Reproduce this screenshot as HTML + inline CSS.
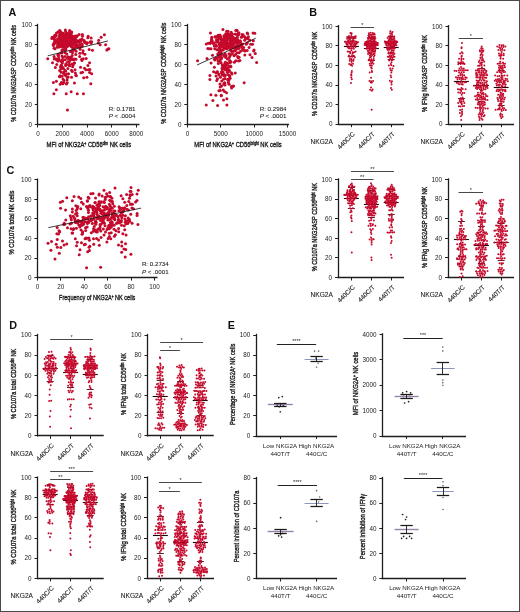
<!DOCTYPE html>
<html><head><meta charset="utf-8"><style>
html,body{margin:0;padding:0;background:#fff;}
svg{display:block;will-change:transform;font-family:"Liberation Sans", sans-serif;}
</style></head><body>
<svg width="520" height="612" viewBox="0 0 520 612">
<rect x="0.5" y="0.5" width="519" height="611" fill="#fff" stroke="#4a4a4a" stroke-width="1"/>
<text x="8.6" y="15.8" font-size="10.8" fill="#111" text-anchor="start" font-weight="bold">A</text>
<text x="309.2" y="15.9" font-size="10.8" fill="#111" text-anchor="start" font-weight="bold">B</text>
<text x="6.4" y="174.2" font-size="10.8" fill="#111" text-anchor="start" font-weight="bold">C</text>
<text x="9.3" y="329.1" font-size="10.8" fill="#111" text-anchor="start" font-weight="bold">D</text>
<text x="227.7" y="328.8" font-size="10.8" fill="#111" text-anchor="start" font-weight="bold">E</text>
<line x1="37.5" y1="23.8" x2="37.5" y2="125.1" stroke="#1e1e1e" stroke-width="1.3"/>
<line x1="34.8" y1="124.5" x2="37.8" y2="124.5" stroke="#1e1e1e" stroke-width="1.0"/>
<text x="31.9" y="126.75" font-size="6.3" fill="#1c1c1c" text-anchor="end">0</text>
<line x1="34.8" y1="104.5" x2="37.8" y2="104.5" stroke="#1e1e1e" stroke-width="1.0"/>
<text x="31.9" y="106.85" font-size="6.3" fill="#1c1c1c" text-anchor="end">20</text>
<line x1="34.8" y1="84.5" x2="37.8" y2="84.5" stroke="#1e1e1e" stroke-width="1.0"/>
<text x="31.9" y="86.95" font-size="6.3" fill="#1c1c1c" text-anchor="end">40</text>
<line x1="34.8" y1="64.5" x2="37.8" y2="64.5" stroke="#1e1e1e" stroke-width="1.0"/>
<text x="31.9" y="67.05" font-size="6.3" fill="#1c1c1c" text-anchor="end">60</text>
<line x1="34.8" y1="44.5" x2="37.8" y2="44.5" stroke="#1e1e1e" stroke-width="1.0"/>
<text x="31.9" y="47.15" font-size="6.3" fill="#1c1c1c" text-anchor="end">80</text>
<line x1="34.8" y1="25.5" x2="37.8" y2="25.5" stroke="#1e1e1e" stroke-width="1.0"/>
<text x="31.9" y="27.25" font-size="6.3" fill="#1c1c1c" text-anchor="end">100</text>
<line x1="37.2" y1="124.5" x2="139.5" y2="124.5" stroke="#1e1e1e" stroke-width="1.3"/>
<line x1="37.5" y1="124.5" x2="37.5" y2="127.5" stroke="#1e1e1e" stroke-width="1.0"/>
<text x="37.9" y="135.85" font-size="6.3" fill="#1c1c1c" text-anchor="middle">0</text>
<line x1="62.5" y1="124.5" x2="62.5" y2="127.5" stroke="#1e1e1e" stroke-width="1.0"/>
<text x="62.5" y="135.85" font-size="6.3" fill="#1c1c1c" text-anchor="middle">2000</text>
<line x1="87.5" y1="124.5" x2="87.5" y2="127.5" stroke="#1e1e1e" stroke-width="1.0"/>
<text x="87.1" y="135.85" font-size="6.3" fill="#1c1c1c" text-anchor="middle">4000</text>
<line x1="111.5" y1="124.5" x2="111.5" y2="127.5" stroke="#1e1e1e" stroke-width="1.0"/>
<text x="111.7" y="135.85" font-size="6.3" fill="#1c1c1c" text-anchor="middle">6000</text>
<line x1="136.5" y1="124.5" x2="136.5" y2="127.5" stroke="#1e1e1e" stroke-width="1.0"/>
<text x="136.3" y="135.85" font-size="6.3" fill="#1c1c1c" text-anchor="middle">8000</text>
<circle cx="57.46" cy="39.04" r="1.5" fill="#c40a2c"/>
<circle cx="73.29" cy="43.47" r="1.5" fill="#c40a2c"/>
<circle cx="56.71" cy="41.25" r="1.5" fill="#c40a2c"/>
<circle cx="69.6" cy="35.46" r="1.5" fill="#c40a2c"/>
<circle cx="57.52" cy="47.35" r="1.5" fill="#c40a2c"/>
<circle cx="71.23" cy="38.56" r="1.5" fill="#c40a2c"/>
<circle cx="77.13" cy="36.03" r="1.5" fill="#c40a2c"/>
<circle cx="65.46" cy="42.28" r="1.5" fill="#c40a2c"/>
<circle cx="84.53" cy="42.36" r="1.5" fill="#c40a2c"/>
<circle cx="60.59" cy="46.58" r="1.5" fill="#c40a2c"/>
<circle cx="66.87" cy="40.2" r="1.5" fill="#c40a2c"/>
<circle cx="63.73" cy="41.23" r="1.5" fill="#c40a2c"/>
<circle cx="68.14" cy="37.48" r="1.5" fill="#c40a2c"/>
<circle cx="74.01" cy="39.88" r="1.5" fill="#c40a2c"/>
<circle cx="53.42" cy="37.43" r="1.5" fill="#c40a2c"/>
<circle cx="56.06" cy="41.77" r="1.5" fill="#c40a2c"/>
<circle cx="55.68" cy="40.91" r="1.5" fill="#c40a2c"/>
<circle cx="60.64" cy="39.86" r="1.5" fill="#c40a2c"/>
<circle cx="65.84" cy="36.73" r="1.5" fill="#c40a2c"/>
<circle cx="56.75" cy="42.35" r="1.5" fill="#c40a2c"/>
<circle cx="70.92" cy="41.38" r="1.5" fill="#c40a2c"/>
<circle cx="68.83" cy="40.41" r="1.5" fill="#c40a2c"/>
<circle cx="59.01" cy="38.12" r="1.5" fill="#c40a2c"/>
<circle cx="60.4" cy="31.61" r="1.5" fill="#c40a2c"/>
<circle cx="62.59" cy="37.51" r="1.5" fill="#c40a2c"/>
<circle cx="66.21" cy="36.18" r="1.5" fill="#c40a2c"/>
<circle cx="61.89" cy="35.95" r="1.5" fill="#c40a2c"/>
<circle cx="65.31" cy="34.64" r="1.5" fill="#c40a2c"/>
<circle cx="70.64" cy="40.22" r="1.5" fill="#c40a2c"/>
<circle cx="60.62" cy="37.1" r="1.5" fill="#c40a2c"/>
<circle cx="69.53" cy="32.75" r="1.5" fill="#c40a2c"/>
<circle cx="63.5" cy="38.16" r="1.5" fill="#c40a2c"/>
<circle cx="69.81" cy="39.51" r="1.5" fill="#c40a2c"/>
<circle cx="67.68" cy="40.01" r="1.5" fill="#c40a2c"/>
<circle cx="61.92" cy="45.97" r="1.5" fill="#c40a2c"/>
<circle cx="63.36" cy="37.98" r="1.5" fill="#c40a2c"/>
<circle cx="76.97" cy="36.06" r="1.5" fill="#c40a2c"/>
<circle cx="73.7" cy="37.05" r="1.5" fill="#c40a2c"/>
<circle cx="71.17" cy="40.01" r="1.5" fill="#c40a2c"/>
<circle cx="71.69" cy="32.1" r="1.5" fill="#c40a2c"/>
<circle cx="63.85" cy="44.37" r="1.5" fill="#c40a2c"/>
<circle cx="80.17" cy="39.7" r="1.5" fill="#c40a2c"/>
<circle cx="73.12" cy="36.57" r="1.5" fill="#c40a2c"/>
<circle cx="58.09" cy="32.09" r="1.5" fill="#c40a2c"/>
<circle cx="67.45" cy="37.18" r="1.5" fill="#c40a2c"/>
<circle cx="67.1" cy="45.32" r="1.5" fill="#c40a2c"/>
<circle cx="65.39" cy="39.06" r="1.5" fill="#c40a2c"/>
<circle cx="74.15" cy="37.39" r="1.5" fill="#c40a2c"/>
<circle cx="66.61" cy="34.18" r="1.5" fill="#c40a2c"/>
<circle cx="60.76" cy="36.98" r="1.5" fill="#c40a2c"/>
<circle cx="74.12" cy="42.37" r="1.5" fill="#c40a2c"/>
<circle cx="53.42" cy="45.43" r="1.5" fill="#c40a2c"/>
<circle cx="67.88" cy="38.29" r="1.5" fill="#c40a2c"/>
<circle cx="77.23" cy="45.92" r="1.5" fill="#c40a2c"/>
<circle cx="66.2" cy="37.69" r="1.5" fill="#c40a2c"/>
<circle cx="65.07" cy="52.71" r="1.5" fill="#c40a2c"/>
<circle cx="71.94" cy="35.92" r="1.5" fill="#c40a2c"/>
<circle cx="59.65" cy="42.97" r="1.5" fill="#c40a2c"/>
<circle cx="67.77" cy="37.85" r="1.5" fill="#c40a2c"/>
<circle cx="67" cy="33.17" r="1.5" fill="#c40a2c"/>
<circle cx="65.61" cy="31.66" r="1.5" fill="#c40a2c"/>
<circle cx="61.3" cy="43.28" r="1.5" fill="#c40a2c"/>
<circle cx="71.33" cy="33.83" r="1.5" fill="#c40a2c"/>
<circle cx="70.86" cy="39.42" r="1.5" fill="#c40a2c"/>
<circle cx="53.19" cy="44.47" r="1.5" fill="#c40a2c"/>
<circle cx="61.83" cy="43.57" r="1.5" fill="#c40a2c"/>
<circle cx="70.37" cy="42.59" r="1.5" fill="#c40a2c"/>
<circle cx="71.81" cy="40.51" r="1.5" fill="#c40a2c"/>
<circle cx="63.82" cy="40.33" r="1.5" fill="#c40a2c"/>
<circle cx="69.25" cy="36.65" r="1.5" fill="#c40a2c"/>
<circle cx="62.78" cy="42.08" r="1.5" fill="#c40a2c"/>
<circle cx="56.46" cy="32.94" r="1.5" fill="#c40a2c"/>
<circle cx="76.55" cy="41.81" r="1.5" fill="#c40a2c"/>
<circle cx="62.78" cy="47.07" r="1.5" fill="#c40a2c"/>
<circle cx="67.4" cy="39.89" r="1.5" fill="#c40a2c"/>
<circle cx="81.75" cy="39.69" r="1.5" fill="#c40a2c"/>
<circle cx="60.64" cy="53.08" r="1.5" fill="#c40a2c"/>
<circle cx="76.24" cy="39.98" r="1.5" fill="#c40a2c"/>
<circle cx="54.71" cy="40.02" r="1.5" fill="#c40a2c"/>
<circle cx="54.71" cy="35.35" r="1.5" fill="#c40a2c"/>
<circle cx="70.27" cy="41.79" r="1.5" fill="#c40a2c"/>
<circle cx="65.29" cy="48.65" r="1.5" fill="#c40a2c"/>
<circle cx="70.44" cy="51.56" r="1.5" fill="#c40a2c"/>
<circle cx="59.71" cy="34.85" r="1.5" fill="#c40a2c"/>
<circle cx="77.92" cy="46.8" r="1.5" fill="#c40a2c"/>
<circle cx="55.25" cy="36.55" r="1.5" fill="#c40a2c"/>
<circle cx="72.28" cy="45.83" r="1.5" fill="#c40a2c"/>
<circle cx="61.24" cy="44.37" r="1.5" fill="#c40a2c"/>
<circle cx="57.7" cy="44.3" r="1.5" fill="#c40a2c"/>
<circle cx="75.11" cy="37.49" r="1.5" fill="#c40a2c"/>
<circle cx="80.86" cy="41.35" r="1.5" fill="#c40a2c"/>
<circle cx="65.22" cy="45.81" r="1.5" fill="#c40a2c"/>
<circle cx="65.31" cy="47.45" r="1.5" fill="#c40a2c"/>
<circle cx="53.51" cy="37.45" r="1.5" fill="#c40a2c"/>
<circle cx="76.46" cy="36.76" r="1.5" fill="#c40a2c"/>
<circle cx="75.7" cy="39.66" r="1.5" fill="#c40a2c"/>
<circle cx="61.07" cy="40.49" r="1.5" fill="#c40a2c"/>
<circle cx="63.52" cy="46.45" r="1.5" fill="#c40a2c"/>
<circle cx="54.12" cy="48.3" r="1.5" fill="#c40a2c"/>
<circle cx="66.15" cy="40.17" r="1.5" fill="#c40a2c"/>
<circle cx="62.8" cy="33.81" r="1.5" fill="#c40a2c"/>
<circle cx="67.47" cy="38.02" r="1.5" fill="#c40a2c"/>
<circle cx="74.88" cy="45" r="1.5" fill="#c40a2c"/>
<circle cx="52.14" cy="37.18" r="1.5" fill="#c40a2c"/>
<circle cx="61.28" cy="34.4" r="1.5" fill="#c40a2c"/>
<circle cx="68.6" cy="35.91" r="1.5" fill="#c40a2c"/>
<circle cx="71.64" cy="51.27" r="1.5" fill="#c40a2c"/>
<circle cx="71.32" cy="44.27" r="1.5" fill="#c40a2c"/>
<circle cx="60.8" cy="43.08" r="1.5" fill="#c40a2c"/>
<circle cx="71.67" cy="36.52" r="1.5" fill="#c40a2c"/>
<circle cx="73.4" cy="49.18" r="1.5" fill="#c40a2c"/>
<circle cx="61.98" cy="52.74" r="1.5" fill="#c40a2c"/>
<circle cx="65.46" cy="37.93" r="1.5" fill="#c40a2c"/>
<circle cx="60.74" cy="39.7" r="1.5" fill="#c40a2c"/>
<circle cx="67.84" cy="35.91" r="1.5" fill="#c40a2c"/>
<circle cx="60.33" cy="45.04" r="1.5" fill="#c40a2c"/>
<circle cx="60.74" cy="32.2" r="1.5" fill="#c40a2c"/>
<circle cx="73.97" cy="41.54" r="1.5" fill="#c40a2c"/>
<circle cx="67.8" cy="40.35" r="1.5" fill="#c40a2c"/>
<circle cx="67.64" cy="41.96" r="1.5" fill="#c40a2c"/>
<circle cx="63.81" cy="47.17" r="1.5" fill="#c40a2c"/>
<circle cx="61.61" cy="32.71" r="1.5" fill="#c40a2c"/>
<circle cx="70.02" cy="40.6" r="1.5" fill="#c40a2c"/>
<circle cx="64.66" cy="40.61" r="1.5" fill="#c40a2c"/>
<circle cx="68.71" cy="44.13" r="1.5" fill="#c40a2c"/>
<circle cx="67.59" cy="39.73" r="1.5" fill="#c40a2c"/>
<circle cx="60.85" cy="44.85" r="1.5" fill="#c40a2c"/>
<circle cx="59.06" cy="46.21" r="1.5" fill="#c40a2c"/>
<circle cx="72.54" cy="52.66" r="1.5" fill="#c40a2c"/>
<circle cx="64.29" cy="43.96" r="1.5" fill="#c40a2c"/>
<circle cx="61.77" cy="40.43" r="1.5" fill="#c40a2c"/>
<circle cx="74.24" cy="40.54" r="1.5" fill="#c40a2c"/>
<circle cx="65.19" cy="43.97" r="1.5" fill="#c40a2c"/>
<circle cx="65.27" cy="36.38" r="1.5" fill="#c40a2c"/>
<circle cx="63.38" cy="46.62" r="1.5" fill="#c40a2c"/>
<circle cx="57.17" cy="46.43" r="1.5" fill="#c40a2c"/>
<circle cx="56.27" cy="35.45" r="1.5" fill="#c40a2c"/>
<circle cx="68.72" cy="42.1" r="1.5" fill="#c40a2c"/>
<circle cx="76.6" cy="44.19" r="1.5" fill="#c40a2c"/>
<circle cx="71.56" cy="36.94" r="1.5" fill="#c40a2c"/>
<circle cx="55.16" cy="48.67" r="1.5" fill="#c40a2c"/>
<circle cx="59.57" cy="36.41" r="1.5" fill="#c40a2c"/>
<circle cx="75.44" cy="47.03" r="1.5" fill="#c40a2c"/>
<circle cx="73.67" cy="42.83" r="1.5" fill="#c40a2c"/>
<circle cx="63.38" cy="43.66" r="1.5" fill="#c40a2c"/>
<circle cx="63.88" cy="49.97" r="1.5" fill="#c40a2c"/>
<circle cx="59.05" cy="47.07" r="1.5" fill="#c40a2c"/>
<circle cx="69.69" cy="30.53" r="1.5" fill="#c40a2c"/>
<circle cx="85.68" cy="42.59" r="1.5" fill="#c40a2c"/>
<circle cx="53.91" cy="42.95" r="1.5" fill="#c40a2c"/>
<circle cx="59.49" cy="31.05" r="1.5" fill="#c40a2c"/>
<circle cx="70.26" cy="44.55" r="1.5" fill="#c40a2c"/>
<circle cx="72.87" cy="38.25" r="1.5" fill="#c40a2c"/>
<circle cx="54.6" cy="43.56" r="1.5" fill="#c40a2c"/>
<circle cx="64.48" cy="40.83" r="1.5" fill="#c40a2c"/>
<circle cx="67.13" cy="42.61" r="1.5" fill="#c40a2c"/>
<circle cx="67.54" cy="43.84" r="1.5" fill="#c40a2c"/>
<circle cx="59.79" cy="33.38" r="1.5" fill="#c40a2c"/>
<circle cx="68.76" cy="38.74" r="1.5" fill="#c40a2c"/>
<circle cx="54.81" cy="41.75" r="1.5" fill="#c40a2c"/>
<circle cx="72.03" cy="47.34" r="1.5" fill="#c40a2c"/>
<circle cx="74.02" cy="42.86" r="1.5" fill="#c40a2c"/>
<circle cx="69.06" cy="41.58" r="1.5" fill="#c40a2c"/>
<circle cx="67.75" cy="34.93" r="1.5" fill="#c40a2c"/>
<circle cx="63.31" cy="33.14" r="1.5" fill="#c40a2c"/>
<circle cx="60.61" cy="45.56" r="1.5" fill="#c40a2c"/>
<circle cx="71.26" cy="46.22" r="1.5" fill="#c40a2c"/>
<circle cx="63.55" cy="36.41" r="1.5" fill="#c40a2c"/>
<circle cx="74.83" cy="49.75" r="1.5" fill="#c40a2c"/>
<circle cx="69.8" cy="31.55" r="1.5" fill="#c40a2c"/>
<circle cx="74.71" cy="42.11" r="1.5" fill="#c40a2c"/>
<circle cx="61.91" cy="42.4" r="1.5" fill="#c40a2c"/>
<circle cx="57.97" cy="42.24" r="1.5" fill="#c40a2c"/>
<circle cx="64.85" cy="41.64" r="1.5" fill="#c40a2c"/>
<circle cx="74.63" cy="42.07" r="1.5" fill="#c40a2c"/>
<circle cx="55.79" cy="35.69" r="1.5" fill="#c40a2c"/>
<circle cx="58.54" cy="43.15" r="1.5" fill="#c40a2c"/>
<circle cx="65.24" cy="42.63" r="1.5" fill="#c40a2c"/>
<circle cx="59.03" cy="42.16" r="1.5" fill="#c40a2c"/>
<circle cx="81.77" cy="43.94" r="1.5" fill="#c40a2c"/>
<circle cx="65.22" cy="35.33" r="1.5" fill="#c40a2c"/>
<circle cx="71.5" cy="37.12" r="1.5" fill="#c40a2c"/>
<circle cx="72.34" cy="50.71" r="1.5" fill="#c40a2c"/>
<circle cx="60.03" cy="40.28" r="1.5" fill="#c40a2c"/>
<circle cx="69.75" cy="34.48" r="1.5" fill="#c40a2c"/>
<circle cx="69.54" cy="42.11" r="1.5" fill="#c40a2c"/>
<circle cx="66.47" cy="41.97" r="1.5" fill="#c40a2c"/>
<circle cx="67.95" cy="37.57" r="1.5" fill="#c40a2c"/>
<circle cx="63.77" cy="44.97" r="1.5" fill="#c40a2c"/>
<circle cx="60.09" cy="35.46" r="1.5" fill="#c40a2c"/>
<circle cx="75.33" cy="35.98" r="1.5" fill="#c40a2c"/>
<circle cx="72.3" cy="36.77" r="1.5" fill="#c40a2c"/>
<circle cx="66.17" cy="37.62" r="1.5" fill="#c40a2c"/>
<circle cx="58.68" cy="41.93" r="1.5" fill="#c40a2c"/>
<circle cx="60.96" cy="37.3" r="1.5" fill="#c40a2c"/>
<circle cx="62.05" cy="41.46" r="1.5" fill="#c40a2c"/>
<circle cx="69.05" cy="34.18" r="1.5" fill="#c40a2c"/>
<circle cx="60.54" cy="45.59" r="1.5" fill="#c40a2c"/>
<circle cx="72.02" cy="46.42" r="1.5" fill="#c40a2c"/>
<circle cx="69.42" cy="43.76" r="1.5" fill="#c40a2c"/>
<circle cx="65.44" cy="49.98" r="1.5" fill="#c40a2c"/>
<circle cx="71.28" cy="43.41" r="1.5" fill="#c40a2c"/>
<circle cx="59.78" cy="30.59" r="1.5" fill="#c40a2c"/>
<circle cx="71.27" cy="38.89" r="1.5" fill="#c40a2c"/>
<circle cx="63.71" cy="40.38" r="1.5" fill="#c40a2c"/>
<circle cx="77.65" cy="41.05" r="1.5" fill="#c40a2c"/>
<circle cx="69.41" cy="38.35" r="1.5" fill="#c40a2c"/>
<circle cx="59.7" cy="40.28" r="1.5" fill="#c40a2c"/>
<circle cx="62.6" cy="47.12" r="1.5" fill="#c40a2c"/>
<circle cx="72.41" cy="37.61" r="1.5" fill="#c40a2c"/>
<circle cx="66.72" cy="45.43" r="1.5" fill="#c40a2c"/>
<circle cx="51.88" cy="38.5" r="1.5" fill="#c40a2c"/>
<circle cx="65.49" cy="49.3" r="1.5" fill="#c40a2c"/>
<circle cx="65.76" cy="48.49" r="1.5" fill="#c40a2c"/>
<circle cx="66" cy="40.21" r="1.5" fill="#c40a2c"/>
<circle cx="68.72" cy="39.84" r="1.5" fill="#c40a2c"/>
<circle cx="67.41" cy="46.59" r="1.5" fill="#c40a2c"/>
<circle cx="63.45" cy="43.46" r="1.5" fill="#c40a2c"/>
<circle cx="64.51" cy="39.58" r="1.5" fill="#c40a2c"/>
<circle cx="70.61" cy="32.79" r="1.5" fill="#c40a2c"/>
<circle cx="69.05" cy="41.91" r="1.5" fill="#c40a2c"/>
<circle cx="82.43" cy="36.28" r="1.5" fill="#c40a2c"/>
<circle cx="54.4" cy="38.92" r="1.5" fill="#c40a2c"/>
<circle cx="62.48" cy="35.98" r="1.5" fill="#c40a2c"/>
<circle cx="58.66" cy="41.43" r="1.5" fill="#c40a2c"/>
<circle cx="65.25" cy="41.4" r="1.5" fill="#c40a2c"/>
<circle cx="62.02" cy="50.06" r="1.5" fill="#c40a2c"/>
<circle cx="69.47" cy="35.95" r="1.5" fill="#c40a2c"/>
<circle cx="65.7" cy="45.98" r="1.5" fill="#c40a2c"/>
<circle cx="67.64" cy="38.11" r="1.5" fill="#c40a2c"/>
<circle cx="64.94" cy="40.99" r="1.5" fill="#c40a2c"/>
<circle cx="76.24" cy="46.49" r="1.5" fill="#c40a2c"/>
<circle cx="62.21" cy="50.4" r="1.5" fill="#c40a2c"/>
<circle cx="61.2" cy="44.6" r="1.5" fill="#c40a2c"/>
<circle cx="59.34" cy="44.37" r="1.5" fill="#c40a2c"/>
<circle cx="79.01" cy="41.9" r="1.5" fill="#c40a2c"/>
<circle cx="65.37" cy="29.98" r="1.5" fill="#c40a2c"/>
<circle cx="65.76" cy="49.55" r="1.5" fill="#c40a2c"/>
<circle cx="69.07" cy="45.58" r="1.5" fill="#c40a2c"/>
<circle cx="77.88" cy="47.12" r="1.5" fill="#c40a2c"/>
<circle cx="90.26" cy="41.81" r="1.5" fill="#c40a2c"/>
<circle cx="82.76" cy="53.01" r="1.5" fill="#c40a2c"/>
<circle cx="91.15" cy="37.98" r="1.5" fill="#c40a2c"/>
<circle cx="84.2" cy="40.57" r="1.5" fill="#c40a2c"/>
<circle cx="73.73" cy="48.16" r="1.5" fill="#c40a2c"/>
<circle cx="88.18" cy="36.2" r="1.5" fill="#c40a2c"/>
<circle cx="79.14" cy="34.6" r="1.5" fill="#c40a2c"/>
<circle cx="81.29" cy="45.92" r="1.5" fill="#c40a2c"/>
<circle cx="89.2" cy="49.59" r="1.5" fill="#c40a2c"/>
<circle cx="82.4" cy="46.03" r="1.5" fill="#c40a2c"/>
<circle cx="108.87" cy="48.72" r="1.5" fill="#c40a2c"/>
<circle cx="92.47" cy="50.14" r="1.5" fill="#c40a2c"/>
<circle cx="104.39" cy="34.74" r="1.5" fill="#c40a2c"/>
<circle cx="91.68" cy="41.73" r="1.5" fill="#c40a2c"/>
<circle cx="79.62" cy="44.48" r="1.5" fill="#c40a2c"/>
<circle cx="78.43" cy="41.8" r="1.5" fill="#c40a2c"/>
<circle cx="82.1" cy="39.21" r="1.5" fill="#c40a2c"/>
<circle cx="98.69" cy="40.28" r="1.5" fill="#c40a2c"/>
<circle cx="86.2" cy="58.49" r="1.5" fill="#c40a2c"/>
<circle cx="86.66" cy="43.68" r="1.5" fill="#c40a2c"/>
<circle cx="106.84" cy="49.94" r="1.5" fill="#c40a2c"/>
<circle cx="76.06" cy="51.2" r="1.5" fill="#c40a2c"/>
<circle cx="87.45" cy="42.8" r="1.5" fill="#c40a2c"/>
<circle cx="100.16" cy="44.72" r="1.5" fill="#c40a2c"/>
<circle cx="77.75" cy="46.49" r="1.5" fill="#c40a2c"/>
<circle cx="84.84" cy="42.27" r="1.5" fill="#c40a2c"/>
<circle cx="87.82" cy="37.73" r="1.5" fill="#c40a2c"/>
<circle cx="83.09" cy="50.85" r="1.5" fill="#c40a2c"/>
<circle cx="81.88" cy="44.26" r="1.5" fill="#c40a2c"/>
<circle cx="80.21" cy="47.21" r="1.5" fill="#c40a2c"/>
<circle cx="80.16" cy="49.25" r="1.5" fill="#c40a2c"/>
<circle cx="90.95" cy="43.2" r="1.5" fill="#c40a2c"/>
<circle cx="79.39" cy="41.95" r="1.5" fill="#c40a2c"/>
<circle cx="75.13" cy="37.37" r="1.5" fill="#c40a2c"/>
<circle cx="82.41" cy="34.58" r="1.5" fill="#c40a2c"/>
<circle cx="98.24" cy="42.93" r="1.5" fill="#c40a2c"/>
<circle cx="105.6" cy="44.83" r="1.5" fill="#c40a2c"/>
<circle cx="101.14" cy="37.13" r="1.5" fill="#c40a2c"/>
<circle cx="83.29" cy="58.81" r="1.5" fill="#c40a2c"/>
<circle cx="79.37" cy="40.66" r="1.5" fill="#c40a2c"/>
<circle cx="62.59" cy="60.71" r="1.5" fill="#c40a2c"/>
<circle cx="68.74" cy="58.63" r="1.5" fill="#c40a2c"/>
<circle cx="62.25" cy="63.04" r="1.5" fill="#c40a2c"/>
<circle cx="62.9" cy="67.49" r="1.5" fill="#c40a2c"/>
<circle cx="65.61" cy="65.49" r="1.5" fill="#c40a2c"/>
<circle cx="67.12" cy="79.99" r="1.5" fill="#c40a2c"/>
<circle cx="55.38" cy="67.5" r="1.5" fill="#c40a2c"/>
<circle cx="68.55" cy="73.81" r="1.5" fill="#c40a2c"/>
<circle cx="58.71" cy="59.47" r="1.5" fill="#c40a2c"/>
<circle cx="61.41" cy="65.42" r="1.5" fill="#c40a2c"/>
<circle cx="81.97" cy="60.45" r="1.5" fill="#c40a2c"/>
<circle cx="64.71" cy="74.73" r="1.5" fill="#c40a2c"/>
<circle cx="75.94" cy="59.33" r="1.5" fill="#c40a2c"/>
<circle cx="74.51" cy="63.02" r="1.5" fill="#c40a2c"/>
<circle cx="61.49" cy="61.58" r="1.5" fill="#c40a2c"/>
<circle cx="69.2" cy="64.53" r="1.5" fill="#c40a2c"/>
<circle cx="56.78" cy="60.02" r="1.5" fill="#c40a2c"/>
<circle cx="59.65" cy="76.77" r="1.5" fill="#c40a2c"/>
<circle cx="65.09" cy="56.56" r="1.5" fill="#c40a2c"/>
<circle cx="66.38" cy="84.1" r="1.5" fill="#c40a2c"/>
<circle cx="63.61" cy="73.48" r="1.5" fill="#c40a2c"/>
<circle cx="56.38" cy="81.25" r="1.5" fill="#c40a2c"/>
<circle cx="69.32" cy="65.13" r="1.5" fill="#c40a2c"/>
<circle cx="67.59" cy="61.79" r="1.5" fill="#c40a2c"/>
<circle cx="66.25" cy="64.9" r="1.5" fill="#c40a2c"/>
<circle cx="60.44" cy="66.85" r="1.5" fill="#c40a2c"/>
<circle cx="60.08" cy="75.87" r="1.5" fill="#c40a2c"/>
<circle cx="58.64" cy="58.17" r="1.5" fill="#c40a2c"/>
<circle cx="74.43" cy="83.09" r="1.5" fill="#c40a2c"/>
<circle cx="74.11" cy="63.05" r="1.5" fill="#c40a2c"/>
<circle cx="73.53" cy="59.68" r="1.5" fill="#c40a2c"/>
<circle cx="66.62" cy="73.97" r="1.5" fill="#c40a2c"/>
<circle cx="72.01" cy="58.78" r="1.5" fill="#c40a2c"/>
<circle cx="58.14" cy="54.19" r="1.5" fill="#c40a2c"/>
<circle cx="72.32" cy="71.55" r="1.5" fill="#c40a2c"/>
<circle cx="54.08" cy="56.45" r="1.5" fill="#c40a2c"/>
<circle cx="61.53" cy="68.31" r="1.5" fill="#c40a2c"/>
<circle cx="62.84" cy="57.4" r="1.5" fill="#c40a2c"/>
<circle cx="67.24" cy="82.8" r="1.5" fill="#c40a2c"/>
<circle cx="72.66" cy="66.67" r="1.5" fill="#c40a2c"/>
<circle cx="69.38" cy="61.57" r="1.5" fill="#c40a2c"/>
<circle cx="61.36" cy="82.97" r="1.5" fill="#c40a2c"/>
<circle cx="76.31" cy="75.76" r="1.5" fill="#c40a2c"/>
<circle cx="63.47" cy="72.29" r="1.5" fill="#c40a2c"/>
<circle cx="62.54" cy="60.66" r="1.5" fill="#c40a2c"/>
<circle cx="63.02" cy="79" r="1.5" fill="#c40a2c"/>
<circle cx="59.69" cy="70.47" r="1.5" fill="#c40a2c"/>
<circle cx="63.97" cy="80.38" r="1.5" fill="#c40a2c"/>
<circle cx="58.45" cy="61.02" r="1.5" fill="#c40a2c"/>
<circle cx="58.46" cy="55.98" r="1.5" fill="#c40a2c"/>
<circle cx="71.29" cy="58.93" r="1.5" fill="#c40a2c"/>
<circle cx="61.13" cy="72.26" r="1.5" fill="#c40a2c"/>
<circle cx="62.09" cy="56.12" r="1.5" fill="#c40a2c"/>
<circle cx="71.3" cy="57" r="1.5" fill="#c40a2c"/>
<circle cx="65.03" cy="70.22" r="1.5" fill="#c40a2c"/>
<circle cx="71.49" cy="70.3" r="1.5" fill="#c40a2c"/>
<circle cx="59.55" cy="76.54" r="1.5" fill="#c40a2c"/>
<circle cx="69.12" cy="64.56" r="1.5" fill="#c40a2c"/>
<circle cx="67.46" cy="58.21" r="1.5" fill="#c40a2c"/>
<circle cx="56.74" cy="64.58" r="1.5" fill="#c40a2c"/>
<circle cx="70.13" cy="57.28" r="1.5" fill="#c40a2c"/>
<circle cx="75.36" cy="73.1" r="1.5" fill="#c40a2c"/>
<circle cx="73.17" cy="65.07" r="1.5" fill="#c40a2c"/>
<circle cx="66.11" cy="64.46" r="1.5" fill="#c40a2c"/>
<circle cx="74.74" cy="58.9" r="1.5" fill="#c40a2c"/>
<circle cx="62.87" cy="83.85" r="1.5" fill="#c40a2c"/>
<circle cx="53.35" cy="82.42" r="1.5" fill="#c40a2c"/>
<circle cx="61.44" cy="82.58" r="1.5" fill="#c40a2c"/>
<circle cx="63.76" cy="82.38" r="1.5" fill="#c40a2c"/>
<circle cx="62.41" cy="60.19" r="1.5" fill="#c40a2c"/>
<circle cx="62.09" cy="62.43" r="1.5" fill="#c40a2c"/>
<circle cx="65.1" cy="59.75" r="1.5" fill="#c40a2c"/>
<circle cx="69.82" cy="65.67" r="1.5" fill="#c40a2c"/>
<circle cx="65.6" cy="71.13" r="1.5" fill="#c40a2c"/>
<circle cx="58.09" cy="55.13" r="1.5" fill="#c40a2c"/>
<circle cx="61.19" cy="65.25" r="1.5" fill="#c40a2c"/>
<circle cx="57.86" cy="60.75" r="1.5" fill="#c40a2c"/>
<circle cx="60.98" cy="68.82" r="1.5" fill="#c40a2c"/>
<circle cx="69.67" cy="57.85" r="1.5" fill="#c40a2c"/>
<circle cx="55.9" cy="58.86" r="1.5" fill="#c40a2c"/>
<circle cx="72.21" cy="55.48" r="1.5" fill="#c40a2c"/>
<circle cx="52.48" cy="62.65" r="1.5" fill="#c40a2c"/>
<circle cx="54.24" cy="58.94" r="1.5" fill="#c40a2c"/>
<circle cx="63.34" cy="68.49" r="1.5" fill="#c40a2c"/>
<circle cx="61.56" cy="60.29" r="1.5" fill="#c40a2c"/>
<circle cx="66.82" cy="54.07" r="1.5" fill="#c40a2c"/>
<circle cx="62" cy="76.14" r="1.5" fill="#c40a2c"/>
<circle cx="67.9" cy="68.39" r="1.5" fill="#c40a2c"/>
<circle cx="60.2" cy="84.23" r="1.5" fill="#c40a2c"/>
<circle cx="82.55" cy="72.13" r="1.5" fill="#c40a2c"/>
<circle cx="72.43" cy="59.52" r="1.5" fill="#c40a2c"/>
<circle cx="71.53" cy="77.24" r="1.5" fill="#c40a2c"/>
<circle cx="72.01" cy="64.04" r="1.5" fill="#c40a2c"/>
<circle cx="67.87" cy="56.7" r="1.5" fill="#c40a2c"/>
<circle cx="68.18" cy="77.01" r="1.5" fill="#c40a2c"/>
<circle cx="65.71" cy="75.59" r="1.5" fill="#c40a2c"/>
<circle cx="65.96" cy="63.77" r="1.5" fill="#c40a2c"/>
<circle cx="75.86" cy="75.31" r="1.5" fill="#c40a2c"/>
<circle cx="67.18" cy="77.56" r="1.5" fill="#c40a2c"/>
<circle cx="70.1" cy="59.93" r="1.5" fill="#c40a2c"/>
<circle cx="80.55" cy="67.24" r="1.5" fill="#c40a2c"/>
<circle cx="89.88" cy="69.43" r="1.5" fill="#c40a2c"/>
<circle cx="79.61" cy="56.44" r="1.5" fill="#c40a2c"/>
<circle cx="91.67" cy="73.81" r="1.5" fill="#c40a2c"/>
<circle cx="84.9" cy="54.23" r="1.5" fill="#c40a2c"/>
<circle cx="83.7" cy="77.66" r="1.5" fill="#c40a2c"/>
<circle cx="75.72" cy="54.53" r="1.5" fill="#c40a2c"/>
<circle cx="89.59" cy="72.44" r="1.5" fill="#c40a2c"/>
<circle cx="84.53" cy="68.28" r="1.5" fill="#c40a2c"/>
<circle cx="79.87" cy="53.17" r="1.5" fill="#c40a2c"/>
<circle cx="86.93" cy="77.13" r="1.5" fill="#c40a2c"/>
<circle cx="75" cy="69.65" r="1.5" fill="#c40a2c"/>
<circle cx="81.66" cy="59.33" r="1.5" fill="#c40a2c"/>
<circle cx="87.96" cy="65.4" r="1.5" fill="#c40a2c"/>
<circle cx="67.42" cy="110.07" r="1.5" fill="#c40a2c"/>
<circle cx="47.74" cy="58.83" r="1.5" fill="#c40a2c"/>
<circle cx="108.01" cy="48.88" r="1.5" fill="#c40a2c"/>
<circle cx="90.79" cy="83.7" r="1.5" fill="#c40a2c"/>
<circle cx="83.41" cy="93.66" r="1.5" fill="#c40a2c"/>
<circle cx="77.26" cy="93.66" r="1.5" fill="#c40a2c"/>
<circle cx="85.87" cy="69.78" r="1.5" fill="#c40a2c"/>
<circle cx="88.33" cy="69.78" r="1.5" fill="#c40a2c"/>
<circle cx="80.95" cy="72.76" r="1.5" fill="#c40a2c"/>
<circle cx="89.56" cy="62.81" r="1.5" fill="#c40a2c"/>
<circle cx="53.89" cy="93.66" r="1.5" fill="#c40a2c"/>
<circle cx="56.35" cy="89.67" r="1.5" fill="#c40a2c"/>
<circle cx="71.11" cy="91.66" r="1.5" fill="#c40a2c"/>
<circle cx="66.19" cy="93.66" r="1.5" fill="#c40a2c"/>
<line x1="47.74" y1="55.84" x2="108.01" y2="40.92" stroke="#1a1a1a" stroke-width="0.85"/>
<text x="108.7" y="110.7" font-size="6.2" fill="#1c1c1c" text-anchor="start" stroke="#1c1c1c" stroke-width="0.08">R: 0.1781</text>
<text x="108.7" y="118.3" font-size="6.2" fill="#1c1c1c" text-anchor="start" stroke="#1c1c1c" stroke-width="0.08"><tspan font-style="italic">P</tspan> &lt; .0004</text>
<text x="15.92" y="73.3" font-size="8.1" fill="#1c1c1c" text-anchor="middle" stroke="#1c1c1c" stroke-width="0.38" textLength="96.8" lengthAdjust="spacingAndGlyphs" transform="rotate(-90 15.92 73.3)">% CD107a NKG2ASP CD56<tspan baseline-shift="super" font-size="4.6">dim</tspan> NK cells</text>
<text x="88.8" y="146.82" font-size="8.1" fill="#1c1c1c" text-anchor="middle" stroke="#1c1c1c" stroke-width="0.38" textLength="84.5" lengthAdjust="spacingAndGlyphs">MFI of NKG2A<tspan baseline-shift="super" font-size="4.6">+</tspan> CD56<tspan baseline-shift="super" font-size="4.6">dim</tspan> NK cells</text>
<line x1="187.5" y1="23.8" x2="187.5" y2="125.1" stroke="#1e1e1e" stroke-width="1.3"/>
<line x1="184.3" y1="124.5" x2="187.3" y2="124.5" stroke="#1e1e1e" stroke-width="1.0"/>
<text x="181.4" y="126.75" font-size="6.3" fill="#1c1c1c" text-anchor="end">0</text>
<line x1="184.3" y1="104.5" x2="187.3" y2="104.5" stroke="#1e1e1e" stroke-width="1.0"/>
<text x="181.4" y="106.85" font-size="6.3" fill="#1c1c1c" text-anchor="end">20</text>
<line x1="184.3" y1="84.5" x2="187.3" y2="84.5" stroke="#1e1e1e" stroke-width="1.0"/>
<text x="181.4" y="86.95" font-size="6.3" fill="#1c1c1c" text-anchor="end">40</text>
<line x1="184.3" y1="64.5" x2="187.3" y2="64.5" stroke="#1e1e1e" stroke-width="1.0"/>
<text x="181.4" y="67.05" font-size="6.3" fill="#1c1c1c" text-anchor="end">60</text>
<line x1="184.3" y1="44.5" x2="187.3" y2="44.5" stroke="#1e1e1e" stroke-width="1.0"/>
<text x="181.4" y="47.15" font-size="6.3" fill="#1c1c1c" text-anchor="end">80</text>
<line x1="184.3" y1="25.5" x2="187.3" y2="25.5" stroke="#1e1e1e" stroke-width="1.0"/>
<text x="181.4" y="27.25" font-size="6.3" fill="#1c1c1c" text-anchor="end">100</text>
<line x1="186.7" y1="124.5" x2="289" y2="124.5" stroke="#1e1e1e" stroke-width="1.3"/>
<line x1="187.5" y1="124.5" x2="187.5" y2="127.5" stroke="#1e1e1e" stroke-width="1.0"/>
<text x="187.6" y="135.85" font-size="6.3" fill="#1c1c1c" text-anchor="middle">0</text>
<line x1="220.5" y1="124.5" x2="220.5" y2="127.5" stroke="#1e1e1e" stroke-width="1.0"/>
<text x="220.87" y="135.85" font-size="6.3" fill="#1c1c1c" text-anchor="middle">5000</text>
<line x1="254.5" y1="124.5" x2="254.5" y2="127.5" stroke="#1e1e1e" stroke-width="1.0"/>
<text x="254.14" y="135.85" font-size="6.3" fill="#1c1c1c" text-anchor="middle">10000</text>
<line x1="287.5" y1="124.5" x2="287.5" y2="127.5" stroke="#1e1e1e" stroke-width="1.0"/>
<text x="287.41" y="135.85" font-size="6.3" fill="#1c1c1c" text-anchor="middle">15000</text>
<circle cx="231.5" cy="39.75" r="1.5" fill="#c40a2c"/>
<circle cx="224.7" cy="38.4" r="1.5" fill="#c40a2c"/>
<circle cx="236.65" cy="48.62" r="1.5" fill="#c40a2c"/>
<circle cx="206.97" cy="58.38" r="1.5" fill="#c40a2c"/>
<circle cx="226.87" cy="34.95" r="1.5" fill="#c40a2c"/>
<circle cx="238.53" cy="33.91" r="1.5" fill="#c40a2c"/>
<circle cx="247.33" cy="42.81" r="1.5" fill="#c40a2c"/>
<circle cx="239.08" cy="52.8" r="1.5" fill="#c40a2c"/>
<circle cx="235.3" cy="40.37" r="1.5" fill="#c40a2c"/>
<circle cx="227.22" cy="45.77" r="1.5" fill="#c40a2c"/>
<circle cx="216.68" cy="42" r="1.5" fill="#c40a2c"/>
<circle cx="241.37" cy="45.28" r="1.5" fill="#c40a2c"/>
<circle cx="233.67" cy="47.21" r="1.5" fill="#c40a2c"/>
<circle cx="230.81" cy="49.42" r="1.5" fill="#c40a2c"/>
<circle cx="232.09" cy="44.32" r="1.5" fill="#c40a2c"/>
<circle cx="231.44" cy="46.83" r="1.5" fill="#c40a2c"/>
<circle cx="216.06" cy="45.04" r="1.5" fill="#c40a2c"/>
<circle cx="238.88" cy="32.7" r="1.5" fill="#c40a2c"/>
<circle cx="224.84" cy="37.74" r="1.5" fill="#c40a2c"/>
<circle cx="236.01" cy="40.37" r="1.5" fill="#c40a2c"/>
<circle cx="212.19" cy="40.81" r="1.5" fill="#c40a2c"/>
<circle cx="218.19" cy="35.3" r="1.5" fill="#c40a2c"/>
<circle cx="236.32" cy="38.92" r="1.5" fill="#c40a2c"/>
<circle cx="234.6" cy="38.38" r="1.5" fill="#c40a2c"/>
<circle cx="215.01" cy="36.64" r="1.5" fill="#c40a2c"/>
<circle cx="228.97" cy="44.09" r="1.5" fill="#c40a2c"/>
<circle cx="220.83" cy="49.5" r="1.5" fill="#c40a2c"/>
<circle cx="223.71" cy="41.59" r="1.5" fill="#c40a2c"/>
<circle cx="230.34" cy="47.1" r="1.5" fill="#c40a2c"/>
<circle cx="221.82" cy="46.48" r="1.5" fill="#c40a2c"/>
<circle cx="219.05" cy="37.25" r="1.5" fill="#c40a2c"/>
<circle cx="225.4" cy="37.31" r="1.5" fill="#c40a2c"/>
<circle cx="216.28" cy="36.9" r="1.5" fill="#c40a2c"/>
<circle cx="227.91" cy="38.59" r="1.5" fill="#c40a2c"/>
<circle cx="227.12" cy="48.65" r="1.5" fill="#c40a2c"/>
<circle cx="240.67" cy="45.73" r="1.5" fill="#c40a2c"/>
<circle cx="226.67" cy="48.64" r="1.5" fill="#c40a2c"/>
<circle cx="230.3" cy="45.43" r="1.5" fill="#c40a2c"/>
<circle cx="231.1" cy="40.68" r="1.5" fill="#c40a2c"/>
<circle cx="221.08" cy="52.03" r="1.5" fill="#c40a2c"/>
<circle cx="232.65" cy="36.98" r="1.5" fill="#c40a2c"/>
<circle cx="235.37" cy="50.32" r="1.5" fill="#c40a2c"/>
<circle cx="234.43" cy="40.42" r="1.5" fill="#c40a2c"/>
<circle cx="231.12" cy="40.13" r="1.5" fill="#c40a2c"/>
<circle cx="224.85" cy="41.52" r="1.5" fill="#c40a2c"/>
<circle cx="237.75" cy="46.18" r="1.5" fill="#c40a2c"/>
<circle cx="213.34" cy="43.59" r="1.5" fill="#c40a2c"/>
<circle cx="230.21" cy="54.84" r="1.5" fill="#c40a2c"/>
<circle cx="221.21" cy="39.1" r="1.5" fill="#c40a2c"/>
<circle cx="226.64" cy="42.31" r="1.5" fill="#c40a2c"/>
<circle cx="215.2" cy="37.05" r="1.5" fill="#c40a2c"/>
<circle cx="246.28" cy="44.2" r="1.5" fill="#c40a2c"/>
<circle cx="220.64" cy="50.4" r="1.5" fill="#c40a2c"/>
<circle cx="237.37" cy="42.24" r="1.5" fill="#c40a2c"/>
<circle cx="220" cy="35.06" r="1.5" fill="#c40a2c"/>
<circle cx="236.08" cy="39.01" r="1.5" fill="#c40a2c"/>
<circle cx="210.04" cy="43.58" r="1.5" fill="#c40a2c"/>
<circle cx="234.64" cy="50.83" r="1.5" fill="#c40a2c"/>
<circle cx="237.77" cy="33.66" r="1.5" fill="#c40a2c"/>
<circle cx="238.85" cy="47.58" r="1.5" fill="#c40a2c"/>
<circle cx="220.89" cy="36.82" r="1.5" fill="#c40a2c"/>
<circle cx="238.44" cy="34.96" r="1.5" fill="#c40a2c"/>
<circle cx="240.57" cy="43.56" r="1.5" fill="#c40a2c"/>
<circle cx="223.96" cy="54.91" r="1.5" fill="#c40a2c"/>
<circle cx="236.28" cy="45.91" r="1.5" fill="#c40a2c"/>
<circle cx="223.28" cy="38.71" r="1.5" fill="#c40a2c"/>
<circle cx="232.05" cy="51.77" r="1.5" fill="#c40a2c"/>
<circle cx="220.82" cy="50.01" r="1.5" fill="#c40a2c"/>
<circle cx="249.04" cy="47.55" r="1.5" fill="#c40a2c"/>
<circle cx="237" cy="30.51" r="1.5" fill="#c40a2c"/>
<circle cx="247.73" cy="33.69" r="1.5" fill="#c40a2c"/>
<circle cx="245" cy="50.9" r="1.5" fill="#c40a2c"/>
<circle cx="224.62" cy="47.62" r="1.5" fill="#c40a2c"/>
<circle cx="225.2" cy="53.77" r="1.5" fill="#c40a2c"/>
<circle cx="233.95" cy="50.91" r="1.5" fill="#c40a2c"/>
<circle cx="242" cy="34.5" r="1.5" fill="#c40a2c"/>
<circle cx="222.91" cy="29.52" r="1.5" fill="#c40a2c"/>
<circle cx="228.96" cy="34.48" r="1.5" fill="#c40a2c"/>
<circle cx="231.4" cy="46.53" r="1.5" fill="#c40a2c"/>
<circle cx="224.27" cy="43.67" r="1.5" fill="#c40a2c"/>
<circle cx="234.56" cy="42.1" r="1.5" fill="#c40a2c"/>
<circle cx="252.53" cy="44.16" r="1.5" fill="#c40a2c"/>
<circle cx="223.37" cy="47.56" r="1.5" fill="#c40a2c"/>
<circle cx="220.18" cy="52.22" r="1.5" fill="#c40a2c"/>
<circle cx="218.03" cy="37.05" r="1.5" fill="#c40a2c"/>
<circle cx="228.81" cy="44.02" r="1.5" fill="#c40a2c"/>
<circle cx="231.8" cy="36.01" r="1.5" fill="#c40a2c"/>
<circle cx="234.54" cy="37.91" r="1.5" fill="#c40a2c"/>
<circle cx="222.42" cy="44.6" r="1.5" fill="#c40a2c"/>
<circle cx="220.18" cy="43.54" r="1.5" fill="#c40a2c"/>
<circle cx="219.76" cy="45.32" r="1.5" fill="#c40a2c"/>
<circle cx="226.39" cy="44.31" r="1.5" fill="#c40a2c"/>
<circle cx="225.44" cy="46.09" r="1.5" fill="#c40a2c"/>
<circle cx="241.7" cy="45.12" r="1.5" fill="#c40a2c"/>
<circle cx="217.76" cy="41.66" r="1.5" fill="#c40a2c"/>
<circle cx="216.95" cy="49.85" r="1.5" fill="#c40a2c"/>
<circle cx="229.06" cy="53.69" r="1.5" fill="#c40a2c"/>
<circle cx="231.16" cy="36.22" r="1.5" fill="#c40a2c"/>
<circle cx="210.96" cy="48.71" r="1.5" fill="#c40a2c"/>
<circle cx="234.14" cy="55.76" r="1.5" fill="#c40a2c"/>
<circle cx="219.17" cy="50.7" r="1.5" fill="#c40a2c"/>
<circle cx="226.15" cy="55.67" r="1.5" fill="#c40a2c"/>
<circle cx="237.42" cy="43.84" r="1.5" fill="#c40a2c"/>
<circle cx="231.31" cy="45.03" r="1.5" fill="#c40a2c"/>
<circle cx="206.31" cy="43.89" r="1.5" fill="#c40a2c"/>
<circle cx="214.36" cy="42.84" r="1.5" fill="#c40a2c"/>
<circle cx="219.4" cy="44.96" r="1.5" fill="#c40a2c"/>
<circle cx="226.02" cy="37.92" r="1.5" fill="#c40a2c"/>
<circle cx="236.1" cy="49.41" r="1.5" fill="#c40a2c"/>
<circle cx="228.02" cy="33.47" r="1.5" fill="#c40a2c"/>
<circle cx="233.29" cy="47.63" r="1.5" fill="#c40a2c"/>
<circle cx="226.94" cy="45.16" r="1.5" fill="#c40a2c"/>
<circle cx="237.9" cy="42.69" r="1.5" fill="#c40a2c"/>
<circle cx="232.06" cy="51.82" r="1.5" fill="#c40a2c"/>
<circle cx="217.73" cy="54.11" r="1.5" fill="#c40a2c"/>
<circle cx="211.76" cy="37.36" r="1.5" fill="#c40a2c"/>
<circle cx="231.2" cy="32.36" r="1.5" fill="#c40a2c"/>
<circle cx="207.83" cy="48.61" r="1.5" fill="#c40a2c"/>
<circle cx="243.08" cy="36.25" r="1.5" fill="#c40a2c"/>
<circle cx="237.32" cy="37.27" r="1.5" fill="#c40a2c"/>
<circle cx="228.52" cy="42.98" r="1.5" fill="#c40a2c"/>
<circle cx="228.52" cy="37.46" r="1.5" fill="#c40a2c"/>
<circle cx="226.51" cy="40.84" r="1.5" fill="#c40a2c"/>
<circle cx="243.18" cy="50.19" r="1.5" fill="#c40a2c"/>
<circle cx="220.45" cy="39.26" r="1.5" fill="#c40a2c"/>
<circle cx="225.47" cy="43.92" r="1.5" fill="#c40a2c"/>
<circle cx="249.83" cy="40.22" r="1.5" fill="#c40a2c"/>
<circle cx="223.88" cy="35.81" r="1.5" fill="#c40a2c"/>
<circle cx="254.15" cy="50.09" r="1.5" fill="#c40a2c"/>
<circle cx="221.28" cy="42.16" r="1.5" fill="#c40a2c"/>
<circle cx="221.63" cy="39.51" r="1.5" fill="#c40a2c"/>
<circle cx="224.08" cy="39.74" r="1.5" fill="#c40a2c"/>
<circle cx="219.98" cy="46.82" r="1.5" fill="#c40a2c"/>
<circle cx="229.28" cy="57.46" r="1.5" fill="#c40a2c"/>
<circle cx="232.52" cy="34.17" r="1.5" fill="#c40a2c"/>
<circle cx="235.82" cy="30.48" r="1.5" fill="#c40a2c"/>
<circle cx="232.84" cy="41.96" r="1.5" fill="#c40a2c"/>
<circle cx="226.83" cy="48.45" r="1.5" fill="#c40a2c"/>
<circle cx="245.05" cy="50.56" r="1.5" fill="#c40a2c"/>
<circle cx="226.92" cy="46.3" r="1.5" fill="#c40a2c"/>
<circle cx="220.09" cy="57.28" r="1.5" fill="#c40a2c"/>
<circle cx="224.25" cy="42.02" r="1.5" fill="#c40a2c"/>
<circle cx="229.67" cy="37.45" r="1.5" fill="#c40a2c"/>
<circle cx="226.52" cy="47.06" r="1.5" fill="#c40a2c"/>
<circle cx="231.36" cy="38.61" r="1.5" fill="#c40a2c"/>
<circle cx="218.87" cy="52.74" r="1.5" fill="#c40a2c"/>
<circle cx="217.62" cy="36.07" r="1.5" fill="#c40a2c"/>
<circle cx="238.49" cy="48.64" r="1.5" fill="#c40a2c"/>
<circle cx="229.34" cy="37.48" r="1.5" fill="#c40a2c"/>
<circle cx="241.89" cy="47.17" r="1.5" fill="#c40a2c"/>
<circle cx="225.72" cy="33.8" r="1.5" fill="#c40a2c"/>
<circle cx="253.05" cy="33.02" r="1.5" fill="#c40a2c"/>
<circle cx="216.42" cy="40.01" r="1.5" fill="#c40a2c"/>
<circle cx="225.11" cy="43.29" r="1.5" fill="#c40a2c"/>
<circle cx="221.35" cy="46.01" r="1.5" fill="#c40a2c"/>
<circle cx="228.08" cy="31.25" r="1.5" fill="#c40a2c"/>
<circle cx="235.4" cy="40.15" r="1.5" fill="#c40a2c"/>
<circle cx="228.47" cy="47.77" r="1.5" fill="#c40a2c"/>
<circle cx="225.83" cy="34.89" r="1.5" fill="#c40a2c"/>
<circle cx="236.75" cy="30.21" r="1.5" fill="#c40a2c"/>
<circle cx="230.88" cy="43.04" r="1.5" fill="#c40a2c"/>
<circle cx="211.5" cy="40.34" r="1.5" fill="#c40a2c"/>
<circle cx="210.41" cy="33.05" r="1.5" fill="#c40a2c"/>
<circle cx="221.69" cy="42.91" r="1.5" fill="#c40a2c"/>
<circle cx="214.26" cy="46.12" r="1.5" fill="#c40a2c"/>
<circle cx="218.58" cy="35.59" r="1.5" fill="#c40a2c"/>
<circle cx="230.75" cy="50.54" r="1.5" fill="#c40a2c"/>
<circle cx="208.27" cy="43.35" r="1.5" fill="#c40a2c"/>
<circle cx="223.17" cy="50.09" r="1.5" fill="#c40a2c"/>
<circle cx="234.27" cy="44.11" r="1.5" fill="#c40a2c"/>
<circle cx="229.34" cy="46.73" r="1.5" fill="#c40a2c"/>
<circle cx="222.31" cy="45.89" r="1.5" fill="#c40a2c"/>
<circle cx="211.66" cy="38.84" r="1.5" fill="#c40a2c"/>
<circle cx="232.35" cy="54.06" r="1.5" fill="#c40a2c"/>
<circle cx="229.24" cy="35.44" r="1.5" fill="#c40a2c"/>
<circle cx="230.63" cy="34.53" r="1.5" fill="#c40a2c"/>
<circle cx="225.42" cy="42.9" r="1.5" fill="#c40a2c"/>
<circle cx="214.79" cy="48.76" r="1.5" fill="#c40a2c"/>
<circle cx="209.39" cy="48.7" r="1.5" fill="#c40a2c"/>
<circle cx="230.71" cy="39.55" r="1.5" fill="#c40a2c"/>
<circle cx="240.19" cy="42.07" r="1.5" fill="#c40a2c"/>
<circle cx="217.98" cy="40.12" r="1.5" fill="#c40a2c"/>
<circle cx="226.69" cy="31.37" r="1.5" fill="#c40a2c"/>
<circle cx="248.39" cy="36.7" r="1.5" fill="#c40a2c"/>
<circle cx="216.47" cy="46.31" r="1.5" fill="#c40a2c"/>
<circle cx="230.15" cy="47.52" r="1.5" fill="#c40a2c"/>
<circle cx="233.59" cy="38.47" r="1.5" fill="#c40a2c"/>
<circle cx="236.83" cy="41.43" r="1.5" fill="#c40a2c"/>
<circle cx="219.07" cy="48.36" r="1.5" fill="#c40a2c"/>
<circle cx="226.92" cy="34.33" r="1.5" fill="#c40a2c"/>
<circle cx="244.43" cy="36.58" r="1.5" fill="#c40a2c"/>
<circle cx="231.93" cy="38.54" r="1.5" fill="#c40a2c"/>
<circle cx="236.67" cy="34.55" r="1.5" fill="#c40a2c"/>
<circle cx="237.02" cy="52.84" r="1.5" fill="#c40a2c"/>
<circle cx="238.02" cy="40.42" r="1.5" fill="#c40a2c"/>
<circle cx="223.45" cy="39.51" r="1.5" fill="#c40a2c"/>
<circle cx="231.16" cy="43.26" r="1.5" fill="#c40a2c"/>
<circle cx="210.77" cy="42.19" r="1.5" fill="#c40a2c"/>
<circle cx="233.93" cy="43.22" r="1.5" fill="#c40a2c"/>
<circle cx="211.81" cy="39.95" r="1.5" fill="#c40a2c"/>
<circle cx="235.61" cy="41.74" r="1.5" fill="#c40a2c"/>
<circle cx="232.58" cy="45.19" r="1.5" fill="#c40a2c"/>
<circle cx="221.4" cy="39.52" r="1.5" fill="#c40a2c"/>
<circle cx="224.53" cy="41.73" r="1.5" fill="#c40a2c"/>
<circle cx="235.53" cy="42.03" r="1.5" fill="#c40a2c"/>
<circle cx="211.46" cy="42.29" r="1.5" fill="#c40a2c"/>
<circle cx="236.01" cy="47.47" r="1.5" fill="#c40a2c"/>
<circle cx="225.73" cy="57.49" r="1.5" fill="#c40a2c"/>
<circle cx="233.92" cy="46.76" r="1.5" fill="#c40a2c"/>
<circle cx="235.24" cy="34.09" r="1.5" fill="#c40a2c"/>
<circle cx="226.52" cy="36.54" r="1.5" fill="#c40a2c"/>
<circle cx="230.77" cy="44.23" r="1.5" fill="#c40a2c"/>
<circle cx="225.29" cy="48.42" r="1.5" fill="#c40a2c"/>
<circle cx="241.43" cy="37.22" r="1.5" fill="#c40a2c"/>
<circle cx="217.82" cy="37.46" r="1.5" fill="#c40a2c"/>
<circle cx="220.66" cy="52.64" r="1.5" fill="#c40a2c"/>
<circle cx="240.56" cy="51.19" r="1.5" fill="#c40a2c"/>
<circle cx="240.41" cy="41.62" r="1.5" fill="#c40a2c"/>
<circle cx="237.49" cy="39.6" r="1.5" fill="#c40a2c"/>
<circle cx="240.1" cy="40.66" r="1.5" fill="#c40a2c"/>
<circle cx="234.15" cy="41.3" r="1.5" fill="#c40a2c"/>
<circle cx="239.48" cy="45.44" r="1.5" fill="#c40a2c"/>
<circle cx="238.67" cy="33.17" r="1.5" fill="#c40a2c"/>
<circle cx="227.54" cy="40.06" r="1.5" fill="#c40a2c"/>
<circle cx="222.89" cy="44.77" r="1.5" fill="#c40a2c"/>
<circle cx="230.88" cy="45.12" r="1.5" fill="#c40a2c"/>
<circle cx="219.05" cy="43.1" r="1.5" fill="#c40a2c"/>
<circle cx="230.16" cy="40.82" r="1.5" fill="#c40a2c"/>
<circle cx="235.51" cy="54.38" r="1.5" fill="#c40a2c"/>
<circle cx="242.76" cy="44.02" r="1.5" fill="#c40a2c"/>
<circle cx="218.65" cy="73.94" r="1.5" fill="#c40a2c"/>
<circle cx="231.99" cy="73.99" r="1.5" fill="#c40a2c"/>
<circle cx="235.73" cy="60.85" r="1.5" fill="#c40a2c"/>
<circle cx="221.24" cy="95.79" r="1.5" fill="#c40a2c"/>
<circle cx="209.94" cy="75.53" r="1.5" fill="#c40a2c"/>
<circle cx="221.56" cy="57.79" r="1.5" fill="#c40a2c"/>
<circle cx="225.28" cy="75.4" r="1.5" fill="#c40a2c"/>
<circle cx="224.52" cy="91.43" r="1.5" fill="#c40a2c"/>
<circle cx="215.95" cy="72.66" r="1.5" fill="#c40a2c"/>
<circle cx="223.67" cy="84.08" r="1.5" fill="#c40a2c"/>
<circle cx="225.35" cy="65.79" r="1.5" fill="#c40a2c"/>
<circle cx="228.89" cy="71.54" r="1.5" fill="#c40a2c"/>
<circle cx="224.62" cy="67.41" r="1.5" fill="#c40a2c"/>
<circle cx="230.03" cy="78.26" r="1.5" fill="#c40a2c"/>
<circle cx="231" cy="61.97" r="1.5" fill="#c40a2c"/>
<circle cx="221.74" cy="81.01" r="1.5" fill="#c40a2c"/>
<circle cx="220.45" cy="77.34" r="1.5" fill="#c40a2c"/>
<circle cx="222.04" cy="72.94" r="1.5" fill="#c40a2c"/>
<circle cx="217.26" cy="58.2" r="1.5" fill="#c40a2c"/>
<circle cx="224.32" cy="74.58" r="1.5" fill="#c40a2c"/>
<circle cx="228.73" cy="80.45" r="1.5" fill="#c40a2c"/>
<circle cx="224.89" cy="64.72" r="1.5" fill="#c40a2c"/>
<circle cx="223.89" cy="66.71" r="1.5" fill="#c40a2c"/>
<circle cx="229.75" cy="76.56" r="1.5" fill="#c40a2c"/>
<circle cx="216.74" cy="80.42" r="1.5" fill="#c40a2c"/>
<circle cx="211.09" cy="62.99" r="1.5" fill="#c40a2c"/>
<circle cx="215.65" cy="58.14" r="1.5" fill="#c40a2c"/>
<circle cx="209.89" cy="79.5" r="1.5" fill="#c40a2c"/>
<circle cx="221.69" cy="71.4" r="1.5" fill="#c40a2c"/>
<circle cx="221.5" cy="72.72" r="1.5" fill="#c40a2c"/>
<circle cx="229.31" cy="75.27" r="1.5" fill="#c40a2c"/>
<circle cx="225.82" cy="68.97" r="1.5" fill="#c40a2c"/>
<circle cx="222.84" cy="72.34" r="1.5" fill="#c40a2c"/>
<circle cx="227.18" cy="69.71" r="1.5" fill="#c40a2c"/>
<circle cx="228.2" cy="79.24" r="1.5" fill="#c40a2c"/>
<circle cx="231.63" cy="88.05" r="1.5" fill="#c40a2c"/>
<circle cx="219.92" cy="84.08" r="1.5" fill="#c40a2c"/>
<circle cx="229.08" cy="66.19" r="1.5" fill="#c40a2c"/>
<circle cx="221.12" cy="62.68" r="1.5" fill="#c40a2c"/>
<circle cx="215.88" cy="95.37" r="1.5" fill="#c40a2c"/>
<circle cx="218.86" cy="90.64" r="1.5" fill="#c40a2c"/>
<circle cx="227.33" cy="72.27" r="1.5" fill="#c40a2c"/>
<circle cx="230.5" cy="66.08" r="1.5" fill="#c40a2c"/>
<circle cx="226.02" cy="69.93" r="1.5" fill="#c40a2c"/>
<circle cx="221.32" cy="95.29" r="1.5" fill="#c40a2c"/>
<circle cx="227.83" cy="74.5" r="1.5" fill="#c40a2c"/>
<circle cx="229.88" cy="78.19" r="1.5" fill="#c40a2c"/>
<circle cx="218.4" cy="63.61" r="1.5" fill="#c40a2c"/>
<circle cx="226.32" cy="65.18" r="1.5" fill="#c40a2c"/>
<circle cx="230.08" cy="55.86" r="1.5" fill="#c40a2c"/>
<circle cx="218.15" cy="56.24" r="1.5" fill="#c40a2c"/>
<circle cx="229.83" cy="60.7" r="1.5" fill="#c40a2c"/>
<circle cx="217.4" cy="72.02" r="1.5" fill="#c40a2c"/>
<circle cx="217.22" cy="71.85" r="1.5" fill="#c40a2c"/>
<circle cx="221.58" cy="57.85" r="1.5" fill="#c40a2c"/>
<circle cx="235.26" cy="73.12" r="1.5" fill="#c40a2c"/>
<circle cx="225.02" cy="85.02" r="1.5" fill="#c40a2c"/>
<circle cx="222.58" cy="68.63" r="1.5" fill="#c40a2c"/>
<circle cx="221.38" cy="55" r="1.5" fill="#c40a2c"/>
<circle cx="229.11" cy="84.14" r="1.5" fill="#c40a2c"/>
<circle cx="225.14" cy="63.26" r="1.5" fill="#c40a2c"/>
<circle cx="227.79" cy="79.5" r="1.5" fill="#c40a2c"/>
<circle cx="231.45" cy="72.66" r="1.5" fill="#c40a2c"/>
<circle cx="223.58" cy="79.27" r="1.5" fill="#c40a2c"/>
<circle cx="214.38" cy="67.28" r="1.5" fill="#c40a2c"/>
<circle cx="223.9" cy="64.9" r="1.5" fill="#c40a2c"/>
<circle cx="212.47" cy="55.34" r="1.5" fill="#c40a2c"/>
<circle cx="219.09" cy="75.05" r="1.5" fill="#c40a2c"/>
<circle cx="216.01" cy="75.9" r="1.5" fill="#c40a2c"/>
<circle cx="234.36" cy="62.23" r="1.5" fill="#c40a2c"/>
<circle cx="220.29" cy="55.53" r="1.5" fill="#c40a2c"/>
<circle cx="214.46" cy="59.28" r="1.5" fill="#c40a2c"/>
<circle cx="228.28" cy="69.18" r="1.5" fill="#c40a2c"/>
<circle cx="230.96" cy="66.78" r="1.5" fill="#c40a2c"/>
<circle cx="219.99" cy="61.31" r="1.5" fill="#c40a2c"/>
<circle cx="227.32" cy="67.74" r="1.5" fill="#c40a2c"/>
<circle cx="223.92" cy="75.41" r="1.5" fill="#c40a2c"/>
<circle cx="228.3" cy="82.49" r="1.5" fill="#c40a2c"/>
<circle cx="220.26" cy="90.61" r="1.5" fill="#c40a2c"/>
<circle cx="223.25" cy="90.1" r="1.5" fill="#c40a2c"/>
<circle cx="231.44" cy="86.59" r="1.5" fill="#c40a2c"/>
<circle cx="229.45" cy="70.54" r="1.5" fill="#c40a2c"/>
<circle cx="224.53" cy="83.37" r="1.5" fill="#c40a2c"/>
<circle cx="216.36" cy="58.2" r="1.5" fill="#c40a2c"/>
<circle cx="224.96" cy="78.57" r="1.5" fill="#c40a2c"/>
<circle cx="222" cy="68.62" r="1.5" fill="#c40a2c"/>
<circle cx="225.35" cy="62.23" r="1.5" fill="#c40a2c"/>
<circle cx="217.49" cy="78.66" r="1.5" fill="#c40a2c"/>
<circle cx="222.33" cy="75.04" r="1.5" fill="#c40a2c"/>
<circle cx="218.04" cy="61.03" r="1.5" fill="#c40a2c"/>
<circle cx="230.06" cy="66.66" r="1.5" fill="#c40a2c"/>
<circle cx="213.62" cy="71.66" r="1.5" fill="#c40a2c"/>
<circle cx="221.17" cy="59.11" r="1.5" fill="#c40a2c"/>
<circle cx="215.02" cy="59.9" r="1.5" fill="#c40a2c"/>
<circle cx="227.87" cy="63.57" r="1.5" fill="#c40a2c"/>
<circle cx="227.89" cy="79.67" r="1.5" fill="#c40a2c"/>
<circle cx="223.95" cy="66.1" r="1.5" fill="#c40a2c"/>
<circle cx="224.49" cy="56.28" r="1.5" fill="#c40a2c"/>
<circle cx="226.86" cy="63.04" r="1.5" fill="#c40a2c"/>
<circle cx="222.91" cy="71.71" r="1.5" fill="#c40a2c"/>
<circle cx="219.22" cy="56.49" r="1.5" fill="#c40a2c"/>
<circle cx="218.86" cy="54.35" r="1.5" fill="#c40a2c"/>
<circle cx="233.06" cy="86.19" r="1.5" fill="#c40a2c"/>
<circle cx="226.54" cy="92.78" r="1.5" fill="#c40a2c"/>
<circle cx="221.23" cy="53.98" r="1.5" fill="#c40a2c"/>
<circle cx="233.52" cy="86.07" r="1.5" fill="#c40a2c"/>
<circle cx="222.83" cy="67.46" r="1.5" fill="#c40a2c"/>
<circle cx="224.82" cy="69.44" r="1.5" fill="#c40a2c"/>
<circle cx="219.73" cy="59.92" r="1.5" fill="#c40a2c"/>
<circle cx="227.41" cy="58.91" r="1.5" fill="#c40a2c"/>
<circle cx="222.21" cy="65.1" r="1.5" fill="#c40a2c"/>
<circle cx="229.69" cy="60.86" r="1.5" fill="#c40a2c"/>
<circle cx="229.77" cy="62.86" r="1.5" fill="#c40a2c"/>
<circle cx="222.78" cy="67.35" r="1.5" fill="#c40a2c"/>
<circle cx="224.64" cy="82.64" r="1.5" fill="#c40a2c"/>
<circle cx="220.14" cy="86.99" r="1.5" fill="#c40a2c"/>
<circle cx="227.93" cy="69.27" r="1.5" fill="#c40a2c"/>
<circle cx="221.58" cy="86.05" r="1.5" fill="#c40a2c"/>
<circle cx="222.98" cy="66.71" r="1.5" fill="#c40a2c"/>
<circle cx="224.65" cy="84.52" r="1.5" fill="#c40a2c"/>
<circle cx="249.99" cy="54.63" r="1.5" fill="#c40a2c"/>
<circle cx="242.05" cy="48.42" r="1.5" fill="#c40a2c"/>
<circle cx="244.81" cy="55.06" r="1.5" fill="#c40a2c"/>
<circle cx="238.53" cy="60.89" r="1.5" fill="#c40a2c"/>
<circle cx="255.32" cy="53.58" r="1.5" fill="#c40a2c"/>
<circle cx="239.07" cy="57.36" r="1.5" fill="#c40a2c"/>
<circle cx="247.16" cy="33.04" r="1.5" fill="#c40a2c"/>
<circle cx="241.54" cy="36.92" r="1.5" fill="#c40a2c"/>
<circle cx="247.17" cy="50.43" r="1.5" fill="#c40a2c"/>
<circle cx="253.61" cy="50.99" r="1.5" fill="#c40a2c"/>
<circle cx="238.66" cy="46.38" r="1.5" fill="#c40a2c"/>
<circle cx="250.62" cy="44.21" r="1.5" fill="#c40a2c"/>
<circle cx="243.04" cy="34.78" r="1.5" fill="#c40a2c"/>
<circle cx="254.76" cy="33.13" r="1.5" fill="#c40a2c"/>
<circle cx="246.35" cy="37.92" r="1.5" fill="#c40a2c"/>
<circle cx="251.98" cy="57.56" r="1.5" fill="#c40a2c"/>
<circle cx="238.04" cy="57.77" r="1.5" fill="#c40a2c"/>
<circle cx="239.88" cy="60.58" r="1.5" fill="#c40a2c"/>
<circle cx="244.67" cy="40.32" r="1.5" fill="#c40a2c"/>
<circle cx="243.69" cy="47.46" r="1.5" fill="#c40a2c"/>
<circle cx="237.71" cy="56.54" r="1.5" fill="#c40a2c"/>
<circle cx="256.65" cy="62.48" r="1.5" fill="#c40a2c"/>
<circle cx="248.03" cy="38.63" r="1.5" fill="#c40a2c"/>
<circle cx="253.32" cy="40.86" r="1.5" fill="#c40a2c"/>
<circle cx="245.48" cy="38.84" r="1.5" fill="#c40a2c"/>
<circle cx="206.23" cy="105.1" r="1.5" fill="#c40a2c"/>
<circle cx="212.89" cy="100.62" r="1.5" fill="#c40a2c"/>
<circle cx="217.54" cy="105.59" r="1.5" fill="#c40a2c"/>
<circle cx="223.53" cy="100.12" r="1.5" fill="#c40a2c"/>
<circle cx="226.86" cy="98.63" r="1.5" fill="#c40a2c"/>
<circle cx="226.86" cy="105.1" r="1.5" fill="#c40a2c"/>
<circle cx="197.58" cy="60.82" r="1.5" fill="#c40a2c"/>
<circle cx="210.89" cy="94.65" r="1.5" fill="#c40a2c"/>
<circle cx="244.16" cy="82.71" r="1.5" fill="#c40a2c"/>
<line x1="197" y1="65" x2="255.8" y2="38.23" stroke="#1a1a1a" stroke-width="0.85"/>
<text x="259.7" y="110.6" font-size="6.2" fill="#1c1c1c" text-anchor="start" stroke="#1c1c1c" stroke-width="0.08">R: 0.2984</text>
<text x="259.7" y="118.2" font-size="6.2" fill="#1c1c1c" text-anchor="start" stroke="#1c1c1c" stroke-width="0.08"><tspan font-style="italic">P</tspan> &lt; .0001</text>
<text x="165.92" y="73.2" font-size="8.1" fill="#1c1c1c" text-anchor="middle" stroke="#1c1c1c" stroke-width="0.38" textLength="101" lengthAdjust="spacingAndGlyphs" transform="rotate(-90 165.92 73.2)">% CD107a NKG2ASP CD56<tspan baseline-shift="super" font-size="4.6">bright</tspan> NK cells</text>
<text x="238" y="146.62" font-size="8.1" fill="#1c1c1c" text-anchor="middle" stroke="#1c1c1c" stroke-width="0.38" textLength="87.3" lengthAdjust="spacingAndGlyphs">MFI of NKG2A<tspan baseline-shift="super" font-size="4.6">+</tspan> CD56<tspan baseline-shift="super" font-size="4.6">bright</tspan> NK cells</text>
<line x1="37.5" y1="178.5" x2="37.5" y2="278.2" stroke="#1e1e1e" stroke-width="1.3"/>
<line x1="34.4" y1="277.5" x2="37.4" y2="277.5" stroke="#1e1e1e" stroke-width="1.0"/>
<text x="31.5" y="279.85" font-size="6.3" fill="#1c1c1c" text-anchor="end">0</text>
<line x1="34.4" y1="258.5" x2="37.4" y2="258.5" stroke="#1e1e1e" stroke-width="1.0"/>
<text x="31.5" y="260.27" font-size="6.3" fill="#1c1c1c" text-anchor="end">20</text>
<line x1="34.4" y1="238.5" x2="37.4" y2="238.5" stroke="#1e1e1e" stroke-width="1.0"/>
<text x="31.5" y="240.69" font-size="6.3" fill="#1c1c1c" text-anchor="end">40</text>
<line x1="34.4" y1="218.5" x2="37.4" y2="218.5" stroke="#1e1e1e" stroke-width="1.0"/>
<text x="31.5" y="221.11" font-size="6.3" fill="#1c1c1c" text-anchor="end">60</text>
<line x1="34.4" y1="199.5" x2="37.4" y2="199.5" stroke="#1e1e1e" stroke-width="1.0"/>
<text x="31.5" y="201.53" font-size="6.3" fill="#1c1c1c" text-anchor="end">80</text>
<line x1="34.4" y1="179.5" x2="37.4" y2="179.5" stroke="#1e1e1e" stroke-width="1.0"/>
<text x="31.5" y="181.95" font-size="6.3" fill="#1c1c1c" text-anchor="end">100</text>
<line x1="36.8" y1="277.5" x2="157.5" y2="277.5" stroke="#1e1e1e" stroke-width="1.3"/>
<line x1="37.5" y1="277.6" x2="37.5" y2="280.6" stroke="#1e1e1e" stroke-width="1.0"/>
<text x="37.5" y="288.95" font-size="6.3" fill="#1c1c1c" text-anchor="middle">0</text>
<line x1="60.5" y1="277.6" x2="60.5" y2="280.6" stroke="#1e1e1e" stroke-width="1.0"/>
<text x="60.88" y="288.95" font-size="6.3" fill="#1c1c1c" text-anchor="middle">20</text>
<line x1="84.5" y1="277.6" x2="84.5" y2="280.6" stroke="#1e1e1e" stroke-width="1.0"/>
<text x="84.26" y="288.95" font-size="6.3" fill="#1c1c1c" text-anchor="middle">40</text>
<line x1="107.5" y1="277.6" x2="107.5" y2="280.6" stroke="#1e1e1e" stroke-width="1.0"/>
<text x="107.64" y="288.95" font-size="6.3" fill="#1c1c1c" text-anchor="middle">60</text>
<line x1="131.5" y1="277.6" x2="131.5" y2="280.6" stroke="#1e1e1e" stroke-width="1.0"/>
<text x="131.02" y="288.95" font-size="6.3" fill="#1c1c1c" text-anchor="middle">80</text>
<line x1="154.5" y1="277.6" x2="154.5" y2="280.6" stroke="#1e1e1e" stroke-width="1.0"/>
<text x="154.4" y="288.95" font-size="6.3" fill="#1c1c1c" text-anchor="middle">100</text>
<circle cx="119.54" cy="207.87" r="1.5" fill="#c40a2c"/>
<circle cx="75.81" cy="205.67" r="1.5" fill="#c40a2c"/>
<circle cx="112.41" cy="215.12" r="1.5" fill="#c40a2c"/>
<circle cx="88.46" cy="212.44" r="1.5" fill="#c40a2c"/>
<circle cx="106.36" cy="213.73" r="1.5" fill="#c40a2c"/>
<circle cx="86.81" cy="222.03" r="1.5" fill="#c40a2c"/>
<circle cx="110.02" cy="205.79" r="1.5" fill="#c40a2c"/>
<circle cx="118.43" cy="220.98" r="1.5" fill="#c40a2c"/>
<circle cx="94.99" cy="202.66" r="1.5" fill="#c40a2c"/>
<circle cx="90.39" cy="206.64" r="1.5" fill="#c40a2c"/>
<circle cx="75.07" cy="220.75" r="1.5" fill="#c40a2c"/>
<circle cx="93.86" cy="214.16" r="1.5" fill="#c40a2c"/>
<circle cx="114.42" cy="218.79" r="1.5" fill="#c40a2c"/>
<circle cx="104.95" cy="215.4" r="1.5" fill="#c40a2c"/>
<circle cx="76.35" cy="221.36" r="1.5" fill="#c40a2c"/>
<circle cx="80" cy="221.61" r="1.5" fill="#c40a2c"/>
<circle cx="60.58" cy="208.31" r="1.5" fill="#c40a2c"/>
<circle cx="102.87" cy="220.31" r="1.5" fill="#c40a2c"/>
<circle cx="104.52" cy="207.55" r="1.5" fill="#c40a2c"/>
<circle cx="130.52" cy="204.15" r="1.5" fill="#c40a2c"/>
<circle cx="93.02" cy="193.53" r="1.5" fill="#c40a2c"/>
<circle cx="115.03" cy="188.01" r="1.5" fill="#c40a2c"/>
<circle cx="99.2" cy="194.09" r="1.5" fill="#c40a2c"/>
<circle cx="131.92" cy="207.96" r="1.5" fill="#c40a2c"/>
<circle cx="112.45" cy="201.58" r="1.5" fill="#c40a2c"/>
<circle cx="83.01" cy="217.14" r="1.5" fill="#c40a2c"/>
<circle cx="129.94" cy="194.86" r="1.5" fill="#c40a2c"/>
<circle cx="93.1" cy="209.94" r="1.5" fill="#c40a2c"/>
<circle cx="136.98" cy="200.62" r="1.5" fill="#c40a2c"/>
<circle cx="80.47" cy="221.77" r="1.5" fill="#c40a2c"/>
<circle cx="109.4" cy="219.73" r="1.5" fill="#c40a2c"/>
<circle cx="85.71" cy="230.61" r="1.5" fill="#c40a2c"/>
<circle cx="121.55" cy="225.34" r="1.5" fill="#c40a2c"/>
<circle cx="108.69" cy="225.6" r="1.5" fill="#c40a2c"/>
<circle cx="77.22" cy="215.86" r="1.5" fill="#c40a2c"/>
<circle cx="120.21" cy="215.3" r="1.5" fill="#c40a2c"/>
<circle cx="110.42" cy="222.62" r="1.5" fill="#c40a2c"/>
<circle cx="98.63" cy="218.87" r="1.5" fill="#c40a2c"/>
<circle cx="107.44" cy="207.49" r="1.5" fill="#c40a2c"/>
<circle cx="106.18" cy="215.16" r="1.5" fill="#c40a2c"/>
<circle cx="108.63" cy="212.55" r="1.5" fill="#c40a2c"/>
<circle cx="100.07" cy="224.66" r="1.5" fill="#c40a2c"/>
<circle cx="128.11" cy="217.99" r="1.5" fill="#c40a2c"/>
<circle cx="80.81" cy="208.78" r="1.5" fill="#c40a2c"/>
<circle cx="114.14" cy="218.22" r="1.5" fill="#c40a2c"/>
<circle cx="136.97" cy="193.95" r="1.5" fill="#c40a2c"/>
<circle cx="97.7" cy="209.8" r="1.5" fill="#c40a2c"/>
<circle cx="137.15" cy="213.39" r="1.5" fill="#c40a2c"/>
<circle cx="102.3" cy="210.97" r="1.5" fill="#c40a2c"/>
<circle cx="109.65" cy="192.61" r="1.5" fill="#c40a2c"/>
<circle cx="128.78" cy="201.49" r="1.5" fill="#c40a2c"/>
<circle cx="103.3" cy="228.98" r="1.5" fill="#c40a2c"/>
<circle cx="138.27" cy="190.25" r="1.5" fill="#c40a2c"/>
<circle cx="112.74" cy="203.66" r="1.5" fill="#c40a2c"/>
<circle cx="88.47" cy="210.35" r="1.5" fill="#c40a2c"/>
<circle cx="104.48" cy="223.3" r="1.5" fill="#c40a2c"/>
<circle cx="122.24" cy="208.16" r="1.5" fill="#c40a2c"/>
<circle cx="109.39" cy="204.37" r="1.5" fill="#c40a2c"/>
<circle cx="72.61" cy="232.93" r="1.5" fill="#c40a2c"/>
<circle cx="102.29" cy="219.06" r="1.5" fill="#c40a2c"/>
<circle cx="87.85" cy="208.15" r="1.5" fill="#c40a2c"/>
<circle cx="115.99" cy="230.78" r="1.5" fill="#c40a2c"/>
<circle cx="105.09" cy="197.43" r="1.5" fill="#c40a2c"/>
<circle cx="80.79" cy="225.35" r="1.5" fill="#c40a2c"/>
<circle cx="95.67" cy="211.33" r="1.5" fill="#c40a2c"/>
<circle cx="94.51" cy="212.06" r="1.5" fill="#c40a2c"/>
<circle cx="122.19" cy="208.35" r="1.5" fill="#c40a2c"/>
<circle cx="83.33" cy="219.28" r="1.5" fill="#c40a2c"/>
<circle cx="96.96" cy="205.16" r="1.5" fill="#c40a2c"/>
<circle cx="125.22" cy="222.2" r="1.5" fill="#c40a2c"/>
<circle cx="72.4" cy="208.96" r="1.5" fill="#c40a2c"/>
<circle cx="108.72" cy="212.82" r="1.5" fill="#c40a2c"/>
<circle cx="123.1" cy="211.8" r="1.5" fill="#c40a2c"/>
<circle cx="110.57" cy="218.85" r="1.5" fill="#c40a2c"/>
<circle cx="99.23" cy="203.92" r="1.5" fill="#c40a2c"/>
<circle cx="92.68" cy="213" r="1.5" fill="#c40a2c"/>
<circle cx="108.74" cy="214.78" r="1.5" fill="#c40a2c"/>
<circle cx="111.88" cy="198.22" r="1.5" fill="#c40a2c"/>
<circle cx="83.25" cy="203.88" r="1.5" fill="#c40a2c"/>
<circle cx="101.07" cy="201.67" r="1.5" fill="#c40a2c"/>
<circle cx="78.7" cy="197.06" r="1.5" fill="#c40a2c"/>
<circle cx="107.85" cy="196.08" r="1.5" fill="#c40a2c"/>
<circle cx="95.2" cy="202.58" r="1.5" fill="#c40a2c"/>
<circle cx="111.71" cy="212.83" r="1.5" fill="#c40a2c"/>
<circle cx="92.37" cy="223.61" r="1.5" fill="#c40a2c"/>
<circle cx="98.03" cy="204.56" r="1.5" fill="#c40a2c"/>
<circle cx="98.91" cy="201.73" r="1.5" fill="#c40a2c"/>
<circle cx="119.04" cy="220.8" r="1.5" fill="#c40a2c"/>
<circle cx="103.06" cy="206.71" r="1.5" fill="#c40a2c"/>
<circle cx="129.23" cy="219.35" r="1.5" fill="#c40a2c"/>
<circle cx="87.38" cy="201.25" r="1.5" fill="#c40a2c"/>
<circle cx="106.47" cy="217.05" r="1.5" fill="#c40a2c"/>
<circle cx="90.86" cy="193.71" r="1.5" fill="#c40a2c"/>
<circle cx="121.42" cy="216.05" r="1.5" fill="#c40a2c"/>
<circle cx="128.34" cy="220.46" r="1.5" fill="#c40a2c"/>
<circle cx="96.9" cy="214.07" r="1.5" fill="#c40a2c"/>
<circle cx="100.15" cy="227.08" r="1.5" fill="#c40a2c"/>
<circle cx="71.38" cy="223.34" r="1.5" fill="#c40a2c"/>
<circle cx="99.76" cy="209.12" r="1.5" fill="#c40a2c"/>
<circle cx="130.8" cy="214.29" r="1.5" fill="#c40a2c"/>
<circle cx="110.74" cy="196.82" r="1.5" fill="#c40a2c"/>
<circle cx="88.06" cy="219.02" r="1.5" fill="#c40a2c"/>
<circle cx="124.65" cy="207.8" r="1.5" fill="#c40a2c"/>
<circle cx="88.54" cy="222.57" r="1.5" fill="#c40a2c"/>
<circle cx="119.06" cy="206.76" r="1.5" fill="#c40a2c"/>
<circle cx="121.11" cy="221.92" r="1.5" fill="#c40a2c"/>
<circle cx="75.66" cy="222.58" r="1.5" fill="#c40a2c"/>
<circle cx="124.75" cy="202.37" r="1.5" fill="#c40a2c"/>
<circle cx="96.16" cy="208.4" r="1.5" fill="#c40a2c"/>
<circle cx="113.34" cy="216.41" r="1.5" fill="#c40a2c"/>
<circle cx="124.88" cy="218.91" r="1.5" fill="#c40a2c"/>
<circle cx="130.19" cy="195.73" r="1.5" fill="#c40a2c"/>
<circle cx="101.21" cy="210.93" r="1.5" fill="#c40a2c"/>
<circle cx="95.44" cy="222.37" r="1.5" fill="#c40a2c"/>
<circle cx="110.69" cy="210.13" r="1.5" fill="#c40a2c"/>
<circle cx="107.65" cy="217.6" r="1.5" fill="#c40a2c"/>
<circle cx="137.91" cy="224.62" r="1.5" fill="#c40a2c"/>
<circle cx="109.69" cy="200.37" r="1.5" fill="#c40a2c"/>
<circle cx="112.19" cy="208.13" r="1.5" fill="#c40a2c"/>
<circle cx="100.86" cy="213.14" r="1.5" fill="#c40a2c"/>
<circle cx="97.65" cy="217.42" r="1.5" fill="#c40a2c"/>
<circle cx="137.06" cy="215.43" r="1.5" fill="#c40a2c"/>
<circle cx="85.5" cy="218.53" r="1.5" fill="#c40a2c"/>
<circle cx="97.29" cy="209.27" r="1.5" fill="#c40a2c"/>
<circle cx="114.35" cy="206.35" r="1.5" fill="#c40a2c"/>
<circle cx="109.64" cy="209.09" r="1.5" fill="#c40a2c"/>
<circle cx="108.44" cy="212.71" r="1.5" fill="#c40a2c"/>
<circle cx="118.46" cy="219.16" r="1.5" fill="#c40a2c"/>
<circle cx="113.75" cy="210.94" r="1.5" fill="#c40a2c"/>
<circle cx="101.18" cy="218.17" r="1.5" fill="#c40a2c"/>
<circle cx="62.55" cy="201.21" r="1.5" fill="#c40a2c"/>
<circle cx="124.69" cy="229.76" r="1.5" fill="#c40a2c"/>
<circle cx="64.61" cy="224.28" r="1.5" fill="#c40a2c"/>
<circle cx="104.36" cy="202.48" r="1.5" fill="#c40a2c"/>
<circle cx="76.92" cy="213.36" r="1.5" fill="#c40a2c"/>
<circle cx="103.1" cy="221.3" r="1.5" fill="#c40a2c"/>
<circle cx="78.26" cy="220.28" r="1.5" fill="#c40a2c"/>
<circle cx="74.41" cy="217.98" r="1.5" fill="#c40a2c"/>
<circle cx="103.33" cy="217.69" r="1.5" fill="#c40a2c"/>
<circle cx="88.2" cy="197.21" r="1.5" fill="#c40a2c"/>
<circle cx="98.34" cy="206.55" r="1.5" fill="#c40a2c"/>
<circle cx="100.32" cy="210.72" r="1.5" fill="#c40a2c"/>
<circle cx="105.5" cy="232.01" r="1.5" fill="#c40a2c"/>
<circle cx="76.19" cy="210.5" r="1.5" fill="#c40a2c"/>
<circle cx="121.1" cy="195.7" r="1.5" fill="#c40a2c"/>
<circle cx="103.95" cy="190.24" r="1.5" fill="#c40a2c"/>
<circle cx="97.93" cy="229.01" r="1.5" fill="#c40a2c"/>
<circle cx="132.09" cy="223.24" r="1.5" fill="#c40a2c"/>
<circle cx="98.31" cy="207.41" r="1.5" fill="#c40a2c"/>
<circle cx="118.93" cy="210.87" r="1.5" fill="#c40a2c"/>
<circle cx="113.94" cy="213.16" r="1.5" fill="#c40a2c"/>
<circle cx="104.24" cy="218.57" r="1.5" fill="#c40a2c"/>
<circle cx="65.54" cy="209.94" r="1.5" fill="#c40a2c"/>
<circle cx="132.45" cy="204.35" r="1.5" fill="#c40a2c"/>
<circle cx="109.36" cy="210.41" r="1.5" fill="#c40a2c"/>
<circle cx="98.45" cy="215.9" r="1.5" fill="#c40a2c"/>
<circle cx="73.21" cy="216.2" r="1.5" fill="#c40a2c"/>
<circle cx="126.81" cy="205.48" r="1.5" fill="#c40a2c"/>
<circle cx="93.5" cy="228.76" r="1.5" fill="#c40a2c"/>
<circle cx="123.92" cy="209.73" r="1.5" fill="#c40a2c"/>
<circle cx="129.79" cy="221.21" r="1.5" fill="#c40a2c"/>
<circle cx="125.4" cy="215.63" r="1.5" fill="#c40a2c"/>
<circle cx="97.28" cy="218.58" r="1.5" fill="#c40a2c"/>
<circle cx="88.99" cy="198.22" r="1.5" fill="#c40a2c"/>
<circle cx="95.79" cy="224.15" r="1.5" fill="#c40a2c"/>
<circle cx="95.25" cy="208.61" r="1.5" fill="#c40a2c"/>
<circle cx="99.22" cy="216.37" r="1.5" fill="#c40a2c"/>
<circle cx="120.08" cy="210.15" r="1.5" fill="#c40a2c"/>
<circle cx="71.04" cy="228.82" r="1.5" fill="#c40a2c"/>
<circle cx="97.57" cy="215.67" r="1.5" fill="#c40a2c"/>
<circle cx="86.48" cy="206.47" r="1.5" fill="#c40a2c"/>
<circle cx="92.62" cy="208.12" r="1.5" fill="#c40a2c"/>
<circle cx="101.95" cy="210.86" r="1.5" fill="#c40a2c"/>
<circle cx="102.12" cy="195.98" r="1.5" fill="#c40a2c"/>
<circle cx="60.41" cy="202.32" r="1.5" fill="#c40a2c"/>
<circle cx="59.68" cy="231.7" r="1.5" fill="#c40a2c"/>
<circle cx="95.66" cy="221.65" r="1.5" fill="#c40a2c"/>
<circle cx="91.8" cy="219.69" r="1.5" fill="#c40a2c"/>
<circle cx="107.82" cy="219.95" r="1.5" fill="#c40a2c"/>
<circle cx="102.62" cy="217.67" r="1.5" fill="#c40a2c"/>
<circle cx="103.53" cy="212.73" r="1.5" fill="#c40a2c"/>
<circle cx="74.93" cy="219.08" r="1.5" fill="#c40a2c"/>
<circle cx="88.56" cy="216.63" r="1.5" fill="#c40a2c"/>
<circle cx="98.95" cy="195.1" r="1.5" fill="#c40a2c"/>
<circle cx="121.83" cy="217.87" r="1.5" fill="#c40a2c"/>
<circle cx="111.13" cy="207.19" r="1.5" fill="#c40a2c"/>
<circle cx="74.07" cy="196.47" r="1.5" fill="#c40a2c"/>
<circle cx="93.46" cy="215.76" r="1.5" fill="#c40a2c"/>
<circle cx="92.8" cy="206.24" r="1.5" fill="#c40a2c"/>
<circle cx="109.32" cy="228.65" r="1.5" fill="#c40a2c"/>
<circle cx="70.33" cy="215.87" r="1.5" fill="#c40a2c"/>
<circle cx="108.51" cy="215.52" r="1.5" fill="#c40a2c"/>
<circle cx="105.22" cy="199.48" r="1.5" fill="#c40a2c"/>
<circle cx="64.2" cy="223.23" r="1.5" fill="#c40a2c"/>
<circle cx="128.41" cy="210.08" r="1.5" fill="#c40a2c"/>
<circle cx="59.03" cy="230.82" r="1.5" fill="#c40a2c"/>
<circle cx="114.08" cy="225.26" r="1.5" fill="#c40a2c"/>
<circle cx="135.58" cy="201.98" r="1.5" fill="#c40a2c"/>
<circle cx="126.6" cy="194.52" r="1.5" fill="#c40a2c"/>
<circle cx="99.74" cy="205.06" r="1.5" fill="#c40a2c"/>
<circle cx="114.89" cy="219.73" r="1.5" fill="#c40a2c"/>
<circle cx="99.55" cy="205.43" r="1.5" fill="#c40a2c"/>
<circle cx="77.61" cy="222.54" r="1.5" fill="#c40a2c"/>
<circle cx="72.34" cy="200.79" r="1.5" fill="#c40a2c"/>
<circle cx="77.39" cy="207.77" r="1.5" fill="#c40a2c"/>
<circle cx="105.04" cy="225.82" r="1.5" fill="#c40a2c"/>
<circle cx="77.13" cy="208.95" r="1.5" fill="#c40a2c"/>
<circle cx="130.72" cy="204.08" r="1.5" fill="#c40a2c"/>
<circle cx="105.6" cy="206.35" r="1.5" fill="#c40a2c"/>
<circle cx="98.38" cy="216.65" r="1.5" fill="#c40a2c"/>
<circle cx="104.49" cy="209.91" r="1.5" fill="#c40a2c"/>
<circle cx="122.87" cy="215.33" r="1.5" fill="#c40a2c"/>
<circle cx="101.37" cy="202.31" r="1.5" fill="#c40a2c"/>
<circle cx="96.34" cy="211.39" r="1.5" fill="#c40a2c"/>
<circle cx="110.86" cy="201.28" r="1.5" fill="#c40a2c"/>
<circle cx="111.61" cy="217.23" r="1.5" fill="#c40a2c"/>
<circle cx="96.92" cy="212.61" r="1.5" fill="#c40a2c"/>
<circle cx="114.38" cy="216.49" r="1.5" fill="#c40a2c"/>
<circle cx="82.07" cy="220.9" r="1.5" fill="#c40a2c"/>
<circle cx="94.54" cy="217.26" r="1.5" fill="#c40a2c"/>
<circle cx="81.84" cy="223.06" r="1.5" fill="#c40a2c"/>
<circle cx="103.71" cy="201.65" r="1.5" fill="#c40a2c"/>
<circle cx="96.95" cy="231.12" r="1.5" fill="#c40a2c"/>
<circle cx="95.24" cy="222.53" r="1.5" fill="#c40a2c"/>
<circle cx="106.68" cy="208.96" r="1.5" fill="#c40a2c"/>
<circle cx="93.45" cy="216.26" r="1.5" fill="#c40a2c"/>
<circle cx="89.2" cy="221.34" r="1.5" fill="#c40a2c"/>
<circle cx="113.73" cy="218.85" r="1.5" fill="#c40a2c"/>
<circle cx="71.38" cy="219.64" r="1.5" fill="#c40a2c"/>
<circle cx="119.35" cy="222.95" r="1.5" fill="#c40a2c"/>
<circle cx="99.33" cy="201.88" r="1.5" fill="#c40a2c"/>
<circle cx="108.19" cy="238.44" r="1.5" fill="#c40a2c"/>
<circle cx="125.93" cy="220.8" r="1.5" fill="#c40a2c"/>
<circle cx="100.53" cy="220.54" r="1.5" fill="#c40a2c"/>
<circle cx="114.98" cy="211.04" r="1.5" fill="#c40a2c"/>
<circle cx="75.97" cy="222.52" r="1.5" fill="#c40a2c"/>
<circle cx="66.81" cy="197.81" r="1.5" fill="#c40a2c"/>
<circle cx="112.06" cy="223.8" r="1.5" fill="#c40a2c"/>
<circle cx="93.75" cy="219.19" r="1.5" fill="#c40a2c"/>
<circle cx="80.77" cy="198.44" r="1.5" fill="#c40a2c"/>
<circle cx="118.11" cy="216.66" r="1.5" fill="#c40a2c"/>
<circle cx="75.47" cy="214.1" r="1.5" fill="#c40a2c"/>
<circle cx="84.72" cy="221.76" r="1.5" fill="#c40a2c"/>
<circle cx="104.42" cy="216.74" r="1.5" fill="#c40a2c"/>
<circle cx="115.64" cy="214.91" r="1.5" fill="#c40a2c"/>
<circle cx="106.62" cy="193.68" r="1.5" fill="#c40a2c"/>
<circle cx="111.6" cy="225.79" r="1.5" fill="#c40a2c"/>
<circle cx="95.57" cy="198.01" r="1.5" fill="#c40a2c"/>
<circle cx="91.14" cy="219.01" r="1.5" fill="#c40a2c"/>
<circle cx="121.65" cy="212.16" r="1.5" fill="#c40a2c"/>
<circle cx="88.37" cy="222.31" r="1.5" fill="#c40a2c"/>
<circle cx="63.72" cy="224.46" r="1.5" fill="#c40a2c"/>
<circle cx="91.28" cy="215.86" r="1.5" fill="#c40a2c"/>
<circle cx="88.62" cy="206.29" r="1.5" fill="#c40a2c"/>
<circle cx="89.96" cy="205.47" r="1.5" fill="#c40a2c"/>
<circle cx="90.77" cy="216.21" r="1.5" fill="#c40a2c"/>
<circle cx="122.88" cy="198.79" r="1.5" fill="#c40a2c"/>
<circle cx="81.52" cy="202.19" r="1.5" fill="#c40a2c"/>
<circle cx="107.82" cy="227.97" r="1.5" fill="#c40a2c"/>
<circle cx="104.84" cy="213.96" r="1.5" fill="#c40a2c"/>
<circle cx="110.16" cy="224.79" r="1.5" fill="#c40a2c"/>
<circle cx="126.85" cy="209.21" r="1.5" fill="#c40a2c"/>
<circle cx="69.98" cy="224.06" r="1.5" fill="#c40a2c"/>
<circle cx="128.66" cy="222.05" r="1.5" fill="#c40a2c"/>
<circle cx="87.26" cy="200.71" r="1.5" fill="#c40a2c"/>
<circle cx="100.38" cy="224.54" r="1.5" fill="#c40a2c"/>
<circle cx="129.46" cy="198.13" r="1.5" fill="#c40a2c"/>
<circle cx="103.02" cy="221.58" r="1.5" fill="#c40a2c"/>
<circle cx="87.17" cy="218.29" r="1.5" fill="#c40a2c"/>
<circle cx="130.21" cy="191.34" r="1.5" fill="#c40a2c"/>
<circle cx="110.03" cy="196.56" r="1.5" fill="#c40a2c"/>
<circle cx="72.39" cy="212.05" r="1.5" fill="#c40a2c"/>
<circle cx="105.84" cy="215.34" r="1.5" fill="#c40a2c"/>
<circle cx="77.78" cy="206.58" r="1.5" fill="#c40a2c"/>
<circle cx="122.75" cy="211.5" r="1.5" fill="#c40a2c"/>
<circle cx="71" cy="218.01" r="1.5" fill="#c40a2c"/>
<circle cx="65.77" cy="219.94" r="1.5" fill="#c40a2c"/>
<circle cx="106.09" cy="197.02" r="1.5" fill="#c40a2c"/>
<circle cx="121.48" cy="212.69" r="1.5" fill="#c40a2c"/>
<circle cx="116.82" cy="215.56" r="1.5" fill="#c40a2c"/>
<circle cx="104.04" cy="213.31" r="1.5" fill="#c40a2c"/>
<circle cx="83.56" cy="224.3" r="1.5" fill="#c40a2c"/>
<circle cx="102.69" cy="214.5" r="1.5" fill="#c40a2c"/>
<circle cx="84.58" cy="217.69" r="1.5" fill="#c40a2c"/>
<circle cx="102.05" cy="223.22" r="1.5" fill="#c40a2c"/>
<circle cx="73.26" cy="228.94" r="1.5" fill="#c40a2c"/>
<circle cx="133.46" cy="208.73" r="1.5" fill="#c40a2c"/>
<circle cx="105.66" cy="206.85" r="1.5" fill="#c40a2c"/>
<circle cx="93.91" cy="207.27" r="1.5" fill="#c40a2c"/>
<circle cx="112.24" cy="222.45" r="1.5" fill="#c40a2c"/>
<circle cx="126.13" cy="223.76" r="1.5" fill="#c40a2c"/>
<circle cx="116.44" cy="223.44" r="1.5" fill="#c40a2c"/>
<circle cx="58.47" cy="234.09" r="1.5" fill="#c40a2c"/>
<circle cx="99.65" cy="229.34" r="1.5" fill="#c40a2c"/>
<circle cx="100.77" cy="231.01" r="1.5" fill="#c40a2c"/>
<circle cx="123.93" cy="249.1" r="1.5" fill="#c40a2c"/>
<circle cx="96.24" cy="222.47" r="1.5" fill="#c40a2c"/>
<circle cx="60.84" cy="247.61" r="1.5" fill="#c40a2c"/>
<circle cx="117.34" cy="222.57" r="1.5" fill="#c40a2c"/>
<circle cx="59.32" cy="253.36" r="1.5" fill="#c40a2c"/>
<circle cx="114.11" cy="229.28" r="1.5" fill="#c40a2c"/>
<circle cx="96.27" cy="231.8" r="1.5" fill="#c40a2c"/>
<circle cx="109.02" cy="226.73" r="1.5" fill="#c40a2c"/>
<circle cx="50.89" cy="250.34" r="1.5" fill="#c40a2c"/>
<circle cx="111.5" cy="221.67" r="1.5" fill="#c40a2c"/>
<circle cx="114.39" cy="236.36" r="1.5" fill="#c40a2c"/>
<circle cx="87.01" cy="238.19" r="1.5" fill="#c40a2c"/>
<circle cx="57.17" cy="227.51" r="1.5" fill="#c40a2c"/>
<circle cx="82.63" cy="231.67" r="1.5" fill="#c40a2c"/>
<circle cx="96.56" cy="238.55" r="1.5" fill="#c40a2c"/>
<circle cx="104.08" cy="235.03" r="1.5" fill="#c40a2c"/>
<circle cx="80.8" cy="225.03" r="1.5" fill="#c40a2c"/>
<circle cx="76.56" cy="245.65" r="1.5" fill="#c40a2c"/>
<circle cx="82.06" cy="234.37" r="1.5" fill="#c40a2c"/>
<circle cx="110.77" cy="238.63" r="1.5" fill="#c40a2c"/>
<circle cx="81.06" cy="230.05" r="1.5" fill="#c40a2c"/>
<circle cx="82.5" cy="233.23" r="1.5" fill="#c40a2c"/>
<circle cx="82.16" cy="225.15" r="1.5" fill="#c40a2c"/>
<circle cx="77.24" cy="242.15" r="1.5" fill="#c40a2c"/>
<circle cx="85.04" cy="238.74" r="1.5" fill="#c40a2c"/>
<circle cx="107.08" cy="229.6" r="1.5" fill="#c40a2c"/>
<circle cx="111.23" cy="232.79" r="1.5" fill="#c40a2c"/>
<circle cx="67.49" cy="227.65" r="1.5" fill="#c40a2c"/>
<circle cx="81.47" cy="242.71" r="1.5" fill="#c40a2c"/>
<circle cx="91.22" cy="220.67" r="1.5" fill="#c40a2c"/>
<circle cx="88.95" cy="237.89" r="1.5" fill="#c40a2c"/>
<circle cx="121.39" cy="220.61" r="1.5" fill="#c40a2c"/>
<circle cx="89.82" cy="246.36" r="1.5" fill="#c40a2c"/>
<circle cx="111.18" cy="227.26" r="1.5" fill="#c40a2c"/>
<circle cx="87.16" cy="227.09" r="1.5" fill="#c40a2c"/>
<circle cx="89.41" cy="240.16" r="1.5" fill="#c40a2c"/>
<circle cx="99.78" cy="228.12" r="1.5" fill="#c40a2c"/>
<circle cx="94.23" cy="226.51" r="1.5" fill="#c40a2c"/>
<circle cx="56.87" cy="233.85" r="1.5" fill="#c40a2c"/>
<circle cx="89.46" cy="250.54" r="1.5" fill="#c40a2c"/>
<circle cx="121.77" cy="245.97" r="1.5" fill="#c40a2c"/>
<circle cx="78.8" cy="225.12" r="1.5" fill="#c40a2c"/>
<circle cx="127.72" cy="223.56" r="1.5" fill="#c40a2c"/>
<circle cx="87.37" cy="223.58" r="1.5" fill="#c40a2c"/>
<circle cx="73.77" cy="228.71" r="1.5" fill="#c40a2c"/>
<circle cx="125.53" cy="243.74" r="1.5" fill="#c40a2c"/>
<circle cx="73.24" cy="229.51" r="1.5" fill="#c40a2c"/>
<circle cx="118.56" cy="228.45" r="1.5" fill="#c40a2c"/>
<circle cx="126.04" cy="235.06" r="1.5" fill="#c40a2c"/>
<circle cx="89.03" cy="247.15" r="1.5" fill="#c40a2c"/>
<circle cx="83.31" cy="223.3" r="1.5" fill="#c40a2c"/>
<circle cx="66.67" cy="244.07" r="1.5" fill="#c40a2c"/>
<circle cx="87.68" cy="251.77" r="1.5" fill="#c40a2c"/>
<circle cx="85.37" cy="244.16" r="1.5" fill="#c40a2c"/>
<circle cx="72.07" cy="233.12" r="1.5" fill="#c40a2c"/>
<circle cx="97.22" cy="232.1" r="1.5" fill="#c40a2c"/>
<circle cx="109.34" cy="233.13" r="1.5" fill="#c40a2c"/>
<circle cx="125.74" cy="249.42" r="1.5" fill="#c40a2c"/>
<circle cx="80.02" cy="249.73" r="1.5" fill="#c40a2c"/>
<circle cx="85.51" cy="227.71" r="1.5" fill="#c40a2c"/>
<circle cx="122.85" cy="233.72" r="1.5" fill="#c40a2c"/>
<circle cx="75.34" cy="238.71" r="1.5" fill="#c40a2c"/>
<circle cx="98.56" cy="239.9" r="1.5" fill="#c40a2c"/>
<circle cx="111.4" cy="221.83" r="1.5" fill="#c40a2c"/>
<circle cx="93.46" cy="231.25" r="1.5" fill="#c40a2c"/>
<circle cx="115.4" cy="234.75" r="1.5" fill="#c40a2c"/>
<circle cx="77.71" cy="223.1" r="1.5" fill="#c40a2c"/>
<circle cx="130.91" cy="254.2" r="1.5" fill="#c40a2c"/>
<circle cx="109.37" cy="236.56" r="1.5" fill="#c40a2c"/>
<circle cx="64.06" cy="245.05" r="1.5" fill="#c40a2c"/>
<circle cx="76.35" cy="228.23" r="1.5" fill="#c40a2c"/>
<circle cx="79.23" cy="254.8" r="1.5" fill="#c40a2c"/>
<circle cx="79.8" cy="226.91" r="1.5" fill="#c40a2c"/>
<circle cx="95.32" cy="230.09" r="1.5" fill="#c40a2c"/>
<circle cx="93.72" cy="244.17" r="1.5" fill="#c40a2c"/>
<circle cx="57.24" cy="239.57" r="1.5" fill="#c40a2c"/>
<circle cx="62.5" cy="241.09" r="1.5" fill="#c40a2c"/>
<circle cx="101.08" cy="237.49" r="1.5" fill="#c40a2c"/>
<circle cx="94.09" cy="230.76" r="1.5" fill="#c40a2c"/>
<circle cx="85.96" cy="237.89" r="1.5" fill="#c40a2c"/>
<circle cx="118.69" cy="231.78" r="1.5" fill="#c40a2c"/>
<circle cx="91.35" cy="232.79" r="1.5" fill="#c40a2c"/>
<circle cx="93.49" cy="238.65" r="1.5" fill="#c40a2c"/>
<circle cx="121.68" cy="242.11" r="1.5" fill="#c40a2c"/>
<circle cx="124.25" cy="225.74" r="1.5" fill="#c40a2c"/>
<circle cx="118.51" cy="245.06" r="1.5" fill="#c40a2c"/>
<circle cx="95.77" cy="221.09" r="1.5" fill="#c40a2c"/>
<circle cx="84.27" cy="244.68" r="1.5" fill="#c40a2c"/>
<circle cx="106.9" cy="242.04" r="1.5" fill="#c40a2c"/>
<circle cx="99.3" cy="245.29" r="1.5" fill="#c40a2c"/>
<circle cx="86.6" cy="267.81" r="1.5" fill="#c40a2c"/>
<circle cx="100.63" cy="267.32" r="1.5" fill="#c40a2c"/>
<circle cx="55.03" cy="259" r="1.5" fill="#c40a2c"/>
<circle cx="48.02" cy="243.34" r="1.5" fill="#c40a2c"/>
<circle cx="51.53" cy="241.38" r="1.5" fill="#c40a2c"/>
<circle cx="56.2" cy="244.31" r="1.5" fill="#c40a2c"/>
<circle cx="57.37" cy="247.25" r="1.5" fill="#c40a2c"/>
<circle cx="125.17" cy="257.04" r="1.5" fill="#c40a2c"/>
<circle cx="121.67" cy="252.15" r="1.5" fill="#c40a2c"/>
<circle cx="131.02" cy="187.53" r="1.5" fill="#c40a2c"/>
<circle cx="131.02" cy="191.45" r="1.5" fill="#c40a2c"/>
<circle cx="132.19" cy="194.38" r="1.5" fill="#c40a2c"/>
<line x1="48.37" y1="227.67" x2="141.19" y2="208.09" stroke="#1a1a1a" stroke-width="0.85"/>
<text x="141.9" y="266.3" font-size="6.2" fill="#1c1c1c" text-anchor="start" stroke="#1c1c1c" stroke-width="0.08">R: 0.2734</text>
<text x="141.9" y="273.9" font-size="6.2" fill="#1c1c1c" text-anchor="start" stroke="#1c1c1c" stroke-width="0.08"><tspan font-style="italic">P</tspan> &lt; .0001</text>
<text x="14.12" y="222.5" font-size="8.1" fill="#1c1c1c" text-anchor="middle" stroke="#1c1c1c" stroke-width="0.38" textLength="64" lengthAdjust="spacingAndGlyphs" transform="rotate(-90 14.12 222.5)">% CD107a total NK cells</text>
<text x="97.2" y="299.72" font-size="8.1" fill="#1c1c1c" text-anchor="middle" stroke="#1c1c1c" stroke-width="0.38" textLength="76.4" lengthAdjust="spacingAndGlyphs">Frequency of NKG2A<tspan baseline-shift="super" font-size="4.6">+</tspan> NK cells</text>
<line x1="338.5" y1="25.05" x2="338.5" y2="124.8" stroke="#1e1e1e" stroke-width="1.3"/>
<line x1="335.5" y1="124.5" x2="338.5" y2="124.5" stroke="#1e1e1e" stroke-width="1.0"/>
<text x="332.6" y="126.45" font-size="6.3" fill="#1c1c1c" text-anchor="end">0</text>
<line x1="335.5" y1="104.5" x2="338.5" y2="104.5" stroke="#1e1e1e" stroke-width="1.0"/>
<text x="332.6" y="106.86" font-size="6.3" fill="#1c1c1c" text-anchor="end">20</text>
<line x1="335.5" y1="85.5" x2="338.5" y2="85.5" stroke="#1e1e1e" stroke-width="1.0"/>
<text x="332.6" y="87.27" font-size="6.3" fill="#1c1c1c" text-anchor="end">40</text>
<line x1="335.5" y1="65.5" x2="338.5" y2="65.5" stroke="#1e1e1e" stroke-width="1.0"/>
<text x="332.6" y="67.68" font-size="6.3" fill="#1c1c1c" text-anchor="end">60</text>
<line x1="335.5" y1="45.5" x2="338.5" y2="45.5" stroke="#1e1e1e" stroke-width="1.0"/>
<text x="332.6" y="48.09" font-size="6.3" fill="#1c1c1c" text-anchor="end">80</text>
<line x1="335.5" y1="26.5" x2="338.5" y2="26.5" stroke="#1e1e1e" stroke-width="1.0"/>
<text x="332.6" y="28.5" font-size="6.3" fill="#1c1c1c" text-anchor="end">100</text>
<line x1="337.9" y1="124.5" x2="404" y2="124.5" stroke="#1e1e1e" stroke-width="1.3"/>
<line x1="351.5" y1="124.2" x2="351.5" y2="127.2" stroke="#1e1e1e" stroke-width="1.0"/>
<line x1="371.5" y1="124.2" x2="371.5" y2="127.2" stroke="#1e1e1e" stroke-width="1.0"/>
<line x1="391.5" y1="124.2" x2="391.5" y2="127.2" stroke="#1e1e1e" stroke-width="1.0"/>
<text x="355.4" y="134.4" font-size="6.4" fill="#1c1c1c" text-anchor="end" stroke="#1c1c1c" stroke-width="0.12" transform="rotate(-45 355.4 134.4)">440C/C</text>
<text x="375.4" y="134.4" font-size="6.4" fill="#1c1c1c" text-anchor="end" stroke="#1c1c1c" stroke-width="0.12" transform="rotate(-45 375.4 134.4)">440C/T</text>
<text x="395.2" y="134.4" font-size="6.4" fill="#1c1c1c" text-anchor="end" stroke="#1c1c1c" stroke-width="0.12" transform="rotate(-45 395.2 134.4)">440T/T</text>
<text x="310.5" y="144" font-size="6.6" fill="#1c1c1c" text-anchor="start" stroke="#1c1c1c" stroke-width="0.1">NKG2A</text>
<text x="316.92" y="73.8" font-size="8.1" fill="#1c1c1c" text-anchor="middle" stroke="#1c1c1c" stroke-width="0.38" textLength="84.2" lengthAdjust="spacingAndGlyphs" transform="rotate(-90 316.92 73.8)">% CD107a NKG2ASP CD56<tspan baseline-shift="super" font-size="4.6">dim</tspan> NK</text>
<line x1="343.9" y1="46.5" x2="358.9" y2="46.5" stroke="#1a080c" stroke-width="1.1"/>
<line x1="347.9" y1="37.5" x2="354.9" y2="37.5" stroke="#4a0814" stroke-width="0.9"/>
<line x1="347.9" y1="56.5" x2="354.9" y2="56.5" stroke="#4a0814" stroke-width="0.9"/>
<circle cx="347.65" cy="46.97" r="1.0" fill="#c40a2c"/>
<circle cx="349.48" cy="46.89" r="1.0" fill="#c40a2c"/>
<circle cx="351.18" cy="46.74" r="1.0" fill="#c40a2c"/>
<circle cx="353.14" cy="47.03" r="1.0" fill="#c40a2c"/>
<circle cx="355.42" cy="46.89" r="1.0" fill="#c40a2c"/>
<circle cx="346.27" cy="43.11" r="1.0" fill="#c40a2c"/>
<circle cx="347.52" cy="43.56" r="1.0" fill="#c40a2c"/>
<circle cx="349.33" cy="43.02" r="1.0" fill="#c40a2c"/>
<circle cx="350.47" cy="43.54" r="1.0" fill="#c40a2c"/>
<circle cx="351.61" cy="43.23" r="1.0" fill="#c40a2c"/>
<circle cx="352.43" cy="43.25" r="1.0" fill="#c40a2c"/>
<circle cx="354.49" cy="43.31" r="1.0" fill="#c40a2c"/>
<circle cx="355.43" cy="43.51" r="1.0" fill="#c40a2c"/>
<circle cx="356.68" cy="43.7" r="1.0" fill="#c40a2c"/>
<circle cx="347.64" cy="51.52" r="1.0" fill="#c40a2c"/>
<circle cx="349.03" cy="51.76" r="1.0" fill="#c40a2c"/>
<circle cx="350.27" cy="52.03" r="1.0" fill="#c40a2c"/>
<circle cx="352.81" cy="52.17" r="1.0" fill="#c40a2c"/>
<circle cx="354.25" cy="52.2" r="1.0" fill="#c40a2c"/>
<circle cx="355.63" cy="51.51" r="1.0" fill="#c40a2c"/>
<circle cx="346.6" cy="44.78" r="1.0" fill="#c40a2c"/>
<circle cx="347.91" cy="45.08" r="1.0" fill="#c40a2c"/>
<circle cx="350.31" cy="44.85" r="1.0" fill="#c40a2c"/>
<circle cx="351.27" cy="45.07" r="1.0" fill="#c40a2c"/>
<circle cx="353.13" cy="44.91" r="1.0" fill="#c40a2c"/>
<circle cx="354.66" cy="45.08" r="1.0" fill="#c40a2c"/>
<circle cx="355.54" cy="44.97" r="1.0" fill="#c40a2c"/>
<circle cx="348.66" cy="56.61" r="1.0" fill="#c40a2c"/>
<circle cx="350.08" cy="56.8" r="1.0" fill="#c40a2c"/>
<circle cx="352.2" cy="56.85" r="1.0" fill="#c40a2c"/>
<circle cx="354.85" cy="57.25" r="1.0" fill="#c40a2c"/>
<circle cx="345" cy="41.75" r="1.0" fill="#c40a2c"/>
<circle cx="345.57" cy="41.64" r="1.0" fill="#c40a2c"/>
<circle cx="347.44" cy="41.6" r="1.0" fill="#c40a2c"/>
<circle cx="347.71" cy="41.47" r="1.0" fill="#c40a2c"/>
<circle cx="348.87" cy="42.07" r="1.0" fill="#c40a2c"/>
<circle cx="350.09" cy="41.79" r="1.0" fill="#c40a2c"/>
<circle cx="351" cy="41.31" r="1.0" fill="#c40a2c"/>
<circle cx="352.05" cy="41.34" r="1.0" fill="#c40a2c"/>
<circle cx="352.79" cy="41.52" r="1.0" fill="#c40a2c"/>
<circle cx="353.46" cy="41.93" r="1.0" fill="#c40a2c"/>
<circle cx="355.2" cy="41.58" r="1.0" fill="#c40a2c"/>
<circle cx="356.36" cy="41.86" r="1.0" fill="#c40a2c"/>
<circle cx="356.7" cy="41.88" r="1.0" fill="#c40a2c"/>
<circle cx="358.01" cy="42.18" r="1.0" fill="#c40a2c"/>
<circle cx="348.61" cy="40.37" r="1.0" fill="#c40a2c"/>
<circle cx="350.1" cy="39.71" r="1.0" fill="#c40a2c"/>
<circle cx="352.74" cy="40.28" r="1.0" fill="#c40a2c"/>
<circle cx="353.74" cy="40.39" r="1.0" fill="#c40a2c"/>
<circle cx="350.39" cy="33.03" r="1.0" fill="#c40a2c"/>
<circle cx="351.65" cy="33.26" r="1.0" fill="#c40a2c"/>
<circle cx="347.19" cy="37.07" r="1.0" fill="#c40a2c"/>
<circle cx="348.82" cy="36.33" r="1.0" fill="#c40a2c"/>
<circle cx="349.57" cy="36.47" r="1.0" fill="#c40a2c"/>
<circle cx="351.64" cy="36.8" r="1.0" fill="#c40a2c"/>
<circle cx="353.33" cy="36.9" r="1.0" fill="#c40a2c"/>
<circle cx="354.33" cy="36.82" r="1.0" fill="#c40a2c"/>
<circle cx="355.77" cy="36.37" r="1.0" fill="#c40a2c"/>
<circle cx="350.65" cy="65.11" r="1.0" fill="#c40a2c"/>
<circle cx="352.09" cy="65.8" r="1.0" fill="#c40a2c"/>
<circle cx="347.1" cy="38.66" r="1.0" fill="#c40a2c"/>
<circle cx="349" cy="38.49" r="1.0" fill="#c40a2c"/>
<circle cx="349.85" cy="38.41" r="1.0" fill="#c40a2c"/>
<circle cx="351.79" cy="37.98" r="1.0" fill="#c40a2c"/>
<circle cx="353.09" cy="38.65" r="1.0" fill="#c40a2c"/>
<circle cx="354.19" cy="38.16" r="1.0" fill="#c40a2c"/>
<circle cx="355.5" cy="38.01" r="1.0" fill="#c40a2c"/>
<circle cx="349.95" cy="59" r="1.0" fill="#c40a2c"/>
<circle cx="351.24" cy="58.99" r="1.0" fill="#c40a2c"/>
<circle cx="353.56" cy="59.16" r="1.0" fill="#c40a2c"/>
<circle cx="349.73" cy="60.84" r="1.0" fill="#c40a2c"/>
<circle cx="351.81" cy="60.41" r="1.0" fill="#c40a2c"/>
<circle cx="353.4" cy="60.81" r="1.0" fill="#c40a2c"/>
<circle cx="348.95" cy="55.48" r="1.0" fill="#c40a2c"/>
<circle cx="351.98" cy="55.26" r="1.0" fill="#c40a2c"/>
<circle cx="353.73" cy="55.74" r="1.0" fill="#c40a2c"/>
<circle cx="350.92" cy="82.98" r="1.0" fill="#c40a2c"/>
<circle cx="351.64" cy="72.64" r="1.0" fill="#c40a2c"/>
<circle cx="348.52" cy="48.37" r="1.0" fill="#c40a2c"/>
<circle cx="350.01" cy="48.58" r="1.0" fill="#c40a2c"/>
<circle cx="351.87" cy="48.49" r="1.0" fill="#c40a2c"/>
<circle cx="353.85" cy="48.68" r="1.0" fill="#c40a2c"/>
<circle cx="349.2" cy="64.04" r="1.0" fill="#c40a2c"/>
<circle cx="351.11" cy="64.29" r="1.0" fill="#c40a2c"/>
<circle cx="353.07" cy="63.77" r="1.0" fill="#c40a2c"/>
<circle cx="351.12" cy="74.4" r="1.0" fill="#c40a2c"/>
<circle cx="351.82" cy="79.18" r="1.0" fill="#c40a2c"/>
<circle cx="350.24" cy="53.3" r="1.0" fill="#c40a2c"/>
<circle cx="352.67" cy="53.54" r="1.0" fill="#c40a2c"/>
<circle cx="351.59" cy="61.98" r="1.0" fill="#c40a2c"/>
<circle cx="351.4" cy="35.03" r="1.0" fill="#c40a2c"/>
<circle cx="351.27" cy="77.45" r="1.0" fill="#c40a2c"/>
<circle cx="351.36" cy="50.22" r="1.0" fill="#c40a2c"/>
<circle cx="351.44" cy="75.49" r="1.0" fill="#c40a2c"/>
<circle cx="351.87" cy="70.9" r="1.0" fill="#c40a2c"/>
<line x1="363.9" y1="48.5" x2="378.9" y2="48.5" stroke="#1a080c" stroke-width="1.1"/>
<line x1="367.9" y1="37.5" x2="374.9" y2="37.5" stroke="#4a0814" stroke-width="0.9"/>
<line x1="367.9" y1="60.5" x2="374.9" y2="60.5" stroke="#4a0814" stroke-width="0.9"/>
<circle cx="364.62" cy="45.11" r="1.0" fill="#c40a2c"/>
<circle cx="366.14" cy="44.82" r="1.0" fill="#c40a2c"/>
<circle cx="365.85" cy="45.1" r="1.0" fill="#c40a2c"/>
<circle cx="366.49" cy="45.45" r="1.0" fill="#c40a2c"/>
<circle cx="367.55" cy="44.92" r="1.0" fill="#c40a2c"/>
<circle cx="367.62" cy="45.22" r="1.0" fill="#c40a2c"/>
<circle cx="368.6" cy="44.95" r="1.0" fill="#c40a2c"/>
<circle cx="368.87" cy="45.49" r="1.0" fill="#c40a2c"/>
<circle cx="368.98" cy="45.45" r="1.0" fill="#c40a2c"/>
<circle cx="370.41" cy="45.15" r="1.0" fill="#c40a2c"/>
<circle cx="370.75" cy="45.27" r="1.0" fill="#c40a2c"/>
<circle cx="370.97" cy="45.44" r="1.0" fill="#c40a2c"/>
<circle cx="372.25" cy="45.06" r="1.0" fill="#c40a2c"/>
<circle cx="371.79" cy="44.97" r="1.0" fill="#c40a2c"/>
<circle cx="372.9" cy="45.05" r="1.0" fill="#c40a2c"/>
<circle cx="373.66" cy="45.05" r="1.0" fill="#c40a2c"/>
<circle cx="374.34" cy="44.73" r="1.0" fill="#c40a2c"/>
<circle cx="374.33" cy="45.02" r="1.0" fill="#c40a2c"/>
<circle cx="374.85" cy="45.23" r="1.0" fill="#c40a2c"/>
<circle cx="375.39" cy="45.02" r="1.0" fill="#c40a2c"/>
<circle cx="375.92" cy="45.28" r="1.0" fill="#c40a2c"/>
<circle cx="377.07" cy="44.88" r="1.0" fill="#c40a2c"/>
<circle cx="377.42" cy="44.84" r="1.0" fill="#c40a2c"/>
<circle cx="377.62" cy="45.02" r="1.0" fill="#c40a2c"/>
<circle cx="366.96" cy="47.02" r="1.0" fill="#c40a2c"/>
<circle cx="367.61" cy="46.58" r="1.0" fill="#c40a2c"/>
<circle cx="369.42" cy="47.03" r="1.0" fill="#c40a2c"/>
<circle cx="369.6" cy="47.19" r="1.0" fill="#c40a2c"/>
<circle cx="370.14" cy="46.73" r="1.0" fill="#c40a2c"/>
<circle cx="371.87" cy="47.22" r="1.0" fill="#c40a2c"/>
<circle cx="371.93" cy="46.62" r="1.0" fill="#c40a2c"/>
<circle cx="372.73" cy="46.51" r="1.0" fill="#c40a2c"/>
<circle cx="373.71" cy="46.87" r="1.0" fill="#c40a2c"/>
<circle cx="374.35" cy="47.04" r="1.0" fill="#c40a2c"/>
<circle cx="375.45" cy="47.05" r="1.0" fill="#c40a2c"/>
<circle cx="368.1" cy="39.93" r="1.0" fill="#c40a2c"/>
<circle cx="370.21" cy="40.21" r="1.0" fill="#c40a2c"/>
<circle cx="370.67" cy="40.39" r="1.0" fill="#c40a2c"/>
<circle cx="371.72" cy="39.79" r="1.0" fill="#c40a2c"/>
<circle cx="373.53" cy="40.49" r="1.0" fill="#c40a2c"/>
<circle cx="374.54" cy="39.96" r="1.0" fill="#c40a2c"/>
<circle cx="369.71" cy="72.42" r="1.0" fill="#c40a2c"/>
<circle cx="371.99" cy="71.92" r="1.0" fill="#c40a2c"/>
<circle cx="370.82" cy="61.82" r="1.0" fill="#c40a2c"/>
<circle cx="372.3" cy="62.49" r="1.0" fill="#c40a2c"/>
<circle cx="368.25" cy="51.9" r="1.0" fill="#c40a2c"/>
<circle cx="369.45" cy="52.32" r="1.0" fill="#c40a2c"/>
<circle cx="371.01" cy="52.26" r="1.0" fill="#c40a2c"/>
<circle cx="372.89" cy="51.88" r="1.0" fill="#c40a2c"/>
<circle cx="373.96" cy="51.54" r="1.0" fill="#c40a2c"/>
<circle cx="374.98" cy="51.82" r="1.0" fill="#c40a2c"/>
<circle cx="370.76" cy="82.4" r="1.0" fill="#c40a2c"/>
<circle cx="371.91" cy="82.52" r="1.0" fill="#c40a2c"/>
<circle cx="364.8" cy="43.44" r="1.0" fill="#c40a2c"/>
<circle cx="365.7" cy="43.28" r="1.0" fill="#c40a2c"/>
<circle cx="366.07" cy="43.19" r="1.0" fill="#c40a2c"/>
<circle cx="366.92" cy="43.82" r="1.0" fill="#c40a2c"/>
<circle cx="366.64" cy="43.86" r="1.0" fill="#c40a2c"/>
<circle cx="367.2" cy="43.04" r="1.0" fill="#c40a2c"/>
<circle cx="367.92" cy="43.5" r="1.0" fill="#c40a2c"/>
<circle cx="368.65" cy="43.39" r="1.0" fill="#c40a2c"/>
<circle cx="368.97" cy="43.2" r="1.0" fill="#c40a2c"/>
<circle cx="369.57" cy="43.14" r="1.0" fill="#c40a2c"/>
<circle cx="370.68" cy="43.9" r="1.0" fill="#c40a2c"/>
<circle cx="370.92" cy="43.82" r="1.0" fill="#c40a2c"/>
<circle cx="371.86" cy="43.84" r="1.0" fill="#c40a2c"/>
<circle cx="371.66" cy="43.21" r="1.0" fill="#c40a2c"/>
<circle cx="372.59" cy="43.3" r="1.0" fill="#c40a2c"/>
<circle cx="372.92" cy="43.43" r="1.0" fill="#c40a2c"/>
<circle cx="373.21" cy="43.48" r="1.0" fill="#c40a2c"/>
<circle cx="373.82" cy="43.29" r="1.0" fill="#c40a2c"/>
<circle cx="374.18" cy="43.78" r="1.0" fill="#c40a2c"/>
<circle cx="374.83" cy="43.42" r="1.0" fill="#c40a2c"/>
<circle cx="375.83" cy="43.9" r="1.0" fill="#c40a2c"/>
<circle cx="376.86" cy="43.15" r="1.0" fill="#c40a2c"/>
<circle cx="376.67" cy="43.76" r="1.0" fill="#c40a2c"/>
<circle cx="377.75" cy="43.02" r="1.0" fill="#c40a2c"/>
<circle cx="377.51" cy="43.22" r="1.0" fill="#c40a2c"/>
<circle cx="369.87" cy="55.61" r="1.0" fill="#c40a2c"/>
<circle cx="370.47" cy="55.65" r="1.0" fill="#c40a2c"/>
<circle cx="372.19" cy="54.99" r="1.0" fill="#c40a2c"/>
<circle cx="374.58" cy="55.37" r="1.0" fill="#c40a2c"/>
<circle cx="366.42" cy="48.68" r="1.0" fill="#c40a2c"/>
<circle cx="367.31" cy="48.42" r="1.0" fill="#c40a2c"/>
<circle cx="368.64" cy="48.3" r="1.0" fill="#c40a2c"/>
<circle cx="369.06" cy="48.59" r="1.0" fill="#c40a2c"/>
<circle cx="369.85" cy="48.67" r="1.0" fill="#c40a2c"/>
<circle cx="370.59" cy="48.38" r="1.0" fill="#c40a2c"/>
<circle cx="371.65" cy="48.71" r="1.0" fill="#c40a2c"/>
<circle cx="372.24" cy="48.87" r="1.0" fill="#c40a2c"/>
<circle cx="372.37" cy="48.65" r="1.0" fill="#c40a2c"/>
<circle cx="373.5" cy="48.97" r="1.0" fill="#c40a2c"/>
<circle cx="373.92" cy="48.62" r="1.0" fill="#c40a2c"/>
<circle cx="375.71" cy="48.25" r="1.0" fill="#c40a2c"/>
<circle cx="375.37" cy="48.71" r="1.0" fill="#c40a2c"/>
<circle cx="368.08" cy="53.98" r="1.0" fill="#c40a2c"/>
<circle cx="369.6" cy="53.34" r="1.0" fill="#c40a2c"/>
<circle cx="370.53" cy="53.94" r="1.0" fill="#c40a2c"/>
<circle cx="371.39" cy="54.09" r="1.0" fill="#c40a2c"/>
<circle cx="373.37" cy="53.89" r="1.0" fill="#c40a2c"/>
<circle cx="374.5" cy="53.39" r="1.0" fill="#c40a2c"/>
<circle cx="365.52" cy="41.92" r="1.0" fill="#c40a2c"/>
<circle cx="366.9" cy="41.54" r="1.0" fill="#c40a2c"/>
<circle cx="367.02" cy="41.79" r="1.0" fill="#c40a2c"/>
<circle cx="367.76" cy="41.78" r="1.0" fill="#c40a2c"/>
<circle cx="368.96" cy="41.96" r="1.0" fill="#c40a2c"/>
<circle cx="369.66" cy="41.37" r="1.0" fill="#c40a2c"/>
<circle cx="370.09" cy="41.34" r="1.0" fill="#c40a2c"/>
<circle cx="371.17" cy="42.05" r="1.0" fill="#c40a2c"/>
<circle cx="371.91" cy="42.02" r="1.0" fill="#c40a2c"/>
<circle cx="372.37" cy="42.09" r="1.0" fill="#c40a2c"/>
<circle cx="372.44" cy="41.8" r="1.0" fill="#c40a2c"/>
<circle cx="373.76" cy="41.59" r="1.0" fill="#c40a2c"/>
<circle cx="373.68" cy="41.39" r="1.0" fill="#c40a2c"/>
<circle cx="375.15" cy="41.74" r="1.0" fill="#c40a2c"/>
<circle cx="374.85" cy="41.94" r="1.0" fill="#c40a2c"/>
<circle cx="375.82" cy="41.82" r="1.0" fill="#c40a2c"/>
<circle cx="368.99" cy="36.36" r="1.0" fill="#c40a2c"/>
<circle cx="369.55" cy="36.88" r="1.0" fill="#c40a2c"/>
<circle cx="371.53" cy="36.79" r="1.0" fill="#c40a2c"/>
<circle cx="372.11" cy="37.04" r="1.0" fill="#c40a2c"/>
<circle cx="373.08" cy="36.73" r="1.0" fill="#c40a2c"/>
<circle cx="374.86" cy="36.74" r="1.0" fill="#c40a2c"/>
<circle cx="370.26" cy="89.78" r="1.0" fill="#c40a2c"/>
<circle cx="372.62" cy="89.5" r="1.0" fill="#c40a2c"/>
<circle cx="369.49" cy="80.96" r="1.0" fill="#c40a2c"/>
<circle cx="371.12" cy="81.25" r="1.0" fill="#c40a2c"/>
<circle cx="373.06" cy="81.03" r="1.0" fill="#c40a2c"/>
<circle cx="369.04" cy="59.17" r="1.0" fill="#c40a2c"/>
<circle cx="371.38" cy="59.18" r="1.0" fill="#c40a2c"/>
<circle cx="373.75" cy="58.88" r="1.0" fill="#c40a2c"/>
<circle cx="368.41" cy="35.38" r="1.0" fill="#c40a2c"/>
<circle cx="369.09" cy="34.69" r="1.0" fill="#c40a2c"/>
<circle cx="370.82" cy="34.96" r="1.0" fill="#c40a2c"/>
<circle cx="371.75" cy="34.72" r="1.0" fill="#c40a2c"/>
<circle cx="373.13" cy="34.69" r="1.0" fill="#c40a2c"/>
<circle cx="374.71" cy="34.6" r="1.0" fill="#c40a2c"/>
<circle cx="369.77" cy="63.69" r="1.0" fill="#c40a2c"/>
<circle cx="371.35" cy="63.82" r="1.0" fill="#c40a2c"/>
<circle cx="373.39" cy="63.83" r="1.0" fill="#c40a2c"/>
<circle cx="368.08" cy="38.03" r="1.0" fill="#c40a2c"/>
<circle cx="368.08" cy="38.12" r="1.0" fill="#c40a2c"/>
<circle cx="369.69" cy="38.26" r="1.0" fill="#c40a2c"/>
<circle cx="370.96" cy="38.76" r="1.0" fill="#c40a2c"/>
<circle cx="371.37" cy="38.46" r="1.0" fill="#c40a2c"/>
<circle cx="372.86" cy="38.65" r="1.0" fill="#c40a2c"/>
<circle cx="373.33" cy="38.67" r="1.0" fill="#c40a2c"/>
<circle cx="374.48" cy="38.36" r="1.0" fill="#c40a2c"/>
<circle cx="375.39" cy="38.52" r="1.0" fill="#c40a2c"/>
<circle cx="369.96" cy="57.49" r="1.0" fill="#c40a2c"/>
<circle cx="371.07" cy="56.84" r="1.0" fill="#c40a2c"/>
<circle cx="373.75" cy="56.8" r="1.0" fill="#c40a2c"/>
<circle cx="367.9" cy="50.63" r="1.0" fill="#c40a2c"/>
<circle cx="369.5" cy="50.04" r="1.0" fill="#c40a2c"/>
<circle cx="369.8" cy="49.86" r="1.0" fill="#c40a2c"/>
<circle cx="371.43" cy="50.67" r="1.0" fill="#c40a2c"/>
<circle cx="372.45" cy="50.4" r="1.0" fill="#c40a2c"/>
<circle cx="373.08" cy="49.9" r="1.0" fill="#c40a2c"/>
<circle cx="375.15" cy="50.59" r="1.0" fill="#c40a2c"/>
<circle cx="370.12" cy="65.39" r="1.0" fill="#c40a2c"/>
<circle cx="371.83" cy="65.7" r="1.0" fill="#c40a2c"/>
<circle cx="368.91" cy="33.31" r="1.0" fill="#c40a2c"/>
<circle cx="370.63" cy="32.85" r="1.0" fill="#c40a2c"/>
<circle cx="372.62" cy="32.88" r="1.0" fill="#c40a2c"/>
<circle cx="374.08" cy="33.49" r="1.0" fill="#c40a2c"/>
<circle cx="368.72" cy="60.32" r="1.0" fill="#c40a2c"/>
<circle cx="370.48" cy="60.59" r="1.0" fill="#c40a2c"/>
<circle cx="372.53" cy="60.62" r="1.0" fill="#c40a2c"/>
<circle cx="372.94" cy="60.82" r="1.0" fill="#c40a2c"/>
<circle cx="371.05" cy="87.44" r="1.0" fill="#c40a2c"/>
<circle cx="371.81" cy="71.06" r="1.0" fill="#c40a2c"/>
<circle cx="371.08" cy="77.68" r="1.0" fill="#c40a2c"/>
<circle cx="371.74" cy="68.59" r="1.0" fill="#c40a2c"/>
<circle cx="371.12" cy="67.61" r="1.0" fill="#c40a2c"/>
<circle cx="371.96" cy="90.63" r="1.0" fill="#c40a2c"/>
<circle cx="371.66" cy="109.77" r="1.0" fill="#c40a2c"/>
<line x1="383.7" y1="47.5" x2="398.7" y2="47.5" stroke="#1a080c" stroke-width="1.1"/>
<line x1="387.7" y1="36.5" x2="394.7" y2="36.5" stroke="#4a0814" stroke-width="0.9"/>
<line x1="387.7" y1="59.5" x2="394.7" y2="59.5" stroke="#4a0814" stroke-width="0.9"/>
<circle cx="388.86" cy="65.47" r="1.0" fill="#c40a2c"/>
<circle cx="391.37" cy="65.28" r="1.0" fill="#c40a2c"/>
<circle cx="393.49" cy="65.88" r="1.0" fill="#c40a2c"/>
<circle cx="387.5" cy="47.17" r="1.0" fill="#c40a2c"/>
<circle cx="388.88" cy="47.27" r="1.0" fill="#c40a2c"/>
<circle cx="390.49" cy="46.69" r="1.0" fill="#c40a2c"/>
<circle cx="391.57" cy="46.86" r="1.0" fill="#c40a2c"/>
<circle cx="392.85" cy="46.55" r="1.0" fill="#c40a2c"/>
<circle cx="393.9" cy="46.57" r="1.0" fill="#c40a2c"/>
<circle cx="394.32" cy="46.99" r="1.0" fill="#c40a2c"/>
<circle cx="390.12" cy="58.77" r="1.0" fill="#c40a2c"/>
<circle cx="392.29" cy="58.94" r="1.0" fill="#c40a2c"/>
<circle cx="387.65" cy="38.02" r="1.0" fill="#c40a2c"/>
<circle cx="389.45" cy="38.12" r="1.0" fill="#c40a2c"/>
<circle cx="390.5" cy="37.97" r="1.0" fill="#c40a2c"/>
<circle cx="390.93" cy="38.24" r="1.0" fill="#c40a2c"/>
<circle cx="391.83" cy="38.19" r="1.0" fill="#c40a2c"/>
<circle cx="394.05" cy="38.34" r="1.0" fill="#c40a2c"/>
<circle cx="394.24" cy="38.29" r="1.0" fill="#c40a2c"/>
<circle cx="385.65" cy="43.83" r="1.0" fill="#c40a2c"/>
<circle cx="386.38" cy="43.16" r="1.0" fill="#c40a2c"/>
<circle cx="387.54" cy="43.13" r="1.0" fill="#c40a2c"/>
<circle cx="387.98" cy="43.5" r="1.0" fill="#c40a2c"/>
<circle cx="388.28" cy="43.19" r="1.0" fill="#c40a2c"/>
<circle cx="389.68" cy="43.53" r="1.0" fill="#c40a2c"/>
<circle cx="389.95" cy="43.49" r="1.0" fill="#c40a2c"/>
<circle cx="390.63" cy="43.79" r="1.0" fill="#c40a2c"/>
<circle cx="391.43" cy="43.52" r="1.0" fill="#c40a2c"/>
<circle cx="392.28" cy="43.16" r="1.0" fill="#c40a2c"/>
<circle cx="393.63" cy="43.12" r="1.0" fill="#c40a2c"/>
<circle cx="394.34" cy="43.76" r="1.0" fill="#c40a2c"/>
<circle cx="394.79" cy="43.14" r="1.0" fill="#c40a2c"/>
<circle cx="395.94" cy="43.32" r="1.0" fill="#c40a2c"/>
<circle cx="386.49" cy="45.56" r="1.0" fill="#c40a2c"/>
<circle cx="386.78" cy="45.21" r="1.0" fill="#c40a2c"/>
<circle cx="388.37" cy="44.75" r="1.0" fill="#c40a2c"/>
<circle cx="388.88" cy="45.37" r="1.0" fill="#c40a2c"/>
<circle cx="389.03" cy="45.1" r="1.0" fill="#c40a2c"/>
<circle cx="390.28" cy="44.76" r="1.0" fill="#c40a2c"/>
<circle cx="390.85" cy="45.42" r="1.0" fill="#c40a2c"/>
<circle cx="391.43" cy="45.57" r="1.0" fill="#c40a2c"/>
<circle cx="393.19" cy="44.82" r="1.0" fill="#c40a2c"/>
<circle cx="393.22" cy="45.59" r="1.0" fill="#c40a2c"/>
<circle cx="394.54" cy="45.38" r="1.0" fill="#c40a2c"/>
<circle cx="395.39" cy="44.78" r="1.0" fill="#c40a2c"/>
<circle cx="396.36" cy="45.35" r="1.0" fill="#c40a2c"/>
<circle cx="391.33" cy="72.54" r="1.0" fill="#c40a2c"/>
<circle cx="390.22" cy="68.62" r="1.0" fill="#c40a2c"/>
<circle cx="392.62" cy="68.6" r="1.0" fill="#c40a2c"/>
<circle cx="385.09" cy="41.68" r="1.0" fill="#c40a2c"/>
<circle cx="384.87" cy="41.62" r="1.0" fill="#c40a2c"/>
<circle cx="385.56" cy="42.1" r="1.0" fill="#c40a2c"/>
<circle cx="385.85" cy="41.65" r="1.0" fill="#c40a2c"/>
<circle cx="386.71" cy="42.11" r="1.0" fill="#c40a2c"/>
<circle cx="387.97" cy="42.07" r="1.0" fill="#c40a2c"/>
<circle cx="388.57" cy="41.95" r="1.0" fill="#c40a2c"/>
<circle cx="388.72" cy="41.36" r="1.0" fill="#c40a2c"/>
<circle cx="389.89" cy="41.45" r="1.0" fill="#c40a2c"/>
<circle cx="390.69" cy="41.66" r="1.0" fill="#c40a2c"/>
<circle cx="391.26" cy="41.64" r="1.0" fill="#c40a2c"/>
<circle cx="391.45" cy="41.91" r="1.0" fill="#c40a2c"/>
<circle cx="391.83" cy="41.69" r="1.0" fill="#c40a2c"/>
<circle cx="392.29" cy="41.62" r="1.0" fill="#c40a2c"/>
<circle cx="393.65" cy="41.55" r="1.0" fill="#c40a2c"/>
<circle cx="393.5" cy="42.18" r="1.0" fill="#c40a2c"/>
<circle cx="394.29" cy="41.81" r="1.0" fill="#c40a2c"/>
<circle cx="395.49" cy="41.71" r="1.0" fill="#c40a2c"/>
<circle cx="395.71" cy="41.65" r="1.0" fill="#c40a2c"/>
<circle cx="396.37" cy="41.59" r="1.0" fill="#c40a2c"/>
<circle cx="397" cy="41.7" r="1.0" fill="#c40a2c"/>
<circle cx="397.23" cy="42.09" r="1.0" fill="#c40a2c"/>
<circle cx="390.65" cy="70.25" r="1.0" fill="#c40a2c"/>
<circle cx="391.84" cy="70.58" r="1.0" fill="#c40a2c"/>
<circle cx="388.62" cy="52.24" r="1.0" fill="#c40a2c"/>
<circle cx="390.72" cy="52.32" r="1.0" fill="#c40a2c"/>
<circle cx="391.74" cy="52.15" r="1.0" fill="#c40a2c"/>
<circle cx="393.41" cy="52.23" r="1.0" fill="#c40a2c"/>
<circle cx="387.08" cy="48.85" r="1.0" fill="#c40a2c"/>
<circle cx="388.29" cy="48.46" r="1.0" fill="#c40a2c"/>
<circle cx="389.33" cy="48.57" r="1.0" fill="#c40a2c"/>
<circle cx="390.38" cy="48.73" r="1.0" fill="#c40a2c"/>
<circle cx="391.27" cy="48.38" r="1.0" fill="#c40a2c"/>
<circle cx="392.04" cy="48.34" r="1.0" fill="#c40a2c"/>
<circle cx="393.54" cy="48.12" r="1.0" fill="#c40a2c"/>
<circle cx="394.65" cy="48.51" r="1.0" fill="#c40a2c"/>
<circle cx="391.52" cy="62.34" r="1.0" fill="#c40a2c"/>
<circle cx="389.15" cy="60.51" r="1.0" fill="#c40a2c"/>
<circle cx="391.48" cy="60.25" r="1.0" fill="#c40a2c"/>
<circle cx="392.72" cy="60.04" r="1.0" fill="#c40a2c"/>
<circle cx="389.13" cy="36.2" r="1.0" fill="#c40a2c"/>
<circle cx="390.98" cy="36.75" r="1.0" fill="#c40a2c"/>
<circle cx="392.03" cy="37.08" r="1.0" fill="#c40a2c"/>
<circle cx="394.34" cy="36.45" r="1.0" fill="#c40a2c"/>
<circle cx="387.88" cy="56.8" r="1.0" fill="#c40a2c"/>
<circle cx="388.82" cy="56.83" r="1.0" fill="#c40a2c"/>
<circle cx="390.17" cy="56.93" r="1.0" fill="#c40a2c"/>
<circle cx="391.26" cy="56.9" r="1.0" fill="#c40a2c"/>
<circle cx="392.43" cy="57.42" r="1.0" fill="#c40a2c"/>
<circle cx="393.72" cy="56.87" r="1.0" fill="#c40a2c"/>
<circle cx="394.58" cy="56.63" r="1.0" fill="#c40a2c"/>
<circle cx="389.83" cy="80.84" r="1.0" fill="#c40a2c"/>
<circle cx="391.96" cy="81.15" r="1.0" fill="#c40a2c"/>
<circle cx="389.77" cy="55.64" r="1.0" fill="#c40a2c"/>
<circle cx="391.45" cy="55.65" r="1.0" fill="#c40a2c"/>
<circle cx="393.12" cy="54.9" r="1.0" fill="#c40a2c"/>
<circle cx="387.83" cy="49.93" r="1.0" fill="#c40a2c"/>
<circle cx="389.17" cy="49.82" r="1.0" fill="#c40a2c"/>
<circle cx="391.69" cy="50.3" r="1.0" fill="#c40a2c"/>
<circle cx="392.8" cy="50.29" r="1.0" fill="#c40a2c"/>
<circle cx="393.67" cy="50.38" r="1.0" fill="#c40a2c"/>
<circle cx="390.63" cy="35.3" r="1.0" fill="#c40a2c"/>
<circle cx="392.14" cy="34.98" r="1.0" fill="#c40a2c"/>
<circle cx="388.42" cy="53.56" r="1.0" fill="#c40a2c"/>
<circle cx="389.13" cy="53.24" r="1.0" fill="#c40a2c"/>
<circle cx="390.74" cy="53.86" r="1.0" fill="#c40a2c"/>
<circle cx="391.95" cy="53.32" r="1.0" fill="#c40a2c"/>
<circle cx="392.62" cy="53.52" r="1.0" fill="#c40a2c"/>
<circle cx="394.42" cy="53.84" r="1.0" fill="#c40a2c"/>
<circle cx="390.79" cy="64.09" r="1.0" fill="#c40a2c"/>
<circle cx="390.09" cy="33.16" r="1.0" fill="#c40a2c"/>
<circle cx="391.81" cy="33.14" r="1.0" fill="#c40a2c"/>
<circle cx="391.17" cy="77.18" r="1.0" fill="#c40a2c"/>
<circle cx="391.57" cy="84.49" r="1.0" fill="#c40a2c"/>
<circle cx="388.55" cy="40.2" r="1.0" fill="#c40a2c"/>
<circle cx="389.47" cy="39.86" r="1.0" fill="#c40a2c"/>
<circle cx="390.96" cy="39.88" r="1.0" fill="#c40a2c"/>
<circle cx="392.02" cy="39.73" r="1.0" fill="#c40a2c"/>
<circle cx="393.3" cy="39.72" r="1.0" fill="#c40a2c"/>
<circle cx="394.78" cy="40.14" r="1.0" fill="#c40a2c"/>
<circle cx="391.29" cy="82.53" r="1.0" fill="#c40a2c"/>
<circle cx="390.37" cy="31.15" r="1.0" fill="#c40a2c"/>
<circle cx="392.49" cy="31.92" r="1.0" fill="#c40a2c"/>
<circle cx="391.79" cy="89.79" r="1.0" fill="#c40a2c"/>
<circle cx="390.66" cy="75.46" r="1.0" fill="#c40a2c"/>
<circle cx="390.93" cy="88.07" r="1.0" fill="#c40a2c"/>
<line x1="350.6" y1="27.5" x2="374" y2="27.5" stroke="#333" stroke-width="0.9"/>
<text x="362.3" y="26.85" font-size="5.5" fill="#1c1c1c" text-anchor="middle">*</text>
<line x1="448.5" y1="25.05" x2="448.5" y2="124.8" stroke="#1e1e1e" stroke-width="1.3"/>
<line x1="445.5" y1="124.5" x2="448.5" y2="124.5" stroke="#1e1e1e" stroke-width="1.0"/>
<text x="442.6" y="126.45" font-size="6.3" fill="#1c1c1c" text-anchor="end">0</text>
<line x1="445.5" y1="104.5" x2="448.5" y2="104.5" stroke="#1e1e1e" stroke-width="1.0"/>
<text x="442.6" y="106.86" font-size="6.3" fill="#1c1c1c" text-anchor="end">20</text>
<line x1="445.5" y1="85.5" x2="448.5" y2="85.5" stroke="#1e1e1e" stroke-width="1.0"/>
<text x="442.6" y="87.27" font-size="6.3" fill="#1c1c1c" text-anchor="end">40</text>
<line x1="445.5" y1="65.5" x2="448.5" y2="65.5" stroke="#1e1e1e" stroke-width="1.0"/>
<text x="442.6" y="67.68" font-size="6.3" fill="#1c1c1c" text-anchor="end">60</text>
<line x1="445.5" y1="45.5" x2="448.5" y2="45.5" stroke="#1e1e1e" stroke-width="1.0"/>
<text x="442.6" y="48.09" font-size="6.3" fill="#1c1c1c" text-anchor="end">80</text>
<line x1="445.5" y1="26.5" x2="448.5" y2="26.5" stroke="#1e1e1e" stroke-width="1.0"/>
<text x="442.6" y="28.5" font-size="6.3" fill="#1c1c1c" text-anchor="end">100</text>
<line x1="447.9" y1="124.5" x2="514" y2="124.5" stroke="#1e1e1e" stroke-width="1.3"/>
<line x1="461.5" y1="124.2" x2="461.5" y2="127.2" stroke="#1e1e1e" stroke-width="1.0"/>
<line x1="481.5" y1="124.2" x2="481.5" y2="127.2" stroke="#1e1e1e" stroke-width="1.0"/>
<line x1="501.5" y1="124.2" x2="501.5" y2="127.2" stroke="#1e1e1e" stroke-width="1.0"/>
<text x="465.4" y="134.4" font-size="6.4" fill="#1c1c1c" text-anchor="end" stroke="#1c1c1c" stroke-width="0.12" transform="rotate(-45 465.4 134.4)">440C/C</text>
<text x="485.4" y="134.4" font-size="6.4" fill="#1c1c1c" text-anchor="end" stroke="#1c1c1c" stroke-width="0.12" transform="rotate(-45 485.4 134.4)">440C/T</text>
<text x="505.2" y="134.4" font-size="6.4" fill="#1c1c1c" text-anchor="end" stroke="#1c1c1c" stroke-width="0.12" transform="rotate(-45 505.2 134.4)">440T/T</text>
<text x="420.5" y="144" font-size="6.6" fill="#1c1c1c" text-anchor="start" stroke="#1c1c1c" stroke-width="0.1">NKG2A</text>
<text x="426.72" y="73.5" font-size="8.1" fill="#1c1c1c" text-anchor="middle" stroke="#1c1c1c" stroke-width="0.38" textLength="77" lengthAdjust="spacingAndGlyphs" transform="rotate(-90 426.72 73.5)">% IFNg NKG2ASP CD56<tspan baseline-shift="super" font-size="4.6">dim</tspan> NK</text>
<line x1="453.9" y1="81.5" x2="468.9" y2="81.5" stroke="#1a080c" stroke-width="1.1"/>
<line x1="457.9" y1="63.5" x2="464.9" y2="63.5" stroke="#4a0814" stroke-width="0.9"/>
<line x1="457.9" y1="98.5" x2="464.9" y2="98.5" stroke="#4a0814" stroke-width="0.9"/>
<circle cx="456.64" cy="82.87" r="1.0" fill="#c40a2c"/>
<circle cx="458.05" cy="82.95" r="1.0" fill="#c40a2c"/>
<circle cx="460.34" cy="82.47" r="1.0" fill="#c40a2c"/>
<circle cx="462.39" cy="82.62" r="1.0" fill="#c40a2c"/>
<circle cx="464.56" cy="82.35" r="1.0" fill="#c40a2c"/>
<circle cx="466.02" cy="82.21" r="1.0" fill="#c40a2c"/>
<circle cx="459.12" cy="72.54" r="1.0" fill="#c40a2c"/>
<circle cx="461.46" cy="72.26" r="1.0" fill="#c40a2c"/>
<circle cx="463.85" cy="72.19" r="1.0" fill="#c40a2c"/>
<circle cx="460.86" cy="116.15" r="1.0" fill="#c40a2c"/>
<circle cx="457.56" cy="79.41" r="1.0" fill="#c40a2c"/>
<circle cx="459.81" cy="79.03" r="1.0" fill="#c40a2c"/>
<circle cx="461.83" cy="79.1" r="1.0" fill="#c40a2c"/>
<circle cx="463.01" cy="79.18" r="1.0" fill="#c40a2c"/>
<circle cx="465.16" cy="79.28" r="1.0" fill="#c40a2c"/>
<circle cx="454.56" cy="70.87" r="1.0" fill="#c40a2c"/>
<circle cx="456.38" cy="71.08" r="1.0" fill="#c40a2c"/>
<circle cx="458.73" cy="70.44" r="1.0" fill="#c40a2c"/>
<circle cx="460.44" cy="70.29" r="1.0" fill="#c40a2c"/>
<circle cx="462.54" cy="70.51" r="1.0" fill="#c40a2c"/>
<circle cx="464.01" cy="70.29" r="1.0" fill="#c40a2c"/>
<circle cx="465.94" cy="70.34" r="1.0" fill="#c40a2c"/>
<circle cx="467.67" cy="70.24" r="1.0" fill="#c40a2c"/>
<circle cx="458.35" cy="92.54" r="1.0" fill="#c40a2c"/>
<circle cx="460.22" cy="92.85" r="1.0" fill="#c40a2c"/>
<circle cx="462.39" cy="92.9" r="1.0" fill="#c40a2c"/>
<circle cx="464.27" cy="93.06" r="1.0" fill="#c40a2c"/>
<circle cx="459.86" cy="112.88" r="1.0" fill="#c40a2c"/>
<circle cx="462.07" cy="112.96" r="1.0" fill="#c40a2c"/>
<circle cx="459.41" cy="68.52" r="1.0" fill="#c40a2c"/>
<circle cx="461.86" cy="68.77" r="1.0" fill="#c40a2c"/>
<circle cx="463.71" cy="68.58" r="1.0" fill="#c40a2c"/>
<circle cx="458.88" cy="106.27" r="1.0" fill="#c40a2c"/>
<circle cx="460.36" cy="106.47" r="1.0" fill="#c40a2c"/>
<circle cx="462.57" cy="106.24" r="1.0" fill="#c40a2c"/>
<circle cx="464.09" cy="106.12" r="1.0" fill="#c40a2c"/>
<circle cx="458.99" cy="58.82" r="1.0" fill="#c40a2c"/>
<circle cx="461.38" cy="58.44" r="1.0" fill="#c40a2c"/>
<circle cx="463.46" cy="59.07" r="1.0" fill="#c40a2c"/>
<circle cx="458.4" cy="75.64" r="1.0" fill="#c40a2c"/>
<circle cx="460.51" cy="75.34" r="1.0" fill="#c40a2c"/>
<circle cx="462.46" cy="75.96" r="1.0" fill="#c40a2c"/>
<circle cx="464.19" cy="75.34" r="1.0" fill="#c40a2c"/>
<circle cx="458.09" cy="102.92" r="1.0" fill="#c40a2c"/>
<circle cx="460.5" cy="102.55" r="1.0" fill="#c40a2c"/>
<circle cx="461.69" cy="103.1" r="1.0" fill="#c40a2c"/>
<circle cx="464.37" cy="102.95" r="1.0" fill="#c40a2c"/>
<circle cx="455.93" cy="77.29" r="1.0" fill="#c40a2c"/>
<circle cx="457.11" cy="77.85" r="1.0" fill="#c40a2c"/>
<circle cx="459.11" cy="77.63" r="1.0" fill="#c40a2c"/>
<circle cx="461.02" cy="77.64" r="1.0" fill="#c40a2c"/>
<circle cx="462.84" cy="77.88" r="1.0" fill="#c40a2c"/>
<circle cx="465.23" cy="77.22" r="1.0" fill="#c40a2c"/>
<circle cx="466.69" cy="77.82" r="1.0" fill="#c40a2c"/>
<circle cx="458.27" cy="64.17" r="1.0" fill="#c40a2c"/>
<circle cx="460.67" cy="64.03" r="1.0" fill="#c40a2c"/>
<circle cx="462.92" cy="63.84" r="1.0" fill="#c40a2c"/>
<circle cx="464.51" cy="63.96" r="1.0" fill="#c40a2c"/>
<circle cx="458.46" cy="62.25" r="1.0" fill="#c40a2c"/>
<circle cx="460.37" cy="62.5" r="1.0" fill="#c40a2c"/>
<circle cx="461.8" cy="62.11" r="1.0" fill="#c40a2c"/>
<circle cx="463.36" cy="62.53" r="1.0" fill="#c40a2c"/>
<circle cx="461.92" cy="43.06" r="1.0" fill="#c40a2c"/>
<circle cx="462" cy="114.81" r="1.0" fill="#c40a2c"/>
<circle cx="459.78" cy="101.16" r="1.0" fill="#c40a2c"/>
<circle cx="461.37" cy="101.55" r="1.0" fill="#c40a2c"/>
<circle cx="463.47" cy="101.3" r="1.0" fill="#c40a2c"/>
<circle cx="460.08" cy="109.94" r="1.0" fill="#c40a2c"/>
<circle cx="462.06" cy="109.51" r="1.0" fill="#c40a2c"/>
<circle cx="461.37" cy="81.04" r="1.0" fill="#c40a2c"/>
<circle cx="457.94" cy="89.33" r="1.0" fill="#c40a2c"/>
<circle cx="459.25" cy="89.45" r="1.0" fill="#c40a2c"/>
<circle cx="460.8" cy="89.75" r="1.0" fill="#c40a2c"/>
<circle cx="462.74" cy="88.93" r="1.0" fill="#c40a2c"/>
<circle cx="465.65" cy="89.31" r="1.0" fill="#c40a2c"/>
<circle cx="461.93" cy="111.41" r="1.0" fill="#c40a2c"/>
<circle cx="459.72" cy="99.91" r="1.0" fill="#c40a2c"/>
<circle cx="461.32" cy="99.45" r="1.0" fill="#c40a2c"/>
<circle cx="463.19" cy="99.41" r="1.0" fill="#c40a2c"/>
<circle cx="461.21" cy="90.91" r="1.0" fill="#c40a2c"/>
<circle cx="459.15" cy="84.26" r="1.0" fill="#c40a2c"/>
<circle cx="461.31" cy="84.23" r="1.0" fill="#c40a2c"/>
<circle cx="462.77" cy="84.48" r="1.0" fill="#c40a2c"/>
<circle cx="461.66" cy="94.75" r="1.0" fill="#c40a2c"/>
<circle cx="461.37" cy="60" r="1.0" fill="#c40a2c"/>
<circle cx="461.53" cy="48.34" r="1.0" fill="#c40a2c"/>
<circle cx="461.72" cy="104.23" r="1.0" fill="#c40a2c"/>
<circle cx="461.27" cy="120.04" r="1.0" fill="#c40a2c"/>
<circle cx="461.71" cy="55.78" r="1.0" fill="#c40a2c"/>
<circle cx="460.14" cy="53.6" r="1.0" fill="#c40a2c"/>
<circle cx="462.6" cy="53.32" r="1.0" fill="#c40a2c"/>
<circle cx="460.69" cy="98.23" r="1.0" fill="#c40a2c"/>
<circle cx="462.55" cy="97.46" r="1.0" fill="#c40a2c"/>
<circle cx="460.55" cy="74.04" r="1.0" fill="#c40a2c"/>
<circle cx="462.36" cy="74.34" r="1.0" fill="#c40a2c"/>
<circle cx="461.04" cy="66.98" r="1.0" fill="#c40a2c"/>
<circle cx="461.42" cy="88.07" r="1.0" fill="#c40a2c"/>
<circle cx="461.54" cy="56.75" r="1.0" fill="#c40a2c"/>
<circle cx="461.58" cy="47.14" r="1.0" fill="#c40a2c"/>
<circle cx="461.94" cy="52.24" r="1.0" fill="#c40a2c"/>
<line x1="473.9" y1="85.5" x2="488.9" y2="85.5" stroke="#1a080c" stroke-width="1.1"/>
<line x1="477.9" y1="68.5" x2="484.9" y2="68.5" stroke="#4a0814" stroke-width="0.9"/>
<line x1="477.9" y1="101.5" x2="484.9" y2="101.5" stroke="#4a0814" stroke-width="0.9"/>
<circle cx="473.96" cy="85.82" r="1.0" fill="#c40a2c"/>
<circle cx="476.45" cy="86.27" r="1.0" fill="#c40a2c"/>
<circle cx="476.98" cy="85.99" r="1.0" fill="#c40a2c"/>
<circle cx="479.14" cy="85.89" r="1.0" fill="#c40a2c"/>
<circle cx="480.43" cy="86.35" r="1.0" fill="#c40a2c"/>
<circle cx="481.32" cy="85.87" r="1.0" fill="#c40a2c"/>
<circle cx="483.4" cy="86.32" r="1.0" fill="#c40a2c"/>
<circle cx="484.08" cy="86.12" r="1.0" fill="#c40a2c"/>
<circle cx="485.91" cy="86.1" r="1.0" fill="#c40a2c"/>
<circle cx="487.07" cy="86.33" r="1.0" fill="#c40a2c"/>
<circle cx="481.14" cy="101.13" r="1.0" fill="#c40a2c"/>
<circle cx="483" cy="101.59" r="1.0" fill="#c40a2c"/>
<circle cx="475.6" cy="107.74" r="1.0" fill="#c40a2c"/>
<circle cx="477.53" cy="107.95" r="1.0" fill="#c40a2c"/>
<circle cx="479.55" cy="107.64" r="1.0" fill="#c40a2c"/>
<circle cx="480.26" cy="108.11" r="1.0" fill="#c40a2c"/>
<circle cx="481.84" cy="108" r="1.0" fill="#c40a2c"/>
<circle cx="483.65" cy="107.87" r="1.0" fill="#c40a2c"/>
<circle cx="485.45" cy="108.49" r="1.0" fill="#c40a2c"/>
<circle cx="487.73" cy="108.39" r="1.0" fill="#c40a2c"/>
<circle cx="476.44" cy="72.75" r="1.0" fill="#c40a2c"/>
<circle cx="478.65" cy="72.16" r="1.0" fill="#c40a2c"/>
<circle cx="479.76" cy="72.24" r="1.0" fill="#c40a2c"/>
<circle cx="481.67" cy="72.32" r="1.0" fill="#c40a2c"/>
<circle cx="483.53" cy="72.55" r="1.0" fill="#c40a2c"/>
<circle cx="485.86" cy="72.31" r="1.0" fill="#c40a2c"/>
<circle cx="477.78" cy="104.27" r="1.0" fill="#c40a2c"/>
<circle cx="479.3" cy="104.78" r="1.0" fill="#c40a2c"/>
<circle cx="481.05" cy="104.44" r="1.0" fill="#c40a2c"/>
<circle cx="483.14" cy="104.91" r="1.0" fill="#c40a2c"/>
<circle cx="484.83" cy="104.72" r="1.0" fill="#c40a2c"/>
<circle cx="479.9" cy="50.31" r="1.0" fill="#c40a2c"/>
<circle cx="481.78" cy="50.28" r="1.0" fill="#c40a2c"/>
<circle cx="483.4" cy="50.47" r="1.0" fill="#c40a2c"/>
<circle cx="475.83" cy="88.02" r="1.0" fill="#c40a2c"/>
<circle cx="477.15" cy="87.87" r="1.0" fill="#c40a2c"/>
<circle cx="478.59" cy="87.8" r="1.0" fill="#c40a2c"/>
<circle cx="480.13" cy="87.58" r="1.0" fill="#c40a2c"/>
<circle cx="481.58" cy="87.89" r="1.0" fill="#c40a2c"/>
<circle cx="483.49" cy="87.94" r="1.0" fill="#c40a2c"/>
<circle cx="485.82" cy="87.48" r="1.0" fill="#c40a2c"/>
<circle cx="487.52" cy="87.98" r="1.0" fill="#c40a2c"/>
<circle cx="478.01" cy="92.74" r="1.0" fill="#c40a2c"/>
<circle cx="480.54" cy="92.45" r="1.0" fill="#c40a2c"/>
<circle cx="482.47" cy="93.18" r="1.0" fill="#c40a2c"/>
<circle cx="483.37" cy="92.9" r="1.0" fill="#c40a2c"/>
<circle cx="474.99" cy="96.28" r="1.0" fill="#c40a2c"/>
<circle cx="476.78" cy="95.81" r="1.0" fill="#c40a2c"/>
<circle cx="478.52" cy="96.31" r="1.0" fill="#c40a2c"/>
<circle cx="480.12" cy="95.84" r="1.0" fill="#c40a2c"/>
<circle cx="481.69" cy="96.2" r="1.0" fill="#c40a2c"/>
<circle cx="483.46" cy="96.38" r="1.0" fill="#c40a2c"/>
<circle cx="486.03" cy="95.96" r="1.0" fill="#c40a2c"/>
<circle cx="487.36" cy="96.28" r="1.0" fill="#c40a2c"/>
<circle cx="476.63" cy="80.43" r="1.0" fill="#c40a2c"/>
<circle cx="478" cy="81.1" r="1.0" fill="#c40a2c"/>
<circle cx="479.08" cy="80.81" r="1.0" fill="#c40a2c"/>
<circle cx="481.38" cy="80.52" r="1.0" fill="#c40a2c"/>
<circle cx="483.78" cy="80.56" r="1.0" fill="#c40a2c"/>
<circle cx="484.65" cy="80.41" r="1.0" fill="#c40a2c"/>
<circle cx="486.88" cy="81.27" r="1.0" fill="#c40a2c"/>
<circle cx="477.25" cy="88.94" r="1.0" fill="#c40a2c"/>
<circle cx="479.85" cy="89.13" r="1.0" fill="#c40a2c"/>
<circle cx="481.59" cy="89.78" r="1.0" fill="#c40a2c"/>
<circle cx="483.82" cy="89.53" r="1.0" fill="#c40a2c"/>
<circle cx="485.53" cy="89.31" r="1.0" fill="#c40a2c"/>
<circle cx="479.49" cy="60.43" r="1.0" fill="#c40a2c"/>
<circle cx="481.9" cy="60.15" r="1.0" fill="#c40a2c"/>
<circle cx="483.17" cy="60.13" r="1.0" fill="#c40a2c"/>
<circle cx="478.04" cy="65.71" r="1.0" fill="#c40a2c"/>
<circle cx="479.58" cy="65.64" r="1.0" fill="#c40a2c"/>
<circle cx="481.43" cy="65.13" r="1.0" fill="#c40a2c"/>
<circle cx="484.31" cy="65.57" r="1.0" fill="#c40a2c"/>
<circle cx="479.73" cy="118" r="1.0" fill="#c40a2c"/>
<circle cx="481.66" cy="118.61" r="1.0" fill="#c40a2c"/>
<circle cx="480.47" cy="57.39" r="1.0" fill="#c40a2c"/>
<circle cx="482.13" cy="57" r="1.0" fill="#c40a2c"/>
<circle cx="478.68" cy="114.41" r="1.0" fill="#c40a2c"/>
<circle cx="480.4" cy="114.62" r="1.0" fill="#c40a2c"/>
<circle cx="482.09" cy="114.48" r="1.0" fill="#c40a2c"/>
<circle cx="484.55" cy="115.14" r="1.0" fill="#c40a2c"/>
<circle cx="476.44" cy="75.41" r="1.0" fill="#c40a2c"/>
<circle cx="477.39" cy="75.41" r="1.0" fill="#c40a2c"/>
<circle cx="480.17" cy="75.88" r="1.0" fill="#c40a2c"/>
<circle cx="481.75" cy="75.55" r="1.0" fill="#c40a2c"/>
<circle cx="483.26" cy="75.85" r="1.0" fill="#c40a2c"/>
<circle cx="484.74" cy="75.47" r="1.0" fill="#c40a2c"/>
<circle cx="487.08" cy="75.35" r="1.0" fill="#c40a2c"/>
<circle cx="480.1" cy="63.66" r="1.0" fill="#c40a2c"/>
<circle cx="481.58" cy="64.28" r="1.0" fill="#c40a2c"/>
<circle cx="481.18" cy="48.36" r="1.0" fill="#c40a2c"/>
<circle cx="482.54" cy="48.61" r="1.0" fill="#c40a2c"/>
<circle cx="480.27" cy="109.55" r="1.0" fill="#c40a2c"/>
<circle cx="482.91" cy="109.78" r="1.0" fill="#c40a2c"/>
<circle cx="475.81" cy="99.43" r="1.0" fill="#c40a2c"/>
<circle cx="477.26" cy="99.83" r="1.0" fill="#c40a2c"/>
<circle cx="478.22" cy="99.74" r="1.0" fill="#c40a2c"/>
<circle cx="479.86" cy="99.32" r="1.0" fill="#c40a2c"/>
<circle cx="481.99" cy="99.18" r="1.0" fill="#c40a2c"/>
<circle cx="483.36" cy="99.12" r="1.0" fill="#c40a2c"/>
<circle cx="484.75" cy="99.34" r="1.0" fill="#c40a2c"/>
<circle cx="485.51" cy="99.63" r="1.0" fill="#c40a2c"/>
<circle cx="487.52" cy="99.91" r="1.0" fill="#c40a2c"/>
<circle cx="476.9" cy="84.48" r="1.0" fill="#c40a2c"/>
<circle cx="478.45" cy="84.22" r="1.0" fill="#c40a2c"/>
<circle cx="480.66" cy="83.85" r="1.0" fill="#c40a2c"/>
<circle cx="482.91" cy="84.31" r="1.0" fill="#c40a2c"/>
<circle cx="484.24" cy="84.66" r="1.0" fill="#c40a2c"/>
<circle cx="486.78" cy="84.15" r="1.0" fill="#c40a2c"/>
<circle cx="481.39" cy="53.64" r="1.0" fill="#c40a2c"/>
<circle cx="477.05" cy="82.95" r="1.0" fill="#c40a2c"/>
<circle cx="478.14" cy="82.29" r="1.0" fill="#c40a2c"/>
<circle cx="480.14" cy="82.7" r="1.0" fill="#c40a2c"/>
<circle cx="482.18" cy="82.73" r="1.0" fill="#c40a2c"/>
<circle cx="484.47" cy="82.91" r="1.0" fill="#c40a2c"/>
<circle cx="486.13" cy="82.36" r="1.0" fill="#c40a2c"/>
<circle cx="475.87" cy="70.44" r="1.0" fill="#c40a2c"/>
<circle cx="477.66" cy="70.54" r="1.0" fill="#c40a2c"/>
<circle cx="479.14" cy="70.81" r="1.0" fill="#c40a2c"/>
<circle cx="481.47" cy="70.55" r="1.0" fill="#c40a2c"/>
<circle cx="483.14" cy="71.07" r="1.0" fill="#c40a2c"/>
<circle cx="485.01" cy="70.32" r="1.0" fill="#c40a2c"/>
<circle cx="486.47" cy="70.91" r="1.0" fill="#c40a2c"/>
<circle cx="477.75" cy="94.69" r="1.0" fill="#c40a2c"/>
<circle cx="479.02" cy="94.83" r="1.0" fill="#c40a2c"/>
<circle cx="481.55" cy="94.11" r="1.0" fill="#c40a2c"/>
<circle cx="483.63" cy="94.37" r="1.0" fill="#c40a2c"/>
<circle cx="485.65" cy="94.14" r="1.0" fill="#c40a2c"/>
<circle cx="477.32" cy="97.96" r="1.0" fill="#c40a2c"/>
<circle cx="480.07" cy="97.45" r="1.0" fill="#c40a2c"/>
<circle cx="481.57" cy="97.73" r="1.0" fill="#c40a2c"/>
<circle cx="483.11" cy="98.22" r="1.0" fill="#c40a2c"/>
<circle cx="485" cy="98.09" r="1.0" fill="#c40a2c"/>
<circle cx="478.87" cy="62.03" r="1.0" fill="#c40a2c"/>
<circle cx="481.08" cy="62.6" r="1.0" fill="#c40a2c"/>
<circle cx="482.13" cy="62.51" r="1.0" fill="#c40a2c"/>
<circle cx="484.23" cy="61.78" r="1.0" fill="#c40a2c"/>
<circle cx="476.02" cy="73.78" r="1.0" fill="#c40a2c"/>
<circle cx="477.46" cy="74.18" r="1.0" fill="#c40a2c"/>
<circle cx="479.98" cy="74.24" r="1.0" fill="#c40a2c"/>
<circle cx="481.68" cy="73.96" r="1.0" fill="#c40a2c"/>
<circle cx="483.37" cy="74.47" r="1.0" fill="#c40a2c"/>
<circle cx="484.79" cy="73.61" r="1.0" fill="#c40a2c"/>
<circle cx="486.59" cy="74.25" r="1.0" fill="#c40a2c"/>
<circle cx="478.2" cy="102.87" r="1.0" fill="#c40a2c"/>
<circle cx="479.74" cy="102.96" r="1.0" fill="#c40a2c"/>
<circle cx="481.55" cy="103.05" r="1.0" fill="#c40a2c"/>
<circle cx="483.03" cy="103.14" r="1.0" fill="#c40a2c"/>
<circle cx="484.87" cy="102.78" r="1.0" fill="#c40a2c"/>
<circle cx="479.58" cy="119.94" r="1.0" fill="#c40a2c"/>
<circle cx="482.53" cy="119.7" r="1.0" fill="#c40a2c"/>
<circle cx="476.26" cy="77.23" r="1.0" fill="#c40a2c"/>
<circle cx="477.49" cy="77.44" r="1.0" fill="#c40a2c"/>
<circle cx="479.04" cy="77.43" r="1.0" fill="#c40a2c"/>
<circle cx="480.84" cy="77.8" r="1.0" fill="#c40a2c"/>
<circle cx="482.73" cy="77.59" r="1.0" fill="#c40a2c"/>
<circle cx="484.93" cy="77.7" r="1.0" fill="#c40a2c"/>
<circle cx="486.24" cy="77.79" r="1.0" fill="#c40a2c"/>
<circle cx="480.04" cy="51.51" r="1.0" fill="#c40a2c"/>
<circle cx="481.9" cy="52.28" r="1.0" fill="#c40a2c"/>
<circle cx="482.94" cy="51.61" r="1.0" fill="#c40a2c"/>
<circle cx="478.92" cy="116.87" r="1.0" fill="#c40a2c"/>
<circle cx="481.58" cy="116.13" r="1.0" fill="#c40a2c"/>
<circle cx="483.81" cy="116.24" r="1.0" fill="#c40a2c"/>
<circle cx="480.55" cy="54.96" r="1.0" fill="#c40a2c"/>
<circle cx="482.65" cy="54.93" r="1.0" fill="#c40a2c"/>
<circle cx="479.81" cy="112.89" r="1.0" fill="#c40a2c"/>
<circle cx="481.64" cy="113.22" r="1.0" fill="#c40a2c"/>
<circle cx="483.39" cy="112.76" r="1.0" fill="#c40a2c"/>
<circle cx="479.95" cy="79.2" r="1.0" fill="#c40a2c"/>
<circle cx="482.87" cy="78.96" r="1.0" fill="#c40a2c"/>
<circle cx="480.95" cy="90.82" r="1.0" fill="#c40a2c"/>
<circle cx="482" cy="90.87" r="1.0" fill="#c40a2c"/>
<circle cx="480.23" cy="111.06" r="1.0" fill="#c40a2c"/>
<circle cx="482.64" cy="111.14" r="1.0" fill="#c40a2c"/>
<circle cx="477.85" cy="69.13" r="1.0" fill="#c40a2c"/>
<circle cx="479.62" cy="68.81" r="1.0" fill="#c40a2c"/>
<circle cx="482.22" cy="68.82" r="1.0" fill="#c40a2c"/>
<circle cx="484.25" cy="69.3" r="1.0" fill="#c40a2c"/>
<circle cx="480.12" cy="106.09" r="1.0" fill="#c40a2c"/>
<circle cx="482.42" cy="105.91" r="1.0" fill="#c40a2c"/>
<circle cx="481.85" cy="67.22" r="1.0" fill="#c40a2c"/>
<circle cx="481.69" cy="46.56" r="1.0" fill="#c40a2c"/>
<circle cx="480.69" cy="58.43" r="1.0" fill="#c40a2c"/>
<circle cx="482.77" cy="59.06" r="1.0" fill="#c40a2c"/>
<line x1="493.7" y1="87.5" x2="508.7" y2="87.5" stroke="#1a080c" stroke-width="1.1"/>
<line x1="497.7" y1="70.5" x2="504.7" y2="70.5" stroke="#4a0814" stroke-width="0.9"/>
<line x1="497.7" y1="105.5" x2="504.7" y2="105.5" stroke="#4a0814" stroke-width="0.9"/>
<circle cx="499.16" cy="65.79" r="1.0" fill="#c40a2c"/>
<circle cx="500.93" cy="65.97" r="1.0" fill="#c40a2c"/>
<circle cx="502.49" cy="65.73" r="1.0" fill="#c40a2c"/>
<circle cx="504.4" cy="65.66" r="1.0" fill="#c40a2c"/>
<circle cx="497.46" cy="97.91" r="1.0" fill="#c40a2c"/>
<circle cx="499.61" cy="97.71" r="1.0" fill="#c40a2c"/>
<circle cx="500.93" cy="98.12" r="1.0" fill="#c40a2c"/>
<circle cx="502.79" cy="98.01" r="1.0" fill="#c40a2c"/>
<circle cx="504.91" cy="97.85" r="1.0" fill="#c40a2c"/>
<circle cx="499.19" cy="55.56" r="1.0" fill="#c40a2c"/>
<circle cx="500.27" cy="55.33" r="1.0" fill="#c40a2c"/>
<circle cx="501.82" cy="55.23" r="1.0" fill="#c40a2c"/>
<circle cx="503.76" cy="55.27" r="1.0" fill="#c40a2c"/>
<circle cx="496.4" cy="83.81" r="1.0" fill="#c40a2c"/>
<circle cx="498.21" cy="84.68" r="1.0" fill="#c40a2c"/>
<circle cx="499.87" cy="84.48" r="1.0" fill="#c40a2c"/>
<circle cx="502.52" cy="84.03" r="1.0" fill="#c40a2c"/>
<circle cx="503.96" cy="83.91" r="1.0" fill="#c40a2c"/>
<circle cx="505.63" cy="84.49" r="1.0" fill="#c40a2c"/>
<circle cx="494.79" cy="80.82" r="1.0" fill="#c40a2c"/>
<circle cx="496.67" cy="81.02" r="1.0" fill="#c40a2c"/>
<circle cx="498.43" cy="80.73" r="1.0" fill="#c40a2c"/>
<circle cx="499.8" cy="80.78" r="1.0" fill="#c40a2c"/>
<circle cx="500.85" cy="80.79" r="1.0" fill="#c40a2c"/>
<circle cx="503.36" cy="81.29" r="1.0" fill="#c40a2c"/>
<circle cx="504.25" cy="81.02" r="1.0" fill="#c40a2c"/>
<circle cx="505.78" cy="80.61" r="1.0" fill="#c40a2c"/>
<circle cx="507.88" cy="81.18" r="1.0" fill="#c40a2c"/>
<circle cx="499.01" cy="108.44" r="1.0" fill="#c40a2c"/>
<circle cx="499.88" cy="107.96" r="1.0" fill="#c40a2c"/>
<circle cx="502.81" cy="108" r="1.0" fill="#c40a2c"/>
<circle cx="504.26" cy="108.13" r="1.0" fill="#c40a2c"/>
<circle cx="497.48" cy="82.18" r="1.0" fill="#c40a2c"/>
<circle cx="499.42" cy="82.33" r="1.0" fill="#c40a2c"/>
<circle cx="501.16" cy="82.2" r="1.0" fill="#c40a2c"/>
<circle cx="503.42" cy="82.54" r="1.0" fill="#c40a2c"/>
<circle cx="504.76" cy="82.73" r="1.0" fill="#c40a2c"/>
<circle cx="499" cy="67.64" r="1.0" fill="#c40a2c"/>
<circle cx="500.75" cy="67.32" r="1.0" fill="#c40a2c"/>
<circle cx="502.75" cy="67.44" r="1.0" fill="#c40a2c"/>
<circle cx="505.01" cy="67.27" r="1.0" fill="#c40a2c"/>
<circle cx="498.39" cy="49.9" r="1.0" fill="#c40a2c"/>
<circle cx="500.63" cy="50.21" r="1.0" fill="#c40a2c"/>
<circle cx="502.4" cy="49.85" r="1.0" fill="#c40a2c"/>
<circle cx="504.45" cy="50.22" r="1.0" fill="#c40a2c"/>
<circle cx="497.24" cy="89.39" r="1.0" fill="#c40a2c"/>
<circle cx="499.02" cy="89.4" r="1.0" fill="#c40a2c"/>
<circle cx="500.92" cy="89.73" r="1.0" fill="#c40a2c"/>
<circle cx="502.94" cy="89.78" r="1.0" fill="#c40a2c"/>
<circle cx="505.2" cy="89.71" r="1.0" fill="#c40a2c"/>
<circle cx="501.69" cy="52.11" r="1.0" fill="#c40a2c"/>
<circle cx="498.18" cy="94.64" r="1.0" fill="#c40a2c"/>
<circle cx="500.29" cy="94.63" r="1.0" fill="#c40a2c"/>
<circle cx="502.43" cy="94.86" r="1.0" fill="#c40a2c"/>
<circle cx="503.29" cy="94.11" r="1.0" fill="#c40a2c"/>
<circle cx="500.15" cy="114.72" r="1.0" fill="#c40a2c"/>
<circle cx="502.17" cy="114.84" r="1.0" fill="#c40a2c"/>
<circle cx="497.13" cy="72.31" r="1.0" fill="#c40a2c"/>
<circle cx="499.48" cy="72.04" r="1.0" fill="#c40a2c"/>
<circle cx="500.91" cy="72.29" r="1.0" fill="#c40a2c"/>
<circle cx="503.18" cy="72.01" r="1.0" fill="#c40a2c"/>
<circle cx="504.98" cy="72.02" r="1.0" fill="#c40a2c"/>
<circle cx="500.56" cy="58.83" r="1.0" fill="#c40a2c"/>
<circle cx="503.14" cy="58.68" r="1.0" fill="#c40a2c"/>
<circle cx="501.24" cy="118" r="1.0" fill="#c40a2c"/>
<circle cx="496.58" cy="90.91" r="1.0" fill="#c40a2c"/>
<circle cx="498.17" cy="91.16" r="1.0" fill="#c40a2c"/>
<circle cx="499.76" cy="90.85" r="1.0" fill="#c40a2c"/>
<circle cx="502.64" cy="90.84" r="1.0" fill="#c40a2c"/>
<circle cx="504.72" cy="90.82" r="1.0" fill="#c40a2c"/>
<circle cx="505.58" cy="91.21" r="1.0" fill="#c40a2c"/>
<circle cx="500.2" cy="61.81" r="1.0" fill="#c40a2c"/>
<circle cx="502.93" cy="62.47" r="1.0" fill="#c40a2c"/>
<circle cx="495.19" cy="75.54" r="1.0" fill="#c40a2c"/>
<circle cx="497.61" cy="76.17" r="1.0" fill="#c40a2c"/>
<circle cx="499.35" cy="76.03" r="1.0" fill="#c40a2c"/>
<circle cx="501.63" cy="75.72" r="1.0" fill="#c40a2c"/>
<circle cx="502.5" cy="75.84" r="1.0" fill="#c40a2c"/>
<circle cx="504.39" cy="75.38" r="1.0" fill="#c40a2c"/>
<circle cx="507.33" cy="75.55" r="1.0" fill="#c40a2c"/>
<circle cx="496.8" cy="85.56" r="1.0" fill="#c40a2c"/>
<circle cx="499.02" cy="85.81" r="1.0" fill="#c40a2c"/>
<circle cx="501.52" cy="85.9" r="1.0" fill="#c40a2c"/>
<circle cx="502.64" cy="86.18" r="1.0" fill="#c40a2c"/>
<circle cx="505.28" cy="86.29" r="1.0" fill="#c40a2c"/>
<circle cx="497.25" cy="46.46" r="1.0" fill="#c40a2c"/>
<circle cx="499.19" cy="47.16" r="1.0" fill="#c40a2c"/>
<circle cx="501.38" cy="46.99" r="1.0" fill="#c40a2c"/>
<circle cx="503.45" cy="46.97" r="1.0" fill="#c40a2c"/>
<circle cx="505.39" cy="46.56" r="1.0" fill="#c40a2c"/>
<circle cx="498.91" cy="53.61" r="1.0" fill="#c40a2c"/>
<circle cx="501.13" cy="53.99" r="1.0" fill="#c40a2c"/>
<circle cx="503.6" cy="53.79" r="1.0" fill="#c40a2c"/>
<circle cx="497.93" cy="99.14" r="1.0" fill="#c40a2c"/>
<circle cx="500.94" cy="99.38" r="1.0" fill="#c40a2c"/>
<circle cx="501.82" cy="99.4" r="1.0" fill="#c40a2c"/>
<circle cx="504.12" cy="99.57" r="1.0" fill="#c40a2c"/>
<circle cx="499.55" cy="106.04" r="1.0" fill="#c40a2c"/>
<circle cx="501.99" cy="106.13" r="1.0" fill="#c40a2c"/>
<circle cx="501.49" cy="87.74" r="1.0" fill="#c40a2c"/>
<circle cx="498.16" cy="101.11" r="1.0" fill="#c40a2c"/>
<circle cx="500.22" cy="100.99" r="1.0" fill="#c40a2c"/>
<circle cx="501.95" cy="101.36" r="1.0" fill="#c40a2c"/>
<circle cx="503.6" cy="101.66" r="1.0" fill="#c40a2c"/>
<circle cx="495.58" cy="109.82" r="1.0" fill="#c40a2c"/>
<circle cx="497.92" cy="109.41" r="1.0" fill="#c40a2c"/>
<circle cx="499.42" cy="109.31" r="1.0" fill="#c40a2c"/>
<circle cx="501.38" cy="109.45" r="1.0" fill="#c40a2c"/>
<circle cx="503.59" cy="109.98" r="1.0" fill="#c40a2c"/>
<circle cx="505.8" cy="109.88" r="1.0" fill="#c40a2c"/>
<circle cx="500.62" cy="113.48" r="1.0" fill="#c40a2c"/>
<circle cx="499.51" cy="44.95" r="1.0" fill="#c40a2c"/>
<circle cx="501.79" cy="45.37" r="1.0" fill="#c40a2c"/>
<circle cx="503.42" cy="45.29" r="1.0" fill="#c40a2c"/>
<circle cx="499.32" cy="69.15" r="1.0" fill="#c40a2c"/>
<circle cx="501.09" cy="68.58" r="1.0" fill="#c40a2c"/>
<circle cx="502.8" cy="69.02" r="1.0" fill="#c40a2c"/>
<circle cx="500.6" cy="116.27" r="1.0" fill="#c40a2c"/>
<circle cx="502.6" cy="116.69" r="1.0" fill="#c40a2c"/>
<circle cx="497.66" cy="63.71" r="1.0" fill="#c40a2c"/>
<circle cx="499.16" cy="63.4" r="1.0" fill="#c40a2c"/>
<circle cx="500.71" cy="63.54" r="1.0" fill="#c40a2c"/>
<circle cx="503.37" cy="63.66" r="1.0" fill="#c40a2c"/>
<circle cx="504.97" cy="63.63" r="1.0" fill="#c40a2c"/>
<circle cx="500.65" cy="56.9" r="1.0" fill="#c40a2c"/>
<circle cx="499.74" cy="96.23" r="1.0" fill="#c40a2c"/>
<circle cx="501.49" cy="95.97" r="1.0" fill="#c40a2c"/>
<circle cx="503.1" cy="95.91" r="1.0" fill="#c40a2c"/>
<circle cx="499.28" cy="70.99" r="1.0" fill="#c40a2c"/>
<circle cx="501.23" cy="70.42" r="1.0" fill="#c40a2c"/>
<circle cx="502.7" cy="70.68" r="1.0" fill="#c40a2c"/>
<circle cx="495.94" cy="79.59" r="1.0" fill="#c40a2c"/>
<circle cx="497.86" cy="79.28" r="1.0" fill="#c40a2c"/>
<circle cx="499.15" cy="78.97" r="1.0" fill="#c40a2c"/>
<circle cx="501.29" cy="79.34" r="1.0" fill="#c40a2c"/>
<circle cx="502.67" cy="79.22" r="1.0" fill="#c40a2c"/>
<circle cx="505.44" cy="78.7" r="1.0" fill="#c40a2c"/>
<circle cx="507.12" cy="78.97" r="1.0" fill="#c40a2c"/>
<circle cx="501.42" cy="73.68" r="1.0" fill="#c40a2c"/>
<circle cx="499.48" cy="104.34" r="1.0" fill="#c40a2c"/>
<circle cx="501.23" cy="104.63" r="1.0" fill="#c40a2c"/>
<circle cx="500.65" cy="92.64" r="1.0" fill="#c40a2c"/>
<circle cx="501.72" cy="93.14" r="1.0" fill="#c40a2c"/>
<circle cx="500.28" cy="48.58" r="1.0" fill="#c40a2c"/>
<circle cx="502.22" cy="48.94" r="1.0" fill="#c40a2c"/>
<circle cx="500.51" cy="103.14" r="1.0" fill="#c40a2c"/>
<circle cx="501.64" cy="103.24" r="1.0" fill="#c40a2c"/>
<circle cx="501.13" cy="77.54" r="1.0" fill="#c40a2c"/>
<circle cx="502.38" cy="77.57" r="1.0" fill="#c40a2c"/>
<circle cx="501.66" cy="111.08" r="1.0" fill="#c40a2c"/>
<line x1="458.75" y1="38.5" x2="483" y2="38.5" stroke="#333" stroke-width="0.9"/>
<text x="470.88" y="37.7" font-size="5.5" fill="#1c1c1c" text-anchor="middle">*</text>
<line x1="338.5" y1="178.3" x2="338.5" y2="278.1" stroke="#1e1e1e" stroke-width="1.3"/>
<line x1="335" y1="277.5" x2="338" y2="277.5" stroke="#1e1e1e" stroke-width="1.0"/>
<text x="332.1" y="279.75" font-size="6.3" fill="#1c1c1c" text-anchor="end">0</text>
<line x1="335" y1="257.5" x2="338" y2="257.5" stroke="#1e1e1e" stroke-width="1.0"/>
<text x="332.1" y="260.15" font-size="6.3" fill="#1c1c1c" text-anchor="end">20</text>
<line x1="335" y1="238.5" x2="338" y2="238.5" stroke="#1e1e1e" stroke-width="1.0"/>
<text x="332.1" y="240.55" font-size="6.3" fill="#1c1c1c" text-anchor="end">40</text>
<line x1="335" y1="218.5" x2="338" y2="218.5" stroke="#1e1e1e" stroke-width="1.0"/>
<text x="332.1" y="220.95" font-size="6.3" fill="#1c1c1c" text-anchor="end">60</text>
<line x1="335" y1="199.5" x2="338" y2="199.5" stroke="#1e1e1e" stroke-width="1.0"/>
<text x="332.1" y="201.35" font-size="6.3" fill="#1c1c1c" text-anchor="end">80</text>
<line x1="335" y1="179.5" x2="338" y2="179.5" stroke="#1e1e1e" stroke-width="1.0"/>
<text x="332.1" y="181.75" font-size="6.3" fill="#1c1c1c" text-anchor="end">100</text>
<line x1="337.4" y1="277.5" x2="404" y2="277.5" stroke="#1e1e1e" stroke-width="1.3"/>
<line x1="351.5" y1="277.5" x2="351.5" y2="280.5" stroke="#1e1e1e" stroke-width="1.0"/>
<line x1="371.5" y1="277.5" x2="371.5" y2="280.5" stroke="#1e1e1e" stroke-width="1.0"/>
<line x1="391.5" y1="277.5" x2="391.5" y2="280.5" stroke="#1e1e1e" stroke-width="1.0"/>
<text x="355.4" y="287.7" font-size="6.4" fill="#1c1c1c" text-anchor="end" stroke="#1c1c1c" stroke-width="0.12" transform="rotate(-45 355.4 287.7)">440C/C</text>
<text x="375.4" y="287.7" font-size="6.4" fill="#1c1c1c" text-anchor="end" stroke="#1c1c1c" stroke-width="0.12" transform="rotate(-45 375.4 287.7)">440C/T</text>
<text x="395.2" y="287.7" font-size="6.4" fill="#1c1c1c" text-anchor="end" stroke="#1c1c1c" stroke-width="0.12" transform="rotate(-45 395.2 287.7)">440T/T</text>
<text x="310.5" y="297.3" font-size="6.6" fill="#1c1c1c" text-anchor="start" stroke="#1c1c1c" stroke-width="0.1">NKG2A</text>
<text x="316.92" y="227.2" font-size="8.1" fill="#1c1c1c" text-anchor="middle" stroke="#1c1c1c" stroke-width="0.38" textLength="88.3" lengthAdjust="spacingAndGlyphs" transform="rotate(-90 316.92 227.2)">% CD107a NKG2ASP CD56<tspan baseline-shift="super" font-size="4.6">bright</tspan> NK</text>
<line x1="343.9" y1="198.5" x2="358.9" y2="198.5" stroke="#1a080c" stroke-width="1.1"/>
<line x1="347.9" y1="187.5" x2="354.9" y2="187.5" stroke="#4a0814" stroke-width="0.9"/>
<line x1="347.9" y1="208.5" x2="354.9" y2="208.5" stroke="#4a0814" stroke-width="0.9"/>
<circle cx="351.8" cy="221" r="1.0" fill="#c40a2c"/>
<circle cx="346.75" cy="193.28" r="1.0" fill="#c40a2c"/>
<circle cx="347.28" cy="192.91" r="1.0" fill="#c40a2c"/>
<circle cx="348.65" cy="193.68" r="1.0" fill="#c40a2c"/>
<circle cx="349.83" cy="193.77" r="1.0" fill="#c40a2c"/>
<circle cx="350.68" cy="193.05" r="1.0" fill="#c40a2c"/>
<circle cx="351.57" cy="193.78" r="1.0" fill="#c40a2c"/>
<circle cx="351.81" cy="193.05" r="1.0" fill="#c40a2c"/>
<circle cx="353.69" cy="193.56" r="1.0" fill="#c40a2c"/>
<circle cx="354.72" cy="193.07" r="1.0" fill="#c40a2c"/>
<circle cx="354.67" cy="193" r="1.0" fill="#c40a2c"/>
<circle cx="355.5" cy="193.51" r="1.0" fill="#c40a2c"/>
<circle cx="344.26" cy="195.05" r="1.0" fill="#c40a2c"/>
<circle cx="344.75" cy="194.63" r="1.0" fill="#c40a2c"/>
<circle cx="345.63" cy="194.89" r="1.0" fill="#c40a2c"/>
<circle cx="346.48" cy="194.67" r="1.0" fill="#c40a2c"/>
<circle cx="347.42" cy="195.05" r="1.0" fill="#c40a2c"/>
<circle cx="348.34" cy="194.99" r="1.0" fill="#c40a2c"/>
<circle cx="348.66" cy="195.34" r="1.0" fill="#c40a2c"/>
<circle cx="349.76" cy="194.93" r="1.0" fill="#c40a2c"/>
<circle cx="350.04" cy="194.61" r="1.0" fill="#c40a2c"/>
<circle cx="350.72" cy="194.83" r="1.0" fill="#c40a2c"/>
<circle cx="351.05" cy="195.18" r="1.0" fill="#c40a2c"/>
<circle cx="352.29" cy="195.27" r="1.0" fill="#c40a2c"/>
<circle cx="353.42" cy="194.61" r="1.0" fill="#c40a2c"/>
<circle cx="353.68" cy="194.85" r="1.0" fill="#c40a2c"/>
<circle cx="353.91" cy="194.81" r="1.0" fill="#c40a2c"/>
<circle cx="355.3" cy="195.09" r="1.0" fill="#c40a2c"/>
<circle cx="355.63" cy="194.91" r="1.0" fill="#c40a2c"/>
<circle cx="355.94" cy="195.46" r="1.0" fill="#c40a2c"/>
<circle cx="356.54" cy="195.03" r="1.0" fill="#c40a2c"/>
<circle cx="357.77" cy="194.73" r="1.0" fill="#c40a2c"/>
<circle cx="346.84" cy="198.52" r="1.0" fill="#c40a2c"/>
<circle cx="347.96" cy="198.67" r="1.0" fill="#c40a2c"/>
<circle cx="349.47" cy="198.28" r="1.0" fill="#c40a2c"/>
<circle cx="350.13" cy="198.74" r="1.0" fill="#c40a2c"/>
<circle cx="351.69" cy="198.43" r="1.0" fill="#c40a2c"/>
<circle cx="352.46" cy="198.31" r="1.0" fill="#c40a2c"/>
<circle cx="354.05" cy="198.03" r="1.0" fill="#c40a2c"/>
<circle cx="355.64" cy="198.34" r="1.0" fill="#c40a2c"/>
<circle cx="347.87" cy="200.13" r="1.0" fill="#c40a2c"/>
<circle cx="349.61" cy="200.35" r="1.0" fill="#c40a2c"/>
<circle cx="350.89" cy="199.98" r="1.0" fill="#c40a2c"/>
<circle cx="353.1" cy="200.35" r="1.0" fill="#c40a2c"/>
<circle cx="354.11" cy="199.71" r="1.0" fill="#c40a2c"/>
<circle cx="351.46" cy="232.27" r="1.0" fill="#c40a2c"/>
<circle cx="350.73" cy="184.65" r="1.0" fill="#c40a2c"/>
<circle cx="352.11" cy="185.2" r="1.0" fill="#c40a2c"/>
<circle cx="347.41" cy="190.21" r="1.0" fill="#c40a2c"/>
<circle cx="349.66" cy="190.3" r="1.0" fill="#c40a2c"/>
<circle cx="350.31" cy="190.09" r="1.0" fill="#c40a2c"/>
<circle cx="352.57" cy="190.25" r="1.0" fill="#c40a2c"/>
<circle cx="353.25" cy="189.92" r="1.0" fill="#c40a2c"/>
<circle cx="354.14" cy="189.89" r="1.0" fill="#c40a2c"/>
<circle cx="347.4" cy="191.81" r="1.0" fill="#c40a2c"/>
<circle cx="349.56" cy="191.71" r="1.0" fill="#c40a2c"/>
<circle cx="350.06" cy="191.8" r="1.0" fill="#c40a2c"/>
<circle cx="351.4" cy="191.95" r="1.0" fill="#c40a2c"/>
<circle cx="352.76" cy="191.48" r="1.0" fill="#c40a2c"/>
<circle cx="354.15" cy="191.89" r="1.0" fill="#c40a2c"/>
<circle cx="350.33" cy="212.23" r="1.0" fill="#c40a2c"/>
<circle cx="351.61" cy="211.74" r="1.0" fill="#c40a2c"/>
<circle cx="348.93" cy="186.5" r="1.0" fill="#c40a2c"/>
<circle cx="349.37" cy="186.25" r="1.0" fill="#c40a2c"/>
<circle cx="351.72" cy="186.98" r="1.0" fill="#c40a2c"/>
<circle cx="352.66" cy="186.25" r="1.0" fill="#c40a2c"/>
<circle cx="354.4" cy="186.84" r="1.0" fill="#c40a2c"/>
<circle cx="347.61" cy="197.04" r="1.0" fill="#c40a2c"/>
<circle cx="349.31" cy="196.31" r="1.0" fill="#c40a2c"/>
<circle cx="350.45" cy="197.18" r="1.0" fill="#c40a2c"/>
<circle cx="350.75" cy="197.01" r="1.0" fill="#c40a2c"/>
<circle cx="352.64" cy="196.34" r="1.0" fill="#c40a2c"/>
<circle cx="353.11" cy="196.6" r="1.0" fill="#c40a2c"/>
<circle cx="354.9" cy="197.17" r="1.0" fill="#c40a2c"/>
<circle cx="356.3" cy="196.92" r="1.0" fill="#c40a2c"/>
<circle cx="349.35" cy="201.59" r="1.0" fill="#c40a2c"/>
<circle cx="351.45" cy="201.74" r="1.0" fill="#c40a2c"/>
<circle cx="352.77" cy="201.74" r="1.0" fill="#c40a2c"/>
<circle cx="348.09" cy="203.3" r="1.0" fill="#c40a2c"/>
<circle cx="349.22" cy="203.42" r="1.0" fill="#c40a2c"/>
<circle cx="350.95" cy="203.25" r="1.0" fill="#c40a2c"/>
<circle cx="351.98" cy="203.68" r="1.0" fill="#c40a2c"/>
<circle cx="352.48" cy="203.1" r="1.0" fill="#c40a2c"/>
<circle cx="353.88" cy="203.96" r="1.0" fill="#c40a2c"/>
<circle cx="351.51" cy="218.41" r="1.0" fill="#c40a2c"/>
<circle cx="350.05" cy="205.68" r="1.0" fill="#c40a2c"/>
<circle cx="351.89" cy="205.37" r="1.0" fill="#c40a2c"/>
<circle cx="350.02" cy="208.31" r="1.0" fill="#c40a2c"/>
<circle cx="352.8" cy="208.22" r="1.0" fill="#c40a2c"/>
<circle cx="351.04" cy="210.17" r="1.0" fill="#c40a2c"/>
<circle cx="351" cy="217.18" r="1.0" fill="#c40a2c"/>
<circle cx="351.4" cy="215.62" r="1.0" fill="#c40a2c"/>
<circle cx="351.74" cy="183.4" r="1.0" fill="#c40a2c"/>
<circle cx="351.07" cy="188.13" r="1.0" fill="#c40a2c"/>
<circle cx="352.14" cy="188.59" r="1.0" fill="#c40a2c"/>
<circle cx="351.77" cy="252.44" r="1.0" fill="#c40a2c"/>
<line x1="363.9" y1="204.5" x2="378.9" y2="204.5" stroke="#1a080c" stroke-width="1.1"/>
<line x1="367.9" y1="190.5" x2="374.9" y2="190.5" stroke="#4a0814" stroke-width="0.9"/>
<line x1="367.9" y1="217.5" x2="374.9" y2="217.5" stroke="#4a0814" stroke-width="0.9"/>
<circle cx="366.4" cy="200.33" r="1.0" fill="#c40a2c"/>
<circle cx="367.8" cy="200.24" r="1.0" fill="#c40a2c"/>
<circle cx="368.02" cy="199.8" r="1.0" fill="#c40a2c"/>
<circle cx="369.36" cy="200.44" r="1.0" fill="#c40a2c"/>
<circle cx="370.85" cy="200.48" r="1.0" fill="#c40a2c"/>
<circle cx="371.78" cy="200.2" r="1.0" fill="#c40a2c"/>
<circle cx="372.25" cy="199.74" r="1.0" fill="#c40a2c"/>
<circle cx="373.98" cy="200.55" r="1.0" fill="#c40a2c"/>
<circle cx="375.27" cy="200.02" r="1.0" fill="#c40a2c"/>
<circle cx="376.22" cy="199.91" r="1.0" fill="#c40a2c"/>
<circle cx="369.1" cy="220.72" r="1.0" fill="#c40a2c"/>
<circle cx="371.01" cy="220.27" r="1.0" fill="#c40a2c"/>
<circle cx="373.84" cy="220.48" r="1.0" fill="#c40a2c"/>
<circle cx="365.64" cy="198.43" r="1.0" fill="#c40a2c"/>
<circle cx="365.76" cy="198.65" r="1.0" fill="#c40a2c"/>
<circle cx="367.18" cy="198.79" r="1.0" fill="#c40a2c"/>
<circle cx="366.99" cy="198.13" r="1.0" fill="#c40a2c"/>
<circle cx="367.56" cy="198.72" r="1.0" fill="#c40a2c"/>
<circle cx="368.92" cy="198.69" r="1.0" fill="#c40a2c"/>
<circle cx="369.52" cy="198.88" r="1.0" fill="#c40a2c"/>
<circle cx="370.62" cy="198.83" r="1.0" fill="#c40a2c"/>
<circle cx="370.93" cy="198.81" r="1.0" fill="#c40a2c"/>
<circle cx="372.18" cy="198.7" r="1.0" fill="#c40a2c"/>
<circle cx="372.78" cy="198.87" r="1.0" fill="#c40a2c"/>
<circle cx="373.56" cy="198.59" r="1.0" fill="#c40a2c"/>
<circle cx="374.73" cy="198.73" r="1.0" fill="#c40a2c"/>
<circle cx="374.76" cy="198.12" r="1.0" fill="#c40a2c"/>
<circle cx="375.25" cy="198.46" r="1.0" fill="#c40a2c"/>
<circle cx="376.52" cy="198.64" r="1.0" fill="#c40a2c"/>
<circle cx="376.9" cy="198.45" r="1.0" fill="#c40a2c"/>
<circle cx="377.5" cy="198.89" r="1.0" fill="#c40a2c"/>
<circle cx="369.24" cy="186.66" r="1.0" fill="#c40a2c"/>
<circle cx="371.11" cy="186.36" r="1.0" fill="#c40a2c"/>
<circle cx="373.2" cy="186.45" r="1.0" fill="#c40a2c"/>
<circle cx="368.19" cy="191.26" r="1.0" fill="#c40a2c"/>
<circle cx="369.43" cy="191.48" r="1.0" fill="#c40a2c"/>
<circle cx="370.85" cy="192.03" r="1.0" fill="#c40a2c"/>
<circle cx="372.6" cy="191.62" r="1.0" fill="#c40a2c"/>
<circle cx="373.07" cy="191.43" r="1.0" fill="#c40a2c"/>
<circle cx="375.04" cy="191.25" r="1.0" fill="#c40a2c"/>
<circle cx="366.34" cy="201.88" r="1.0" fill="#c40a2c"/>
<circle cx="367.91" cy="201.46" r="1.0" fill="#c40a2c"/>
<circle cx="368.75" cy="201.9" r="1.0" fill="#c40a2c"/>
<circle cx="369.33" cy="201.64" r="1.0" fill="#c40a2c"/>
<circle cx="370.89" cy="201.89" r="1.0" fill="#c40a2c"/>
<circle cx="371.64" cy="201.79" r="1.0" fill="#c40a2c"/>
<circle cx="372.45" cy="202.11" r="1.0" fill="#c40a2c"/>
<circle cx="373.12" cy="202.07" r="1.0" fill="#c40a2c"/>
<circle cx="374.96" cy="202.28" r="1.0" fill="#c40a2c"/>
<circle cx="375.03" cy="202.12" r="1.0" fill="#c40a2c"/>
<circle cx="376.74" cy="201.7" r="1.0" fill="#c40a2c"/>
<circle cx="367.18" cy="208.49" r="1.0" fill="#c40a2c"/>
<circle cx="369.37" cy="208.52" r="1.0" fill="#c40a2c"/>
<circle cx="370.76" cy="208.56" r="1.0" fill="#c40a2c"/>
<circle cx="371.35" cy="208.38" r="1.0" fill="#c40a2c"/>
<circle cx="373.78" cy="208.95" r="1.0" fill="#c40a2c"/>
<circle cx="374.62" cy="208.21" r="1.0" fill="#c40a2c"/>
<circle cx="368.7" cy="204.94" r="1.0" fill="#c40a2c"/>
<circle cx="369.33" cy="204.91" r="1.0" fill="#c40a2c"/>
<circle cx="371.55" cy="205.52" r="1.0" fill="#c40a2c"/>
<circle cx="373.08" cy="204.97" r="1.0" fill="#c40a2c"/>
<circle cx="374.51" cy="204.89" r="1.0" fill="#c40a2c"/>
<circle cx="374.94" cy="205.55" r="1.0" fill="#c40a2c"/>
<circle cx="365.47" cy="197.04" r="1.0" fill="#c40a2c"/>
<circle cx="365.71" cy="196.49" r="1.0" fill="#c40a2c"/>
<circle cx="367.07" cy="196.84" r="1.0" fill="#c40a2c"/>
<circle cx="367.36" cy="196.57" r="1.0" fill="#c40a2c"/>
<circle cx="368.85" cy="196.63" r="1.0" fill="#c40a2c"/>
<circle cx="368.85" cy="196.98" r="1.0" fill="#c40a2c"/>
<circle cx="369.45" cy="196.65" r="1.0" fill="#c40a2c"/>
<circle cx="370.88" cy="197" r="1.0" fill="#c40a2c"/>
<circle cx="371.69" cy="196.66" r="1.0" fill="#c40a2c"/>
<circle cx="372.27" cy="196.73" r="1.0" fill="#c40a2c"/>
<circle cx="372.87" cy="197.19" r="1.0" fill="#c40a2c"/>
<circle cx="373.81" cy="196.6" r="1.0" fill="#c40a2c"/>
<circle cx="375.01" cy="196.32" r="1.0" fill="#c40a2c"/>
<circle cx="375.51" cy="197.06" r="1.0" fill="#c40a2c"/>
<circle cx="376.55" cy="196.83" r="1.0" fill="#c40a2c"/>
<circle cx="377.47" cy="196.35" r="1.0" fill="#c40a2c"/>
<circle cx="377.21" cy="197.15" r="1.0" fill="#c40a2c"/>
<circle cx="370.86" cy="232.29" r="1.0" fill="#c40a2c"/>
<circle cx="367.99" cy="213.91" r="1.0" fill="#c40a2c"/>
<circle cx="369.37" cy="214.11" r="1.0" fill="#c40a2c"/>
<circle cx="370.33" cy="213.54" r="1.0" fill="#c40a2c"/>
<circle cx="371.78" cy="214.1" r="1.0" fill="#c40a2c"/>
<circle cx="373.7" cy="213.32" r="1.0" fill="#c40a2c"/>
<circle cx="375.47" cy="213.41" r="1.0" fill="#c40a2c"/>
<circle cx="365.82" cy="207.26" r="1.0" fill="#c40a2c"/>
<circle cx="367.46" cy="206.92" r="1.0" fill="#c40a2c"/>
<circle cx="368.71" cy="207.37" r="1.0" fill="#c40a2c"/>
<circle cx="369.4" cy="207.34" r="1.0" fill="#c40a2c"/>
<circle cx="370.5" cy="207.32" r="1.0" fill="#c40a2c"/>
<circle cx="371.12" cy="206.71" r="1.0" fill="#c40a2c"/>
<circle cx="372.67" cy="206.68" r="1.0" fill="#c40a2c"/>
<circle cx="373.37" cy="207.13" r="1.0" fill="#c40a2c"/>
<circle cx="374.14" cy="206.91" r="1.0" fill="#c40a2c"/>
<circle cx="374.92" cy="206.86" r="1.0" fill="#c40a2c"/>
<circle cx="375.8" cy="207.06" r="1.0" fill="#c40a2c"/>
<circle cx="377.13" cy="206.82" r="1.0" fill="#c40a2c"/>
<circle cx="368.23" cy="193.08" r="1.0" fill="#c40a2c"/>
<circle cx="368.44" cy="193.35" r="1.0" fill="#c40a2c"/>
<circle cx="370.09" cy="193.09" r="1.0" fill="#c40a2c"/>
<circle cx="371.77" cy="193.62" r="1.0" fill="#c40a2c"/>
<circle cx="371.88" cy="193.02" r="1.0" fill="#c40a2c"/>
<circle cx="374.23" cy="193.5" r="1.0" fill="#c40a2c"/>
<circle cx="374.97" cy="193.45" r="1.0" fill="#c40a2c"/>
<circle cx="375.9" cy="193.23" r="1.0" fill="#c40a2c"/>
<circle cx="366.67" cy="203.19" r="1.0" fill="#c40a2c"/>
<circle cx="367.27" cy="203.56" r="1.0" fill="#c40a2c"/>
<circle cx="368.37" cy="203.11" r="1.0" fill="#c40a2c"/>
<circle cx="369.44" cy="203.17" r="1.0" fill="#c40a2c"/>
<circle cx="370.97" cy="203.97" r="1.0" fill="#c40a2c"/>
<circle cx="371.73" cy="203.9" r="1.0" fill="#c40a2c"/>
<circle cx="372.39" cy="203.43" r="1.0" fill="#c40a2c"/>
<circle cx="372.88" cy="203.48" r="1.0" fill="#c40a2c"/>
<circle cx="374.6" cy="203.69" r="1.0" fill="#c40a2c"/>
<circle cx="375.41" cy="203.64" r="1.0" fill="#c40a2c"/>
<circle cx="375.94" cy="203.77" r="1.0" fill="#c40a2c"/>
<circle cx="368.72" cy="211.93" r="1.0" fill="#c40a2c"/>
<circle cx="369.84" cy="211.78" r="1.0" fill="#c40a2c"/>
<circle cx="371.8" cy="211.82" r="1.0" fill="#c40a2c"/>
<circle cx="372.89" cy="212.01" r="1.0" fill="#c40a2c"/>
<circle cx="374.4" cy="212.44" r="1.0" fill="#c40a2c"/>
<circle cx="368.04" cy="188.63" r="1.0" fill="#c40a2c"/>
<circle cx="368.67" cy="187.93" r="1.0" fill="#c40a2c"/>
<circle cx="369.88" cy="187.88" r="1.0" fill="#c40a2c"/>
<circle cx="370.83" cy="188.57" r="1.0" fill="#c40a2c"/>
<circle cx="372.63" cy="188.13" r="1.0" fill="#c40a2c"/>
<circle cx="374.33" cy="187.89" r="1.0" fill="#c40a2c"/>
<circle cx="375.65" cy="188.53" r="1.0" fill="#c40a2c"/>
<circle cx="368.51" cy="225.68" r="1.0" fill="#c40a2c"/>
<circle cx="370.76" cy="226.08" r="1.0" fill="#c40a2c"/>
<circle cx="372.48" cy="225.21" r="1.0" fill="#c40a2c"/>
<circle cx="375.3" cy="225.79" r="1.0" fill="#c40a2c"/>
<circle cx="370.1" cy="223.74" r="1.0" fill="#c40a2c"/>
<circle cx="370.84" cy="223.86" r="1.0" fill="#c40a2c"/>
<circle cx="372.95" cy="224.15" r="1.0" fill="#c40a2c"/>
<circle cx="368.42" cy="210.48" r="1.0" fill="#c40a2c"/>
<circle cx="370.08" cy="210.51" r="1.0" fill="#c40a2c"/>
<circle cx="372.33" cy="210.7" r="1.0" fill="#c40a2c"/>
<circle cx="373.98" cy="210.43" r="1.0" fill="#c40a2c"/>
<circle cx="366.46" cy="194.66" r="1.0" fill="#c40a2c"/>
<circle cx="367.78" cy="195.17" r="1.0" fill="#c40a2c"/>
<circle cx="368.66" cy="194.77" r="1.0" fill="#c40a2c"/>
<circle cx="369.92" cy="195.43" r="1.0" fill="#c40a2c"/>
<circle cx="371.25" cy="194.68" r="1.0" fill="#c40a2c"/>
<circle cx="373.01" cy="195.08" r="1.0" fill="#c40a2c"/>
<circle cx="373.72" cy="195.43" r="1.0" fill="#c40a2c"/>
<circle cx="375.21" cy="194.82" r="1.0" fill="#c40a2c"/>
<circle cx="375.54" cy="194.74" r="1.0" fill="#c40a2c"/>
<circle cx="370.99" cy="183.17" r="1.0" fill="#c40a2c"/>
<circle cx="367.72" cy="190.17" r="1.0" fill="#c40a2c"/>
<circle cx="369.11" cy="190.17" r="1.0" fill="#c40a2c"/>
<circle cx="369.89" cy="190.3" r="1.0" fill="#c40a2c"/>
<circle cx="372.24" cy="190" r="1.0" fill="#c40a2c"/>
<circle cx="373.33" cy="189.81" r="1.0" fill="#c40a2c"/>
<circle cx="374.44" cy="190.23" r="1.0" fill="#c40a2c"/>
<circle cx="371.29" cy="230.52" r="1.0" fill="#c40a2c"/>
<circle cx="371.68" cy="184.89" r="1.0" fill="#c40a2c"/>
<circle cx="369.63" cy="239.47" r="1.0" fill="#c40a2c"/>
<circle cx="371.94" cy="239.12" r="1.0" fill="#c40a2c"/>
<circle cx="373.66" cy="239.37" r="1.0" fill="#c40a2c"/>
<circle cx="368.28" cy="215.26" r="1.0" fill="#c40a2c"/>
<circle cx="369.83" cy="215.22" r="1.0" fill="#c40a2c"/>
<circle cx="371.13" cy="215.19" r="1.0" fill="#c40a2c"/>
<circle cx="372.79" cy="215.44" r="1.0" fill="#c40a2c"/>
<circle cx="374.19" cy="215.54" r="1.0" fill="#c40a2c"/>
<circle cx="370.27" cy="229.33" r="1.0" fill="#c40a2c"/>
<circle cx="372.79" cy="228.91" r="1.0" fill="#c40a2c"/>
<circle cx="371.62" cy="242.48" r="1.0" fill="#c40a2c"/>
<circle cx="371.66" cy="240.86" r="1.0" fill="#c40a2c"/>
<circle cx="370.98" cy="237.51" r="1.0" fill="#c40a2c"/>
<circle cx="371.14" cy="217.59" r="1.0" fill="#c40a2c"/>
<circle cx="371.41" cy="218.42" r="1.0" fill="#c40a2c"/>
<circle cx="371.36" cy="233.92" r="1.0" fill="#c40a2c"/>
<circle cx="371.55" cy="260.07" r="1.0" fill="#c40a2c"/>
<circle cx="371.46" cy="257.51" r="1.0" fill="#c40a2c"/>
<circle cx="371.58" cy="244.53" r="1.0" fill="#c40a2c"/>
<line x1="383.7" y1="202.5" x2="398.7" y2="202.5" stroke="#1a080c" stroke-width="1.1"/>
<line x1="387.7" y1="189.5" x2="394.7" y2="189.5" stroke="#4a0814" stroke-width="0.9"/>
<line x1="387.7" y1="214.5" x2="394.7" y2="214.5" stroke="#4a0814" stroke-width="0.9"/>
<circle cx="391.61" cy="213.98" r="1.0" fill="#c40a2c"/>
<circle cx="389.6" cy="227.45" r="1.0" fill="#c40a2c"/>
<circle cx="392.15" cy="227.3" r="1.0" fill="#c40a2c"/>
<circle cx="387" cy="205.58" r="1.0" fill="#c40a2c"/>
<circle cx="388.27" cy="205.01" r="1.0" fill="#c40a2c"/>
<circle cx="389.48" cy="204.81" r="1.0" fill="#c40a2c"/>
<circle cx="391.61" cy="205.55" r="1.0" fill="#c40a2c"/>
<circle cx="391.93" cy="204.96" r="1.0" fill="#c40a2c"/>
<circle cx="393.31" cy="205.1" r="1.0" fill="#c40a2c"/>
<circle cx="395.19" cy="205.33" r="1.0" fill="#c40a2c"/>
<circle cx="385.34" cy="201.62" r="1.0" fill="#c40a2c"/>
<circle cx="387.3" cy="202.27" r="1.0" fill="#c40a2c"/>
<circle cx="387.6" cy="201.54" r="1.0" fill="#c40a2c"/>
<circle cx="388.48" cy="202.17" r="1.0" fill="#c40a2c"/>
<circle cx="390.18" cy="201.41" r="1.0" fill="#c40a2c"/>
<circle cx="391.38" cy="202.13" r="1.0" fill="#c40a2c"/>
<circle cx="391.33" cy="202.29" r="1.0" fill="#c40a2c"/>
<circle cx="392.29" cy="202" r="1.0" fill="#c40a2c"/>
<circle cx="394.27" cy="201.62" r="1.0" fill="#c40a2c"/>
<circle cx="394.31" cy="201.94" r="1.0" fill="#c40a2c"/>
<circle cx="395.73" cy="202.16" r="1.0" fill="#c40a2c"/>
<circle cx="396.12" cy="202.13" r="1.0" fill="#c40a2c"/>
<circle cx="384.46" cy="197.17" r="1.0" fill="#c40a2c"/>
<circle cx="386.08" cy="196.32" r="1.0" fill="#c40a2c"/>
<circle cx="386.29" cy="196.81" r="1.0" fill="#c40a2c"/>
<circle cx="387.2" cy="196.45" r="1.0" fill="#c40a2c"/>
<circle cx="387.84" cy="196.37" r="1.0" fill="#c40a2c"/>
<circle cx="389.31" cy="196.95" r="1.0" fill="#c40a2c"/>
<circle cx="389.67" cy="196.34" r="1.0" fill="#c40a2c"/>
<circle cx="390.15" cy="196.31" r="1.0" fill="#c40a2c"/>
<circle cx="391.2" cy="196.6" r="1.0" fill="#c40a2c"/>
<circle cx="391.53" cy="196.84" r="1.0" fill="#c40a2c"/>
<circle cx="393.01" cy="197.02" r="1.0" fill="#c40a2c"/>
<circle cx="394.2" cy="196.84" r="1.0" fill="#c40a2c"/>
<circle cx="394.53" cy="196.5" r="1.0" fill="#c40a2c"/>
<circle cx="395.04" cy="196.57" r="1.0" fill="#c40a2c"/>
<circle cx="396.35" cy="196.5" r="1.0" fill="#c40a2c"/>
<circle cx="396.67" cy="196.89" r="1.0" fill="#c40a2c"/>
<circle cx="397.8" cy="196.8" r="1.0" fill="#c40a2c"/>
<circle cx="386.59" cy="200.09" r="1.0" fill="#c40a2c"/>
<circle cx="388.07" cy="200.47" r="1.0" fill="#c40a2c"/>
<circle cx="388.56" cy="200.49" r="1.0" fill="#c40a2c"/>
<circle cx="390.08" cy="200.41" r="1.0" fill="#c40a2c"/>
<circle cx="391.72" cy="200.41" r="1.0" fill="#c40a2c"/>
<circle cx="392.28" cy="199.91" r="1.0" fill="#c40a2c"/>
<circle cx="393.23" cy="200.53" r="1.0" fill="#c40a2c"/>
<circle cx="394.31" cy="199.97" r="1.0" fill="#c40a2c"/>
<circle cx="395.6" cy="199.75" r="1.0" fill="#c40a2c"/>
<circle cx="388.89" cy="219.03" r="1.0" fill="#c40a2c"/>
<circle cx="391.19" cy="219" r="1.0" fill="#c40a2c"/>
<circle cx="392.85" cy="219.21" r="1.0" fill="#c40a2c"/>
<circle cx="385.14" cy="198.23" r="1.0" fill="#c40a2c"/>
<circle cx="385.84" cy="198.01" r="1.0" fill="#c40a2c"/>
<circle cx="387.01" cy="198.57" r="1.0" fill="#c40a2c"/>
<circle cx="387.57" cy="198.65" r="1.0" fill="#c40a2c"/>
<circle cx="388.11" cy="198.48" r="1.0" fill="#c40a2c"/>
<circle cx="389.51" cy="198.18" r="1.0" fill="#c40a2c"/>
<circle cx="389.83" cy="198.87" r="1.0" fill="#c40a2c"/>
<circle cx="391.69" cy="198.58" r="1.0" fill="#c40a2c"/>
<circle cx="392.34" cy="198.11" r="1.0" fill="#c40a2c"/>
<circle cx="392.67" cy="198.74" r="1.0" fill="#c40a2c"/>
<circle cx="394.14" cy="198.63" r="1.0" fill="#c40a2c"/>
<circle cx="394.67" cy="198.9" r="1.0" fill="#c40a2c"/>
<circle cx="395.63" cy="198.5" r="1.0" fill="#c40a2c"/>
<circle cx="396.05" cy="198.73" r="1.0" fill="#c40a2c"/>
<circle cx="397.78" cy="198.09" r="1.0" fill="#c40a2c"/>
<circle cx="389.07" cy="220.71" r="1.0" fill="#c40a2c"/>
<circle cx="391.01" cy="220.69" r="1.0" fill="#c40a2c"/>
<circle cx="392.96" cy="220.14" r="1.0" fill="#c40a2c"/>
<circle cx="389.6" cy="215.41" r="1.0" fill="#c40a2c"/>
<circle cx="391.8" cy="215.6" r="1.0" fill="#c40a2c"/>
<circle cx="386.48" cy="195.36" r="1.0" fill="#c40a2c"/>
<circle cx="388.14" cy="195.31" r="1.0" fill="#c40a2c"/>
<circle cx="388.97" cy="194.66" r="1.0" fill="#c40a2c"/>
<circle cx="389.41" cy="194.82" r="1.0" fill="#c40a2c"/>
<circle cx="391.22" cy="195.19" r="1.0" fill="#c40a2c"/>
<circle cx="392.46" cy="195.38" r="1.0" fill="#c40a2c"/>
<circle cx="393.06" cy="194.62" r="1.0" fill="#c40a2c"/>
<circle cx="394.15" cy="194.71" r="1.0" fill="#c40a2c"/>
<circle cx="395.08" cy="194.92" r="1.0" fill="#c40a2c"/>
<circle cx="396.26" cy="194.86" r="1.0" fill="#c40a2c"/>
<circle cx="390.75" cy="230.52" r="1.0" fill="#c40a2c"/>
<circle cx="392.04" cy="230.61" r="1.0" fill="#c40a2c"/>
<circle cx="389.65" cy="191.43" r="1.0" fill="#c40a2c"/>
<circle cx="390.81" cy="191.61" r="1.0" fill="#c40a2c"/>
<circle cx="392.52" cy="191.23" r="1.0" fill="#c40a2c"/>
<circle cx="387.38" cy="189.86" r="1.0" fill="#c40a2c"/>
<circle cx="388.92" cy="189.9" r="1.0" fill="#c40a2c"/>
<circle cx="390.96" cy="189.63" r="1.0" fill="#c40a2c"/>
<circle cx="392.66" cy="189.81" r="1.0" fill="#c40a2c"/>
<circle cx="393.59" cy="189.94" r="1.0" fill="#c40a2c"/>
<circle cx="394.6" cy="190.37" r="1.0" fill="#c40a2c"/>
<circle cx="389.31" cy="206.65" r="1.0" fill="#c40a2c"/>
<circle cx="390.27" cy="206.84" r="1.0" fill="#c40a2c"/>
<circle cx="392.17" cy="207.11" r="1.0" fill="#c40a2c"/>
<circle cx="394.79" cy="206.56" r="1.0" fill="#c40a2c"/>
<circle cx="386.03" cy="203.3" r="1.0" fill="#c40a2c"/>
<circle cx="388.02" cy="203.37" r="1.0" fill="#c40a2c"/>
<circle cx="388.49" cy="203.68" r="1.0" fill="#c40a2c"/>
<circle cx="390.35" cy="203.82" r="1.0" fill="#c40a2c"/>
<circle cx="390.8" cy="203.57" r="1.0" fill="#c40a2c"/>
<circle cx="391.95" cy="203.76" r="1.0" fill="#c40a2c"/>
<circle cx="393.08" cy="203.81" r="1.0" fill="#c40a2c"/>
<circle cx="394.16" cy="203.63" r="1.0" fill="#c40a2c"/>
<circle cx="395.59" cy="203.87" r="1.0" fill="#c40a2c"/>
<circle cx="387.5" cy="232.54" r="1.0" fill="#c40a2c"/>
<circle cx="389.03" cy="232.63" r="1.0" fill="#c40a2c"/>
<circle cx="390.65" cy="232.23" r="1.0" fill="#c40a2c"/>
<circle cx="392.4" cy="232.48" r="1.0" fill="#c40a2c"/>
<circle cx="394.08" cy="232.29" r="1.0" fill="#c40a2c"/>
<circle cx="391.77" cy="216.97" r="1.0" fill="#c40a2c"/>
<circle cx="386.75" cy="193.65" r="1.0" fill="#c40a2c"/>
<circle cx="389.05" cy="193.72" r="1.0" fill="#c40a2c"/>
<circle cx="390.37" cy="193.11" r="1.0" fill="#c40a2c"/>
<circle cx="391.92" cy="193.42" r="1.0" fill="#c40a2c"/>
<circle cx="392.89" cy="193.48" r="1.0" fill="#c40a2c"/>
<circle cx="394.63" cy="193.36" r="1.0" fill="#c40a2c"/>
<circle cx="388.13" cy="188.31" r="1.0" fill="#c40a2c"/>
<circle cx="389.95" cy="188.16" r="1.0" fill="#c40a2c"/>
<circle cx="390.92" cy="188.32" r="1.0" fill="#c40a2c"/>
<circle cx="392.54" cy="187.88" r="1.0" fill="#c40a2c"/>
<circle cx="393.97" cy="188.34" r="1.0" fill="#c40a2c"/>
<circle cx="389.22" cy="210.25" r="1.0" fill="#c40a2c"/>
<circle cx="390.72" cy="210.2" r="1.0" fill="#c40a2c"/>
<circle cx="392.66" cy="210.55" r="1.0" fill="#c40a2c"/>
<circle cx="390.98" cy="236.23" r="1.0" fill="#c40a2c"/>
<circle cx="391.8" cy="209.05" r="1.0" fill="#c40a2c"/>
<circle cx="391.68" cy="184.68" r="1.0" fill="#c40a2c"/>
<circle cx="390.79" cy="186.51" r="1.0" fill="#c40a2c"/>
<circle cx="392.51" cy="186.51" r="1.0" fill="#c40a2c"/>
<circle cx="391" cy="242.94" r="1.0" fill="#c40a2c"/>
<circle cx="391.3" cy="225.39" r="1.0" fill="#c40a2c"/>
<circle cx="391.77" cy="221.88" r="1.0" fill="#c40a2c"/>
<circle cx="391.33" cy="237.82" r="1.0" fill="#c40a2c"/>
<circle cx="391.27" cy="224.25" r="1.0" fill="#c40a2c"/>
<circle cx="391.63" cy="257.72" r="1.0" fill="#c40a2c"/>
<circle cx="391.05" cy="254.71" r="1.0" fill="#c40a2c"/>
<circle cx="391.67" cy="241.01" r="1.0" fill="#c40a2c"/>
<line x1="351" y1="179.5" x2="373.5" y2="179.5" stroke="#333" stroke-width="0.9"/>
<text x="362.25" y="178.6" font-size="5.5" fill="#1c1c1c" text-anchor="middle">**</text>
<line x1="351" y1="171.5" x2="393.9" y2="171.5" stroke="#333" stroke-width="0.9"/>
<text x="372.45" y="171" font-size="5.5" fill="#1c1c1c" text-anchor="middle">**</text>
<line x1="448.5" y1="178.3" x2="448.5" y2="278.1" stroke="#1e1e1e" stroke-width="1.3"/>
<line x1="445" y1="277.5" x2="448" y2="277.5" stroke="#1e1e1e" stroke-width="1.0"/>
<text x="442.1" y="279.75" font-size="6.3" fill="#1c1c1c" text-anchor="end">0</text>
<line x1="445" y1="257.5" x2="448" y2="257.5" stroke="#1e1e1e" stroke-width="1.0"/>
<text x="442.1" y="260.15" font-size="6.3" fill="#1c1c1c" text-anchor="end">20</text>
<line x1="445" y1="238.5" x2="448" y2="238.5" stroke="#1e1e1e" stroke-width="1.0"/>
<text x="442.1" y="240.55" font-size="6.3" fill="#1c1c1c" text-anchor="end">40</text>
<line x1="445" y1="218.5" x2="448" y2="218.5" stroke="#1e1e1e" stroke-width="1.0"/>
<text x="442.1" y="220.95" font-size="6.3" fill="#1c1c1c" text-anchor="end">60</text>
<line x1="445" y1="199.5" x2="448" y2="199.5" stroke="#1e1e1e" stroke-width="1.0"/>
<text x="442.1" y="201.35" font-size="6.3" fill="#1c1c1c" text-anchor="end">80</text>
<line x1="445" y1="179.5" x2="448" y2="179.5" stroke="#1e1e1e" stroke-width="1.0"/>
<text x="442.1" y="181.75" font-size="6.3" fill="#1c1c1c" text-anchor="end">100</text>
<line x1="447.4" y1="277.5" x2="514" y2="277.5" stroke="#1e1e1e" stroke-width="1.3"/>
<line x1="461.5" y1="277.5" x2="461.5" y2="280.5" stroke="#1e1e1e" stroke-width="1.0"/>
<line x1="481.5" y1="277.5" x2="481.5" y2="280.5" stroke="#1e1e1e" stroke-width="1.0"/>
<line x1="501.5" y1="277.5" x2="501.5" y2="280.5" stroke="#1e1e1e" stroke-width="1.0"/>
<text x="465.4" y="287.7" font-size="6.4" fill="#1c1c1c" text-anchor="end" stroke="#1c1c1c" stroke-width="0.12" transform="rotate(-45 465.4 287.7)">440C/C</text>
<text x="485.4" y="287.7" font-size="6.4" fill="#1c1c1c" text-anchor="end" stroke="#1c1c1c" stroke-width="0.12" transform="rotate(-45 485.4 287.7)">440C/T</text>
<text x="505.2" y="287.7" font-size="6.4" fill="#1c1c1c" text-anchor="end" stroke="#1c1c1c" stroke-width="0.12" transform="rotate(-45 505.2 287.7)">440T/T</text>
<text x="420.5" y="297.3" font-size="6.6" fill="#1c1c1c" text-anchor="start" stroke="#1c1c1c" stroke-width="0.1">NKG2A</text>
<text x="426.72" y="227.3" font-size="8.1" fill="#1c1c1c" text-anchor="middle" stroke="#1c1c1c" stroke-width="0.38" textLength="81.3" lengthAdjust="spacingAndGlyphs" transform="rotate(-90 426.72 227.3)">% IFNg NKG2ASP CD56<tspan baseline-shift="super" font-size="4.6">bright</tspan> NK</text>
<line x1="453.9" y1="239.5" x2="468.9" y2="239.5" stroke="#1a080c" stroke-width="1.1"/>
<line x1="457.9" y1="221.5" x2="464.9" y2="221.5" stroke="#4a0814" stroke-width="0.9"/>
<line x1="457.9" y1="256.5" x2="464.9" y2="256.5" stroke="#4a0814" stroke-width="0.9"/>
<circle cx="459.89" cy="228.91" r="1.0" fill="#c40a2c"/>
<circle cx="461.18" cy="228.83" r="1.0" fill="#c40a2c"/>
<circle cx="463.81" cy="229" r="1.0" fill="#c40a2c"/>
<circle cx="460.69" cy="269.46" r="1.0" fill="#c40a2c"/>
<circle cx="463.04" cy="269.7" r="1.0" fill="#c40a2c"/>
<circle cx="457.59" cy="239.59" r="1.0" fill="#c40a2c"/>
<circle cx="459.49" cy="239.32" r="1.0" fill="#c40a2c"/>
<circle cx="461.62" cy="239.26" r="1.0" fill="#c40a2c"/>
<circle cx="462.99" cy="239.52" r="1.0" fill="#c40a2c"/>
<circle cx="465.5" cy="239.19" r="1.0" fill="#c40a2c"/>
<circle cx="457.92" cy="263.33" r="1.0" fill="#c40a2c"/>
<circle cx="459.43" cy="263.4" r="1.0" fill="#c40a2c"/>
<circle cx="461.01" cy="263.19" r="1.0" fill="#c40a2c"/>
<circle cx="463.03" cy="262.64" r="1.0" fill="#c40a2c"/>
<circle cx="464.73" cy="263.04" r="1.0" fill="#c40a2c"/>
<circle cx="457.11" cy="259.3" r="1.0" fill="#c40a2c"/>
<circle cx="459.02" cy="259.33" r="1.0" fill="#c40a2c"/>
<circle cx="461.18" cy="259.78" r="1.0" fill="#c40a2c"/>
<circle cx="462.82" cy="259.54" r="1.0" fill="#c40a2c"/>
<circle cx="464.69" cy="259.5" r="1.0" fill="#c40a2c"/>
<circle cx="459.54" cy="246.25" r="1.0" fill="#c40a2c"/>
<circle cx="461.58" cy="245.86" r="1.0" fill="#c40a2c"/>
<circle cx="462.78" cy="245.68" r="1.0" fill="#c40a2c"/>
<circle cx="457.38" cy="249.07" r="1.0" fill="#c40a2c"/>
<circle cx="458.74" cy="249.78" r="1.0" fill="#c40a2c"/>
<circle cx="460.74" cy="249.07" r="1.0" fill="#c40a2c"/>
<circle cx="462.94" cy="249.8" r="1.0" fill="#c40a2c"/>
<circle cx="464.93" cy="249.17" r="1.0" fill="#c40a2c"/>
<circle cx="466.48" cy="249.32" r="1.0" fill="#c40a2c"/>
<circle cx="456.93" cy="235.59" r="1.0" fill="#c40a2c"/>
<circle cx="459.01" cy="235.59" r="1.0" fill="#c40a2c"/>
<circle cx="461.24" cy="236.17" r="1.0" fill="#c40a2c"/>
<circle cx="462.35" cy="235.77" r="1.0" fill="#c40a2c"/>
<circle cx="464.44" cy="236.03" r="1.0" fill="#c40a2c"/>
<circle cx="465.92" cy="235.9" r="1.0" fill="#c40a2c"/>
<circle cx="460.84" cy="242.91" r="1.0" fill="#c40a2c"/>
<circle cx="462.69" cy="242.56" r="1.0" fill="#c40a2c"/>
<circle cx="457.03" cy="258.25" r="1.0" fill="#c40a2c"/>
<circle cx="459.53" cy="258.07" r="1.0" fill="#c40a2c"/>
<circle cx="461.63" cy="258.28" r="1.0" fill="#c40a2c"/>
<circle cx="462.78" cy="257.58" r="1.0" fill="#c40a2c"/>
<circle cx="465.5" cy="257.82" r="1.0" fill="#c40a2c"/>
<circle cx="461.52" cy="210.63" r="1.0" fill="#c40a2c"/>
<circle cx="457.18" cy="237.6" r="1.0" fill="#c40a2c"/>
<circle cx="459.72" cy="237.58" r="1.0" fill="#c40a2c"/>
<circle cx="461.4" cy="237.93" r="1.0" fill="#c40a2c"/>
<circle cx="463.84" cy="237.78" r="1.0" fill="#c40a2c"/>
<circle cx="465.07" cy="237.28" r="1.0" fill="#c40a2c"/>
<circle cx="460.74" cy="261.39" r="1.0" fill="#c40a2c"/>
<circle cx="463.2" cy="261.36" r="1.0" fill="#c40a2c"/>
<circle cx="460.94" cy="222.5" r="1.0" fill="#c40a2c"/>
<circle cx="459.69" cy="277.04" r="1.0" fill="#c40a2c"/>
<circle cx="462.66" cy="276.35" r="1.0" fill="#c40a2c"/>
<circle cx="460.54" cy="254.69" r="1.0" fill="#c40a2c"/>
<circle cx="463.2" cy="254.95" r="1.0" fill="#c40a2c"/>
<circle cx="460.22" cy="211.83" r="1.0" fill="#c40a2c"/>
<circle cx="462.51" cy="211.61" r="1.0" fill="#c40a2c"/>
<circle cx="459.14" cy="255.87" r="1.0" fill="#c40a2c"/>
<circle cx="461.03" cy="256.51" r="1.0" fill="#c40a2c"/>
<circle cx="462.83" cy="256.46" r="1.0" fill="#c40a2c"/>
<circle cx="465.21" cy="255.98" r="1.0" fill="#c40a2c"/>
<circle cx="457.12" cy="244.22" r="1.0" fill="#c40a2c"/>
<circle cx="459.67" cy="244.11" r="1.0" fill="#c40a2c"/>
<circle cx="460.98" cy="244.28" r="1.0" fill="#c40a2c"/>
<circle cx="462.83" cy="244.42" r="1.0" fill="#c40a2c"/>
<circle cx="465.03" cy="244.48" r="1.0" fill="#c40a2c"/>
<circle cx="459.39" cy="266.44" r="1.0" fill="#c40a2c"/>
<circle cx="460.93" cy="266.43" r="1.0" fill="#c40a2c"/>
<circle cx="462.79" cy="266.27" r="1.0" fill="#c40a2c"/>
<circle cx="458.07" cy="248.2" r="1.0" fill="#c40a2c"/>
<circle cx="460.32" cy="247.35" r="1.0" fill="#c40a2c"/>
<circle cx="462.18" cy="247.79" r="1.0" fill="#c40a2c"/>
<circle cx="463.74" cy="247.52" r="1.0" fill="#c40a2c"/>
<circle cx="457.95" cy="264.77" r="1.0" fill="#c40a2c"/>
<circle cx="459.63" cy="264.79" r="1.0" fill="#c40a2c"/>
<circle cx="461.75" cy="265.07" r="1.0" fill="#c40a2c"/>
<circle cx="463.93" cy="264.81" r="1.0" fill="#c40a2c"/>
<circle cx="460.12" cy="225.9" r="1.0" fill="#c40a2c"/>
<circle cx="462.06" cy="225.81" r="1.0" fill="#c40a2c"/>
<circle cx="460.79" cy="268.6" r="1.0" fill="#c40a2c"/>
<circle cx="462.37" cy="267.92" r="1.0" fill="#c40a2c"/>
<circle cx="461.2" cy="240.71" r="1.0" fill="#c40a2c"/>
<circle cx="461.83" cy="220.17" r="1.0" fill="#c40a2c"/>
<circle cx="461.7" cy="213.82" r="1.0" fill="#c40a2c"/>
<circle cx="459.93" cy="230.94" r="1.0" fill="#c40a2c"/>
<circle cx="462.04" cy="230.48" r="1.0" fill="#c40a2c"/>
<circle cx="460.89" cy="250.91" r="1.0" fill="#c40a2c"/>
<circle cx="462.55" cy="251.02" r="1.0" fill="#c40a2c"/>
<circle cx="459.33" cy="232.89" r="1.0" fill="#c40a2c"/>
<circle cx="461.43" cy="232.11" r="1.0" fill="#c40a2c"/>
<circle cx="463.3" cy="232.09" r="1.0" fill="#c40a2c"/>
<circle cx="459.36" cy="234.37" r="1.0" fill="#c40a2c"/>
<circle cx="460.99" cy="234.21" r="1.0" fill="#c40a2c"/>
<circle cx="463.07" cy="234.5" r="1.0" fill="#c40a2c"/>
<circle cx="461.18" cy="223.54" r="1.0" fill="#c40a2c"/>
<circle cx="460.64" cy="253.09" r="1.0" fill="#c40a2c"/>
<circle cx="462.63" cy="253" r="1.0" fill="#c40a2c"/>
<circle cx="461.54" cy="273.45" r="1.0" fill="#c40a2c"/>
<circle cx="461.55" cy="215.21" r="1.0" fill="#c40a2c"/>
<circle cx="461.14" cy="219.1" r="1.0" fill="#c40a2c"/>
<line x1="473.9" y1="245.5" x2="488.9" y2="245.5" stroke="#1a080c" stroke-width="1.1"/>
<line x1="477.9" y1="226.5" x2="484.9" y2="226.5" stroke="#4a0814" stroke-width="0.9"/>
<line x1="477.9" y1="263.5" x2="484.9" y2="263.5" stroke="#4a0814" stroke-width="0.9"/>
<circle cx="477.44" cy="239.01" r="1.0" fill="#c40a2c"/>
<circle cx="478.97" cy="238.81" r="1.0" fill="#c40a2c"/>
<circle cx="481.1" cy="239.03" r="1.0" fill="#c40a2c"/>
<circle cx="483.09" cy="239.68" r="1.0" fill="#c40a2c"/>
<circle cx="485.25" cy="239.59" r="1.0" fill="#c40a2c"/>
<circle cx="480.39" cy="227.76" r="1.0" fill="#c40a2c"/>
<circle cx="482.68" cy="227.27" r="1.0" fill="#c40a2c"/>
<circle cx="479.67" cy="261.16" r="1.0" fill="#c40a2c"/>
<circle cx="480.86" cy="260.99" r="1.0" fill="#c40a2c"/>
<circle cx="483.67" cy="261.13" r="1.0" fill="#c40a2c"/>
<circle cx="477.01" cy="236.04" r="1.0" fill="#c40a2c"/>
<circle cx="479.15" cy="235.51" r="1.0" fill="#c40a2c"/>
<circle cx="481.12" cy="235.94" r="1.0" fill="#c40a2c"/>
<circle cx="482.95" cy="235.64" r="1.0" fill="#c40a2c"/>
<circle cx="484.75" cy="235.88" r="1.0" fill="#c40a2c"/>
<circle cx="480.54" cy="225.9" r="1.0" fill="#c40a2c"/>
<circle cx="482.62" cy="225.93" r="1.0" fill="#c40a2c"/>
<circle cx="477.25" cy="232.69" r="1.0" fill="#c40a2c"/>
<circle cx="478.24" cy="232.56" r="1.0" fill="#c40a2c"/>
<circle cx="480.09" cy="232.14" r="1.0" fill="#c40a2c"/>
<circle cx="483.12" cy="232.37" r="1.0" fill="#c40a2c"/>
<circle cx="484.51" cy="232.37" r="1.0" fill="#c40a2c"/>
<circle cx="486.21" cy="232.41" r="1.0" fill="#c40a2c"/>
<circle cx="480.98" cy="224.13" r="1.0" fill="#c40a2c"/>
<circle cx="482.04" cy="224" r="1.0" fill="#c40a2c"/>
<circle cx="475.52" cy="241.12" r="1.0" fill="#c40a2c"/>
<circle cx="477.85" cy="240.63" r="1.0" fill="#c40a2c"/>
<circle cx="479.73" cy="240.51" r="1.0" fill="#c40a2c"/>
<circle cx="481.74" cy="240.51" r="1.0" fill="#c40a2c"/>
<circle cx="483.64" cy="241.1" r="1.0" fill="#c40a2c"/>
<circle cx="484.58" cy="240.77" r="1.0" fill="#c40a2c"/>
<circle cx="487.03" cy="241.03" r="1.0" fill="#c40a2c"/>
<circle cx="477.98" cy="220.42" r="1.0" fill="#c40a2c"/>
<circle cx="479.88" cy="221" r="1.0" fill="#c40a2c"/>
<circle cx="481.81" cy="220.21" r="1.0" fill="#c40a2c"/>
<circle cx="482.98" cy="220.24" r="1.0" fill="#c40a2c"/>
<circle cx="484.92" cy="220.24" r="1.0" fill="#c40a2c"/>
<circle cx="479.9" cy="266.15" r="1.0" fill="#c40a2c"/>
<circle cx="480.91" cy="266.72" r="1.0" fill="#c40a2c"/>
<circle cx="483.36" cy="266.69" r="1.0" fill="#c40a2c"/>
<circle cx="476.08" cy="271.18" r="1.0" fill="#c40a2c"/>
<circle cx="476.77" cy="271.85" r="1.0" fill="#c40a2c"/>
<circle cx="479.15" cy="271.49" r="1.0" fill="#c40a2c"/>
<circle cx="479.87" cy="271.14" r="1.0" fill="#c40a2c"/>
<circle cx="481.72" cy="271.92" r="1.0" fill="#c40a2c"/>
<circle cx="484.21" cy="271.26" r="1.0" fill="#c40a2c"/>
<circle cx="484.91" cy="271.48" r="1.0" fill="#c40a2c"/>
<circle cx="487.56" cy="271.1" r="1.0" fill="#c40a2c"/>
<circle cx="477.47" cy="267.76" r="1.0" fill="#c40a2c"/>
<circle cx="478.84" cy="267.96" r="1.0" fill="#c40a2c"/>
<circle cx="481.28" cy="267.86" r="1.0" fill="#c40a2c"/>
<circle cx="482.88" cy="267.84" r="1.0" fill="#c40a2c"/>
<circle cx="484.97" cy="267.77" r="1.0" fill="#c40a2c"/>
<circle cx="487.05" cy="267.81" r="1.0" fill="#c40a2c"/>
<circle cx="477.22" cy="258.09" r="1.0" fill="#c40a2c"/>
<circle cx="479.49" cy="258.4" r="1.0" fill="#c40a2c"/>
<circle cx="481.14" cy="257.62" r="1.0" fill="#c40a2c"/>
<circle cx="483.87" cy="257.96" r="1.0" fill="#c40a2c"/>
<circle cx="485.22" cy="258.3" r="1.0" fill="#c40a2c"/>
<circle cx="479.11" cy="264.92" r="1.0" fill="#c40a2c"/>
<circle cx="480.67" cy="264.47" r="1.0" fill="#c40a2c"/>
<circle cx="482.33" cy="264.81" r="1.0" fill="#c40a2c"/>
<circle cx="484.54" cy="265.04" r="1.0" fill="#c40a2c"/>
<circle cx="474.42" cy="244.74" r="1.0" fill="#c40a2c"/>
<circle cx="475.88" cy="244.05" r="1.0" fill="#c40a2c"/>
<circle cx="477.93" cy="244.44" r="1.0" fill="#c40a2c"/>
<circle cx="478.61" cy="244.34" r="1.0" fill="#c40a2c"/>
<circle cx="480.26" cy="244.23" r="1.0" fill="#c40a2c"/>
<circle cx="482.39" cy="244.48" r="1.0" fill="#c40a2c"/>
<circle cx="483.2" cy="244.06" r="1.0" fill="#c40a2c"/>
<circle cx="485.28" cy="244.18" r="1.0" fill="#c40a2c"/>
<circle cx="486.1" cy="243.97" r="1.0" fill="#c40a2c"/>
<circle cx="487.21" cy="243.91" r="1.0" fill="#c40a2c"/>
<circle cx="476.35" cy="259.95" r="1.0" fill="#c40a2c"/>
<circle cx="479.13" cy="259.26" r="1.0" fill="#c40a2c"/>
<circle cx="480.19" cy="259.54" r="1.0" fill="#c40a2c"/>
<circle cx="483" cy="259.5" r="1.0" fill="#c40a2c"/>
<circle cx="484.99" cy="259.31" r="1.0" fill="#c40a2c"/>
<circle cx="485.98" cy="260.02" r="1.0" fill="#c40a2c"/>
<circle cx="478.64" cy="201.51" r="1.0" fill="#c40a2c"/>
<circle cx="481.39" cy="201.95" r="1.0" fill="#c40a2c"/>
<circle cx="483.06" cy="202.11" r="1.0" fill="#c40a2c"/>
<circle cx="484.66" cy="202.19" r="1.0" fill="#c40a2c"/>
<circle cx="476.35" cy="249.52" r="1.0" fill="#c40a2c"/>
<circle cx="478.11" cy="249.02" r="1.0" fill="#c40a2c"/>
<circle cx="480.72" cy="249.6" r="1.0" fill="#c40a2c"/>
<circle cx="482.15" cy="249.19" r="1.0" fill="#c40a2c"/>
<circle cx="484.37" cy="249.39" r="1.0" fill="#c40a2c"/>
<circle cx="485.73" cy="249.57" r="1.0" fill="#c40a2c"/>
<circle cx="476.03" cy="256.52" r="1.0" fill="#c40a2c"/>
<circle cx="476.72" cy="256.22" r="1.0" fill="#c40a2c"/>
<circle cx="478.56" cy="256.67" r="1.0" fill="#c40a2c"/>
<circle cx="480.08" cy="256.27" r="1.0" fill="#c40a2c"/>
<circle cx="482.1" cy="256.46" r="1.0" fill="#c40a2c"/>
<circle cx="484.08" cy="256.65" r="1.0" fill="#c40a2c"/>
<circle cx="485.23" cy="256.25" r="1.0" fill="#c40a2c"/>
<circle cx="486.81" cy="255.83" r="1.0" fill="#c40a2c"/>
<circle cx="478.34" cy="237.14" r="1.0" fill="#c40a2c"/>
<circle cx="480.31" cy="237.79" r="1.0" fill="#c40a2c"/>
<circle cx="482.16" cy="237.11" r="1.0" fill="#c40a2c"/>
<circle cx="484.49" cy="237.72" r="1.0" fill="#c40a2c"/>
<circle cx="478.99" cy="230.37" r="1.0" fill="#c40a2c"/>
<circle cx="481.16" cy="231.13" r="1.0" fill="#c40a2c"/>
<circle cx="483.2" cy="230.51" r="1.0" fill="#c40a2c"/>
<circle cx="479.35" cy="262.78" r="1.0" fill="#c40a2c"/>
<circle cx="481.93" cy="262.9" r="1.0" fill="#c40a2c"/>
<circle cx="483.76" cy="262.97" r="1.0" fill="#c40a2c"/>
<circle cx="477.1" cy="213.59" r="1.0" fill="#c40a2c"/>
<circle cx="479.21" cy="213.47" r="1.0" fill="#c40a2c"/>
<circle cx="481.88" cy="213.78" r="1.0" fill="#c40a2c"/>
<circle cx="483.55" cy="214.16" r="1.0" fill="#c40a2c"/>
<circle cx="485.29" cy="213.61" r="1.0" fill="#c40a2c"/>
<circle cx="480" cy="254.94" r="1.0" fill="#c40a2c"/>
<circle cx="481.04" cy="254.32" r="1.0" fill="#c40a2c"/>
<circle cx="483.44" cy="254.6" r="1.0" fill="#c40a2c"/>
<circle cx="478.17" cy="222.64" r="1.0" fill="#c40a2c"/>
<circle cx="479.94" cy="222.6" r="1.0" fill="#c40a2c"/>
<circle cx="481.09" cy="222.11" r="1.0" fill="#c40a2c"/>
<circle cx="482.76" cy="222.01" r="1.0" fill="#c40a2c"/>
<circle cx="484.97" cy="221.98" r="1.0" fill="#c40a2c"/>
<circle cx="476.18" cy="234.37" r="1.0" fill="#c40a2c"/>
<circle cx="478.19" cy="233.77" r="1.0" fill="#c40a2c"/>
<circle cx="479.97" cy="234.52" r="1.0" fill="#c40a2c"/>
<circle cx="481.33" cy="234.54" r="1.0" fill="#c40a2c"/>
<circle cx="483.12" cy="234.35" r="1.0" fill="#c40a2c"/>
<circle cx="485" cy="233.82" r="1.0" fill="#c40a2c"/>
<circle cx="487.04" cy="233.89" r="1.0" fill="#c40a2c"/>
<circle cx="476.19" cy="203.63" r="1.0" fill="#c40a2c"/>
<circle cx="478.38" cy="203.2" r="1.0" fill="#c40a2c"/>
<circle cx="479.41" cy="203.22" r="1.0" fill="#c40a2c"/>
<circle cx="481.7" cy="203.97" r="1.0" fill="#c40a2c"/>
<circle cx="483.95" cy="203.52" r="1.0" fill="#c40a2c"/>
<circle cx="486.26" cy="203.28" r="1.0" fill="#c40a2c"/>
<circle cx="478.85" cy="252.5" r="1.0" fill="#c40a2c"/>
<circle cx="480.44" cy="253.01" r="1.0" fill="#c40a2c"/>
<circle cx="482.5" cy="252.53" r="1.0" fill="#c40a2c"/>
<circle cx="484.47" cy="252.74" r="1.0" fill="#c40a2c"/>
<circle cx="480.39" cy="251.06" r="1.0" fill="#c40a2c"/>
<circle cx="482.28" cy="251.19" r="1.0" fill="#c40a2c"/>
<circle cx="477.05" cy="273.47" r="1.0" fill="#c40a2c"/>
<circle cx="479.61" cy="273.56" r="1.0" fill="#c40a2c"/>
<circle cx="481.19" cy="273.33" r="1.0" fill="#c40a2c"/>
<circle cx="482.87" cy="273.45" r="1.0" fill="#c40a2c"/>
<circle cx="485.14" cy="272.88" r="1.0" fill="#c40a2c"/>
<circle cx="480.19" cy="269.95" r="1.0" fill="#c40a2c"/>
<circle cx="482.94" cy="270.3" r="1.0" fill="#c40a2c"/>
<circle cx="479.75" cy="205.05" r="1.0" fill="#c40a2c"/>
<circle cx="481.1" cy="205.69" r="1.0" fill="#c40a2c"/>
<circle cx="483.07" cy="205.4" r="1.0" fill="#c40a2c"/>
<circle cx="480.11" cy="242.95" r="1.0" fill="#c40a2c"/>
<circle cx="482.78" cy="243.06" r="1.0" fill="#c40a2c"/>
<circle cx="480.39" cy="217.3" r="1.0" fill="#c40a2c"/>
<circle cx="482.34" cy="217.29" r="1.0" fill="#c40a2c"/>
<circle cx="481.24" cy="206.89" r="1.0" fill="#c40a2c"/>
<circle cx="482.87" cy="206.64" r="1.0" fill="#c40a2c"/>
<circle cx="476.22" cy="248.18" r="1.0" fill="#c40a2c"/>
<circle cx="478.47" cy="247.4" r="1.0" fill="#c40a2c"/>
<circle cx="479.62" cy="247.82" r="1.0" fill="#c40a2c"/>
<circle cx="482.1" cy="247.72" r="1.0" fill="#c40a2c"/>
<circle cx="483.32" cy="247.83" r="1.0" fill="#c40a2c"/>
<circle cx="485.56" cy="247.66" r="1.0" fill="#c40a2c"/>
<circle cx="481.87" cy="212.43" r="1.0" fill="#c40a2c"/>
<circle cx="480.44" cy="208.75" r="1.0" fill="#c40a2c"/>
<circle cx="482.02" cy="208.69" r="1.0" fill="#c40a2c"/>
<circle cx="480.28" cy="229.23" r="1.0" fill="#c40a2c"/>
<circle cx="482.41" cy="229.28" r="1.0" fill="#c40a2c"/>
<circle cx="481.05" cy="219.13" r="1.0" fill="#c40a2c"/>
<circle cx="479.77" cy="245.74" r="1.0" fill="#c40a2c"/>
<circle cx="481.84" cy="246.04" r="1.0" fill="#c40a2c"/>
<circle cx="483.47" cy="246.18" r="1.0" fill="#c40a2c"/>
<circle cx="480.02" cy="210.01" r="1.0" fill="#c40a2c"/>
<circle cx="482.3" cy="210.37" r="1.0" fill="#c40a2c"/>
<circle cx="480.07" cy="276.92" r="1.0" fill="#c40a2c"/>
<circle cx="482.53" cy="277.03" r="1.0" fill="#c40a2c"/>
<circle cx="477.9" cy="275.22" r="1.0" fill="#c40a2c"/>
<circle cx="480.31" cy="275.34" r="1.0" fill="#c40a2c"/>
<circle cx="482.36" cy="274.86" r="1.0" fill="#c40a2c"/>
<circle cx="484.42" cy="275.09" r="1.0" fill="#c40a2c"/>
<circle cx="480.39" cy="199.98" r="1.0" fill="#c40a2c"/>
<circle cx="483.07" cy="200.44" r="1.0" fill="#c40a2c"/>
<line x1="493.7" y1="242.5" x2="508.7" y2="242.5" stroke="#1a080c" stroke-width="1.1"/>
<line x1="497.7" y1="223.5" x2="504.7" y2="223.5" stroke="#4a0814" stroke-width="0.9"/>
<line x1="497.7" y1="260.5" x2="504.7" y2="260.5" stroke="#4a0814" stroke-width="0.9"/>
<circle cx="499.42" cy="237.34" r="1.0" fill="#c40a2c"/>
<circle cx="501.26" cy="237.31" r="1.0" fill="#c40a2c"/>
<circle cx="502.84" cy="237.66" r="1.0" fill="#c40a2c"/>
<circle cx="497.6" cy="229.45" r="1.0" fill="#c40a2c"/>
<circle cx="499.05" cy="229.32" r="1.0" fill="#c40a2c"/>
<circle cx="500.81" cy="229.27" r="1.0" fill="#c40a2c"/>
<circle cx="502.53" cy="229" r="1.0" fill="#c40a2c"/>
<circle cx="504.9" cy="228.83" r="1.0" fill="#c40a2c"/>
<circle cx="500.83" cy="249.31" r="1.0" fill="#c40a2c"/>
<circle cx="503.08" cy="249.03" r="1.0" fill="#c40a2c"/>
<circle cx="500.63" cy="213.82" r="1.0" fill="#c40a2c"/>
<circle cx="502.05" cy="213.97" r="1.0" fill="#c40a2c"/>
<circle cx="496.4" cy="239.42" r="1.0" fill="#c40a2c"/>
<circle cx="498.53" cy="239.69" r="1.0" fill="#c40a2c"/>
<circle cx="500.88" cy="239.7" r="1.0" fill="#c40a2c"/>
<circle cx="501.95" cy="238.89" r="1.0" fill="#c40a2c"/>
<circle cx="504.62" cy="239.68" r="1.0" fill="#c40a2c"/>
<circle cx="505.86" cy="239.33" r="1.0" fill="#c40a2c"/>
<circle cx="498.72" cy="210.59" r="1.0" fill="#c40a2c"/>
<circle cx="501.01" cy="209.92" r="1.0" fill="#c40a2c"/>
<circle cx="502.56" cy="210.17" r="1.0" fill="#c40a2c"/>
<circle cx="494.35" cy="230.64" r="1.0" fill="#c40a2c"/>
<circle cx="495.74" cy="230.52" r="1.0" fill="#c40a2c"/>
<circle cx="498.46" cy="231.14" r="1.0" fill="#c40a2c"/>
<circle cx="500.14" cy="230.43" r="1.0" fill="#c40a2c"/>
<circle cx="500.97" cy="230.76" r="1.0" fill="#c40a2c"/>
<circle cx="502.23" cy="231.04" r="1.0" fill="#c40a2c"/>
<circle cx="503.92" cy="230.89" r="1.0" fill="#c40a2c"/>
<circle cx="505.78" cy="231.14" r="1.0" fill="#c40a2c"/>
<circle cx="507.18" cy="231.03" r="1.0" fill="#c40a2c"/>
<circle cx="495.01" cy="236.18" r="1.0" fill="#c40a2c"/>
<circle cx="497.83" cy="235.92" r="1.0" fill="#c40a2c"/>
<circle cx="498.82" cy="235.52" r="1.0" fill="#c40a2c"/>
<circle cx="500.81" cy="236.1" r="1.0" fill="#c40a2c"/>
<circle cx="502.54" cy="235.55" r="1.0" fill="#c40a2c"/>
<circle cx="504.91" cy="235.78" r="1.0" fill="#c40a2c"/>
<circle cx="506.87" cy="235.53" r="1.0" fill="#c40a2c"/>
<circle cx="499.11" cy="218.82" r="1.0" fill="#c40a2c"/>
<circle cx="500.89" cy="219.1" r="1.0" fill="#c40a2c"/>
<circle cx="502.99" cy="218.83" r="1.0" fill="#c40a2c"/>
<circle cx="503.88" cy="219" r="1.0" fill="#c40a2c"/>
<circle cx="497.94" cy="222.44" r="1.0" fill="#c40a2c"/>
<circle cx="498.84" cy="221.81" r="1.0" fill="#c40a2c"/>
<circle cx="501.11" cy="222.18" r="1.0" fill="#c40a2c"/>
<circle cx="502.93" cy="222.47" r="1.0" fill="#c40a2c"/>
<circle cx="504.79" cy="221.86" r="1.0" fill="#c40a2c"/>
<circle cx="496.69" cy="234.05" r="1.0" fill="#c40a2c"/>
<circle cx="498.03" cy="233.78" r="1.0" fill="#c40a2c"/>
<circle cx="500.74" cy="234.47" r="1.0" fill="#c40a2c"/>
<circle cx="501.6" cy="233.95" r="1.0" fill="#c40a2c"/>
<circle cx="503.62" cy="233.82" r="1.0" fill="#c40a2c"/>
<circle cx="505.92" cy="234.14" r="1.0" fill="#c40a2c"/>
<circle cx="500.93" cy="217.1" r="1.0" fill="#c40a2c"/>
<circle cx="494.34" cy="242.62" r="1.0" fill="#c40a2c"/>
<circle cx="497.11" cy="242.5" r="1.0" fill="#c40a2c"/>
<circle cx="498.36" cy="242.34" r="1.0" fill="#c40a2c"/>
<circle cx="499.6" cy="242.91" r="1.0" fill="#c40a2c"/>
<circle cx="501.72" cy="243.08" r="1.0" fill="#c40a2c"/>
<circle cx="503.13" cy="242.38" r="1.0" fill="#c40a2c"/>
<circle cx="505.33" cy="242.51" r="1.0" fill="#c40a2c"/>
<circle cx="506.73" cy="242.28" r="1.0" fill="#c40a2c"/>
<circle cx="497.91" cy="246.2" r="1.0" fill="#c40a2c"/>
<circle cx="498.94" cy="246.19" r="1.0" fill="#c40a2c"/>
<circle cx="500.94" cy="246.16" r="1.0" fill="#c40a2c"/>
<circle cx="503.32" cy="245.81" r="1.0" fill="#c40a2c"/>
<circle cx="505.48" cy="245.95" r="1.0" fill="#c40a2c"/>
<circle cx="499.69" cy="203.42" r="1.0" fill="#c40a2c"/>
<circle cx="500.7" cy="203.84" r="1.0" fill="#c40a2c"/>
<circle cx="502.78" cy="203.9" r="1.0" fill="#c40a2c"/>
<circle cx="499.01" cy="227.2" r="1.0" fill="#c40a2c"/>
<circle cx="501.49" cy="227.4" r="1.0" fill="#c40a2c"/>
<circle cx="503.15" cy="227.22" r="1.0" fill="#c40a2c"/>
<circle cx="500.35" cy="273.37" r="1.0" fill="#c40a2c"/>
<circle cx="502.36" cy="273.18" r="1.0" fill="#c40a2c"/>
<circle cx="499.84" cy="212.05" r="1.0" fill="#c40a2c"/>
<circle cx="502.1" cy="212.24" r="1.0" fill="#c40a2c"/>
<circle cx="496.09" cy="225.45" r="1.0" fill="#c40a2c"/>
<circle cx="497.57" cy="225.65" r="1.0" fill="#c40a2c"/>
<circle cx="498.92" cy="225.79" r="1.0" fill="#c40a2c"/>
<circle cx="500.97" cy="225.67" r="1.0" fill="#c40a2c"/>
<circle cx="502.57" cy="226.08" r="1.0" fill="#c40a2c"/>
<circle cx="505.57" cy="226.09" r="1.0" fill="#c40a2c"/>
<circle cx="506.62" cy="225.74" r="1.0" fill="#c40a2c"/>
<circle cx="498.65" cy="247.94" r="1.0" fill="#c40a2c"/>
<circle cx="500.72" cy="247.63" r="1.0" fill="#c40a2c"/>
<circle cx="503.09" cy="247.58" r="1.0" fill="#c40a2c"/>
<circle cx="504.03" cy="247.39" r="1.0" fill="#c40a2c"/>
<circle cx="499.79" cy="200.51" r="1.0" fill="#c40a2c"/>
<circle cx="501.58" cy="199.78" r="1.0" fill="#c40a2c"/>
<circle cx="503.51" cy="199.76" r="1.0" fill="#c40a2c"/>
<circle cx="498.32" cy="254.3" r="1.0" fill="#c40a2c"/>
<circle cx="500.46" cy="254.46" r="1.0" fill="#c40a2c"/>
<circle cx="502.42" cy="254.41" r="1.0" fill="#c40a2c"/>
<circle cx="503.72" cy="254.15" r="1.0" fill="#c40a2c"/>
<circle cx="499.69" cy="267.78" r="1.0" fill="#c40a2c"/>
<circle cx="501.91" cy="267.89" r="1.0" fill="#c40a2c"/>
<circle cx="500.97" cy="250.98" r="1.0" fill="#c40a2c"/>
<circle cx="502.33" cy="251.14" r="1.0" fill="#c40a2c"/>
<circle cx="500.51" cy="224.12" r="1.0" fill="#c40a2c"/>
<circle cx="501.97" cy="223.7" r="1.0" fill="#c40a2c"/>
<circle cx="498.31" cy="269.8" r="1.0" fill="#c40a2c"/>
<circle cx="500.08" cy="269.69" r="1.0" fill="#c40a2c"/>
<circle cx="501.46" cy="269.5" r="1.0" fill="#c40a2c"/>
<circle cx="503.81" cy="269.98" r="1.0" fill="#c40a2c"/>
<circle cx="496.93" cy="258.21" r="1.0" fill="#c40a2c"/>
<circle cx="498.74" cy="258.14" r="1.0" fill="#c40a2c"/>
<circle cx="500.76" cy="258.37" r="1.0" fill="#c40a2c"/>
<circle cx="502.56" cy="258.31" r="1.0" fill="#c40a2c"/>
<circle cx="504.66" cy="258.31" r="1.0" fill="#c40a2c"/>
<circle cx="499.59" cy="208.96" r="1.0" fill="#c40a2c"/>
<circle cx="502.06" cy="208.76" r="1.0" fill="#c40a2c"/>
<circle cx="499.52" cy="263.29" r="1.0" fill="#c40a2c"/>
<circle cx="501.38" cy="263.25" r="1.0" fill="#c40a2c"/>
<circle cx="503.01" cy="263.27" r="1.0" fill="#c40a2c"/>
<circle cx="500.71" cy="201.4" r="1.0" fill="#c40a2c"/>
<circle cx="499.41" cy="240.85" r="1.0" fill="#c40a2c"/>
<circle cx="501.38" cy="241.31" r="1.0" fill="#c40a2c"/>
<circle cx="500.87" cy="253.12" r="1.0" fill="#c40a2c"/>
<circle cx="497.25" cy="244.5" r="1.0" fill="#c40a2c"/>
<circle cx="499.07" cy="244.1" r="1.0" fill="#c40a2c"/>
<circle cx="501.06" cy="243.99" r="1.0" fill="#c40a2c"/>
<circle cx="503.34" cy="244" r="1.0" fill="#c40a2c"/>
<circle cx="504.92" cy="244.5" r="1.0" fill="#c40a2c"/>
<circle cx="499.03" cy="220.93" r="1.0" fill="#c40a2c"/>
<circle cx="500.55" cy="220.26" r="1.0" fill="#c40a2c"/>
<circle cx="502.29" cy="220.89" r="1.0" fill="#c40a2c"/>
<circle cx="504.73" cy="220.71" r="1.0" fill="#c40a2c"/>
<circle cx="500.64" cy="205.59" r="1.0" fill="#c40a2c"/>
<circle cx="502.61" cy="205.43" r="1.0" fill="#c40a2c"/>
<circle cx="500.53" cy="206.59" r="1.0" fill="#c40a2c"/>
<circle cx="502.05" cy="206.81" r="1.0" fill="#c40a2c"/>
<circle cx="500.35" cy="232.21" r="1.0" fill="#c40a2c"/>
<circle cx="502.44" cy="232.01" r="1.0" fill="#c40a2c"/>
<circle cx="501.56" cy="274.6" r="1.0" fill="#c40a2c"/>
<circle cx="498.74" cy="271.58" r="1.0" fill="#c40a2c"/>
<circle cx="500.78" cy="271.72" r="1.0" fill="#c40a2c"/>
<circle cx="502.59" cy="271.22" r="1.0" fill="#c40a2c"/>
<circle cx="501.15" cy="256.2" r="1.0" fill="#c40a2c"/>
<circle cx="501.59" cy="264.51" r="1.0" fill="#c40a2c"/>
<circle cx="501.64" cy="260.07" r="1.0" fill="#c40a2c"/>
<line x1="458.5" y1="192.5" x2="483" y2="192.5" stroke="#333" stroke-width="0.9"/>
<text x="470.75" y="191.9" font-size="5.5" fill="#1c1c1c" text-anchor="middle">*</text>
<line x1="37.5" y1="333.8" x2="37.5" y2="436.5" stroke="#1e1e1e" stroke-width="1.3"/>
<line x1="34.5" y1="435.5" x2="37.5" y2="435.5" stroke="#1e1e1e" stroke-width="1.0"/>
<text x="31.6" y="438.15" font-size="6.3" fill="#1c1c1c" text-anchor="end">0</text>
<line x1="34.5" y1="415.5" x2="37.5" y2="415.5" stroke="#1e1e1e" stroke-width="1.0"/>
<text x="31.6" y="417.97" font-size="6.3" fill="#1c1c1c" text-anchor="end">20</text>
<line x1="34.5" y1="395.5" x2="37.5" y2="395.5" stroke="#1e1e1e" stroke-width="1.0"/>
<text x="31.6" y="397.79" font-size="6.3" fill="#1c1c1c" text-anchor="end">40</text>
<line x1="34.5" y1="375.5" x2="37.5" y2="375.5" stroke="#1e1e1e" stroke-width="1.0"/>
<text x="31.6" y="377.61" font-size="6.3" fill="#1c1c1c" text-anchor="end">60</text>
<line x1="34.5" y1="355.5" x2="37.5" y2="355.5" stroke="#1e1e1e" stroke-width="1.0"/>
<text x="31.6" y="357.43" font-size="6.3" fill="#1c1c1c" text-anchor="end">80</text>
<line x1="34.5" y1="335.5" x2="37.5" y2="335.5" stroke="#1e1e1e" stroke-width="1.0"/>
<text x="31.6" y="337.25" font-size="6.3" fill="#1c1c1c" text-anchor="end">100</text>
<line x1="36.9" y1="435.5" x2="103.7" y2="435.5" stroke="#1e1e1e" stroke-width="1.3"/>
<line x1="50.5" y1="435.9" x2="50.5" y2="438.9" stroke="#1e1e1e" stroke-width="1.0"/>
<line x1="70.5" y1="435.9" x2="70.5" y2="438.9" stroke="#1e1e1e" stroke-width="1.0"/>
<line x1="90.5" y1="435.9" x2="90.5" y2="438.9" stroke="#1e1e1e" stroke-width="1.0"/>
<text x="54.2" y="446.1" font-size="6.4" fill="#1c1c1c" text-anchor="end" stroke="#1c1c1c" stroke-width="0.12" transform="rotate(-45 54.2 446.1)">440C/C</text>
<text x="74.6" y="446.1" font-size="6.4" fill="#1c1c1c" text-anchor="end" stroke="#1c1c1c" stroke-width="0.12" transform="rotate(-45 74.6 446.1)">440C/T</text>
<text x="94.2" y="446.1" font-size="6.4" fill="#1c1c1c" text-anchor="end" stroke="#1c1c1c" stroke-width="0.12" transform="rotate(-45 94.2 446.1)">440T/T</text>
<text x="10.6" y="455.7" font-size="6.6" fill="#1c1c1c" text-anchor="start" stroke="#1c1c1c" stroke-width="0.1">NKG2A</text>
<text x="15.82" y="383.8" font-size="8.1" fill="#1c1c1c" text-anchor="middle" stroke="#1c1c1c" stroke-width="0.38" textLength="70.4" lengthAdjust="spacingAndGlyphs" transform="rotate(-90 15.82 383.8)">% CD107a total CD56<tspan baseline-shift="super" font-size="4.6">dim</tspan> NK</text>
<line x1="42.7" y1="368.5" x2="57.7" y2="368.5" stroke="#1a080c" stroke-width="1.1"/>
<line x1="46.7" y1="355.5" x2="53.7" y2="355.5" stroke="#4a0814" stroke-width="0.9"/>
<line x1="46.7" y1="381.5" x2="53.7" y2="381.5" stroke="#4a0814" stroke-width="0.9"/>
<circle cx="47.33" cy="373.81" r="1.0" fill="#c40a2c"/>
<circle cx="49.51" cy="373.61" r="1.0" fill="#c40a2c"/>
<circle cx="51.04" cy="373.68" r="1.0" fill="#c40a2c"/>
<circle cx="53.54" cy="373.84" r="1.0" fill="#c40a2c"/>
<circle cx="45.38" cy="370.73" r="1.0" fill="#c40a2c"/>
<circle cx="47.45" cy="370.66" r="1.0" fill="#c40a2c"/>
<circle cx="49.07" cy="370.06" r="1.0" fill="#c40a2c"/>
<circle cx="50.87" cy="370.6" r="1.0" fill="#c40a2c"/>
<circle cx="53.21" cy="370.36" r="1.0" fill="#c40a2c"/>
<circle cx="55.34" cy="370.79" r="1.0" fill="#c40a2c"/>
<circle cx="46.11" cy="362.24" r="1.0" fill="#c40a2c"/>
<circle cx="47.87" cy="362.05" r="1.0" fill="#c40a2c"/>
<circle cx="50.52" cy="361.65" r="1.0" fill="#c40a2c"/>
<circle cx="51.74" cy="361.76" r="1.0" fill="#c40a2c"/>
<circle cx="53.63" cy="361.99" r="1.0" fill="#c40a2c"/>
<circle cx="45.95" cy="357.09" r="1.0" fill="#c40a2c"/>
<circle cx="48.68" cy="356.65" r="1.0" fill="#c40a2c"/>
<circle cx="50.19" cy="356.5" r="1.0" fill="#c40a2c"/>
<circle cx="51.63" cy="357.03" r="1.0" fill="#c40a2c"/>
<circle cx="54.21" cy="357.18" r="1.0" fill="#c40a2c"/>
<circle cx="43.56" cy="369.04" r="1.0" fill="#c40a2c"/>
<circle cx="44.82" cy="368.96" r="1.0" fill="#c40a2c"/>
<circle cx="46.59" cy="368.9" r="1.0" fill="#c40a2c"/>
<circle cx="48.06" cy="368.9" r="1.0" fill="#c40a2c"/>
<circle cx="49.69" cy="368.41" r="1.0" fill="#c40a2c"/>
<circle cx="51.01" cy="368.45" r="1.0" fill="#c40a2c"/>
<circle cx="52.27" cy="369.12" r="1.0" fill="#c40a2c"/>
<circle cx="54.23" cy="369.02" r="1.0" fill="#c40a2c"/>
<circle cx="54.69" cy="368.53" r="1.0" fill="#c40a2c"/>
<circle cx="56.16" cy="368.74" r="1.0" fill="#c40a2c"/>
<circle cx="48.21" cy="355.55" r="1.0" fill="#c40a2c"/>
<circle cx="50.14" cy="355.5" r="1.0" fill="#c40a2c"/>
<circle cx="52.34" cy="354.84" r="1.0" fill="#c40a2c"/>
<circle cx="44.76" cy="363.6" r="1.0" fill="#c40a2c"/>
<circle cx="46.51" cy="363.56" r="1.0" fill="#c40a2c"/>
<circle cx="48.98" cy="363.89" r="1.0" fill="#c40a2c"/>
<circle cx="50.32" cy="364.09" r="1.0" fill="#c40a2c"/>
<circle cx="52.48" cy="364.05" r="1.0" fill="#c40a2c"/>
<circle cx="53.67" cy="363.77" r="1.0" fill="#c40a2c"/>
<circle cx="55.6" cy="363.87" r="1.0" fill="#c40a2c"/>
<circle cx="47.92" cy="377.23" r="1.0" fill="#c40a2c"/>
<circle cx="50.58" cy="376.83" r="1.0" fill="#c40a2c"/>
<circle cx="52" cy="377.48" r="1.0" fill="#c40a2c"/>
<circle cx="44.64" cy="358.89" r="1.0" fill="#c40a2c"/>
<circle cx="47.09" cy="358.28" r="1.0" fill="#c40a2c"/>
<circle cx="47.99" cy="358.18" r="1.0" fill="#c40a2c"/>
<circle cx="50.2" cy="358.47" r="1.0" fill="#c40a2c"/>
<circle cx="52.14" cy="358.33" r="1.0" fill="#c40a2c"/>
<circle cx="53.42" cy="358.68" r="1.0" fill="#c40a2c"/>
<circle cx="55.6" cy="358.43" r="1.0" fill="#c40a2c"/>
<circle cx="48.57" cy="382.6" r="1.0" fill="#c40a2c"/>
<circle cx="49.84" cy="382.19" r="1.0" fill="#c40a2c"/>
<circle cx="52.01" cy="381.92" r="1.0" fill="#c40a2c"/>
<circle cx="50.75" cy="385.34" r="1.0" fill="#c40a2c"/>
<circle cx="45.43" cy="365" r="1.0" fill="#c40a2c"/>
<circle cx="46.99" cy="365.75" r="1.0" fill="#c40a2c"/>
<circle cx="48.78" cy="365.04" r="1.0" fill="#c40a2c"/>
<circle cx="49.81" cy="365.7" r="1.0" fill="#c40a2c"/>
<circle cx="52.46" cy="365.64" r="1.0" fill="#c40a2c"/>
<circle cx="53.22" cy="365.48" r="1.0" fill="#c40a2c"/>
<circle cx="55.36" cy="365.53" r="1.0" fill="#c40a2c"/>
<circle cx="48.88" cy="359.94" r="1.0" fill="#c40a2c"/>
<circle cx="50.28" cy="360.27" r="1.0" fill="#c40a2c"/>
<circle cx="48.16" cy="372.57" r="1.0" fill="#c40a2c"/>
<circle cx="49.77" cy="372.43" r="1.0" fill="#c40a2c"/>
<circle cx="51.17" cy="371.82" r="1.0" fill="#c40a2c"/>
<circle cx="53.99" cy="371.7" r="1.0" fill="#c40a2c"/>
<circle cx="49.62" cy="394.69" r="1.0" fill="#c40a2c"/>
<circle cx="48.94" cy="352.1" r="1.0" fill="#c40a2c"/>
<circle cx="51.49" cy="351.78" r="1.0" fill="#c40a2c"/>
<circle cx="49.19" cy="401.08" r="1.0" fill="#c40a2c"/>
<circle cx="51.16" cy="400.63" r="1.0" fill="#c40a2c"/>
<circle cx="45.39" cy="367.18" r="1.0" fill="#c40a2c"/>
<circle cx="48.31" cy="366.97" r="1.0" fill="#c40a2c"/>
<circle cx="49.53" cy="366.95" r="1.0" fill="#c40a2c"/>
<circle cx="51.51" cy="366.74" r="1.0" fill="#c40a2c"/>
<circle cx="52.96" cy="366.98" r="1.0" fill="#c40a2c"/>
<circle cx="55.84" cy="367.47" r="1.0" fill="#c40a2c"/>
<circle cx="48.96" cy="375.46" r="1.0" fill="#c40a2c"/>
<circle cx="51.36" cy="375.51" r="1.0" fill="#c40a2c"/>
<circle cx="49.38" cy="380.93" r="1.0" fill="#c40a2c"/>
<circle cx="51.1" cy="381" r="1.0" fill="#c40a2c"/>
<circle cx="49.05" cy="379.04" r="1.0" fill="#c40a2c"/>
<circle cx="51.17" cy="379.35" r="1.0" fill="#c40a2c"/>
<circle cx="49.73" cy="389.53" r="1.0" fill="#c40a2c"/>
<circle cx="50.14" cy="426.85" r="1.0" fill="#c40a2c"/>
<circle cx="49.8" cy="416.39" r="1.0" fill="#c40a2c"/>
<circle cx="50.53" cy="410.99" r="1.0" fill="#c40a2c"/>
<line x1="63.1" y1="372.5" x2="78.1" y2="372.5" stroke="#1a080c" stroke-width="1.1"/>
<line x1="67.1" y1="357.5" x2="74.1" y2="357.5" stroke="#4a0814" stroke-width="0.9"/>
<line x1="67.1" y1="387.5" x2="74.1" y2="387.5" stroke="#4a0814" stroke-width="0.9"/>
<circle cx="66.38" cy="367.21" r="1.0" fill="#c40a2c"/>
<circle cx="67.84" cy="366.74" r="1.0" fill="#c40a2c"/>
<circle cx="68.64" cy="366.68" r="1.0" fill="#c40a2c"/>
<circle cx="70.8" cy="367.06" r="1.0" fill="#c40a2c"/>
<circle cx="71.64" cy="366.82" r="1.0" fill="#c40a2c"/>
<circle cx="73.34" cy="366.96" r="1.0" fill="#c40a2c"/>
<circle cx="73.71" cy="367.09" r="1.0" fill="#c40a2c"/>
<circle cx="75.29" cy="367.08" r="1.0" fill="#c40a2c"/>
<circle cx="64.11" cy="363.24" r="1.0" fill="#c40a2c"/>
<circle cx="65.23" cy="363.45" r="1.0" fill="#c40a2c"/>
<circle cx="66.44" cy="363.41" r="1.0" fill="#c40a2c"/>
<circle cx="67.4" cy="363.88" r="1.0" fill="#c40a2c"/>
<circle cx="68.14" cy="363.77" r="1.0" fill="#c40a2c"/>
<circle cx="69.38" cy="363.99" r="1.0" fill="#c40a2c"/>
<circle cx="69.2" cy="363.98" r="1.0" fill="#c40a2c"/>
<circle cx="70" cy="364" r="1.0" fill="#c40a2c"/>
<circle cx="71.32" cy="363.56" r="1.0" fill="#c40a2c"/>
<circle cx="72.23" cy="364.04" r="1.0" fill="#c40a2c"/>
<circle cx="72.71" cy="364.07" r="1.0" fill="#c40a2c"/>
<circle cx="74.16" cy="363.84" r="1.0" fill="#c40a2c"/>
<circle cx="74.95" cy="363.79" r="1.0" fill="#c40a2c"/>
<circle cx="76.2" cy="363.68" r="1.0" fill="#c40a2c"/>
<circle cx="76.29" cy="363.39" r="1.0" fill="#c40a2c"/>
<circle cx="77.48" cy="363.55" r="1.0" fill="#c40a2c"/>
<circle cx="69.21" cy="352.13" r="1.0" fill="#c40a2c"/>
<circle cx="70.41" cy="351.89" r="1.0" fill="#c40a2c"/>
<circle cx="72.25" cy="352.16" r="1.0" fill="#c40a2c"/>
<circle cx="65.21" cy="364.92" r="1.0" fill="#c40a2c"/>
<circle cx="66.35" cy="365.02" r="1.0" fill="#c40a2c"/>
<circle cx="66.56" cy="365.75" r="1.0" fill="#c40a2c"/>
<circle cx="68.05" cy="364.92" r="1.0" fill="#c40a2c"/>
<circle cx="68.39" cy="365.39" r="1.0" fill="#c40a2c"/>
<circle cx="69.8" cy="365.09" r="1.0" fill="#c40a2c"/>
<circle cx="71.32" cy="365.11" r="1.0" fill="#c40a2c"/>
<circle cx="72.33" cy="365.78" r="1.0" fill="#c40a2c"/>
<circle cx="73.23" cy="365.03" r="1.0" fill="#c40a2c"/>
<circle cx="73.77" cy="365.77" r="1.0" fill="#c40a2c"/>
<circle cx="75.4" cy="364.99" r="1.0" fill="#c40a2c"/>
<circle cx="75.43" cy="365.3" r="1.0" fill="#c40a2c"/>
<circle cx="68.46" cy="390.66" r="1.0" fill="#c40a2c"/>
<circle cx="70.59" cy="390.53" r="1.0" fill="#c40a2c"/>
<circle cx="72.89" cy="391.12" r="1.0" fill="#c40a2c"/>
<circle cx="66.49" cy="369.1" r="1.0" fill="#c40a2c"/>
<circle cx="68.66" cy="368.83" r="1.0" fill="#c40a2c"/>
<circle cx="70.42" cy="368.37" r="1.0" fill="#c40a2c"/>
<circle cx="71.84" cy="368.77" r="1.0" fill="#c40a2c"/>
<circle cx="72.54" cy="368.9" r="1.0" fill="#c40a2c"/>
<circle cx="73.91" cy="368.74" r="1.0" fill="#c40a2c"/>
<circle cx="67.49" cy="358.14" r="1.0" fill="#c40a2c"/>
<circle cx="69.35" cy="358.12" r="1.0" fill="#c40a2c"/>
<circle cx="71.62" cy="358.77" r="1.0" fill="#c40a2c"/>
<circle cx="74.26" cy="358.57" r="1.0" fill="#c40a2c"/>
<circle cx="65.27" cy="361.57" r="1.0" fill="#c40a2c"/>
<circle cx="66.94" cy="362.38" r="1.0" fill="#c40a2c"/>
<circle cx="67.62" cy="362.32" r="1.0" fill="#c40a2c"/>
<circle cx="68.57" cy="362.04" r="1.0" fill="#c40a2c"/>
<circle cx="69.86" cy="361.75" r="1.0" fill="#c40a2c"/>
<circle cx="70.78" cy="361.65" r="1.0" fill="#c40a2c"/>
<circle cx="71.6" cy="362.12" r="1.0" fill="#c40a2c"/>
<circle cx="72.19" cy="362.03" r="1.0" fill="#c40a2c"/>
<circle cx="74.06" cy="362.37" r="1.0" fill="#c40a2c"/>
<circle cx="74.57" cy="361.51" r="1.0" fill="#c40a2c"/>
<circle cx="75.72" cy="361.53" r="1.0" fill="#c40a2c"/>
<circle cx="66.12" cy="360.52" r="1.0" fill="#c40a2c"/>
<circle cx="66.76" cy="359.98" r="1.0" fill="#c40a2c"/>
<circle cx="68.47" cy="360.44" r="1.0" fill="#c40a2c"/>
<circle cx="69.43" cy="360.07" r="1.0" fill="#c40a2c"/>
<circle cx="70.8" cy="359.96" r="1.0" fill="#c40a2c"/>
<circle cx="71.67" cy="359.86" r="1.0" fill="#c40a2c"/>
<circle cx="73.13" cy="360.18" r="1.0" fill="#c40a2c"/>
<circle cx="74.71" cy="360.17" r="1.0" fill="#c40a2c"/>
<circle cx="75.36" cy="360.66" r="1.0" fill="#c40a2c"/>
<circle cx="65.08" cy="356.84" r="1.0" fill="#c40a2c"/>
<circle cx="65.48" cy="357.15" r="1.0" fill="#c40a2c"/>
<circle cx="66.22" cy="356.95" r="1.0" fill="#c40a2c"/>
<circle cx="67.61" cy="356.71" r="1.0" fill="#c40a2c"/>
<circle cx="68.21" cy="357.1" r="1.0" fill="#c40a2c"/>
<circle cx="69.5" cy="357.24" r="1.0" fill="#c40a2c"/>
<circle cx="70.76" cy="356.54" r="1.0" fill="#c40a2c"/>
<circle cx="72.15" cy="356.73" r="1.0" fill="#c40a2c"/>
<circle cx="72.35" cy="356.48" r="1.0" fill="#c40a2c"/>
<circle cx="73.79" cy="356.57" r="1.0" fill="#c40a2c"/>
<circle cx="74.31" cy="357.25" r="1.0" fill="#c40a2c"/>
<circle cx="75.26" cy="357.27" r="1.0" fill="#c40a2c"/>
<circle cx="65.36" cy="370.44" r="1.0" fill="#c40a2c"/>
<circle cx="66.81" cy="370.32" r="1.0" fill="#c40a2c"/>
<circle cx="67.43" cy="370.89" r="1.0" fill="#c40a2c"/>
<circle cx="68.97" cy="370.49" r="1.0" fill="#c40a2c"/>
<circle cx="68.99" cy="370.36" r="1.0" fill="#c40a2c"/>
<circle cx="71.09" cy="370.85" r="1.0" fill="#c40a2c"/>
<circle cx="71.86" cy="370.39" r="1.0" fill="#c40a2c"/>
<circle cx="72.12" cy="370.67" r="1.0" fill="#c40a2c"/>
<circle cx="73.31" cy="370.48" r="1.0" fill="#c40a2c"/>
<circle cx="74.8" cy="370.63" r="1.0" fill="#c40a2c"/>
<circle cx="76.13" cy="370.15" r="1.0" fill="#c40a2c"/>
<circle cx="66.19" cy="375.79" r="1.0" fill="#c40a2c"/>
<circle cx="67.87" cy="375.67" r="1.0" fill="#c40a2c"/>
<circle cx="69.62" cy="375.64" r="1.0" fill="#c40a2c"/>
<circle cx="70.47" cy="375.31" r="1.0" fill="#c40a2c"/>
<circle cx="72.12" cy="375.64" r="1.0" fill="#c40a2c"/>
<circle cx="74.25" cy="375.66" r="1.0" fill="#c40a2c"/>
<circle cx="67.3" cy="377.59" r="1.0" fill="#c40a2c"/>
<circle cx="69.35" cy="377.69" r="1.0" fill="#c40a2c"/>
<circle cx="70.8" cy="376.97" r="1.0" fill="#c40a2c"/>
<circle cx="73.19" cy="377.3" r="1.0" fill="#c40a2c"/>
<circle cx="65.52" cy="372.36" r="1.0" fill="#c40a2c"/>
<circle cx="66.81" cy="371.92" r="1.0" fill="#c40a2c"/>
<circle cx="68.07" cy="372.57" r="1.0" fill="#c40a2c"/>
<circle cx="69.11" cy="372.55" r="1.0" fill="#c40a2c"/>
<circle cx="69.98" cy="372.24" r="1.0" fill="#c40a2c"/>
<circle cx="72.04" cy="372.3" r="1.0" fill="#c40a2c"/>
<circle cx="72.78" cy="372.16" r="1.0" fill="#c40a2c"/>
<circle cx="73.78" cy="371.85" r="1.0" fill="#c40a2c"/>
<circle cx="74.52" cy="372.47" r="1.0" fill="#c40a2c"/>
<circle cx="75.68" cy="372.28" r="1.0" fill="#c40a2c"/>
<circle cx="69.1" cy="374.12" r="1.0" fill="#c40a2c"/>
<circle cx="71.46" cy="373.98" r="1.0" fill="#c40a2c"/>
<circle cx="70.76" cy="380.94" r="1.0" fill="#c40a2c"/>
<circle cx="70.41" cy="387.72" r="1.0" fill="#c40a2c"/>
<circle cx="67.8" cy="399.53" r="1.0" fill="#c40a2c"/>
<circle cx="69.53" cy="399.29" r="1.0" fill="#c40a2c"/>
<circle cx="71.61" cy="399.19" r="1.0" fill="#c40a2c"/>
<circle cx="73.65" cy="399.26" r="1.0" fill="#c40a2c"/>
<circle cx="70.19" cy="384.28" r="1.0" fill="#c40a2c"/>
<circle cx="72" cy="384.33" r="1.0" fill="#c40a2c"/>
<circle cx="68.76" cy="378.79" r="1.0" fill="#c40a2c"/>
<circle cx="70.03" cy="379.12" r="1.0" fill="#c40a2c"/>
<circle cx="72.39" cy="379.26" r="1.0" fill="#c40a2c"/>
<circle cx="70.9" cy="353.8" r="1.0" fill="#c40a2c"/>
<circle cx="69.2" cy="392.36" r="1.0" fill="#c40a2c"/>
<circle cx="71.71" cy="392.29" r="1.0" fill="#c40a2c"/>
<circle cx="68.73" cy="382.25" r="1.0" fill="#c40a2c"/>
<circle cx="71.09" cy="382.43" r="1.0" fill="#c40a2c"/>
<circle cx="73.04" cy="382.54" r="1.0" fill="#c40a2c"/>
<circle cx="68.6" cy="354.8" r="1.0" fill="#c40a2c"/>
<circle cx="70.11" cy="355.2" r="1.0" fill="#c40a2c"/>
<circle cx="72.76" cy="355.07" r="1.0" fill="#c40a2c"/>
<circle cx="68.13" cy="385.86" r="1.0" fill="#c40a2c"/>
<circle cx="70.99" cy="385.81" r="1.0" fill="#c40a2c"/>
<circle cx="72.29" cy="385.98" r="1.0" fill="#c40a2c"/>
<circle cx="70.9" cy="404.86" r="1.0" fill="#c40a2c"/>
<circle cx="70.91" cy="409.75" r="1.0" fill="#c40a2c"/>
<circle cx="70.58" cy="348.05" r="1.0" fill="#c40a2c"/>
<circle cx="70.96" cy="349.81" r="1.0" fill="#c40a2c"/>
<circle cx="70.21" cy="406.47" r="1.0" fill="#c40a2c"/>
<circle cx="71.05" cy="428.19" r="1.0" fill="#c40a2c"/>
<circle cx="70.34" cy="416.44" r="1.0" fill="#c40a2c"/>
<line x1="82.7" y1="374.5" x2="97.7" y2="374.5" stroke="#1a080c" stroke-width="1.1"/>
<line x1="86.7" y1="359.5" x2="93.7" y2="359.5" stroke="#4a0814" stroke-width="0.9"/>
<line x1="86.7" y1="389.5" x2="93.7" y2="389.5" stroke="#4a0814" stroke-width="0.9"/>
<circle cx="87.98" cy="358.88" r="1.0" fill="#c40a2c"/>
<circle cx="90.18" cy="358.39" r="1.0" fill="#c40a2c"/>
<circle cx="91.96" cy="358.4" r="1.0" fill="#c40a2c"/>
<circle cx="87.03" cy="377.66" r="1.0" fill="#c40a2c"/>
<circle cx="88.33" cy="377.13" r="1.0" fill="#c40a2c"/>
<circle cx="90.57" cy="377.59" r="1.0" fill="#c40a2c"/>
<circle cx="92.1" cy="377.41" r="1.0" fill="#c40a2c"/>
<circle cx="94.17" cy="377.21" r="1.0" fill="#c40a2c"/>
<circle cx="90.77" cy="388.88" r="1.0" fill="#c40a2c"/>
<circle cx="86.12" cy="362.11" r="1.0" fill="#c40a2c"/>
<circle cx="87.17" cy="362.16" r="1.0" fill="#c40a2c"/>
<circle cx="88.35" cy="361.51" r="1.0" fill="#c40a2c"/>
<circle cx="90.59" cy="361.81" r="1.0" fill="#c40a2c"/>
<circle cx="91.14" cy="361.55" r="1.0" fill="#c40a2c"/>
<circle cx="92.97" cy="361.84" r="1.0" fill="#c40a2c"/>
<circle cx="93.99" cy="361.58" r="1.0" fill="#c40a2c"/>
<circle cx="85.19" cy="356.92" r="1.0" fill="#c40a2c"/>
<circle cx="87.1" cy="356.79" r="1.0" fill="#c40a2c"/>
<circle cx="87.9" cy="356.91" r="1.0" fill="#c40a2c"/>
<circle cx="89.3" cy="357.28" r="1.0" fill="#c40a2c"/>
<circle cx="90.82" cy="356.48" r="1.0" fill="#c40a2c"/>
<circle cx="91.6" cy="356.89" r="1.0" fill="#c40a2c"/>
<circle cx="92.93" cy="356.79" r="1.0" fill="#c40a2c"/>
<circle cx="94.54" cy="356.6" r="1.0" fill="#c40a2c"/>
<circle cx="85.89" cy="372.41" r="1.0" fill="#c40a2c"/>
<circle cx="87.97" cy="372.46" r="1.0" fill="#c40a2c"/>
<circle cx="89.13" cy="372.12" r="1.0" fill="#c40a2c"/>
<circle cx="89.91" cy="372.38" r="1.0" fill="#c40a2c"/>
<circle cx="91.15" cy="372.07" r="1.0" fill="#c40a2c"/>
<circle cx="93" cy="372.52" r="1.0" fill="#c40a2c"/>
<circle cx="94.38" cy="372.49" r="1.0" fill="#c40a2c"/>
<circle cx="87.31" cy="359.93" r="1.0" fill="#c40a2c"/>
<circle cx="88.17" cy="360.11" r="1.0" fill="#c40a2c"/>
<circle cx="90.11" cy="360.58" r="1.0" fill="#c40a2c"/>
<circle cx="92.06" cy="359.84" r="1.0" fill="#c40a2c"/>
<circle cx="93.87" cy="359.85" r="1.0" fill="#c40a2c"/>
<circle cx="84.06" cy="368.5" r="1.0" fill="#c40a2c"/>
<circle cx="84.37" cy="369.14" r="1.0" fill="#c40a2c"/>
<circle cx="85.29" cy="368.52" r="1.0" fill="#c40a2c"/>
<circle cx="87.09" cy="369.04" r="1.0" fill="#c40a2c"/>
<circle cx="87.45" cy="368.42" r="1.0" fill="#c40a2c"/>
<circle cx="88.62" cy="368.84" r="1.0" fill="#c40a2c"/>
<circle cx="89.83" cy="368.5" r="1.0" fill="#c40a2c"/>
<circle cx="89.66" cy="368.67" r="1.0" fill="#c40a2c"/>
<circle cx="91.12" cy="368.67" r="1.0" fill="#c40a2c"/>
<circle cx="92.06" cy="368.49" r="1.0" fill="#c40a2c"/>
<circle cx="93.22" cy="369.11" r="1.0" fill="#c40a2c"/>
<circle cx="94.27" cy="368.77" r="1.0" fill="#c40a2c"/>
<circle cx="95.01" cy="369.01" r="1.0" fill="#c40a2c"/>
<circle cx="95.42" cy="368.81" r="1.0" fill="#c40a2c"/>
<circle cx="97.07" cy="368.35" r="1.0" fill="#c40a2c"/>
<circle cx="83.69" cy="365.42" r="1.0" fill="#c40a2c"/>
<circle cx="84.44" cy="365.07" r="1.0" fill="#c40a2c"/>
<circle cx="85.8" cy="365.12" r="1.0" fill="#c40a2c"/>
<circle cx="86.4" cy="365.78" r="1.0" fill="#c40a2c"/>
<circle cx="87.2" cy="365.55" r="1.0" fill="#c40a2c"/>
<circle cx="88.11" cy="365.51" r="1.0" fill="#c40a2c"/>
<circle cx="88.93" cy="365.02" r="1.0" fill="#c40a2c"/>
<circle cx="89.43" cy="365.5" r="1.0" fill="#c40a2c"/>
<circle cx="90.92" cy="365.53" r="1.0" fill="#c40a2c"/>
<circle cx="91.9" cy="365.13" r="1.0" fill="#c40a2c"/>
<circle cx="92.41" cy="365.17" r="1.0" fill="#c40a2c"/>
<circle cx="93.21" cy="365.41" r="1.0" fill="#c40a2c"/>
<circle cx="94.69" cy="365.7" r="1.0" fill="#c40a2c"/>
<circle cx="95.23" cy="365.35" r="1.0" fill="#c40a2c"/>
<circle cx="96.36" cy="365.6" r="1.0" fill="#c40a2c"/>
<circle cx="97.1" cy="365.31" r="1.0" fill="#c40a2c"/>
<circle cx="90.64" cy="378.61" r="1.0" fill="#c40a2c"/>
<circle cx="86.12" cy="363.85" r="1.0" fill="#c40a2c"/>
<circle cx="87.73" cy="363.73" r="1.0" fill="#c40a2c"/>
<circle cx="88.39" cy="363.8" r="1.0" fill="#c40a2c"/>
<circle cx="90.35" cy="363.98" r="1.0" fill="#c40a2c"/>
<circle cx="91.58" cy="363.49" r="1.0" fill="#c40a2c"/>
<circle cx="92.74" cy="363.52" r="1.0" fill="#c40a2c"/>
<circle cx="94.1" cy="364.07" r="1.0" fill="#c40a2c"/>
<circle cx="94.97" cy="363.46" r="1.0" fill="#c40a2c"/>
<circle cx="84.15" cy="366.68" r="1.0" fill="#c40a2c"/>
<circle cx="84.91" cy="367.12" r="1.0" fill="#c40a2c"/>
<circle cx="85.93" cy="366.91" r="1.0" fill="#c40a2c"/>
<circle cx="87.66" cy="367.35" r="1.0" fill="#c40a2c"/>
<circle cx="88.73" cy="367.09" r="1.0" fill="#c40a2c"/>
<circle cx="89.68" cy="367" r="1.0" fill="#c40a2c"/>
<circle cx="90.49" cy="367.22" r="1.0" fill="#c40a2c"/>
<circle cx="91.06" cy="367.15" r="1.0" fill="#c40a2c"/>
<circle cx="92.64" cy="367.27" r="1.0" fill="#c40a2c"/>
<circle cx="93.4" cy="366.88" r="1.0" fill="#c40a2c"/>
<circle cx="94.59" cy="366.74" r="1.0" fill="#c40a2c"/>
<circle cx="95.12" cy="367.48" r="1.0" fill="#c40a2c"/>
<circle cx="96.55" cy="366.71" r="1.0" fill="#c40a2c"/>
<circle cx="89.22" cy="381.07" r="1.0" fill="#c40a2c"/>
<circle cx="91.44" cy="380.26" r="1.0" fill="#c40a2c"/>
<circle cx="88.52" cy="397.84" r="1.0" fill="#c40a2c"/>
<circle cx="91.31" cy="397.33" r="1.0" fill="#c40a2c"/>
<circle cx="90.73" cy="349.9" r="1.0" fill="#c40a2c"/>
<circle cx="85.92" cy="375.52" r="1.0" fill="#c40a2c"/>
<circle cx="87.08" cy="375.22" r="1.0" fill="#c40a2c"/>
<circle cx="87.94" cy="375.26" r="1.0" fill="#c40a2c"/>
<circle cx="89.62" cy="375.29" r="1.0" fill="#c40a2c"/>
<circle cx="91.38" cy="375.82" r="1.0" fill="#c40a2c"/>
<circle cx="91.66" cy="375.25" r="1.0" fill="#c40a2c"/>
<circle cx="92.87" cy="375.48" r="1.0" fill="#c40a2c"/>
<circle cx="94.3" cy="375.64" r="1.0" fill="#c40a2c"/>
<circle cx="90.4" cy="353.12" r="1.0" fill="#c40a2c"/>
<circle cx="90.5" cy="348.44" r="1.0" fill="#c40a2c"/>
<circle cx="89.78" cy="407.58" r="1.0" fill="#c40a2c"/>
<circle cx="91.65" cy="408.28" r="1.0" fill="#c40a2c"/>
<circle cx="89.62" cy="395.92" r="1.0" fill="#c40a2c"/>
<circle cx="91.82" cy="395.54" r="1.0" fill="#c40a2c"/>
<circle cx="89.23" cy="394.19" r="1.0" fill="#c40a2c"/>
<circle cx="90.95" cy="394.6" r="1.0" fill="#c40a2c"/>
<circle cx="89.22" cy="404.81" r="1.0" fill="#c40a2c"/>
<circle cx="90.93" cy="404.23" r="1.0" fill="#c40a2c"/>
<circle cx="86.05" cy="373.67" r="1.0" fill="#c40a2c"/>
<circle cx="87.56" cy="373.69" r="1.0" fill="#c40a2c"/>
<circle cx="89.2" cy="374.3" r="1.0" fill="#c40a2c"/>
<circle cx="89.93" cy="374.06" r="1.0" fill="#c40a2c"/>
<circle cx="91.44" cy="374.24" r="1.0" fill="#c40a2c"/>
<circle cx="93.43" cy="374.02" r="1.0" fill="#c40a2c"/>
<circle cx="94.48" cy="374.22" r="1.0" fill="#c40a2c"/>
<circle cx="87.63" cy="370.87" r="1.0" fill="#c40a2c"/>
<circle cx="88.86" cy="370.51" r="1.0" fill="#c40a2c"/>
<circle cx="91.55" cy="370.77" r="1.0" fill="#c40a2c"/>
<circle cx="93.15" cy="370.88" r="1.0" fill="#c40a2c"/>
<circle cx="89.82" cy="392.85" r="1.0" fill="#c40a2c"/>
<circle cx="91.2" cy="392.61" r="1.0" fill="#c40a2c"/>
<circle cx="89.71" cy="386.09" r="1.0" fill="#c40a2c"/>
<circle cx="90.36" cy="355.26" r="1.0" fill="#c40a2c"/>
<circle cx="90.31" cy="387.67" r="1.0" fill="#c40a2c"/>
<circle cx="88.7" cy="382.14" r="1.0" fill="#c40a2c"/>
<circle cx="91.49" cy="381.98" r="1.0" fill="#c40a2c"/>
<circle cx="89.97" cy="418.39" r="1.0" fill="#c40a2c"/>
<line x1="50.2" y1="339.5" x2="93.1" y2="339.5" stroke="#333" stroke-width="0.9"/>
<text x="71.65" y="339" font-size="5.5" fill="#1c1c1c" text-anchor="middle">*</text>
<line x1="147.5" y1="333.8" x2="147.5" y2="436.5" stroke="#1e1e1e" stroke-width="1.3"/>
<line x1="144.5" y1="435.5" x2="147.5" y2="435.5" stroke="#1e1e1e" stroke-width="1.0"/>
<text x="141.6" y="438.15" font-size="6.3" fill="#1c1c1c" text-anchor="end">0</text>
<line x1="144.5" y1="415.5" x2="147.5" y2="415.5" stroke="#1e1e1e" stroke-width="1.0"/>
<text x="141.6" y="417.97" font-size="6.3" fill="#1c1c1c" text-anchor="end">20</text>
<line x1="144.5" y1="395.5" x2="147.5" y2="395.5" stroke="#1e1e1e" stroke-width="1.0"/>
<text x="141.6" y="397.79" font-size="6.3" fill="#1c1c1c" text-anchor="end">40</text>
<line x1="144.5" y1="375.5" x2="147.5" y2="375.5" stroke="#1e1e1e" stroke-width="1.0"/>
<text x="141.6" y="377.61" font-size="6.3" fill="#1c1c1c" text-anchor="end">60</text>
<line x1="144.5" y1="355.5" x2="147.5" y2="355.5" stroke="#1e1e1e" stroke-width="1.0"/>
<text x="141.6" y="357.43" font-size="6.3" fill="#1c1c1c" text-anchor="end">80</text>
<line x1="144.5" y1="335.5" x2="147.5" y2="335.5" stroke="#1e1e1e" stroke-width="1.0"/>
<text x="141.6" y="337.25" font-size="6.3" fill="#1c1c1c" text-anchor="end">100</text>
<line x1="146.9" y1="435.5" x2="213.7" y2="435.5" stroke="#1e1e1e" stroke-width="1.3"/>
<line x1="160.5" y1="435.9" x2="160.5" y2="438.9" stroke="#1e1e1e" stroke-width="1.0"/>
<line x1="180.5" y1="435.9" x2="180.5" y2="438.9" stroke="#1e1e1e" stroke-width="1.0"/>
<line x1="200.5" y1="435.9" x2="200.5" y2="438.9" stroke="#1e1e1e" stroke-width="1.0"/>
<text x="164.2" y="446.1" font-size="6.4" fill="#1c1c1c" text-anchor="end" stroke="#1c1c1c" stroke-width="0.12" transform="rotate(-45 164.2 446.1)">440C/C</text>
<text x="184.6" y="446.1" font-size="6.4" fill="#1c1c1c" text-anchor="end" stroke="#1c1c1c" stroke-width="0.12" transform="rotate(-45 184.6 446.1)">440C/T</text>
<text x="204.2" y="446.1" font-size="6.4" fill="#1c1c1c" text-anchor="end" stroke="#1c1c1c" stroke-width="0.12" transform="rotate(-45 204.2 446.1)">440T/T</text>
<text x="120.6" y="455.7" font-size="6.6" fill="#1c1c1c" text-anchor="start" stroke="#1c1c1c" stroke-width="0.1">NKG2A</text>
<text x="125.92" y="384" font-size="8.1" fill="#1c1c1c" text-anchor="middle" stroke="#1c1c1c" stroke-width="0.38" textLength="62" lengthAdjust="spacingAndGlyphs" transform="rotate(-90 125.92 384)">% IFNg total CD56<tspan baseline-shift="super" font-size="4.6">dim</tspan> NK</text>
<line x1="152.7" y1="396.5" x2="167.7" y2="396.5" stroke="#1a080c" stroke-width="1.1"/>
<line x1="156.7" y1="380.5" x2="163.7" y2="380.5" stroke="#4a0814" stroke-width="0.9"/>
<line x1="156.7" y1="412.5" x2="163.7" y2="412.5" stroke="#4a0814" stroke-width="0.9"/>
<circle cx="158.33" cy="407.77" r="1.0" fill="#c40a2c"/>
<circle cx="160.22" cy="408.13" r="1.0" fill="#c40a2c"/>
<circle cx="162.57" cy="407.72" r="1.0" fill="#c40a2c"/>
<circle cx="158.45" cy="411.57" r="1.0" fill="#c40a2c"/>
<circle cx="160.54" cy="411.05" r="1.0" fill="#c40a2c"/>
<circle cx="162.55" cy="411.41" r="1.0" fill="#c40a2c"/>
<circle cx="157.34" cy="366.9" r="1.0" fill="#c40a2c"/>
<circle cx="158.53" cy="366.91" r="1.0" fill="#c40a2c"/>
<circle cx="160.53" cy="367.34" r="1.0" fill="#c40a2c"/>
<circle cx="163.14" cy="366.97" r="1.0" fill="#c40a2c"/>
<circle cx="160.42" cy="426.85" r="1.0" fill="#c40a2c"/>
<circle cx="159.14" cy="429.87" r="1.0" fill="#c40a2c"/>
<circle cx="161.2" cy="430.13" r="1.0" fill="#c40a2c"/>
<circle cx="156.93" cy="384.33" r="1.0" fill="#c40a2c"/>
<circle cx="158.19" cy="383.82" r="1.0" fill="#c40a2c"/>
<circle cx="160.43" cy="384.34" r="1.0" fill="#c40a2c"/>
<circle cx="162.15" cy="383.91" r="1.0" fill="#c40a2c"/>
<circle cx="163.55" cy="383.81" r="1.0" fill="#c40a2c"/>
<circle cx="158.77" cy="385.91" r="1.0" fill="#c40a2c"/>
<circle cx="159.8" cy="386.17" r="1.0" fill="#c40a2c"/>
<circle cx="162.2" cy="386" r="1.0" fill="#c40a2c"/>
<circle cx="155.58" cy="387.26" r="1.0" fill="#c40a2c"/>
<circle cx="157.61" cy="387.36" r="1.0" fill="#c40a2c"/>
<circle cx="159.29" cy="387.76" r="1.0" fill="#c40a2c"/>
<circle cx="161.07" cy="387.47" r="1.0" fill="#c40a2c"/>
<circle cx="163.01" cy="387.14" r="1.0" fill="#c40a2c"/>
<circle cx="165.79" cy="387.24" r="1.0" fill="#c40a2c"/>
<circle cx="156.99" cy="394.19" r="1.0" fill="#c40a2c"/>
<circle cx="158.94" cy="394.56" r="1.0" fill="#c40a2c"/>
<circle cx="161.2" cy="393.91" r="1.0" fill="#c40a2c"/>
<circle cx="163.32" cy="394.65" r="1.0" fill="#c40a2c"/>
<circle cx="160.19" cy="363.49" r="1.0" fill="#c40a2c"/>
<circle cx="159.88" cy="400.62" r="1.0" fill="#c40a2c"/>
<circle cx="161.79" cy="401.42" r="1.0" fill="#c40a2c"/>
<circle cx="160.13" cy="395.55" r="1.0" fill="#c40a2c"/>
<circle cx="161.03" cy="395.73" r="1.0" fill="#c40a2c"/>
<circle cx="157.63" cy="372.49" r="1.0" fill="#c40a2c"/>
<circle cx="159.06" cy="372.11" r="1.0" fill="#c40a2c"/>
<circle cx="160.91" cy="371.72" r="1.0" fill="#c40a2c"/>
<circle cx="162.47" cy="372.16" r="1.0" fill="#c40a2c"/>
<circle cx="157.97" cy="391.26" r="1.0" fill="#c40a2c"/>
<circle cx="160.01" cy="391.15" r="1.0" fill="#c40a2c"/>
<circle cx="161.93" cy="390.48" r="1.0" fill="#c40a2c"/>
<circle cx="163.29" cy="390.99" r="1.0" fill="#c40a2c"/>
<circle cx="157.41" cy="378.62" r="1.0" fill="#c40a2c"/>
<circle cx="159.16" cy="378.56" r="1.0" fill="#c40a2c"/>
<circle cx="160.65" cy="379.31" r="1.0" fill="#c40a2c"/>
<circle cx="163.03" cy="378.91" r="1.0" fill="#c40a2c"/>
<circle cx="157.53" cy="375.53" r="1.0" fill="#c40a2c"/>
<circle cx="159.15" cy="375.35" r="1.0" fill="#c40a2c"/>
<circle cx="160.61" cy="375.36" r="1.0" fill="#c40a2c"/>
<circle cx="162.38" cy="375.89" r="1.0" fill="#c40a2c"/>
<circle cx="155.41" cy="428.3" r="1.0" fill="#c40a2c"/>
<circle cx="157.36" cy="428.57" r="1.0" fill="#c40a2c"/>
<circle cx="159.39" cy="428.13" r="1.0" fill="#c40a2c"/>
<circle cx="161.02" cy="428.41" r="1.0" fill="#c40a2c"/>
<circle cx="162.63" cy="427.81" r="1.0" fill="#c40a2c"/>
<circle cx="164.27" cy="427.81" r="1.0" fill="#c40a2c"/>
<circle cx="158.81" cy="402.51" r="1.0" fill="#c40a2c"/>
<circle cx="160.86" cy="403.1" r="1.0" fill="#c40a2c"/>
<circle cx="156.29" cy="399.51" r="1.0" fill="#c40a2c"/>
<circle cx="158.14" cy="399.48" r="1.0" fill="#c40a2c"/>
<circle cx="160.23" cy="399.77" r="1.0" fill="#c40a2c"/>
<circle cx="161.55" cy="398.95" r="1.0" fill="#c40a2c"/>
<circle cx="164.53" cy="399.43" r="1.0" fill="#c40a2c"/>
<circle cx="158.08" cy="425.02" r="1.0" fill="#c40a2c"/>
<circle cx="159.69" cy="424.98" r="1.0" fill="#c40a2c"/>
<circle cx="162.49" cy="424.45" r="1.0" fill="#c40a2c"/>
<circle cx="159.89" cy="409.57" r="1.0" fill="#c40a2c"/>
<circle cx="157.12" cy="404.52" r="1.0" fill="#c40a2c"/>
<circle cx="158.85" cy="404.29" r="1.0" fill="#c40a2c"/>
<circle cx="161.17" cy="404.84" r="1.0" fill="#c40a2c"/>
<circle cx="163.12" cy="404.06" r="1.0" fill="#c40a2c"/>
<circle cx="160.51" cy="373.64" r="1.0" fill="#c40a2c"/>
<circle cx="157.58" cy="417.96" r="1.0" fill="#c40a2c"/>
<circle cx="159.07" cy="418.3" r="1.0" fill="#c40a2c"/>
<circle cx="161.04" cy="418.25" r="1.0" fill="#c40a2c"/>
<circle cx="163.26" cy="417.69" r="1.0" fill="#c40a2c"/>
<circle cx="160.39" cy="382.15" r="1.0" fill="#c40a2c"/>
<circle cx="160.68" cy="412.81" r="1.0" fill="#c40a2c"/>
<circle cx="157.91" cy="388.95" r="1.0" fill="#c40a2c"/>
<circle cx="159.86" cy="388.85" r="1.0" fill="#c40a2c"/>
<circle cx="161.84" cy="388.73" r="1.0" fill="#c40a2c"/>
<circle cx="160.6" cy="365.12" r="1.0" fill="#c40a2c"/>
<circle cx="160.7" cy="406.39" r="1.0" fill="#c40a2c"/>
<circle cx="160.06" cy="416.04" r="1.0" fill="#c40a2c"/>
<circle cx="161.89" cy="416.08" r="1.0" fill="#c40a2c"/>
<circle cx="158.66" cy="414.68" r="1.0" fill="#c40a2c"/>
<circle cx="160.75" cy="414.76" r="1.0" fill="#c40a2c"/>
<circle cx="162.42" cy="414.4" r="1.0" fill="#c40a2c"/>
<circle cx="158.54" cy="397.29" r="1.0" fill="#c40a2c"/>
<circle cx="161.03" cy="397.84" r="1.0" fill="#c40a2c"/>
<circle cx="158.61" cy="368.75" r="1.0" fill="#c40a2c"/>
<circle cx="160.43" cy="368.79" r="1.0" fill="#c40a2c"/>
<circle cx="162.58" cy="368.45" r="1.0" fill="#c40a2c"/>
<circle cx="159.73" cy="370.2" r="1.0" fill="#c40a2c"/>
<circle cx="158.76" cy="423.3" r="1.0" fill="#c40a2c"/>
<circle cx="161.58" cy="423.2" r="1.0" fill="#c40a2c"/>
<circle cx="159.8" cy="377.25" r="1.0" fill="#c40a2c"/>
<circle cx="159.73" cy="392.9" r="1.0" fill="#c40a2c"/>
<circle cx="159.91" cy="357.3" r="1.0" fill="#c40a2c"/>
<circle cx="160.15" cy="358.28" r="1.0" fill="#c40a2c"/>
<line x1="173.1" y1="397.5" x2="188.1" y2="397.5" stroke="#1a080c" stroke-width="1.1"/>
<line x1="177.1" y1="381.5" x2="184.1" y2="381.5" stroke="#4a0814" stroke-width="0.9"/>
<line x1="177.1" y1="413.5" x2="184.1" y2="413.5" stroke="#4a0814" stroke-width="0.9"/>
<circle cx="174.68" cy="397.46" r="1.0" fill="#c40a2c"/>
<circle cx="175.27" cy="397.22" r="1.0" fill="#c40a2c"/>
<circle cx="175.92" cy="397.42" r="1.0" fill="#c40a2c"/>
<circle cx="177.61" cy="397.62" r="1.0" fill="#c40a2c"/>
<circle cx="178.38" cy="397.74" r="1.0" fill="#c40a2c"/>
<circle cx="179.32" cy="398.06" r="1.0" fill="#c40a2c"/>
<circle cx="181.11" cy="397.3" r="1.0" fill="#c40a2c"/>
<circle cx="181.62" cy="397.68" r="1.0" fill="#c40a2c"/>
<circle cx="183.33" cy="397.42" r="1.0" fill="#c40a2c"/>
<circle cx="183.96" cy="397.76" r="1.0" fill="#c40a2c"/>
<circle cx="185.36" cy="397.22" r="1.0" fill="#c40a2c"/>
<circle cx="186.16" cy="397.36" r="1.0" fill="#c40a2c"/>
<circle cx="177.74" cy="429.86" r="1.0" fill="#c40a2c"/>
<circle cx="179.81" cy="430.32" r="1.0" fill="#c40a2c"/>
<circle cx="181.65" cy="430.32" r="1.0" fill="#c40a2c"/>
<circle cx="183.92" cy="429.69" r="1.0" fill="#c40a2c"/>
<circle cx="175.47" cy="394.34" r="1.0" fill="#c40a2c"/>
<circle cx="177.97" cy="394.16" r="1.0" fill="#c40a2c"/>
<circle cx="179.53" cy="394.66" r="1.0" fill="#c40a2c"/>
<circle cx="180.71" cy="393.84" r="1.0" fill="#c40a2c"/>
<circle cx="181.79" cy="394.01" r="1.0" fill="#c40a2c"/>
<circle cx="183.44" cy="394" r="1.0" fill="#c40a2c"/>
<circle cx="185.13" cy="394.23" r="1.0" fill="#c40a2c"/>
<circle cx="175.85" cy="390.5" r="1.0" fill="#c40a2c"/>
<circle cx="177.19" cy="391.15" r="1.0" fill="#c40a2c"/>
<circle cx="178.54" cy="390.74" r="1.0" fill="#c40a2c"/>
<circle cx="179.95" cy="390.75" r="1.0" fill="#c40a2c"/>
<circle cx="180.93" cy="391.25" r="1.0" fill="#c40a2c"/>
<circle cx="183.34" cy="390.88" r="1.0" fill="#c40a2c"/>
<circle cx="183.99" cy="390.77" r="1.0" fill="#c40a2c"/>
<circle cx="185.22" cy="391.23" r="1.0" fill="#c40a2c"/>
<circle cx="178.63" cy="419.92" r="1.0" fill="#c40a2c"/>
<circle cx="180.35" cy="420.13" r="1.0" fill="#c40a2c"/>
<circle cx="182.47" cy="419.92" r="1.0" fill="#c40a2c"/>
<circle cx="177.07" cy="366.67" r="1.0" fill="#c40a2c"/>
<circle cx="179.02" cy="367.4" r="1.0" fill="#c40a2c"/>
<circle cx="180.59" cy="367.37" r="1.0" fill="#c40a2c"/>
<circle cx="182.29" cy="366.93" r="1.0" fill="#c40a2c"/>
<circle cx="183.86" cy="367.39" r="1.0" fill="#c40a2c"/>
<circle cx="177.4" cy="389.3" r="1.0" fill="#c40a2c"/>
<circle cx="179.26" cy="389.59" r="1.0" fill="#c40a2c"/>
<circle cx="180.3" cy="389.46" r="1.0" fill="#c40a2c"/>
<circle cx="182.79" cy="389.41" r="1.0" fill="#c40a2c"/>
<circle cx="183.94" cy="388.78" r="1.0" fill="#c40a2c"/>
<circle cx="179.84" cy="380.48" r="1.0" fill="#c40a2c"/>
<circle cx="182.36" cy="380.45" r="1.0" fill="#c40a2c"/>
<circle cx="177.25" cy="421.74" r="1.0" fill="#c40a2c"/>
<circle cx="178.97" cy="421.89" r="1.0" fill="#c40a2c"/>
<circle cx="181.08" cy="421.02" r="1.0" fill="#c40a2c"/>
<circle cx="182.72" cy="421.31" r="1.0" fill="#c40a2c"/>
<circle cx="184.07" cy="421.1" r="1.0" fill="#c40a2c"/>
<circle cx="176.16" cy="422.7" r="1.0" fill="#c40a2c"/>
<circle cx="178.08" cy="423.44" r="1.0" fill="#c40a2c"/>
<circle cx="178.97" cy="423.59" r="1.0" fill="#c40a2c"/>
<circle cx="180.9" cy="423.55" r="1.0" fill="#c40a2c"/>
<circle cx="182.1" cy="423.52" r="1.0" fill="#c40a2c"/>
<circle cx="183.81" cy="423.41" r="1.0" fill="#c40a2c"/>
<circle cx="184.78" cy="423.27" r="1.0" fill="#c40a2c"/>
<circle cx="174.23" cy="424.69" r="1.0" fill="#c40a2c"/>
<circle cx="175.52" cy="424.55" r="1.0" fill="#c40a2c"/>
<circle cx="176.52" cy="425.16" r="1.0" fill="#c40a2c"/>
<circle cx="178.14" cy="424.45" r="1.0" fill="#c40a2c"/>
<circle cx="179.96" cy="425.21" r="1.0" fill="#c40a2c"/>
<circle cx="180.64" cy="424.65" r="1.0" fill="#c40a2c"/>
<circle cx="181.81" cy="424.94" r="1.0" fill="#c40a2c"/>
<circle cx="183.51" cy="425.26" r="1.0" fill="#c40a2c"/>
<circle cx="184.32" cy="425.28" r="1.0" fill="#c40a2c"/>
<circle cx="185.86" cy="424.47" r="1.0" fill="#c40a2c"/>
<circle cx="186.94" cy="424.91" r="1.0" fill="#c40a2c"/>
<circle cx="175.04" cy="385.75" r="1.0" fill="#c40a2c"/>
<circle cx="176.63" cy="385.84" r="1.0" fill="#c40a2c"/>
<circle cx="177.77" cy="385.47" r="1.0" fill="#c40a2c"/>
<circle cx="178.89" cy="385.94" r="1.0" fill="#c40a2c"/>
<circle cx="180.32" cy="385.81" r="1.0" fill="#c40a2c"/>
<circle cx="181.85" cy="385.64" r="1.0" fill="#c40a2c"/>
<circle cx="183.16" cy="385.34" r="1.0" fill="#c40a2c"/>
<circle cx="184.71" cy="385.97" r="1.0" fill="#c40a2c"/>
<circle cx="186.5" cy="385.66" r="1.0" fill="#c40a2c"/>
<circle cx="174.56" cy="392.77" r="1.0" fill="#c40a2c"/>
<circle cx="174.96" cy="392.61" r="1.0" fill="#c40a2c"/>
<circle cx="176.4" cy="392.73" r="1.0" fill="#c40a2c"/>
<circle cx="177.85" cy="392.82" r="1.0" fill="#c40a2c"/>
<circle cx="178.46" cy="392.38" r="1.0" fill="#c40a2c"/>
<circle cx="180.04" cy="392.28" r="1.0" fill="#c40a2c"/>
<circle cx="180.5" cy="392.3" r="1.0" fill="#c40a2c"/>
<circle cx="181.85" cy="392.78" r="1.0" fill="#c40a2c"/>
<circle cx="182.18" cy="392.2" r="1.0" fill="#c40a2c"/>
<circle cx="183.76" cy="392.51" r="1.0" fill="#c40a2c"/>
<circle cx="184.66" cy="392.12" r="1.0" fill="#c40a2c"/>
<circle cx="186.48" cy="392.89" r="1.0" fill="#c40a2c"/>
<circle cx="187.14" cy="392.9" r="1.0" fill="#c40a2c"/>
<circle cx="180.45" cy="379.03" r="1.0" fill="#c40a2c"/>
<circle cx="177.3" cy="384.27" r="1.0" fill="#c40a2c"/>
<circle cx="178" cy="384.27" r="1.0" fill="#c40a2c"/>
<circle cx="180.02" cy="384.48" r="1.0" fill="#c40a2c"/>
<circle cx="181.7" cy="384.2" r="1.0" fill="#c40a2c"/>
<circle cx="183.53" cy="383.94" r="1.0" fill="#c40a2c"/>
<circle cx="185.05" cy="384.15" r="1.0" fill="#c40a2c"/>
<circle cx="175.43" cy="402.68" r="1.0" fill="#c40a2c"/>
<circle cx="177.12" cy="403" r="1.0" fill="#c40a2c"/>
<circle cx="179.03" cy="402.62" r="1.0" fill="#c40a2c"/>
<circle cx="180.57" cy="402.72" r="1.0" fill="#c40a2c"/>
<circle cx="182.27" cy="403.02" r="1.0" fill="#c40a2c"/>
<circle cx="183.29" cy="402.57" r="1.0" fill="#c40a2c"/>
<circle cx="185.33" cy="402.84" r="1.0" fill="#c40a2c"/>
<circle cx="176.23" cy="426.88" r="1.0" fill="#c40a2c"/>
<circle cx="177.41" cy="426.99" r="1.0" fill="#c40a2c"/>
<circle cx="178.9" cy="426.39" r="1.0" fill="#c40a2c"/>
<circle cx="180.6" cy="426.3" r="1.0" fill="#c40a2c"/>
<circle cx="181.59" cy="426.48" r="1.0" fill="#c40a2c"/>
<circle cx="183.76" cy="426.6" r="1.0" fill="#c40a2c"/>
<circle cx="185.38" cy="426.79" r="1.0" fill="#c40a2c"/>
<circle cx="180.72" cy="417.78" r="1.0" fill="#c40a2c"/>
<circle cx="178.14" cy="382.75" r="1.0" fill="#c40a2c"/>
<circle cx="180.33" cy="382.35" r="1.0" fill="#c40a2c"/>
<circle cx="182.97" cy="382.24" r="1.0" fill="#c40a2c"/>
<circle cx="176.54" cy="399.16" r="1.0" fill="#c40a2c"/>
<circle cx="178.95" cy="399.08" r="1.0" fill="#c40a2c"/>
<circle cx="179.68" cy="399.46" r="1.0" fill="#c40a2c"/>
<circle cx="181.47" cy="399.04" r="1.0" fill="#c40a2c"/>
<circle cx="183.74" cy="399.66" r="1.0" fill="#c40a2c"/>
<circle cx="185.31" cy="399.14" r="1.0" fill="#c40a2c"/>
<circle cx="180.89" cy="414.33" r="1.0" fill="#c40a2c"/>
<circle cx="178.53" cy="406.09" r="1.0" fill="#c40a2c"/>
<circle cx="180.19" cy="406.05" r="1.0" fill="#c40a2c"/>
<circle cx="181.5" cy="406.35" r="1.0" fill="#c40a2c"/>
<circle cx="184.14" cy="406.29" r="1.0" fill="#c40a2c"/>
<circle cx="180.35" cy="370.59" r="1.0" fill="#c40a2c"/>
<circle cx="179.09" cy="407.97" r="1.0" fill="#c40a2c"/>
<circle cx="180.05" cy="407.76" r="1.0" fill="#c40a2c"/>
<circle cx="182.71" cy="407.63" r="1.0" fill="#c40a2c"/>
<circle cx="177.36" cy="396.3" r="1.0" fill="#c40a2c"/>
<circle cx="179.76" cy="395.51" r="1.0" fill="#c40a2c"/>
<circle cx="182.12" cy="395.89" r="1.0" fill="#c40a2c"/>
<circle cx="183.23" cy="395.72" r="1.0" fill="#c40a2c"/>
<circle cx="177.32" cy="409.97" r="1.0" fill="#c40a2c"/>
<circle cx="180.08" cy="409.18" r="1.0" fill="#c40a2c"/>
<circle cx="182.02" cy="409.74" r="1.0" fill="#c40a2c"/>
<circle cx="183.17" cy="409.85" r="1.0" fill="#c40a2c"/>
<circle cx="176.74" cy="427.85" r="1.0" fill="#c40a2c"/>
<circle cx="178.53" cy="428.14" r="1.0" fill="#c40a2c"/>
<circle cx="180.13" cy="428.58" r="1.0" fill="#c40a2c"/>
<circle cx="182.45" cy="428.33" r="1.0" fill="#c40a2c"/>
<circle cx="184.17" cy="428.1" r="1.0" fill="#c40a2c"/>
<circle cx="178.35" cy="375.79" r="1.0" fill="#c40a2c"/>
<circle cx="180.45" cy="375.38" r="1.0" fill="#c40a2c"/>
<circle cx="182.35" cy="375.87" r="1.0" fill="#c40a2c"/>
<circle cx="181.19" cy="368.69" r="1.0" fill="#c40a2c"/>
<circle cx="177.43" cy="377.7" r="1.0" fill="#c40a2c"/>
<circle cx="179.61" cy="377.65" r="1.0" fill="#c40a2c"/>
<circle cx="181.75" cy="377.1" r="1.0" fill="#c40a2c"/>
<circle cx="183.09" cy="377.04" r="1.0" fill="#c40a2c"/>
<circle cx="179.42" cy="411.1" r="1.0" fill="#c40a2c"/>
<circle cx="180.96" cy="411.29" r="1.0" fill="#c40a2c"/>
<circle cx="180.03" cy="387.01" r="1.0" fill="#c40a2c"/>
<circle cx="181.39" cy="387.27" r="1.0" fill="#c40a2c"/>
<circle cx="178.21" cy="401.09" r="1.0" fill="#c40a2c"/>
<circle cx="180.54" cy="401.18" r="1.0" fill="#c40a2c"/>
<circle cx="182.52" cy="401.23" r="1.0" fill="#c40a2c"/>
<circle cx="179.45" cy="365.43" r="1.0" fill="#c40a2c"/>
<circle cx="181.64" cy="364.96" r="1.0" fill="#c40a2c"/>
<circle cx="179.71" cy="373.97" r="1.0" fill="#c40a2c"/>
<circle cx="181.63" cy="374" r="1.0" fill="#c40a2c"/>
<circle cx="179.07" cy="404.84" r="1.0" fill="#c40a2c"/>
<circle cx="181.87" cy="404.26" r="1.0" fill="#c40a2c"/>
<circle cx="179.77" cy="412.99" r="1.0" fill="#c40a2c"/>
<circle cx="181.38" cy="412.8" r="1.0" fill="#c40a2c"/>
<circle cx="179.48" cy="416.1" r="1.0" fill="#c40a2c"/>
<circle cx="181.73" cy="416.77" r="1.0" fill="#c40a2c"/>
<circle cx="180.52" cy="371.95" r="1.0" fill="#c40a2c"/>
<line x1="192.7" y1="400.5" x2="207.7" y2="400.5" stroke="#1a080c" stroke-width="1.1"/>
<line x1="196.7" y1="385.5" x2="203.7" y2="385.5" stroke="#4a0814" stroke-width="0.9"/>
<line x1="196.7" y1="415.5" x2="203.7" y2="415.5" stroke="#4a0814" stroke-width="0.9"/>
<circle cx="195.45" cy="387.76" r="1.0" fill="#c40a2c"/>
<circle cx="196.99" cy="387.56" r="1.0" fill="#c40a2c"/>
<circle cx="199.19" cy="387.59" r="1.0" fill="#c40a2c"/>
<circle cx="200.93" cy="387.49" r="1.0" fill="#c40a2c"/>
<circle cx="202.91" cy="387.29" r="1.0" fill="#c40a2c"/>
<circle cx="204.9" cy="387.88" r="1.0" fill="#c40a2c"/>
<circle cx="195.97" cy="384.49" r="1.0" fill="#c40a2c"/>
<circle cx="198.19" cy="384.08" r="1.0" fill="#c40a2c"/>
<circle cx="199.97" cy="384" r="1.0" fill="#c40a2c"/>
<circle cx="202.38" cy="384.08" r="1.0" fill="#c40a2c"/>
<circle cx="204.1" cy="383.68" r="1.0" fill="#c40a2c"/>
<circle cx="197.7" cy="430.17" r="1.0" fill="#c40a2c"/>
<circle cx="199.72" cy="429.9" r="1.0" fill="#c40a2c"/>
<circle cx="202.49" cy="429.86" r="1.0" fill="#c40a2c"/>
<circle cx="195.6" cy="424.45" r="1.0" fill="#c40a2c"/>
<circle cx="197.84" cy="424.54" r="1.0" fill="#c40a2c"/>
<circle cx="199.09" cy="425.11" r="1.0" fill="#c40a2c"/>
<circle cx="201.67" cy="425.1" r="1.0" fill="#c40a2c"/>
<circle cx="203.58" cy="424.8" r="1.0" fill="#c40a2c"/>
<circle cx="205.79" cy="424.88" r="1.0" fill="#c40a2c"/>
<circle cx="193.94" cy="397.3" r="1.0" fill="#c40a2c"/>
<circle cx="195.5" cy="398.01" r="1.0" fill="#c40a2c"/>
<circle cx="198.15" cy="397.23" r="1.0" fill="#c40a2c"/>
<circle cx="199.14" cy="397.95" r="1.0" fill="#c40a2c"/>
<circle cx="200.97" cy="397.89" r="1.0" fill="#c40a2c"/>
<circle cx="202.78" cy="397.52" r="1.0" fill="#c40a2c"/>
<circle cx="204.5" cy="397.59" r="1.0" fill="#c40a2c"/>
<circle cx="206.16" cy="397.47" r="1.0" fill="#c40a2c"/>
<circle cx="198.18" cy="385.95" r="1.0" fill="#c40a2c"/>
<circle cx="200.11" cy="385.74" r="1.0" fill="#c40a2c"/>
<circle cx="202.29" cy="385.3" r="1.0" fill="#c40a2c"/>
<circle cx="196.23" cy="421.4" r="1.0" fill="#c40a2c"/>
<circle cx="197.91" cy="421.2" r="1.0" fill="#c40a2c"/>
<circle cx="200.53" cy="421.46" r="1.0" fill="#c40a2c"/>
<circle cx="201.79" cy="421.79" r="1.0" fill="#c40a2c"/>
<circle cx="203.89" cy="421.68" r="1.0" fill="#c40a2c"/>
<circle cx="198.73" cy="392.61" r="1.0" fill="#c40a2c"/>
<circle cx="200.7" cy="392.25" r="1.0" fill="#c40a2c"/>
<circle cx="202.15" cy="392.92" r="1.0" fill="#c40a2c"/>
<circle cx="194.81" cy="399.48" r="1.0" fill="#c40a2c"/>
<circle cx="197.03" cy="399.23" r="1.0" fill="#c40a2c"/>
<circle cx="198.52" cy="399.39" r="1.0" fill="#c40a2c"/>
<circle cx="199.68" cy="399.69" r="1.0" fill="#c40a2c"/>
<circle cx="202" cy="399.61" r="1.0" fill="#c40a2c"/>
<circle cx="203.37" cy="399.04" r="1.0" fill="#c40a2c"/>
<circle cx="205.79" cy="399.18" r="1.0" fill="#c40a2c"/>
<circle cx="194.28" cy="390.65" r="1.0" fill="#c40a2c"/>
<circle cx="195.2" cy="391" r="1.0" fill="#c40a2c"/>
<circle cx="196.71" cy="390.96" r="1.0" fill="#c40a2c"/>
<circle cx="198.08" cy="391.21" r="1.0" fill="#c40a2c"/>
<circle cx="199.99" cy="390.99" r="1.0" fill="#c40a2c"/>
<circle cx="202.19" cy="391.16" r="1.0" fill="#c40a2c"/>
<circle cx="203.87" cy="391.1" r="1.0" fill="#c40a2c"/>
<circle cx="204.49" cy="390.78" r="1.0" fill="#c40a2c"/>
<circle cx="206.42" cy="391.1" r="1.0" fill="#c40a2c"/>
<circle cx="195.22" cy="394.54" r="1.0" fill="#c40a2c"/>
<circle cx="197.77" cy="393.98" r="1.0" fill="#c40a2c"/>
<circle cx="199.79" cy="394.46" r="1.0" fill="#c40a2c"/>
<circle cx="201.11" cy="394.29" r="1.0" fill="#c40a2c"/>
<circle cx="202.88" cy="394.44" r="1.0" fill="#c40a2c"/>
<circle cx="205.04" cy="394.59" r="1.0" fill="#c40a2c"/>
<circle cx="199.14" cy="373.41" r="1.0" fill="#c40a2c"/>
<circle cx="201.02" cy="374.28" r="1.0" fill="#c40a2c"/>
<circle cx="195.67" cy="417.7" r="1.0" fill="#c40a2c"/>
<circle cx="197.6" cy="418.31" r="1.0" fill="#c40a2c"/>
<circle cx="199.11" cy="418.25" r="1.0" fill="#c40a2c"/>
<circle cx="201.49" cy="418" r="1.0" fill="#c40a2c"/>
<circle cx="203.03" cy="417.78" r="1.0" fill="#c40a2c"/>
<circle cx="205.33" cy="418.14" r="1.0" fill="#c40a2c"/>
<circle cx="197.9" cy="423.43" r="1.0" fill="#c40a2c"/>
<circle cx="200.05" cy="423.3" r="1.0" fill="#c40a2c"/>
<circle cx="201.76" cy="423.56" r="1.0" fill="#c40a2c"/>
<circle cx="195.46" cy="407.8" r="1.0" fill="#c40a2c"/>
<circle cx="197.97" cy="407.45" r="1.0" fill="#c40a2c"/>
<circle cx="199.18" cy="407.99" r="1.0" fill="#c40a2c"/>
<circle cx="201.48" cy="408.03" r="1.0" fill="#c40a2c"/>
<circle cx="202.79" cy="407.76" r="1.0" fill="#c40a2c"/>
<circle cx="204.67" cy="407.84" r="1.0" fill="#c40a2c"/>
<circle cx="198.6" cy="368.95" r="1.0" fill="#c40a2c"/>
<circle cx="199.6" cy="368.83" r="1.0" fill="#c40a2c"/>
<circle cx="201.63" cy="368.59" r="1.0" fill="#c40a2c"/>
<circle cx="199.68" cy="372.52" r="1.0" fill="#c40a2c"/>
<circle cx="196.68" cy="370.04" r="1.0" fill="#c40a2c"/>
<circle cx="198.48" cy="370.84" r="1.0" fill="#c40a2c"/>
<circle cx="199.97" cy="370.62" r="1.0" fill="#c40a2c"/>
<circle cx="202.33" cy="370.59" r="1.0" fill="#c40a2c"/>
<circle cx="204.42" cy="370.39" r="1.0" fill="#c40a2c"/>
<circle cx="194.85" cy="420.05" r="1.0" fill="#c40a2c"/>
<circle cx="197.26" cy="420.14" r="1.0" fill="#c40a2c"/>
<circle cx="199.04" cy="419.97" r="1.0" fill="#c40a2c"/>
<circle cx="201.18" cy="420.09" r="1.0" fill="#c40a2c"/>
<circle cx="202.07" cy="419.6" r="1.0" fill="#c40a2c"/>
<circle cx="204.1" cy="420.08" r="1.0" fill="#c40a2c"/>
<circle cx="198.1" cy="410.97" r="1.0" fill="#c40a2c"/>
<circle cx="199.96" cy="411.03" r="1.0" fill="#c40a2c"/>
<circle cx="201.33" cy="410.9" r="1.0" fill="#c40a2c"/>
<circle cx="203.05" cy="410.92" r="1.0" fill="#c40a2c"/>
<circle cx="196.34" cy="416.47" r="1.0" fill="#c40a2c"/>
<circle cx="198.27" cy="416.31" r="1.0" fill="#c40a2c"/>
<circle cx="199.47" cy="416.64" r="1.0" fill="#c40a2c"/>
<circle cx="201.64" cy="416.05" r="1.0" fill="#c40a2c"/>
<circle cx="203.62" cy="416.69" r="1.0" fill="#c40a2c"/>
<circle cx="204.74" cy="415.95" r="1.0" fill="#c40a2c"/>
<circle cx="198.53" cy="406.49" r="1.0" fill="#c40a2c"/>
<circle cx="200.54" cy="405.92" r="1.0" fill="#c40a2c"/>
<circle cx="201.54" cy="406.47" r="1.0" fill="#c40a2c"/>
<circle cx="196.89" cy="402.61" r="1.0" fill="#c40a2c"/>
<circle cx="198.78" cy="402.96" r="1.0" fill="#c40a2c"/>
<circle cx="199.8" cy="402.55" r="1.0" fill="#c40a2c"/>
<circle cx="202.36" cy="402.86" r="1.0" fill="#c40a2c"/>
<circle cx="203.88" cy="402.86" r="1.0" fill="#c40a2c"/>
<circle cx="198.5" cy="395.56" r="1.0" fill="#c40a2c"/>
<circle cx="199.65" cy="395.84" r="1.0" fill="#c40a2c"/>
<circle cx="202.68" cy="396.18" r="1.0" fill="#c40a2c"/>
<circle cx="196.56" cy="375.3" r="1.0" fill="#c40a2c"/>
<circle cx="199.22" cy="375.99" r="1.0" fill="#c40a2c"/>
<circle cx="200.39" cy="375.39" r="1.0" fill="#c40a2c"/>
<circle cx="202.38" cy="375.4" r="1.0" fill="#c40a2c"/>
<circle cx="198.66" cy="409.1" r="1.0" fill="#c40a2c"/>
<circle cx="199.84" cy="409.24" r="1.0" fill="#c40a2c"/>
<circle cx="201.79" cy="409.49" r="1.0" fill="#c40a2c"/>
<circle cx="196.62" cy="404.54" r="1.0" fill="#c40a2c"/>
<circle cx="198.42" cy="404.35" r="1.0" fill="#c40a2c"/>
<circle cx="201.24" cy="404.58" r="1.0" fill="#c40a2c"/>
<circle cx="202.99" cy="404.85" r="1.0" fill="#c40a2c"/>
<circle cx="199.64" cy="377.18" r="1.0" fill="#c40a2c"/>
<circle cx="200.94" cy="377.45" r="1.0" fill="#c40a2c"/>
<circle cx="196.6" cy="378.62" r="1.0" fill="#c40a2c"/>
<circle cx="198.18" cy="378.53" r="1.0" fill="#c40a2c"/>
<circle cx="200.04" cy="379.4" r="1.0" fill="#c40a2c"/>
<circle cx="201.76" cy="378.78" r="1.0" fill="#c40a2c"/>
<circle cx="204.12" cy="378.74" r="1.0" fill="#c40a2c"/>
<circle cx="195.72" cy="382.24" r="1.0" fill="#c40a2c"/>
<circle cx="197.56" cy="382.13" r="1.0" fill="#c40a2c"/>
<circle cx="198.62" cy="382.77" r="1.0" fill="#c40a2c"/>
<circle cx="200.94" cy="382.57" r="1.0" fill="#c40a2c"/>
<circle cx="203.06" cy="382.26" r="1.0" fill="#c40a2c"/>
<circle cx="205.25" cy="382.03" r="1.0" fill="#c40a2c"/>
<circle cx="199.7" cy="414.93" r="1.0" fill="#c40a2c"/>
<circle cx="200.9" cy="414.35" r="1.0" fill="#c40a2c"/>
<circle cx="198.89" cy="401.18" r="1.0" fill="#c40a2c"/>
<circle cx="201.01" cy="400.8" r="1.0" fill="#c40a2c"/>
<circle cx="198.83" cy="412.83" r="1.0" fill="#c40a2c"/>
<circle cx="200.45" cy="413.32" r="1.0" fill="#c40a2c"/>
<circle cx="201.84" cy="413.33" r="1.0" fill="#c40a2c"/>
<circle cx="200.45" cy="428.13" r="1.0" fill="#c40a2c"/>
<circle cx="197.8" cy="426.65" r="1.0" fill="#c40a2c"/>
<circle cx="199.82" cy="426.16" r="1.0" fill="#c40a2c"/>
<circle cx="201.92" cy="426.53" r="1.0" fill="#c40a2c"/>
<circle cx="203.16" cy="426.99" r="1.0" fill="#c40a2c"/>
<line x1="160.2" y1="342.5" x2="203.1" y2="342.5" stroke="#333" stroke-width="0.9"/>
<text x="181.65" y="342" font-size="5.5" fill="#1c1c1c" text-anchor="middle">*</text>
<line x1="160.2" y1="350.5" x2="179.9" y2="350.5" stroke="#333" stroke-width="0.9"/>
<text x="170.05" y="350" font-size="5.5" fill="#1c1c1c" text-anchor="middle">*</text>
<line x1="37.5" y1="476.4" x2="37.5" y2="579" stroke="#1e1e1e" stroke-width="1.3"/>
<line x1="34.5" y1="578.5" x2="37.5" y2="578.5" stroke="#1e1e1e" stroke-width="1.0"/>
<text x="31.6" y="580.65" font-size="6.3" fill="#1c1c1c" text-anchor="end">0</text>
<line x1="34.5" y1="558.5" x2="37.5" y2="558.5" stroke="#1e1e1e" stroke-width="1.0"/>
<text x="31.6" y="560.49" font-size="6.3" fill="#1c1c1c" text-anchor="end">20</text>
<line x1="34.5" y1="538.5" x2="37.5" y2="538.5" stroke="#1e1e1e" stroke-width="1.0"/>
<text x="31.6" y="540.33" font-size="6.3" fill="#1c1c1c" text-anchor="end">40</text>
<line x1="34.5" y1="517.5" x2="37.5" y2="517.5" stroke="#1e1e1e" stroke-width="1.0"/>
<text x="31.6" y="520.17" font-size="6.3" fill="#1c1c1c" text-anchor="end">60</text>
<line x1="34.5" y1="497.5" x2="37.5" y2="497.5" stroke="#1e1e1e" stroke-width="1.0"/>
<text x="31.6" y="500.01" font-size="6.3" fill="#1c1c1c" text-anchor="end">80</text>
<line x1="34.5" y1="477.5" x2="37.5" y2="477.5" stroke="#1e1e1e" stroke-width="1.0"/>
<text x="31.6" y="479.85" font-size="6.3" fill="#1c1c1c" text-anchor="end">100</text>
<line x1="36.9" y1="578.5" x2="103.7" y2="578.5" stroke="#1e1e1e" stroke-width="1.3"/>
<line x1="50.5" y1="578.4" x2="50.5" y2="581.4" stroke="#1e1e1e" stroke-width="1.0"/>
<line x1="70.5" y1="578.4" x2="70.5" y2="581.4" stroke="#1e1e1e" stroke-width="1.0"/>
<line x1="90.5" y1="578.4" x2="90.5" y2="581.4" stroke="#1e1e1e" stroke-width="1.0"/>
<text x="54.2" y="588.6" font-size="6.4" fill="#1c1c1c" text-anchor="end" stroke="#1c1c1c" stroke-width="0.12" transform="rotate(-45 54.2 588.6)">440C/C</text>
<text x="74.6" y="588.6" font-size="6.4" fill="#1c1c1c" text-anchor="end" stroke="#1c1c1c" stroke-width="0.12" transform="rotate(-45 74.6 588.6)">440C/T</text>
<text x="94.2" y="588.6" font-size="6.4" fill="#1c1c1c" text-anchor="end" stroke="#1c1c1c" stroke-width="0.12" transform="rotate(-45 94.2 588.6)">440T/T</text>
<text x="10.6" y="598.2" font-size="6.6" fill="#1c1c1c" text-anchor="start" stroke="#1c1c1c" stroke-width="0.1">NKG2A</text>
<text x="15.82" y="527" font-size="8.1" fill="#1c1c1c" text-anchor="middle" stroke="#1c1c1c" stroke-width="0.38" textLength="75" lengthAdjust="spacingAndGlyphs" transform="rotate(-90 15.82 527)">% CD107a total CD56<tspan baseline-shift="super" font-size="4.6">bright</tspan> NK</text>
<line x1="42.7" y1="494.5" x2="57.7" y2="494.5" stroke="#1a080c" stroke-width="1.1"/>
<line x1="46.7" y1="484.5" x2="53.7" y2="484.5" stroke="#4a0814" stroke-width="0.9"/>
<line x1="46.7" y1="504.5" x2="53.7" y2="504.5" stroke="#4a0814" stroke-width="0.9"/>
<circle cx="45.66" cy="485.79" r="1.0" fill="#c40a2c"/>
<circle cx="47.83" cy="485.72" r="1.0" fill="#c40a2c"/>
<circle cx="48.64" cy="485.53" r="1.0" fill="#c40a2c"/>
<circle cx="49.68" cy="485.67" r="1.0" fill="#c40a2c"/>
<circle cx="52.22" cy="485.35" r="1.0" fill="#c40a2c"/>
<circle cx="53.08" cy="485.77" r="1.0" fill="#c40a2c"/>
<circle cx="54.58" cy="485.79" r="1.0" fill="#c40a2c"/>
<circle cx="45.46" cy="489.35" r="1.0" fill="#c40a2c"/>
<circle cx="46.65" cy="489.45" r="1.0" fill="#c40a2c"/>
<circle cx="48.87" cy="489.24" r="1.0" fill="#c40a2c"/>
<circle cx="49.67" cy="489.39" r="1.0" fill="#c40a2c"/>
<circle cx="51.86" cy="489.6" r="1.0" fill="#c40a2c"/>
<circle cx="52.96" cy="489.17" r="1.0" fill="#c40a2c"/>
<circle cx="54.44" cy="489.22" r="1.0" fill="#c40a2c"/>
<circle cx="47.72" cy="512.74" r="1.0" fill="#c40a2c"/>
<circle cx="49.98" cy="513.32" r="1.0" fill="#c40a2c"/>
<circle cx="52.27" cy="512.67" r="1.0" fill="#c40a2c"/>
<circle cx="44.5" cy="496.17" r="1.0" fill="#c40a2c"/>
<circle cx="45.63" cy="495.68" r="1.0" fill="#c40a2c"/>
<circle cx="46.91" cy="495.75" r="1.0" fill="#c40a2c"/>
<circle cx="47.46" cy="495.58" r="1.0" fill="#c40a2c"/>
<circle cx="49.17" cy="496.16" r="1.0" fill="#c40a2c"/>
<circle cx="50.12" cy="495.9" r="1.0" fill="#c40a2c"/>
<circle cx="51.18" cy="496.35" r="1.0" fill="#c40a2c"/>
<circle cx="52.7" cy="495.55" r="1.0" fill="#c40a2c"/>
<circle cx="53.52" cy="495.96" r="1.0" fill="#c40a2c"/>
<circle cx="55.15" cy="495.61" r="1.0" fill="#c40a2c"/>
<circle cx="50.58" cy="508.06" r="1.0" fill="#c40a2c"/>
<circle cx="48.36" cy="503.16" r="1.0" fill="#c40a2c"/>
<circle cx="50.42" cy="502.53" r="1.0" fill="#c40a2c"/>
<circle cx="47.2" cy="510.91" r="1.0" fill="#c40a2c"/>
<circle cx="49.4" cy="511.43" r="1.0" fill="#c40a2c"/>
<circle cx="51.78" cy="510.91" r="1.0" fill="#c40a2c"/>
<circle cx="53.45" cy="511.5" r="1.0" fill="#c40a2c"/>
<circle cx="48.55" cy="533.16" r="1.0" fill="#c40a2c"/>
<circle cx="51.05" cy="533.43" r="1.0" fill="#c40a2c"/>
<circle cx="44.19" cy="492.64" r="1.0" fill="#c40a2c"/>
<circle cx="45.34" cy="492.27" r="1.0" fill="#c40a2c"/>
<circle cx="46.59" cy="492.61" r="1.0" fill="#c40a2c"/>
<circle cx="47.54" cy="492.96" r="1.0" fill="#c40a2c"/>
<circle cx="48.87" cy="492.37" r="1.0" fill="#c40a2c"/>
<circle cx="50.79" cy="492.4" r="1.0" fill="#c40a2c"/>
<circle cx="51.74" cy="492.34" r="1.0" fill="#c40a2c"/>
<circle cx="52.63" cy="492.29" r="1.0" fill="#c40a2c"/>
<circle cx="54.1" cy="492.8" r="1.0" fill="#c40a2c"/>
<circle cx="55.26" cy="492.35" r="1.0" fill="#c40a2c"/>
<circle cx="43.28" cy="490.53" r="1.0" fill="#c40a2c"/>
<circle cx="44.84" cy="490.79" r="1.0" fill="#c40a2c"/>
<circle cx="46.2" cy="490.8" r="1.0" fill="#c40a2c"/>
<circle cx="46.69" cy="490.66" r="1.0" fill="#c40a2c"/>
<circle cx="48.04" cy="490.59" r="1.0" fill="#c40a2c"/>
<circle cx="48.41" cy="490.7" r="1.0" fill="#c40a2c"/>
<circle cx="49.84" cy="490.73" r="1.0" fill="#c40a2c"/>
<circle cx="50.32" cy="490.89" r="1.0" fill="#c40a2c"/>
<circle cx="51.5" cy="490.51" r="1.0" fill="#c40a2c"/>
<circle cx="52.21" cy="491.19" r="1.0" fill="#c40a2c"/>
<circle cx="54.18" cy="491.12" r="1.0" fill="#c40a2c"/>
<circle cx="54.61" cy="490.54" r="1.0" fill="#c40a2c"/>
<circle cx="55.25" cy="490.47" r="1.0" fill="#c40a2c"/>
<circle cx="56.82" cy="490.82" r="1.0" fill="#c40a2c"/>
<circle cx="50.62" cy="499.21" r="1.0" fill="#c40a2c"/>
<circle cx="50.41" cy="506.35" r="1.0" fill="#c40a2c"/>
<circle cx="49.04" cy="509.34" r="1.0" fill="#c40a2c"/>
<circle cx="51.5" cy="509.64" r="1.0" fill="#c40a2c"/>
<circle cx="45.61" cy="494.33" r="1.0" fill="#c40a2c"/>
<circle cx="46.5" cy="494.36" r="1.0" fill="#c40a2c"/>
<circle cx="48.38" cy="493.86" r="1.0" fill="#c40a2c"/>
<circle cx="48.95" cy="494.17" r="1.0" fill="#c40a2c"/>
<circle cx="50.6" cy="494.52" r="1.0" fill="#c40a2c"/>
<circle cx="51.81" cy="493.84" r="1.0" fill="#c40a2c"/>
<circle cx="53.78" cy="493.81" r="1.0" fill="#c40a2c"/>
<circle cx="54.38" cy="494.68" r="1.0" fill="#c40a2c"/>
<circle cx="48.31" cy="522.72" r="1.0" fill="#c40a2c"/>
<circle cx="49.67" cy="523.4" r="1.0" fill="#c40a2c"/>
<circle cx="52.33" cy="523.45" r="1.0" fill="#c40a2c"/>
<circle cx="50.01" cy="536.97" r="1.0" fill="#c40a2c"/>
<circle cx="49.6" cy="521.52" r="1.0" fill="#c40a2c"/>
<circle cx="46.55" cy="497.87" r="1.0" fill="#c40a2c"/>
<circle cx="48.37" cy="497.67" r="1.0" fill="#c40a2c"/>
<circle cx="50.76" cy="497.76" r="1.0" fill="#c40a2c"/>
<circle cx="52.42" cy="497.33" r="1.0" fill="#c40a2c"/>
<circle cx="53.32" cy="497.25" r="1.0" fill="#c40a2c"/>
<circle cx="46.55" cy="501.26" r="1.0" fill="#c40a2c"/>
<circle cx="48.35" cy="501.03" r="1.0" fill="#c40a2c"/>
<circle cx="50.01" cy="500.83" r="1.0" fill="#c40a2c"/>
<circle cx="51.55" cy="501.18" r="1.0" fill="#c40a2c"/>
<circle cx="54.09" cy="501.15" r="1.0" fill="#c40a2c"/>
<circle cx="47.45" cy="504.47" r="1.0" fill="#c40a2c"/>
<circle cx="49.19" cy="504.46" r="1.0" fill="#c40a2c"/>
<circle cx="50.49" cy="504.76" r="1.0" fill="#c40a2c"/>
<circle cx="52.75" cy="504.87" r="1.0" fill="#c40a2c"/>
<circle cx="49.95" cy="487.32" r="1.0" fill="#c40a2c"/>
<circle cx="49.15" cy="484.32" r="1.0" fill="#c40a2c"/>
<circle cx="50.62" cy="484.21" r="1.0" fill="#c40a2c"/>
<circle cx="49.62" cy="519.9" r="1.0" fill="#c40a2c"/>
<circle cx="50.35" cy="550.33" r="1.0" fill="#c40a2c"/>
<line x1="63.1" y1="500.5" x2="78.1" y2="500.5" stroke="#1a080c" stroke-width="1.1"/>
<line x1="67.1" y1="487.5" x2="74.1" y2="487.5" stroke="#4a0814" stroke-width="0.9"/>
<line x1="67.1" y1="513.5" x2="74.1" y2="513.5" stroke="#4a0814" stroke-width="0.9"/>
<circle cx="67.13" cy="508.24" r="1.0" fill="#c40a2c"/>
<circle cx="67.9" cy="507.83" r="1.0" fill="#c40a2c"/>
<circle cx="68.99" cy="508.28" r="1.0" fill="#c40a2c"/>
<circle cx="70.46" cy="507.83" r="1.0" fill="#c40a2c"/>
<circle cx="71.78" cy="507.75" r="1.0" fill="#c40a2c"/>
<circle cx="73.22" cy="507.46" r="1.0" fill="#c40a2c"/>
<circle cx="73.86" cy="508.25" r="1.0" fill="#c40a2c"/>
<circle cx="70.23" cy="526.64" r="1.0" fill="#c40a2c"/>
<circle cx="66.49" cy="492.44" r="1.0" fill="#c40a2c"/>
<circle cx="66.56" cy="492.61" r="1.0" fill="#c40a2c"/>
<circle cx="67.35" cy="492.95" r="1.0" fill="#c40a2c"/>
<circle cx="68.47" cy="492.75" r="1.0" fill="#c40a2c"/>
<circle cx="68.78" cy="492.84" r="1.0" fill="#c40a2c"/>
<circle cx="70.19" cy="492.57" r="1.0" fill="#c40a2c"/>
<circle cx="71.03" cy="492.97" r="1.0" fill="#c40a2c"/>
<circle cx="71.55" cy="492.63" r="1.0" fill="#c40a2c"/>
<circle cx="72.49" cy="492.63" r="1.0" fill="#c40a2c"/>
<circle cx="72.74" cy="492.13" r="1.0" fill="#c40a2c"/>
<circle cx="74.49" cy="492.69" r="1.0" fill="#c40a2c"/>
<circle cx="74.47" cy="492.63" r="1.0" fill="#c40a2c"/>
<circle cx="65.38" cy="497.71" r="1.0" fill="#c40a2c"/>
<circle cx="66.2" cy="497.76" r="1.0" fill="#c40a2c"/>
<circle cx="67.59" cy="498.08" r="1.0" fill="#c40a2c"/>
<circle cx="67.67" cy="498.07" r="1.0" fill="#c40a2c"/>
<circle cx="68.84" cy="497.42" r="1.0" fill="#c40a2c"/>
<circle cx="68.89" cy="497.37" r="1.0" fill="#c40a2c"/>
<circle cx="69.46" cy="497.46" r="1.0" fill="#c40a2c"/>
<circle cx="71.18" cy="497.96" r="1.0" fill="#c40a2c"/>
<circle cx="70.91" cy="497.35" r="1.0" fill="#c40a2c"/>
<circle cx="72.16" cy="497.43" r="1.0" fill="#c40a2c"/>
<circle cx="73.08" cy="497.28" r="1.0" fill="#c40a2c"/>
<circle cx="73.3" cy="497.54" r="1.0" fill="#c40a2c"/>
<circle cx="74.24" cy="497.75" r="1.0" fill="#c40a2c"/>
<circle cx="74.84" cy="497.52" r="1.0" fill="#c40a2c"/>
<circle cx="75.83" cy="497.34" r="1.0" fill="#c40a2c"/>
<circle cx="66.5" cy="501.45" r="1.0" fill="#c40a2c"/>
<circle cx="67.1" cy="501.21" r="1.0" fill="#c40a2c"/>
<circle cx="68.05" cy="501.39" r="1.0" fill="#c40a2c"/>
<circle cx="68.66" cy="500.81" r="1.0" fill="#c40a2c"/>
<circle cx="69.38" cy="500.95" r="1.0" fill="#c40a2c"/>
<circle cx="70.97" cy="501.18" r="1.0" fill="#c40a2c"/>
<circle cx="71.15" cy="501.46" r="1.0" fill="#c40a2c"/>
<circle cx="72.42" cy="500.83" r="1.0" fill="#c40a2c"/>
<circle cx="73.29" cy="501.4" r="1.0" fill="#c40a2c"/>
<circle cx="74.24" cy="501.4" r="1.0" fill="#c40a2c"/>
<circle cx="74.96" cy="501.07" r="1.0" fill="#c40a2c"/>
<circle cx="75.42" cy="501.08" r="1.0" fill="#c40a2c"/>
<circle cx="68.37" cy="504.31" r="1.0" fill="#c40a2c"/>
<circle cx="70.18" cy="504.49" r="1.0" fill="#c40a2c"/>
<circle cx="72.34" cy="504.27" r="1.0" fill="#c40a2c"/>
<circle cx="73.74" cy="504.85" r="1.0" fill="#c40a2c"/>
<circle cx="63.15" cy="498.99" r="1.0" fill="#c40a2c"/>
<circle cx="63.73" cy="499.41" r="1.0" fill="#c40a2c"/>
<circle cx="64.25" cy="499.07" r="1.0" fill="#c40a2c"/>
<circle cx="64.85" cy="499.56" r="1.0" fill="#c40a2c"/>
<circle cx="66.17" cy="499.18" r="1.0" fill="#c40a2c"/>
<circle cx="66.01" cy="499.24" r="1.0" fill="#c40a2c"/>
<circle cx="67.59" cy="499.05" r="1.0" fill="#c40a2c"/>
<circle cx="67.59" cy="498.93" r="1.0" fill="#c40a2c"/>
<circle cx="68.24" cy="498.95" r="1.0" fill="#c40a2c"/>
<circle cx="68.9" cy="499.27" r="1.0" fill="#c40a2c"/>
<circle cx="69.42" cy="498.99" r="1.0" fill="#c40a2c"/>
<circle cx="69.91" cy="499.18" r="1.0" fill="#c40a2c"/>
<circle cx="70.43" cy="499.53" r="1.0" fill="#c40a2c"/>
<circle cx="70.86" cy="498.91" r="1.0" fill="#c40a2c"/>
<circle cx="71.05" cy="499.14" r="1.0" fill="#c40a2c"/>
<circle cx="71.79" cy="499.17" r="1.0" fill="#c40a2c"/>
<circle cx="72.73" cy="499.43" r="1.0" fill="#c40a2c"/>
<circle cx="73.72" cy="498.91" r="1.0" fill="#c40a2c"/>
<circle cx="73.38" cy="499.59" r="1.0" fill="#c40a2c"/>
<circle cx="74.22" cy="499.59" r="1.0" fill="#c40a2c"/>
<circle cx="75.42" cy="499.64" r="1.0" fill="#c40a2c"/>
<circle cx="76.08" cy="499.67" r="1.0" fill="#c40a2c"/>
<circle cx="75.61" cy="499.39" r="1.0" fill="#c40a2c"/>
<circle cx="76.45" cy="499" r="1.0" fill="#c40a2c"/>
<circle cx="66.99" cy="509.74" r="1.0" fill="#c40a2c"/>
<circle cx="68.67" cy="509.44" r="1.0" fill="#c40a2c"/>
<circle cx="69.78" cy="509.28" r="1.0" fill="#c40a2c"/>
<circle cx="71.36" cy="509.75" r="1.0" fill="#c40a2c"/>
<circle cx="71.96" cy="509.2" r="1.0" fill="#c40a2c"/>
<circle cx="74.01" cy="509.49" r="1.0" fill="#c40a2c"/>
<circle cx="64.55" cy="496.25" r="1.0" fill="#c40a2c"/>
<circle cx="64.7" cy="496.12" r="1.0" fill="#c40a2c"/>
<circle cx="65.53" cy="496.04" r="1.0" fill="#c40a2c"/>
<circle cx="65.72" cy="496.15" r="1.0" fill="#c40a2c"/>
<circle cx="66.92" cy="496.3" r="1.0" fill="#c40a2c"/>
<circle cx="67.51" cy="495.77" r="1.0" fill="#c40a2c"/>
<circle cx="68.02" cy="495.83" r="1.0" fill="#c40a2c"/>
<circle cx="67.93" cy="495.84" r="1.0" fill="#c40a2c"/>
<circle cx="68.75" cy="496.08" r="1.0" fill="#c40a2c"/>
<circle cx="69.08" cy="496.3" r="1.0" fill="#c40a2c"/>
<circle cx="70.31" cy="495.63" r="1.0" fill="#c40a2c"/>
<circle cx="71.16" cy="496.21" r="1.0" fill="#c40a2c"/>
<circle cx="71.73" cy="496.3" r="1.0" fill="#c40a2c"/>
<circle cx="71.9" cy="495.51" r="1.0" fill="#c40a2c"/>
<circle cx="72.17" cy="495.8" r="1.0" fill="#c40a2c"/>
<circle cx="72.48" cy="495.89" r="1.0" fill="#c40a2c"/>
<circle cx="73.05" cy="496.12" r="1.0" fill="#c40a2c"/>
<circle cx="74.39" cy="496.26" r="1.0" fill="#c40a2c"/>
<circle cx="74.66" cy="496.37" r="1.0" fill="#c40a2c"/>
<circle cx="75.57" cy="495.58" r="1.0" fill="#c40a2c"/>
<circle cx="75.83" cy="496.25" r="1.0" fill="#c40a2c"/>
<circle cx="76.14" cy="496.03" r="1.0" fill="#c40a2c"/>
<circle cx="77.11" cy="495.7" r="1.0" fill="#c40a2c"/>
<circle cx="67.2" cy="483.92" r="1.0" fill="#c40a2c"/>
<circle cx="69.1" cy="484.19" r="1.0" fill="#c40a2c"/>
<circle cx="71.24" cy="483.89" r="1.0" fill="#c40a2c"/>
<circle cx="72.2" cy="483.91" r="1.0" fill="#c40a2c"/>
<circle cx="66.71" cy="506.44" r="1.0" fill="#c40a2c"/>
<circle cx="67.42" cy="506.55" r="1.0" fill="#c40a2c"/>
<circle cx="68.14" cy="506.18" r="1.0" fill="#c40a2c"/>
<circle cx="69.22" cy="506.14" r="1.0" fill="#c40a2c"/>
<circle cx="70.41" cy="506.49" r="1.0" fill="#c40a2c"/>
<circle cx="71.59" cy="506.55" r="1.0" fill="#c40a2c"/>
<circle cx="73" cy="505.97" r="1.0" fill="#c40a2c"/>
<circle cx="74.02" cy="506.34" r="1.0" fill="#c40a2c"/>
<circle cx="74.3" cy="506.5" r="1.0" fill="#c40a2c"/>
<circle cx="70.14" cy="518.41" r="1.0" fill="#c40a2c"/>
<circle cx="71.9" cy="517.87" r="1.0" fill="#c40a2c"/>
<circle cx="68.77" cy="487.61" r="1.0" fill="#c40a2c"/>
<circle cx="71.05" cy="487.36" r="1.0" fill="#c40a2c"/>
<circle cx="72.45" cy="487.11" r="1.0" fill="#c40a2c"/>
<circle cx="68.79" cy="489.02" r="1.0" fill="#c40a2c"/>
<circle cx="70.52" cy="488.79" r="1.0" fill="#c40a2c"/>
<circle cx="72.22" cy="489.09" r="1.0" fill="#c40a2c"/>
<circle cx="73.46" cy="489.04" r="1.0" fill="#c40a2c"/>
<circle cx="68" cy="485.91" r="1.0" fill="#c40a2c"/>
<circle cx="70.11" cy="485.79" r="1.0" fill="#c40a2c"/>
<circle cx="71.36" cy="485.88" r="1.0" fill="#c40a2c"/>
<circle cx="73.33" cy="485.73" r="1.0" fill="#c40a2c"/>
<circle cx="68.28" cy="494.63" r="1.0" fill="#c40a2c"/>
<circle cx="69.35" cy="494.6" r="1.0" fill="#c40a2c"/>
<circle cx="70.21" cy="494.55" r="1.0" fill="#c40a2c"/>
<circle cx="70.98" cy="493.91" r="1.0" fill="#c40a2c"/>
<circle cx="73.18" cy="494.47" r="1.0" fill="#c40a2c"/>
<circle cx="73.93" cy="494.42" r="1.0" fill="#c40a2c"/>
<circle cx="67.76" cy="491.08" r="1.0" fill="#c40a2c"/>
<circle cx="68.89" cy="491.05" r="1.0" fill="#c40a2c"/>
<circle cx="69.86" cy="490.98" r="1.0" fill="#c40a2c"/>
<circle cx="71.54" cy="490.88" r="1.0" fill="#c40a2c"/>
<circle cx="72.28" cy="490.78" r="1.0" fill="#c40a2c"/>
<circle cx="72.85" cy="490.51" r="1.0" fill="#c40a2c"/>
<circle cx="66.39" cy="502.48" r="1.0" fill="#c40a2c"/>
<circle cx="67.49" cy="502.83" r="1.0" fill="#c40a2c"/>
<circle cx="68.37" cy="502.39" r="1.0" fill="#c40a2c"/>
<circle cx="69.23" cy="502.36" r="1.0" fill="#c40a2c"/>
<circle cx="69.4" cy="503.16" r="1.0" fill="#c40a2c"/>
<circle cx="70.94" cy="502.32" r="1.0" fill="#c40a2c"/>
<circle cx="71.86" cy="502.34" r="1.0" fill="#c40a2c"/>
<circle cx="72.75" cy="503.14" r="1.0" fill="#c40a2c"/>
<circle cx="73.57" cy="502.85" r="1.0" fill="#c40a2c"/>
<circle cx="74.37" cy="503.01" r="1.0" fill="#c40a2c"/>
<circle cx="74.71" cy="502.7" r="1.0" fill="#c40a2c"/>
<circle cx="67.83" cy="514.3" r="1.0" fill="#c40a2c"/>
<circle cx="69.93" cy="514.26" r="1.0" fill="#c40a2c"/>
<circle cx="70.7" cy="514.8" r="1.0" fill="#c40a2c"/>
<circle cx="73.45" cy="514.22" r="1.0" fill="#c40a2c"/>
<circle cx="68.22" cy="511.3" r="1.0" fill="#c40a2c"/>
<circle cx="70.8" cy="511.4" r="1.0" fill="#c40a2c"/>
<circle cx="71.67" cy="511.02" r="1.0" fill="#c40a2c"/>
<circle cx="73.95" cy="511.46" r="1.0" fill="#c40a2c"/>
<circle cx="67.61" cy="512.79" r="1.0" fill="#c40a2c"/>
<circle cx="69.91" cy="512.89" r="1.0" fill="#c40a2c"/>
<circle cx="71.68" cy="512.98" r="1.0" fill="#c40a2c"/>
<circle cx="73.5" cy="512.82" r="1.0" fill="#c40a2c"/>
<circle cx="69.06" cy="521.83" r="1.0" fill="#c40a2c"/>
<circle cx="71.05" cy="521.83" r="1.0" fill="#c40a2c"/>
<circle cx="70.18" cy="524.69" r="1.0" fill="#c40a2c"/>
<circle cx="70.95" cy="528.34" r="1.0" fill="#c40a2c"/>
<circle cx="71.07" cy="519.84" r="1.0" fill="#c40a2c"/>
<circle cx="70.35" cy="538.43" r="1.0" fill="#c40a2c"/>
<circle cx="69.54" cy="515.91" r="1.0" fill="#c40a2c"/>
<circle cx="71.37" cy="516.54" r="1.0" fill="#c40a2c"/>
<circle cx="70.24" cy="532.95" r="1.0" fill="#c40a2c"/>
<circle cx="70.58" cy="523.15" r="1.0" fill="#c40a2c"/>
<circle cx="70.87" cy="555.01" r="1.0" fill="#c40a2c"/>
<circle cx="70.27" cy="553.76" r="1.0" fill="#c40a2c"/>
<circle cx="70.81" cy="550.35" r="1.0" fill="#c40a2c"/>
<line x1="82.7" y1="502.5" x2="97.7" y2="502.5" stroke="#1a080c" stroke-width="1.1"/>
<line x1="86.7" y1="489.5" x2="93.7" y2="489.5" stroke="#4a0814" stroke-width="0.9"/>
<line x1="86.7" y1="515.5" x2="93.7" y2="515.5" stroke="#4a0814" stroke-width="0.9"/>
<circle cx="87.92" cy="516.31" r="1.0" fill="#c40a2c"/>
<circle cx="89.8" cy="516.37" r="1.0" fill="#c40a2c"/>
<circle cx="92.21" cy="516.58" r="1.0" fill="#c40a2c"/>
<circle cx="84.1" cy="498.07" r="1.0" fill="#c40a2c"/>
<circle cx="84.66" cy="497.94" r="1.0" fill="#c40a2c"/>
<circle cx="86.23" cy="497.39" r="1.0" fill="#c40a2c"/>
<circle cx="86.7" cy="497.82" r="1.0" fill="#c40a2c"/>
<circle cx="88.56" cy="497.34" r="1.0" fill="#c40a2c"/>
<circle cx="89.39" cy="497.5" r="1.0" fill="#c40a2c"/>
<circle cx="90.7" cy="497.42" r="1.0" fill="#c40a2c"/>
<circle cx="90.76" cy="497.66" r="1.0" fill="#c40a2c"/>
<circle cx="92.67" cy="497.88" r="1.0" fill="#c40a2c"/>
<circle cx="93.54" cy="497.42" r="1.0" fill="#c40a2c"/>
<circle cx="94.31" cy="498" r="1.0" fill="#c40a2c"/>
<circle cx="94.52" cy="497.53" r="1.0" fill="#c40a2c"/>
<circle cx="96.48" cy="497.64" r="1.0" fill="#c40a2c"/>
<circle cx="96.76" cy="497.29" r="1.0" fill="#c40a2c"/>
<circle cx="86.61" cy="486" r="1.0" fill="#c40a2c"/>
<circle cx="88.69" cy="485.63" r="1.0" fill="#c40a2c"/>
<circle cx="90.42" cy="485.85" r="1.0" fill="#c40a2c"/>
<circle cx="91.8" cy="485.86" r="1.0" fill="#c40a2c"/>
<circle cx="94.09" cy="485.64" r="1.0" fill="#c40a2c"/>
<circle cx="86.36" cy="489.44" r="1.0" fill="#c40a2c"/>
<circle cx="88.18" cy="489.1" r="1.0" fill="#c40a2c"/>
<circle cx="89.73" cy="489.44" r="1.0" fill="#c40a2c"/>
<circle cx="92.49" cy="489.29" r="1.0" fill="#c40a2c"/>
<circle cx="93.78" cy="489.52" r="1.0" fill="#c40a2c"/>
<circle cx="90.23" cy="547.26" r="1.0" fill="#c40a2c"/>
<circle cx="85.7" cy="492.57" r="1.0" fill="#c40a2c"/>
<circle cx="87.41" cy="492.64" r="1.0" fill="#c40a2c"/>
<circle cx="88.61" cy="492.21" r="1.0" fill="#c40a2c"/>
<circle cx="90.98" cy="492.89" r="1.0" fill="#c40a2c"/>
<circle cx="92.66" cy="492.36" r="1.0" fill="#c40a2c"/>
<circle cx="94.28" cy="492.53" r="1.0" fill="#c40a2c"/>
<circle cx="86.18" cy="500.71" r="1.0" fill="#c40a2c"/>
<circle cx="88.62" cy="501.29" r="1.0" fill="#c40a2c"/>
<circle cx="89.95" cy="501.34" r="1.0" fill="#c40a2c"/>
<circle cx="91.9" cy="500.61" r="1.0" fill="#c40a2c"/>
<circle cx="93.82" cy="501.04" r="1.0" fill="#c40a2c"/>
<circle cx="85.52" cy="494.32" r="1.0" fill="#c40a2c"/>
<circle cx="86.13" cy="494.27" r="1.0" fill="#c40a2c"/>
<circle cx="87.46" cy="494.45" r="1.0" fill="#c40a2c"/>
<circle cx="89.07" cy="494.7" r="1.0" fill="#c40a2c"/>
<circle cx="89.82" cy="494.64" r="1.0" fill="#c40a2c"/>
<circle cx="91.22" cy="494.27" r="1.0" fill="#c40a2c"/>
<circle cx="92.38" cy="494.69" r="1.0" fill="#c40a2c"/>
<circle cx="94.14" cy="493.81" r="1.0" fill="#c40a2c"/>
<circle cx="94.84" cy="494.32" r="1.0" fill="#c40a2c"/>
<circle cx="87.12" cy="507.84" r="1.0" fill="#c40a2c"/>
<circle cx="89.36" cy="508.18" r="1.0" fill="#c40a2c"/>
<circle cx="90.81" cy="508.21" r="1.0" fill="#c40a2c"/>
<circle cx="92.87" cy="508.06" r="1.0" fill="#c40a2c"/>
<circle cx="85.92" cy="502.68" r="1.0" fill="#c40a2c"/>
<circle cx="86.97" cy="502.33" r="1.0" fill="#c40a2c"/>
<circle cx="89.06" cy="502.37" r="1.0" fill="#c40a2c"/>
<circle cx="90.48" cy="502.97" r="1.0" fill="#c40a2c"/>
<circle cx="91.55" cy="502.74" r="1.0" fill="#c40a2c"/>
<circle cx="93.47" cy="502.7" r="1.0" fill="#c40a2c"/>
<circle cx="95.17" cy="502.72" r="1.0" fill="#c40a2c"/>
<circle cx="87.31" cy="526.42" r="1.0" fill="#c40a2c"/>
<circle cx="89.32" cy="526.3" r="1.0" fill="#c40a2c"/>
<circle cx="90.6" cy="526.57" r="1.0" fill="#c40a2c"/>
<circle cx="92.13" cy="526.59" r="1.0" fill="#c40a2c"/>
<circle cx="90.61" cy="535.13" r="1.0" fill="#c40a2c"/>
<circle cx="88.16" cy="490.44" r="1.0" fill="#c40a2c"/>
<circle cx="89.82" cy="491.22" r="1.0" fill="#c40a2c"/>
<circle cx="91.63" cy="490.7" r="1.0" fill="#c40a2c"/>
<circle cx="85.29" cy="504.11" r="1.0" fill="#c40a2c"/>
<circle cx="86.51" cy="504.05" r="1.0" fill="#c40a2c"/>
<circle cx="87.07" cy="504.75" r="1.0" fill="#c40a2c"/>
<circle cx="89.22" cy="504.58" r="1.0" fill="#c40a2c"/>
<circle cx="90.53" cy="504.82" r="1.0" fill="#c40a2c"/>
<circle cx="91.2" cy="504.75" r="1.0" fill="#c40a2c"/>
<circle cx="92.44" cy="504.73" r="1.0" fill="#c40a2c"/>
<circle cx="93.75" cy="504.35" r="1.0" fill="#c40a2c"/>
<circle cx="95.87" cy="504.17" r="1.0" fill="#c40a2c"/>
<circle cx="86.19" cy="511.68" r="1.0" fill="#c40a2c"/>
<circle cx="87.01" cy="511.22" r="1.0" fill="#c40a2c"/>
<circle cx="89.04" cy="510.84" r="1.0" fill="#c40a2c"/>
<circle cx="89.7" cy="511.13" r="1.0" fill="#c40a2c"/>
<circle cx="91.66" cy="511.09" r="1.0" fill="#c40a2c"/>
<circle cx="93.04" cy="511.63" r="1.0" fill="#c40a2c"/>
<circle cx="94.34" cy="510.83" r="1.0" fill="#c40a2c"/>
<circle cx="85.02" cy="495.53" r="1.0" fill="#c40a2c"/>
<circle cx="85.66" cy="496.27" r="1.0" fill="#c40a2c"/>
<circle cx="87.37" cy="496.08" r="1.0" fill="#c40a2c"/>
<circle cx="87.74" cy="496.29" r="1.0" fill="#c40a2c"/>
<circle cx="89.13" cy="495.66" r="1.0" fill="#c40a2c"/>
<circle cx="90.93" cy="496.29" r="1.0" fill="#c40a2c"/>
<circle cx="91.92" cy="496.15" r="1.0" fill="#c40a2c"/>
<circle cx="93.22" cy="496.19" r="1.0" fill="#c40a2c"/>
<circle cx="94.56" cy="496.25" r="1.0" fill="#c40a2c"/>
<circle cx="94.93" cy="496.31" r="1.0" fill="#c40a2c"/>
<circle cx="85.78" cy="512.78" r="1.0" fill="#c40a2c"/>
<circle cx="86.77" cy="513.03" r="1.0" fill="#c40a2c"/>
<circle cx="88.52" cy="513.02" r="1.0" fill="#c40a2c"/>
<circle cx="89.8" cy="513.26" r="1.0" fill="#c40a2c"/>
<circle cx="90.81" cy="513.06" r="1.0" fill="#c40a2c"/>
<circle cx="92.36" cy="513.27" r="1.0" fill="#c40a2c"/>
<circle cx="92.93" cy="512.77" r="1.0" fill="#c40a2c"/>
<circle cx="94.27" cy="513.16" r="1.0" fill="#c40a2c"/>
<circle cx="90.5" cy="487.18" r="1.0" fill="#c40a2c"/>
<circle cx="84.26" cy="499.58" r="1.0" fill="#c40a2c"/>
<circle cx="85.58" cy="499.55" r="1.0" fill="#c40a2c"/>
<circle cx="86.36" cy="499.13" r="1.0" fill="#c40a2c"/>
<circle cx="86.56" cy="499.54" r="1.0" fill="#c40a2c"/>
<circle cx="88.16" cy="498.95" r="1.0" fill="#c40a2c"/>
<circle cx="89.07" cy="499.53" r="1.0" fill="#c40a2c"/>
<circle cx="90.76" cy="498.92" r="1.0" fill="#c40a2c"/>
<circle cx="90.74" cy="499.03" r="1.0" fill="#c40a2c"/>
<circle cx="92.52" cy="499.33" r="1.0" fill="#c40a2c"/>
<circle cx="93.24" cy="499.52" r="1.0" fill="#c40a2c"/>
<circle cx="94.09" cy="499.59" r="1.0" fill="#c40a2c"/>
<circle cx="94.81" cy="499.75" r="1.0" fill="#c40a2c"/>
<circle cx="96.15" cy="499.68" r="1.0" fill="#c40a2c"/>
<circle cx="86.94" cy="506.22" r="1.0" fill="#c40a2c"/>
<circle cx="89.01" cy="506.46" r="1.0" fill="#c40a2c"/>
<circle cx="91.11" cy="505.94" r="1.0" fill="#c40a2c"/>
<circle cx="92.77" cy="506.28" r="1.0" fill="#c40a2c"/>
<circle cx="88.96" cy="523.43" r="1.0" fill="#c40a2c"/>
<circle cx="90.58" cy="523.27" r="1.0" fill="#c40a2c"/>
<circle cx="89.4" cy="514.75" r="1.0" fill="#c40a2c"/>
<circle cx="91.37" cy="514.92" r="1.0" fill="#c40a2c"/>
<circle cx="86.65" cy="509.68" r="1.0" fill="#c40a2c"/>
<circle cx="87.92" cy="509.48" r="1.0" fill="#c40a2c"/>
<circle cx="89.98" cy="509.58" r="1.0" fill="#c40a2c"/>
<circle cx="92.32" cy="509.73" r="1.0" fill="#c40a2c"/>
<circle cx="94" cy="509.17" r="1.0" fill="#c40a2c"/>
<circle cx="89.11" cy="517.89" r="1.0" fill="#c40a2c"/>
<circle cx="91.74" cy="517.74" r="1.0" fill="#c40a2c"/>
<circle cx="88.64" cy="484.44" r="1.0" fill="#c40a2c"/>
<circle cx="90.72" cy="484.01" r="1.0" fill="#c40a2c"/>
<circle cx="92.56" cy="483.68" r="1.0" fill="#c40a2c"/>
<circle cx="89.85" cy="520.13" r="1.0" fill="#c40a2c"/>
<circle cx="89.25" cy="524.99" r="1.0" fill="#c40a2c"/>
<circle cx="90.43" cy="525.18" r="1.0" fill="#c40a2c"/>
<circle cx="89.84" cy="529.83" r="1.0" fill="#c40a2c"/>
<circle cx="89.86" cy="536.64" r="1.0" fill="#c40a2c"/>
<circle cx="90.47" cy="521.74" r="1.0" fill="#c40a2c"/>
<circle cx="89.92" cy="541.99" r="1.0" fill="#c40a2c"/>
<line x1="50.2" y1="471.5" x2="93.1" y2="471.5" stroke="#333" stroke-width="0.9"/>
<text x="71.65" y="471.1" font-size="5.5" fill="#1c1c1c" text-anchor="middle">***</text>
<line x1="50.2" y1="479.5" x2="70.6" y2="479.5" stroke="#333" stroke-width="0.9"/>
<text x="60.4" y="478.7" font-size="5.5" fill="#1c1c1c" text-anchor="middle">**</text>
<line x1="147.5" y1="476.4" x2="147.5" y2="579" stroke="#1e1e1e" stroke-width="1.3"/>
<line x1="144" y1="578.5" x2="147" y2="578.5" stroke="#1e1e1e" stroke-width="1.0"/>
<text x="141.1" y="580.65" font-size="6.3" fill="#1c1c1c" text-anchor="end">0</text>
<line x1="144" y1="558.5" x2="147" y2="558.5" stroke="#1e1e1e" stroke-width="1.0"/>
<text x="141.1" y="560.49" font-size="6.3" fill="#1c1c1c" text-anchor="end">20</text>
<line x1="144" y1="538.5" x2="147" y2="538.5" stroke="#1e1e1e" stroke-width="1.0"/>
<text x="141.1" y="540.33" font-size="6.3" fill="#1c1c1c" text-anchor="end">40</text>
<line x1="144" y1="517.5" x2="147" y2="517.5" stroke="#1e1e1e" stroke-width="1.0"/>
<text x="141.1" y="520.17" font-size="6.3" fill="#1c1c1c" text-anchor="end">60</text>
<line x1="144" y1="497.5" x2="147" y2="497.5" stroke="#1e1e1e" stroke-width="1.0"/>
<text x="141.1" y="500.01" font-size="6.3" fill="#1c1c1c" text-anchor="end">80</text>
<line x1="144" y1="477.5" x2="147" y2="477.5" stroke="#1e1e1e" stroke-width="1.0"/>
<text x="141.1" y="479.85" font-size="6.3" fill="#1c1c1c" text-anchor="end">100</text>
<line x1="146.4" y1="578.5" x2="214" y2="578.5" stroke="#1e1e1e" stroke-width="1.3"/>
<line x1="160.5" y1="578.4" x2="160.5" y2="581.4" stroke="#1e1e1e" stroke-width="1.0"/>
<line x1="180.5" y1="578.4" x2="180.5" y2="581.4" stroke="#1e1e1e" stroke-width="1.0"/>
<line x1="200.5" y1="578.4" x2="200.5" y2="581.4" stroke="#1e1e1e" stroke-width="1.0"/>
<text x="164.4" y="588.6" font-size="6.4" fill="#1c1c1c" text-anchor="end" stroke="#1c1c1c" stroke-width="0.12" transform="rotate(-45 164.4 588.6)">440C/C</text>
<text x="184.8" y="588.6" font-size="6.4" fill="#1c1c1c" text-anchor="end" stroke="#1c1c1c" stroke-width="0.12" transform="rotate(-45 184.8 588.6)">440C/T</text>
<text x="204.4" y="588.6" font-size="6.4" fill="#1c1c1c" text-anchor="end" stroke="#1c1c1c" stroke-width="0.12" transform="rotate(-45 204.4 588.6)">440T/T</text>
<text x="120.8" y="598.2" font-size="6.6" fill="#1c1c1c" text-anchor="start" stroke="#1c1c1c" stroke-width="0.1">NKG2A</text>
<text x="125.92" y="527" font-size="8.1" fill="#1c1c1c" text-anchor="middle" stroke="#1c1c1c" stroke-width="0.38" textLength="68" lengthAdjust="spacingAndGlyphs" transform="rotate(-90 125.92 527)">% IFNg total CD56<tspan baseline-shift="super" font-size="4.6">bright</tspan> NK</text>
<line x1="152.9" y1="535.5" x2="167.9" y2="535.5" stroke="#1a080c" stroke-width="1.1"/>
<line x1="156.9" y1="516.5" x2="163.9" y2="516.5" stroke="#4a0814" stroke-width="0.9"/>
<line x1="156.9" y1="553.5" x2="163.9" y2="553.5" stroke="#4a0814" stroke-width="0.9"/>
<circle cx="159.31" cy="524.73" r="1.0" fill="#c40a2c"/>
<circle cx="161.31" cy="525.15" r="1.0" fill="#c40a2c"/>
<circle cx="158.08" cy="519.8" r="1.0" fill="#c40a2c"/>
<circle cx="160.51" cy="519.85" r="1.0" fill="#c40a2c"/>
<circle cx="162.83" cy="519.82" r="1.0" fill="#c40a2c"/>
<circle cx="155.32" cy="530.1" r="1.0" fill="#c40a2c"/>
<circle cx="157.82" cy="529.69" r="1.0" fill="#c40a2c"/>
<circle cx="158.79" cy="530.27" r="1.0" fill="#c40a2c"/>
<circle cx="161.06" cy="530.02" r="1.0" fill="#c40a2c"/>
<circle cx="162.73" cy="529.95" r="1.0" fill="#c40a2c"/>
<circle cx="164.98" cy="529.64" r="1.0" fill="#c40a2c"/>
<circle cx="158.48" cy="528.66" r="1.0" fill="#c40a2c"/>
<circle cx="159.86" cy="527.93" r="1.0" fill="#c40a2c"/>
<circle cx="162.82" cy="528.11" r="1.0" fill="#c40a2c"/>
<circle cx="158.73" cy="518.25" r="1.0" fill="#c40a2c"/>
<circle cx="160.51" cy="518.47" r="1.0" fill="#c40a2c"/>
<circle cx="162.81" cy="517.95" r="1.0" fill="#c40a2c"/>
<circle cx="158.19" cy="507.43" r="1.0" fill="#c40a2c"/>
<circle cx="160.35" cy="507.93" r="1.0" fill="#c40a2c"/>
<circle cx="161.41" cy="507.63" r="1.0" fill="#c40a2c"/>
<circle cx="163.27" cy="508.21" r="1.0" fill="#c40a2c"/>
<circle cx="156.12" cy="543.3" r="1.0" fill="#c40a2c"/>
<circle cx="157.98" cy="543.18" r="1.0" fill="#c40a2c"/>
<circle cx="159.94" cy="543.88" r="1.0" fill="#c40a2c"/>
<circle cx="161.24" cy="543.73" r="1.0" fill="#c40a2c"/>
<circle cx="163.37" cy="543.62" r="1.0" fill="#c40a2c"/>
<circle cx="164.99" cy="543.44" r="1.0" fill="#c40a2c"/>
<circle cx="159.82" cy="552.03" r="1.0" fill="#c40a2c"/>
<circle cx="159.32" cy="564.31" r="1.0" fill="#c40a2c"/>
<circle cx="161.9" cy="563.8" r="1.0" fill="#c40a2c"/>
<circle cx="158.41" cy="572.09" r="1.0" fill="#c40a2c"/>
<circle cx="160.75" cy="572.75" r="1.0" fill="#c40a2c"/>
<circle cx="162.48" cy="572.49" r="1.0" fill="#c40a2c"/>
<circle cx="158.72" cy="560.86" r="1.0" fill="#c40a2c"/>
<circle cx="160.53" cy="560.15" r="1.0" fill="#c40a2c"/>
<circle cx="162.65" cy="560.9" r="1.0" fill="#c40a2c"/>
<circle cx="156.81" cy="545.07" r="1.0" fill="#c40a2c"/>
<circle cx="159.66" cy="545.19" r="1.0" fill="#c40a2c"/>
<circle cx="160.6" cy="545.57" r="1.0" fill="#c40a2c"/>
<circle cx="163.44" cy="545.19" r="1.0" fill="#c40a2c"/>
<circle cx="159" cy="516.51" r="1.0" fill="#c40a2c"/>
<circle cx="161.4" cy="515.92" r="1.0" fill="#c40a2c"/>
<circle cx="158.34" cy="538.85" r="1.0" fill="#c40a2c"/>
<circle cx="160.69" cy="538.81" r="1.0" fill="#c40a2c"/>
<circle cx="162.05" cy="538.05" r="1.0" fill="#c40a2c"/>
<circle cx="158.98" cy="569.42" r="1.0" fill="#c40a2c"/>
<circle cx="160.56" cy="569.18" r="1.0" fill="#c40a2c"/>
<circle cx="162.23" cy="568.83" r="1.0" fill="#c40a2c"/>
<circle cx="157.01" cy="542.25" r="1.0" fill="#c40a2c"/>
<circle cx="159.31" cy="542.04" r="1.0" fill="#c40a2c"/>
<circle cx="160.49" cy="542.28" r="1.0" fill="#c40a2c"/>
<circle cx="163.07" cy="541.94" r="1.0" fill="#c40a2c"/>
<circle cx="160.49" cy="562.31" r="1.0" fill="#c40a2c"/>
<circle cx="157.18" cy="546.97" r="1.0" fill="#c40a2c"/>
<circle cx="158.75" cy="547.14" r="1.0" fill="#c40a2c"/>
<circle cx="160.44" cy="546.68" r="1.0" fill="#c40a2c"/>
<circle cx="163.18" cy="546.99" r="1.0" fill="#c40a2c"/>
<circle cx="155.4" cy="533.48" r="1.0" fill="#c40a2c"/>
<circle cx="157.79" cy="533.02" r="1.0" fill="#c40a2c"/>
<circle cx="158.98" cy="532.9" r="1.0" fill="#c40a2c"/>
<circle cx="161.1" cy="533.15" r="1.0" fill="#c40a2c"/>
<circle cx="163.46" cy="533.52" r="1.0" fill="#c40a2c"/>
<circle cx="165.54" cy="532.97" r="1.0" fill="#c40a2c"/>
<circle cx="156.11" cy="526.19" r="1.0" fill="#c40a2c"/>
<circle cx="158.13" cy="526.9" r="1.0" fill="#c40a2c"/>
<circle cx="159.03" cy="526.88" r="1.0" fill="#c40a2c"/>
<circle cx="161.07" cy="526.95" r="1.0" fill="#c40a2c"/>
<circle cx="163.44" cy="526.62" r="1.0" fill="#c40a2c"/>
<circle cx="164.81" cy="526.86" r="1.0" fill="#c40a2c"/>
<circle cx="157.89" cy="548.54" r="1.0" fill="#c40a2c"/>
<circle cx="159.47" cy="548.28" r="1.0" fill="#c40a2c"/>
<circle cx="161.67" cy="548.9" r="1.0" fill="#c40a2c"/>
<circle cx="163.46" cy="548.55" r="1.0" fill="#c40a2c"/>
<circle cx="160.68" cy="535.34" r="1.0" fill="#c40a2c"/>
<circle cx="158.68" cy="558.74" r="1.0" fill="#c40a2c"/>
<circle cx="160.67" cy="559.16" r="1.0" fill="#c40a2c"/>
<circle cx="161.8" cy="558.89" r="1.0" fill="#c40a2c"/>
<circle cx="159.03" cy="565.82" r="1.0" fill="#c40a2c"/>
<circle cx="160.98" cy="565.9" r="1.0" fill="#c40a2c"/>
<circle cx="162.41" cy="565.48" r="1.0" fill="#c40a2c"/>
<circle cx="160.1" cy="514.89" r="1.0" fill="#c40a2c"/>
<circle cx="159.81" cy="505.91" r="1.0" fill="#c40a2c"/>
<circle cx="160.82" cy="505.83" r="1.0" fill="#c40a2c"/>
<circle cx="158.02" cy="570.5" r="1.0" fill="#c40a2c"/>
<circle cx="160.64" cy="571.11" r="1.0" fill="#c40a2c"/>
<circle cx="162.04" cy="570.3" r="1.0" fill="#c40a2c"/>
<circle cx="160.95" cy="550.62" r="1.0" fill="#c40a2c"/>
<circle cx="160.71" cy="540.29" r="1.0" fill="#c40a2c"/>
<circle cx="157.98" cy="523.43" r="1.0" fill="#c40a2c"/>
<circle cx="159.2" cy="522.73" r="1.0" fill="#c40a2c"/>
<circle cx="161" cy="523.32" r="1.0" fill="#c40a2c"/>
<circle cx="163.6" cy="522.82" r="1.0" fill="#c40a2c"/>
<circle cx="159.17" cy="576.22" r="1.0" fill="#c40a2c"/>
<circle cx="162.04" cy="575.86" r="1.0" fill="#c40a2c"/>
<circle cx="160.35" cy="557.17" r="1.0" fill="#c40a2c"/>
<circle cx="160.92" cy="536.96" r="1.0" fill="#c40a2c"/>
<circle cx="160.45" cy="512.6" r="1.0" fill="#c40a2c"/>
<circle cx="160.62" cy="510.82" r="1.0" fill="#c40a2c"/>
<circle cx="159.96" cy="555.72" r="1.0" fill="#c40a2c"/>
<circle cx="159.8" cy="509.77" r="1.0" fill="#c40a2c"/>
<line x1="173.3" y1="542.5" x2="188.3" y2="542.5" stroke="#1a080c" stroke-width="1.1"/>
<line x1="177.3" y1="522.5" x2="184.3" y2="522.5" stroke="#4a0814" stroke-width="0.9"/>
<line x1="177.3" y1="561.5" x2="184.3" y2="561.5" stroke="#4a0814" stroke-width="0.9"/>
<circle cx="180.41" cy="557.15" r="1.0" fill="#c40a2c"/>
<circle cx="178.32" cy="564.28" r="1.0" fill="#c40a2c"/>
<circle cx="179.59" cy="564.38" r="1.0" fill="#c40a2c"/>
<circle cx="182.52" cy="563.89" r="1.0" fill="#c40a2c"/>
<circle cx="184.02" cy="564.17" r="1.0" fill="#c40a2c"/>
<circle cx="176.54" cy="545.4" r="1.0" fill="#c40a2c"/>
<circle cx="177.3" cy="545.19" r="1.0" fill="#c40a2c"/>
<circle cx="178.61" cy="545.61" r="1.0" fill="#c40a2c"/>
<circle cx="180.43" cy="545.58" r="1.0" fill="#c40a2c"/>
<circle cx="181.48" cy="544.87" r="1.0" fill="#c40a2c"/>
<circle cx="183.83" cy="545.54" r="1.0" fill="#c40a2c"/>
<circle cx="185.18" cy="545.11" r="1.0" fill="#c40a2c"/>
<circle cx="186.79" cy="545.21" r="1.0" fill="#c40a2c"/>
<circle cx="174.81" cy="537.05" r="1.0" fill="#c40a2c"/>
<circle cx="176.69" cy="537.07" r="1.0" fill="#c40a2c"/>
<circle cx="177.59" cy="536.52" r="1.0" fill="#c40a2c"/>
<circle cx="179.5" cy="537" r="1.0" fill="#c40a2c"/>
<circle cx="180.55" cy="537.19" r="1.0" fill="#c40a2c"/>
<circle cx="181.75" cy="536.39" r="1.0" fill="#c40a2c"/>
<circle cx="183.58" cy="537.16" r="1.0" fill="#c40a2c"/>
<circle cx="184.52" cy="537.05" r="1.0" fill="#c40a2c"/>
<circle cx="185.32" cy="536.36" r="1.0" fill="#c40a2c"/>
<circle cx="187.51" cy="537.15" r="1.0" fill="#c40a2c"/>
<circle cx="178.19" cy="538.9" r="1.0" fill="#c40a2c"/>
<circle cx="179.96" cy="538.58" r="1.0" fill="#c40a2c"/>
<circle cx="181.37" cy="538.5" r="1.0" fill="#c40a2c"/>
<circle cx="183.47" cy="538.38" r="1.0" fill="#c40a2c"/>
<circle cx="175.05" cy="549.97" r="1.0" fill="#c40a2c"/>
<circle cx="177.26" cy="550.61" r="1.0" fill="#c40a2c"/>
<circle cx="178.33" cy="550.72" r="1.0" fill="#c40a2c"/>
<circle cx="180.3" cy="550.46" r="1.0" fill="#c40a2c"/>
<circle cx="181.97" cy="550.5" r="1.0" fill="#c40a2c"/>
<circle cx="182.98" cy="550.49" r="1.0" fill="#c40a2c"/>
<circle cx="184.01" cy="550.49" r="1.0" fill="#c40a2c"/>
<circle cx="186.49" cy="550.56" r="1.0" fill="#c40a2c"/>
<circle cx="175.46" cy="535.12" r="1.0" fill="#c40a2c"/>
<circle cx="177.47" cy="534.81" r="1.0" fill="#c40a2c"/>
<circle cx="178.33" cy="535.15" r="1.0" fill="#c40a2c"/>
<circle cx="180.05" cy="534.79" r="1.0" fill="#c40a2c"/>
<circle cx="182.28" cy="535.4" r="1.0" fill="#c40a2c"/>
<circle cx="183.6" cy="535.22" r="1.0" fill="#c40a2c"/>
<circle cx="184.41" cy="535.37" r="1.0" fill="#c40a2c"/>
<circle cx="186.42" cy="535.47" r="1.0" fill="#c40a2c"/>
<circle cx="176.73" cy="521.87" r="1.0" fill="#c40a2c"/>
<circle cx="179.49" cy="521.62" r="1.0" fill="#c40a2c"/>
<circle cx="180.98" cy="521.6" r="1.0" fill="#c40a2c"/>
<circle cx="182.9" cy="521.79" r="1.0" fill="#c40a2c"/>
<circle cx="185" cy="521.69" r="1.0" fill="#c40a2c"/>
<circle cx="178.64" cy="546.75" r="1.0" fill="#c40a2c"/>
<circle cx="181.03" cy="546.81" r="1.0" fill="#c40a2c"/>
<circle cx="182.75" cy="547.24" r="1.0" fill="#c40a2c"/>
<circle cx="174.97" cy="530.3" r="1.0" fill="#c40a2c"/>
<circle cx="176.52" cy="530.08" r="1.0" fill="#c40a2c"/>
<circle cx="178.71" cy="529.88" r="1.0" fill="#c40a2c"/>
<circle cx="179.45" cy="530.17" r="1.0" fill="#c40a2c"/>
<circle cx="180.84" cy="529.72" r="1.0" fill="#c40a2c"/>
<circle cx="182.87" cy="529.61" r="1.0" fill="#c40a2c"/>
<circle cx="184.49" cy="529.94" r="1.0" fill="#c40a2c"/>
<circle cx="185.65" cy="530.26" r="1.0" fill="#c40a2c"/>
<circle cx="176.4" cy="551.95" r="1.0" fill="#c40a2c"/>
<circle cx="178.73" cy="551.98" r="1.0" fill="#c40a2c"/>
<circle cx="180.54" cy="552.35" r="1.0" fill="#c40a2c"/>
<circle cx="182.48" cy="552.4" r="1.0" fill="#c40a2c"/>
<circle cx="184.73" cy="552.01" r="1.0" fill="#c40a2c"/>
<circle cx="175.12" cy="533.4" r="1.0" fill="#c40a2c"/>
<circle cx="175.77" cy="533.39" r="1.0" fill="#c40a2c"/>
<circle cx="177.08" cy="532.96" r="1.0" fill="#c40a2c"/>
<circle cx="178.53" cy="533.57" r="1.0" fill="#c40a2c"/>
<circle cx="179.44" cy="533.28" r="1.0" fill="#c40a2c"/>
<circle cx="180.62" cy="532.95" r="1.0" fill="#c40a2c"/>
<circle cx="181.9" cy="533.03" r="1.0" fill="#c40a2c"/>
<circle cx="183.49" cy="533.7" r="1.0" fill="#c40a2c"/>
<circle cx="184.15" cy="533.3" r="1.0" fill="#c40a2c"/>
<circle cx="185.97" cy="533.46" r="1.0" fill="#c40a2c"/>
<circle cx="186.71" cy="533.37" r="1.0" fill="#c40a2c"/>
<circle cx="177.41" cy="519.39" r="1.0" fill="#c40a2c"/>
<circle cx="178.97" cy="519.82" r="1.0" fill="#c40a2c"/>
<circle cx="181.3" cy="520.13" r="1.0" fill="#c40a2c"/>
<circle cx="183.29" cy="519.58" r="1.0" fill="#c40a2c"/>
<circle cx="176.18" cy="555.68" r="1.0" fill="#c40a2c"/>
<circle cx="177.49" cy="555.79" r="1.0" fill="#c40a2c"/>
<circle cx="178.77" cy="555.89" r="1.0" fill="#c40a2c"/>
<circle cx="180.52" cy="555.05" r="1.0" fill="#c40a2c"/>
<circle cx="181.37" cy="555.87" r="1.0" fill="#c40a2c"/>
<circle cx="182.69" cy="555.44" r="1.0" fill="#c40a2c"/>
<circle cx="185.09" cy="555.08" r="1.0" fill="#c40a2c"/>
<circle cx="186.48" cy="555.73" r="1.0" fill="#c40a2c"/>
<circle cx="179.88" cy="511.64" r="1.0" fill="#c40a2c"/>
<circle cx="182.18" cy="511.34" r="1.0" fill="#c40a2c"/>
<circle cx="178.32" cy="523.31" r="1.0" fill="#c40a2c"/>
<circle cx="180.22" cy="523.48" r="1.0" fill="#c40a2c"/>
<circle cx="182.18" cy="522.72" r="1.0" fill="#c40a2c"/>
<circle cx="184.65" cy="522.88" r="1.0" fill="#c40a2c"/>
<circle cx="175.8" cy="548.79" r="1.0" fill="#c40a2c"/>
<circle cx="177.26" cy="548.91" r="1.0" fill="#c40a2c"/>
<circle cx="180.07" cy="548.67" r="1.0" fill="#c40a2c"/>
<circle cx="181.24" cy="548.96" r="1.0" fill="#c40a2c"/>
<circle cx="183.41" cy="548.22" r="1.0" fill="#c40a2c"/>
<circle cx="184.53" cy="548.75" r="1.0" fill="#c40a2c"/>
<circle cx="176.21" cy="526.28" r="1.0" fill="#c40a2c"/>
<circle cx="177.02" cy="526.44" r="1.0" fill="#c40a2c"/>
<circle cx="178.75" cy="526.94" r="1.0" fill="#c40a2c"/>
<circle cx="181.15" cy="526.79" r="1.0" fill="#c40a2c"/>
<circle cx="182.22" cy="526.85" r="1.0" fill="#c40a2c"/>
<circle cx="184.12" cy="526.8" r="1.0" fill="#c40a2c"/>
<circle cx="186.2" cy="526.84" r="1.0" fill="#c40a2c"/>
<circle cx="174.14" cy="541.47" r="1.0" fill="#c40a2c"/>
<circle cx="175.83" cy="541.74" r="1.0" fill="#c40a2c"/>
<circle cx="177.37" cy="541.54" r="1.0" fill="#c40a2c"/>
<circle cx="177.52" cy="542.15" r="1.0" fill="#c40a2c"/>
<circle cx="178.75" cy="542.14" r="1.0" fill="#c40a2c"/>
<circle cx="180.8" cy="541.68" r="1.0" fill="#c40a2c"/>
<circle cx="181.19" cy="541.98" r="1.0" fill="#c40a2c"/>
<circle cx="183.06" cy="541.84" r="1.0" fill="#c40a2c"/>
<circle cx="184.57" cy="541.5" r="1.0" fill="#c40a2c"/>
<circle cx="185.7" cy="541.88" r="1.0" fill="#c40a2c"/>
<circle cx="186.06" cy="542.17" r="1.0" fill="#c40a2c"/>
<circle cx="187.59" cy="541.95" r="1.0" fill="#c40a2c"/>
<circle cx="178.13" cy="554.11" r="1.0" fill="#c40a2c"/>
<circle cx="179.92" cy="554.08" r="1.0" fill="#c40a2c"/>
<circle cx="181.14" cy="554.18" r="1.0" fill="#c40a2c"/>
<circle cx="183.8" cy="553.86" r="1.0" fill="#c40a2c"/>
<circle cx="178.58" cy="513.38" r="1.0" fill="#c40a2c"/>
<circle cx="180.7" cy="513.28" r="1.0" fill="#c40a2c"/>
<circle cx="182.5" cy="513.24" r="1.0" fill="#c40a2c"/>
<circle cx="178.64" cy="569.42" r="1.0" fill="#c40a2c"/>
<circle cx="180.89" cy="569.4" r="1.0" fill="#c40a2c"/>
<circle cx="182.87" cy="568.69" r="1.0" fill="#c40a2c"/>
<circle cx="178.45" cy="517.67" r="1.0" fill="#c40a2c"/>
<circle cx="180.58" cy="518.24" r="1.0" fill="#c40a2c"/>
<circle cx="182.66" cy="517.66" r="1.0" fill="#c40a2c"/>
<circle cx="174.86" cy="540.18" r="1.0" fill="#c40a2c"/>
<circle cx="175.42" cy="540.08" r="1.0" fill="#c40a2c"/>
<circle cx="176.96" cy="540.53" r="1.0" fill="#c40a2c"/>
<circle cx="178.63" cy="540.1" r="1.0" fill="#c40a2c"/>
<circle cx="179.77" cy="539.79" r="1.0" fill="#c40a2c"/>
<circle cx="180.9" cy="540.27" r="1.0" fill="#c40a2c"/>
<circle cx="182.21" cy="540.15" r="1.0" fill="#c40a2c"/>
<circle cx="182.85" cy="540.59" r="1.0" fill="#c40a2c"/>
<circle cx="184.77" cy="540.58" r="1.0" fill="#c40a2c"/>
<circle cx="185.98" cy="540.33" r="1.0" fill="#c40a2c"/>
<circle cx="187.58" cy="539.91" r="1.0" fill="#c40a2c"/>
<circle cx="178.53" cy="516.44" r="1.0" fill="#c40a2c"/>
<circle cx="180.84" cy="516.26" r="1.0" fill="#c40a2c"/>
<circle cx="183.23" cy="516.53" r="1.0" fill="#c40a2c"/>
<circle cx="174.49" cy="543.78" r="1.0" fill="#c40a2c"/>
<circle cx="175.91" cy="543.11" r="1.0" fill="#c40a2c"/>
<circle cx="177.21" cy="543.89" r="1.0" fill="#c40a2c"/>
<circle cx="178.71" cy="543.34" r="1.0" fill="#c40a2c"/>
<circle cx="179.82" cy="543.83" r="1.0" fill="#c40a2c"/>
<circle cx="180.81" cy="543.43" r="1.0" fill="#c40a2c"/>
<circle cx="182.69" cy="543.85" r="1.0" fill="#c40a2c"/>
<circle cx="183.5" cy="543.93" r="1.0" fill="#c40a2c"/>
<circle cx="184.42" cy="543.46" r="1.0" fill="#c40a2c"/>
<circle cx="185.93" cy="543.22" r="1.0" fill="#c40a2c"/>
<circle cx="178.25" cy="562.21" r="1.0" fill="#c40a2c"/>
<circle cx="179.69" cy="562.51" r="1.0" fill="#c40a2c"/>
<circle cx="182.04" cy="562.61" r="1.0" fill="#c40a2c"/>
<circle cx="184.63" cy="562.66" r="1.0" fill="#c40a2c"/>
<circle cx="179.74" cy="565.22" r="1.0" fill="#c40a2c"/>
<circle cx="182.41" cy="565.21" r="1.0" fill="#c40a2c"/>
<circle cx="179.94" cy="559.14" r="1.0" fill="#c40a2c"/>
<circle cx="182.16" cy="559.05" r="1.0" fill="#c40a2c"/>
<circle cx="178.36" cy="514.5" r="1.0" fill="#c40a2c"/>
<circle cx="180.12" cy="514.26" r="1.0" fill="#c40a2c"/>
<circle cx="181.93" cy="515.01" r="1.0" fill="#c40a2c"/>
<circle cx="183.99" cy="514.58" r="1.0" fill="#c40a2c"/>
<circle cx="177.58" cy="531.29" r="1.0" fill="#c40a2c"/>
<circle cx="179.96" cy="531.88" r="1.0" fill="#c40a2c"/>
<circle cx="181.07" cy="531.94" r="1.0" fill="#c40a2c"/>
<circle cx="183.79" cy="531.63" r="1.0" fill="#c40a2c"/>
<circle cx="179.08" cy="567.75" r="1.0" fill="#c40a2c"/>
<circle cx="181.41" cy="567.32" r="1.0" fill="#c40a2c"/>
<circle cx="177.31" cy="528.28" r="1.0" fill="#c40a2c"/>
<circle cx="179.05" cy="528.41" r="1.0" fill="#c40a2c"/>
<circle cx="180.29" cy="527.91" r="1.0" fill="#c40a2c"/>
<circle cx="183.2" cy="528.53" r="1.0" fill="#c40a2c"/>
<circle cx="184.8" cy="528.04" r="1.0" fill="#c40a2c"/>
<circle cx="179.74" cy="560.63" r="1.0" fill="#c40a2c"/>
<circle cx="180.9" cy="560.49" r="1.0" fill="#c40a2c"/>
<circle cx="180.18" cy="570.35" r="1.0" fill="#c40a2c"/>
<circle cx="181.74" cy="570.49" r="1.0" fill="#c40a2c"/>
<circle cx="180.03" cy="524.48" r="1.0" fill="#c40a2c"/>
<circle cx="181.13" cy="524.64" r="1.0" fill="#c40a2c"/>
<circle cx="180.45" cy="572.86" r="1.0" fill="#c40a2c"/>
<line x1="192.9" y1="542.5" x2="207.9" y2="542.5" stroke="#1a080c" stroke-width="1.1"/>
<line x1="196.9" y1="522.5" x2="203.9" y2="522.5" stroke="#4a0814" stroke-width="0.9"/>
<line x1="196.9" y1="561.5" x2="203.9" y2="561.5" stroke="#4a0814" stroke-width="0.9"/>
<circle cx="198.98" cy="521.63" r="1.0" fill="#c40a2c"/>
<circle cx="200.2" cy="521.32" r="1.0" fill="#c40a2c"/>
<circle cx="201.98" cy="521.87" r="1.0" fill="#c40a2c"/>
<circle cx="197.02" cy="534.76" r="1.0" fill="#c40a2c"/>
<circle cx="199.46" cy="535.16" r="1.0" fill="#c40a2c"/>
<circle cx="200.49" cy="534.8" r="1.0" fill="#c40a2c"/>
<circle cx="202.35" cy="534.6" r="1.0" fill="#c40a2c"/>
<circle cx="195.39" cy="533.58" r="1.0" fill="#c40a2c"/>
<circle cx="196.42" cy="533.67" r="1.0" fill="#c40a2c"/>
<circle cx="199.06" cy="533.55" r="1.0" fill="#c40a2c"/>
<circle cx="200.53" cy="533.1" r="1.0" fill="#c40a2c"/>
<circle cx="201.82" cy="533.51" r="1.0" fill="#c40a2c"/>
<circle cx="203.69" cy="533.41" r="1.0" fill="#c40a2c"/>
<circle cx="206.16" cy="533.65" r="1.0" fill="#c40a2c"/>
<circle cx="199.37" cy="509.5" r="1.0" fill="#c40a2c"/>
<circle cx="201.48" cy="509.78" r="1.0" fill="#c40a2c"/>
<circle cx="194.61" cy="536.34" r="1.0" fill="#c40a2c"/>
<circle cx="195.58" cy="537.01" r="1.0" fill="#c40a2c"/>
<circle cx="197.66" cy="537.12" r="1.0" fill="#c40a2c"/>
<circle cx="199.43" cy="536.46" r="1.0" fill="#c40a2c"/>
<circle cx="200.36" cy="536.85" r="1.0" fill="#c40a2c"/>
<circle cx="203.03" cy="536.94" r="1.0" fill="#c40a2c"/>
<circle cx="203.63" cy="536.84" r="1.0" fill="#c40a2c"/>
<circle cx="205.89" cy="536.55" r="1.0" fill="#c40a2c"/>
<circle cx="194.22" cy="569.45" r="1.0" fill="#c40a2c"/>
<circle cx="195.96" cy="568.95" r="1.0" fill="#c40a2c"/>
<circle cx="197.34" cy="569.11" r="1.0" fill="#c40a2c"/>
<circle cx="198.41" cy="569.13" r="1.0" fill="#c40a2c"/>
<circle cx="199.95" cy="568.72" r="1.0" fill="#c40a2c"/>
<circle cx="202.24" cy="569.26" r="1.0" fill="#c40a2c"/>
<circle cx="203.69" cy="569.22" r="1.0" fill="#c40a2c"/>
<circle cx="205.17" cy="569.18" r="1.0" fill="#c40a2c"/>
<circle cx="206.82" cy="568.93" r="1.0" fill="#c40a2c"/>
<circle cx="196.36" cy="543.18" r="1.0" fill="#c40a2c"/>
<circle cx="198.39" cy="543.1" r="1.0" fill="#c40a2c"/>
<circle cx="200.35" cy="543.95" r="1.0" fill="#c40a2c"/>
<circle cx="202.44" cy="543.9" r="1.0" fill="#c40a2c"/>
<circle cx="204.69" cy="543.75" r="1.0" fill="#c40a2c"/>
<circle cx="199.11" cy="502.73" r="1.0" fill="#c40a2c"/>
<circle cx="200.93" cy="503.11" r="1.0" fill="#c40a2c"/>
<circle cx="193.9" cy="572.21" r="1.0" fill="#c40a2c"/>
<circle cx="196.04" cy="572.73" r="1.0" fill="#c40a2c"/>
<circle cx="197.4" cy="572.55" r="1.0" fill="#c40a2c"/>
<circle cx="198.52" cy="572.76" r="1.0" fill="#c40a2c"/>
<circle cx="200.47" cy="572.85" r="1.0" fill="#c40a2c"/>
<circle cx="201.67" cy="572.12" r="1.0" fill="#c40a2c"/>
<circle cx="203.49" cy="572.06" r="1.0" fill="#c40a2c"/>
<circle cx="204.74" cy="572.3" r="1.0" fill="#c40a2c"/>
<circle cx="206.9" cy="572.47" r="1.0" fill="#c40a2c"/>
<circle cx="195.68" cy="544.96" r="1.0" fill="#c40a2c"/>
<circle cx="197.55" cy="545.5" r="1.0" fill="#c40a2c"/>
<circle cx="199.41" cy="545.23" r="1.0" fill="#c40a2c"/>
<circle cx="201.3" cy="545.4" r="1.0" fill="#c40a2c"/>
<circle cx="203.65" cy="545.17" r="1.0" fill="#c40a2c"/>
<circle cx="204.6" cy="545.62" r="1.0" fill="#c40a2c"/>
<circle cx="200.77" cy="577.11" r="1.0" fill="#c40a2c"/>
<circle cx="197.75" cy="541.41" r="1.0" fill="#c40a2c"/>
<circle cx="199.49" cy="541.55" r="1.0" fill="#c40a2c"/>
<circle cx="201.24" cy="542.1" r="1.0" fill="#c40a2c"/>
<circle cx="204.13" cy="541.88" r="1.0" fill="#c40a2c"/>
<circle cx="195.02" cy="567.08" r="1.0" fill="#c40a2c"/>
<circle cx="197.03" cy="567.63" r="1.0" fill="#c40a2c"/>
<circle cx="199.06" cy="567.25" r="1.0" fill="#c40a2c"/>
<circle cx="201.31" cy="567.15" r="1.0" fill="#c40a2c"/>
<circle cx="202.71" cy="567.68" r="1.0" fill="#c40a2c"/>
<circle cx="204.98" cy="567.4" r="1.0" fill="#c40a2c"/>
<circle cx="197.37" cy="575.56" r="1.0" fill="#c40a2c"/>
<circle cx="199.54" cy="575.51" r="1.0" fill="#c40a2c"/>
<circle cx="201.33" cy="575.47" r="1.0" fill="#c40a2c"/>
<circle cx="203.97" cy="575.5" r="1.0" fill="#c40a2c"/>
<circle cx="199.87" cy="525.25" r="1.0" fill="#c40a2c"/>
<circle cx="201.62" cy="524.93" r="1.0" fill="#c40a2c"/>
<circle cx="193.5" cy="570.62" r="1.0" fill="#c40a2c"/>
<circle cx="195.42" cy="570.38" r="1.0" fill="#c40a2c"/>
<circle cx="196.91" cy="570.79" r="1.0" fill="#c40a2c"/>
<circle cx="197.85" cy="570.99" r="1.0" fill="#c40a2c"/>
<circle cx="199.62" cy="570.98" r="1.0" fill="#c40a2c"/>
<circle cx="201.05" cy="571.14" r="1.0" fill="#c40a2c"/>
<circle cx="201.83" cy="570.81" r="1.0" fill="#c40a2c"/>
<circle cx="203.89" cy="570.81" r="1.0" fill="#c40a2c"/>
<circle cx="205.61" cy="571.16" r="1.0" fill="#c40a2c"/>
<circle cx="207.03" cy="571.16" r="1.0" fill="#c40a2c"/>
<circle cx="194.52" cy="538.55" r="1.0" fill="#c40a2c"/>
<circle cx="196.11" cy="538.18" r="1.0" fill="#c40a2c"/>
<circle cx="197.91" cy="538.61" r="1.0" fill="#c40a2c"/>
<circle cx="199.29" cy="538.12" r="1.0" fill="#c40a2c"/>
<circle cx="200.84" cy="538.78" r="1.0" fill="#c40a2c"/>
<circle cx="202.71" cy="538.84" r="1.0" fill="#c40a2c"/>
<circle cx="204.6" cy="538.51" r="1.0" fill="#c40a2c"/>
<circle cx="205.84" cy="538.34" r="1.0" fill="#c40a2c"/>
<circle cx="200.39" cy="499.71" r="1.0" fill="#c40a2c"/>
<circle cx="195.62" cy="546.52" r="1.0" fill="#c40a2c"/>
<circle cx="196.93" cy="547.25" r="1.0" fill="#c40a2c"/>
<circle cx="198.97" cy="547.14" r="1.0" fill="#c40a2c"/>
<circle cx="200.92" cy="546.65" r="1.0" fill="#c40a2c"/>
<circle cx="203.33" cy="547.34" r="1.0" fill="#c40a2c"/>
<circle cx="205.19" cy="547.26" r="1.0" fill="#c40a2c"/>
<circle cx="199.06" cy="552.46" r="1.0" fill="#c40a2c"/>
<circle cx="200.24" cy="551.68" r="1.0" fill="#c40a2c"/>
<circle cx="202.45" cy="552.03" r="1.0" fill="#c40a2c"/>
<circle cx="200.11" cy="511.38" r="1.0" fill="#c40a2c"/>
<circle cx="202.01" cy="511.04" r="1.0" fill="#c40a2c"/>
<circle cx="199.66" cy="560.72" r="1.0" fill="#c40a2c"/>
<circle cx="201.01" cy="560.5" r="1.0" fill="#c40a2c"/>
<circle cx="198.6" cy="539.83" r="1.0" fill="#c40a2c"/>
<circle cx="200.87" cy="539.96" r="1.0" fill="#c40a2c"/>
<circle cx="202.5" cy="539.92" r="1.0" fill="#c40a2c"/>
<circle cx="198.71" cy="526.45" r="1.0" fill="#c40a2c"/>
<circle cx="200.12" cy="526.57" r="1.0" fill="#c40a2c"/>
<circle cx="202.26" cy="526.12" r="1.0" fill="#c40a2c"/>
<circle cx="197.16" cy="548.34" r="1.0" fill="#c40a2c"/>
<circle cx="199.83" cy="548.54" r="1.0" fill="#c40a2c"/>
<circle cx="201.51" cy="548.99" r="1.0" fill="#c40a2c"/>
<circle cx="203.21" cy="549.04" r="1.0" fill="#c40a2c"/>
<circle cx="200.69" cy="558.57" r="1.0" fill="#c40a2c"/>
<circle cx="198.48" cy="550.17" r="1.0" fill="#c40a2c"/>
<circle cx="200.3" cy="550.58" r="1.0" fill="#c40a2c"/>
<circle cx="202.17" cy="550.1" r="1.0" fill="#c40a2c"/>
<circle cx="200.76" cy="557.39" r="1.0" fill="#c40a2c"/>
<circle cx="197" cy="531.68" r="1.0" fill="#c40a2c"/>
<circle cx="198.76" cy="532.09" r="1.0" fill="#c40a2c"/>
<circle cx="201.02" cy="531.34" r="1.0" fill="#c40a2c"/>
<circle cx="202.96" cy="531.2" r="1.0" fill="#c40a2c"/>
<circle cx="198.7" cy="565.22" r="1.0" fill="#c40a2c"/>
<circle cx="201.45" cy="566.02" r="1.0" fill="#c40a2c"/>
<circle cx="199.41" cy="512.9" r="1.0" fill="#c40a2c"/>
<circle cx="201.29" cy="512.63" r="1.0" fill="#c40a2c"/>
<circle cx="200.73" cy="519.71" r="1.0" fill="#c40a2c"/>
<circle cx="200.3" cy="504.78" r="1.0" fill="#c40a2c"/>
<circle cx="199.96" cy="518.27" r="1.0" fill="#c40a2c"/>
<circle cx="200.97" cy="517.84" r="1.0" fill="#c40a2c"/>
<circle cx="199.88" cy="527.95" r="1.0" fill="#c40a2c"/>
<circle cx="195.22" cy="530.11" r="1.0" fill="#c40a2c"/>
<circle cx="197.91" cy="529.74" r="1.0" fill="#c40a2c"/>
<circle cx="199.71" cy="530.04" r="1.0" fill="#c40a2c"/>
<circle cx="201" cy="530.16" r="1.0" fill="#c40a2c"/>
<circle cx="202.87" cy="529.88" r="1.0" fill="#c40a2c"/>
<circle cx="204.69" cy="529.57" r="1.0" fill="#c40a2c"/>
<circle cx="200.04" cy="563.69" r="1.0" fill="#c40a2c"/>
<circle cx="198.98" cy="574.05" r="1.0" fill="#c40a2c"/>
<circle cx="200.9" cy="573.74" r="1.0" fill="#c40a2c"/>
<circle cx="200.56" cy="505.89" r="1.0" fill="#c40a2c"/>
<circle cx="200.71" cy="516.11" r="1.0" fill="#c40a2c"/>
<circle cx="199.04" cy="562.23" r="1.0" fill="#c40a2c"/>
<circle cx="201.12" cy="562.33" r="1.0" fill="#c40a2c"/>
<line x1="159" y1="482.5" x2="201.9" y2="482.5" stroke="#333" stroke-width="0.9"/>
<text x="180.45" y="481.6" font-size="5.5" fill="#1c1c1c" text-anchor="middle">*</text>
<line x1="159" y1="491.5" x2="179.9" y2="491.5" stroke="#333" stroke-width="0.9"/>
<text x="169.45" y="490.7" font-size="5.5" fill="#1c1c1c" text-anchor="middle">*</text>
<line x1="256.5" y1="333.8" x2="256.5" y2="436.6" stroke="#1e1e1e" stroke-width="1.3"/>
<line x1="253.2" y1="436.5" x2="256.2" y2="436.5" stroke="#1e1e1e" stroke-width="1.0"/>
<text x="250.3" y="438.25" font-size="6.3" fill="#1c1c1c" text-anchor="end">0</text>
<line x1="253.2" y1="415.5" x2="256.2" y2="415.5" stroke="#1e1e1e" stroke-width="1.0"/>
<text x="250.3" y="418.05" font-size="6.3" fill="#1c1c1c" text-anchor="end">20</text>
<line x1="253.2" y1="395.5" x2="256.2" y2="395.5" stroke="#1e1e1e" stroke-width="1.0"/>
<text x="250.3" y="397.85" font-size="6.3" fill="#1c1c1c" text-anchor="end">40</text>
<line x1="253.2" y1="375.5" x2="256.2" y2="375.5" stroke="#1e1e1e" stroke-width="1.0"/>
<text x="250.3" y="377.65" font-size="6.3" fill="#1c1c1c" text-anchor="end">60</text>
<line x1="253.2" y1="355.5" x2="256.2" y2="355.5" stroke="#1e1e1e" stroke-width="1.0"/>
<text x="250.3" y="357.45" font-size="6.3" fill="#1c1c1c" text-anchor="end">80</text>
<line x1="253.2" y1="335.5" x2="256.2" y2="335.5" stroke="#1e1e1e" stroke-width="1.0"/>
<text x="250.3" y="337.25" font-size="6.3" fill="#1c1c1c" text-anchor="end">100</text>
<line x1="255.6" y1="436.5" x2="337" y2="436.5" stroke="#1e1e1e" stroke-width="1.3"/>
<line x1="280.5" y1="436" x2="280.5" y2="439" stroke="#1e1e1e" stroke-width="1.0"/>
<line x1="316.5" y1="436" x2="316.5" y2="439" stroke="#1e1e1e" stroke-width="1.0"/>
<text x="298.45" y="447.7" font-size="6.25" fill="#1c1c1c" text-anchor="middle" textLength="71.3" lengthAdjust="spacingAndGlyphs">Low NKG2A High NKG2A</text>
<text x="280.3" y="455.5" font-size="6.25" fill="#1c1c1c" text-anchor="middle">440T/T</text>
<text x="316.6" y="455.5" font-size="6.25" fill="#1c1c1c" text-anchor="middle">440C/C</text>
<text x="234.52" y="384.3" font-size="8.1" fill="#1c1c1c" text-anchor="middle" stroke="#1c1c1c" stroke-width="0.38" textLength="81.5" lengthAdjust="spacingAndGlyphs" transform="rotate(-90 234.52 384.3)">Percentage of NKG2A<tspan baseline-shift="super" font-size="4.6">+</tspan> NK cells</text>
<circle cx="278.8" cy="397.62" r="0.85" fill="#222"/>
<circle cx="282.3" cy="396.61" r="0.85" fill="#222"/>
<circle cx="280.3" cy="411.76" r="0.85" fill="#222"/>
<circle cx="277.3" cy="405.7" r="0.85" fill="#222"/>
<circle cx="283.3" cy="405.7" r="0.85" fill="#222"/>
<circle cx="279.3" cy="406.71" r="0.85" fill="#222"/>
<line x1="267.8" y1="404.5" x2="292.8" y2="404.5" stroke="#9584a8" stroke-width="1.4"/>
<line x1="274.1" y1="403.5" x2="286.5" y2="403.5" stroke="#1a1a1a" stroke-width="1.25"/>
<line x1="274.1" y1="406.5" x2="286.5" y2="406.5" stroke="#1a1a1a" stroke-width="1.25"/>
<line x1="280.5" y1="403.18" x2="280.5" y2="406.2" stroke="#1a1a1a" stroke-width="0.9"/>
<circle cx="314.6" cy="351.16" r="0.8" fill="#666"/>
<circle cx="318.6" cy="351.16" r="0.8" fill="#666"/>
<circle cx="318.1" cy="363.28" r="0.8" fill="#666"/>
<circle cx="316.6" cy="367.32" r="0.8" fill="#666"/>
<circle cx="315.6" cy="358.23" r="0.8" fill="#666"/>
<line x1="304.6" y1="359.5" x2="328.6" y2="359.5" stroke="#8c94c0" stroke-width="1.0"/>
<line x1="310.4" y1="356.5" x2="322.8" y2="356.5" stroke="#1a1a1a" stroke-width="1.25"/>
<line x1="310.4" y1="361.5" x2="322.8" y2="361.5" stroke="#1a1a1a" stroke-width="1.25"/>
<line x1="316.5" y1="356.72" x2="316.5" y2="361.26" stroke="#1a1a1a" stroke-width="0.9"/>
<line x1="276.8" y1="344.5" x2="316.1" y2="344.5" stroke="#222" stroke-width="1.0"/>
<text x="296.45" y="342.7" font-size="5.5" fill="#1c1c1c" text-anchor="middle">****</text>
<line x1="382.5" y1="333.2" x2="382.5" y2="436.6" stroke="#1e1e1e" stroke-width="1.3"/>
<line x1="379.5" y1="436.5" x2="382.5" y2="436.5" stroke="#1e1e1e" stroke-width="1.0"/>
<text x="376.6" y="438.25" font-size="6.3" fill="#1c1c1c" text-anchor="end">0</text>
<line x1="379.5" y1="410.5" x2="382.5" y2="410.5" stroke="#1e1e1e" stroke-width="1.0"/>
<text x="376.6" y="412.85" font-size="6.3" fill="#1c1c1c" text-anchor="end">1000</text>
<line x1="379.5" y1="385.5" x2="382.5" y2="385.5" stroke="#1e1e1e" stroke-width="1.0"/>
<text x="376.6" y="387.45" font-size="6.3" fill="#1c1c1c" text-anchor="end">2000</text>
<line x1="379.5" y1="359.5" x2="382.5" y2="359.5" stroke="#1e1e1e" stroke-width="1.0"/>
<text x="376.6" y="362.05" font-size="6.3" fill="#1c1c1c" text-anchor="end">3000</text>
<line x1="379.5" y1="334.5" x2="382.5" y2="334.5" stroke="#1e1e1e" stroke-width="1.0"/>
<text x="376.6" y="336.65" font-size="6.3" fill="#1c1c1c" text-anchor="end">4000</text>
<line x1="381.9" y1="436.5" x2="466" y2="436.5" stroke="#1e1e1e" stroke-width="1.3"/>
<line x1="406.5" y1="436" x2="406.5" y2="439" stroke="#1e1e1e" stroke-width="1.0"/>
<line x1="442.5" y1="436" x2="442.5" y2="439" stroke="#1e1e1e" stroke-width="1.0"/>
<text x="424.7" y="447.7" font-size="6.25" fill="#1c1c1c" text-anchor="middle" textLength="71.3" lengthAdjust="spacingAndGlyphs">Low NKG2A High NKG2A</text>
<text x="406.6" y="455.5" font-size="6.25" fill="#1c1c1c" text-anchor="middle">440T/T</text>
<text x="442.8" y="455.5" font-size="6.25" fill="#1c1c1c" text-anchor="middle">440C/C</text>
<text x="357.52" y="383.5" font-size="8.1" fill="#1c1c1c" text-anchor="middle" stroke="#1c1c1c" stroke-width="0.38" textLength="63.4" lengthAdjust="spacingAndGlyphs" transform="rotate(-90 357.52 383.5)">MFI of NKG2A<tspan baseline-shift="super" font-size="4.6">+</tspan> NK cells</text>
<circle cx="402.6" cy="392.82" r="0.85" fill="#222"/>
<circle cx="406.6" cy="391.55" r="0.85" fill="#222"/>
<circle cx="410.6" cy="392.82" r="0.85" fill="#222"/>
<circle cx="404.6" cy="402.98" r="0.85" fill="#222"/>
<circle cx="408.6" cy="401.71" r="0.85" fill="#222"/>
<circle cx="403.6" cy="396.38" r="0.85" fill="#222"/>
<circle cx="409.6" cy="396.38" r="0.85" fill="#222"/>
<line x1="394.6" y1="396.5" x2="418.6" y2="396.5" stroke="#9584a8" stroke-width="1.4"/>
<line x1="400.4" y1="394.5" x2="412.8" y2="394.5" stroke="#1a1a1a" stroke-width="1.25"/>
<line x1="400.4" y1="398.5" x2="412.8" y2="398.5" stroke="#1a1a1a" stroke-width="1.25"/>
<line x1="406.5" y1="394.34" x2="406.5" y2="398.41" stroke="#1a1a1a" stroke-width="0.9"/>
<circle cx="442.8" cy="347.1" r="0.8" fill="#666"/>
<circle cx="442.8" cy="350.91" r="0.8" fill="#666"/>
<circle cx="442.8" cy="380.12" r="0.8" fill="#666"/>
<circle cx="442.8" cy="382.66" r="0.8" fill="#666"/>
<circle cx="442.8" cy="385.2" r="0.8" fill="#666"/>
<line x1="431.1" y1="368.5" x2="454.5" y2="368.5" stroke="#8c94c0" stroke-width="1.0"/>
<line x1="436.6" y1="362.5" x2="449" y2="362.5" stroke="#1a1a1a" stroke-width="1.25"/>
<line x1="436.6" y1="374.5" x2="449" y2="374.5" stroke="#1a1a1a" stroke-width="1.25"/>
<line x1="442.5" y1="362.85" x2="442.5" y2="374.53" stroke="#1a1a1a" stroke-width="0.9"/>
<line x1="403.3" y1="338.5" x2="442.7" y2="338.5" stroke="#222" stroke-width="1.0"/>
<text x="423" y="336.8" font-size="5.5" fill="#1c1c1c" text-anchor="middle">***</text>
<line x1="256.5" y1="476.9" x2="256.5" y2="579.1" stroke="#1e1e1e" stroke-width="1.3"/>
<line x1="253.3" y1="578.5" x2="256.3" y2="578.5" stroke="#1e1e1e" stroke-width="1.0"/>
<text x="250.4" y="580.75" font-size="6.3" fill="#1c1c1c" text-anchor="end">0</text>
<line x1="253.3" y1="553.5" x2="256.3" y2="553.5" stroke="#1e1e1e" stroke-width="1.0"/>
<text x="250.4" y="555.65" font-size="6.3" fill="#1c1c1c" text-anchor="end">20</text>
<line x1="253.3" y1="528.5" x2="256.3" y2="528.5" stroke="#1e1e1e" stroke-width="1.0"/>
<text x="250.4" y="530.55" font-size="6.3" fill="#1c1c1c" text-anchor="end">40</text>
<line x1="253.3" y1="503.5" x2="256.3" y2="503.5" stroke="#1e1e1e" stroke-width="1.0"/>
<text x="250.4" y="505.45" font-size="6.3" fill="#1c1c1c" text-anchor="end">60</text>
<line x1="253.3" y1="478.5" x2="256.3" y2="478.5" stroke="#1e1e1e" stroke-width="1.0"/>
<text x="250.4" y="480.35" font-size="6.3" fill="#1c1c1c" text-anchor="end">80</text>
<line x1="255.7" y1="578.5" x2="337" y2="578.5" stroke="#1e1e1e" stroke-width="1.3"/>
<line x1="280.5" y1="578.5" x2="280.5" y2="581.5" stroke="#1e1e1e" stroke-width="1.0"/>
<line x1="316.5" y1="578.5" x2="316.5" y2="581.5" stroke="#1e1e1e" stroke-width="1.0"/>
<text x="298.6" y="590.2" font-size="6.25" fill="#1c1c1c" text-anchor="middle" textLength="71.3" lengthAdjust="spacingAndGlyphs">Low NKG2A High NKG2A</text>
<text x="280.6" y="598" font-size="6.25" fill="#1c1c1c" text-anchor="middle">440T/T</text>
<text x="316.6" y="598" font-size="6.25" fill="#1c1c1c" text-anchor="middle">440C/C</text>
<text x="238.52" y="526.5" font-size="8.1" fill="#1c1c1c" text-anchor="middle" stroke="#1c1c1c" stroke-width="0.38" textLength="71.7" lengthAdjust="spacingAndGlyphs" transform="rotate(-90 238.52 526.5)">Percent inhibition of CD107a</text>
<circle cx="280.6" cy="517.63" r="0.85" fill="#222"/>
<circle cx="280.6" cy="534.58" r="0.85" fill="#222"/>
<circle cx="281.6" cy="537.09" r="0.85" fill="#222"/>
<circle cx="278.6" cy="535.83" r="0.85" fill="#222"/>
<circle cx="282.6" cy="533.32" r="0.85" fill="#222"/>
<line x1="267.6" y1="531.5" x2="293.6" y2="531.5" stroke="#9584a8" stroke-width="1.4"/>
<line x1="274.4" y1="529.5" x2="286.8" y2="529.5" stroke="#1a1a1a" stroke-width="1.25"/>
<line x1="274.4" y1="533.5" x2="286.8" y2="533.5" stroke="#1a1a1a" stroke-width="1.25"/>
<line x1="280.5" y1="529.3" x2="280.5" y2="533.57" stroke="#1a1a1a" stroke-width="0.9"/>
<circle cx="316.6" cy="490.65" r="0.8" fill="#666"/>
<circle cx="319.6" cy="496.93" r="0.8" fill="#666"/>
<circle cx="316.6" cy="521.4" r="0.8" fill="#666"/>
<circle cx="318.6" cy="501.95" r="0.8" fill="#666"/>
<line x1="304.6" y1="503.5" x2="328.6" y2="503.5" stroke="#8c94c0" stroke-width="1.0"/>
<line x1="310.4" y1="499.5" x2="322.8" y2="499.5" stroke="#1a1a1a" stroke-width="1.25"/>
<line x1="310.4" y1="506.5" x2="322.8" y2="506.5" stroke="#1a1a1a" stroke-width="1.25"/>
<line x1="316.5" y1="499.44" x2="316.5" y2="506.97" stroke="#1a1a1a" stroke-width="0.9"/>
<line x1="277.7" y1="485.5" x2="317" y2="485.5" stroke="#222" stroke-width="1.0"/>
<text x="297.35" y="483.5" font-size="5.5" fill="#1c1c1c" text-anchor="middle">****</text>
<line x1="382.5" y1="476.9" x2="382.5" y2="579.1" stroke="#1e1e1e" stroke-width="1.3"/>
<line x1="379.3" y1="578.5" x2="382.3" y2="578.5" stroke="#1e1e1e" stroke-width="1.0"/>
<text x="376.4" y="580.75" font-size="6.3" fill="#1c1c1c" text-anchor="end">0</text>
<line x1="379.3" y1="553.5" x2="382.3" y2="553.5" stroke="#1e1e1e" stroke-width="1.0"/>
<text x="376.4" y="555.65" font-size="6.3" fill="#1c1c1c" text-anchor="end">20</text>
<line x1="379.3" y1="528.5" x2="382.3" y2="528.5" stroke="#1e1e1e" stroke-width="1.0"/>
<text x="376.4" y="530.55" font-size="6.3" fill="#1c1c1c" text-anchor="end">40</text>
<line x1="379.3" y1="503.5" x2="382.3" y2="503.5" stroke="#1e1e1e" stroke-width="1.0"/>
<text x="376.4" y="505.45" font-size="6.3" fill="#1c1c1c" text-anchor="end">60</text>
<line x1="379.3" y1="478.5" x2="382.3" y2="478.5" stroke="#1e1e1e" stroke-width="1.0"/>
<text x="376.4" y="480.35" font-size="6.3" fill="#1c1c1c" text-anchor="end">80</text>
<line x1="381.7" y1="578.5" x2="466" y2="578.5" stroke="#1e1e1e" stroke-width="1.3"/>
<line x1="406.5" y1="578.5" x2="406.5" y2="581.5" stroke="#1e1e1e" stroke-width="1.0"/>
<line x1="443.5" y1="578.5" x2="443.5" y2="581.5" stroke="#1e1e1e" stroke-width="1.0"/>
<text x="424.8" y="590.2" font-size="6.25" fill="#1c1c1c" text-anchor="middle" textLength="71.3" lengthAdjust="spacingAndGlyphs">Low NKG2A High NKG2A</text>
<text x="406.6" y="598" font-size="6.25" fill="#1c1c1c" text-anchor="middle">440T/T</text>
<text x="443" y="598" font-size="6.25" fill="#1c1c1c" text-anchor="middle">440C/C</text>
<text x="364.52" y="526.5" font-size="8.1" fill="#1c1c1c" text-anchor="middle" stroke="#1c1c1c" stroke-width="0.38" textLength="65.5" lengthAdjust="spacingAndGlyphs" transform="rotate(-90 364.52 526.5)">Percent inhibition of IFN&#947;</text>
<circle cx="402.6" cy="514.5" r="0.85" fill="#222"/>
<circle cx="406.6" cy="517" r="0.85" fill="#222"/>
<circle cx="405.6" cy="519.51" r="0.85" fill="#222"/>
<circle cx="401.6" cy="538.34" r="0.85" fill="#222"/>
<circle cx="406.6" cy="538.34" r="0.85" fill="#222"/>
<circle cx="411.6" cy="538.34" r="0.85" fill="#222"/>
<circle cx="403.6" cy="536.46" r="0.85" fill="#222"/>
<circle cx="409.6" cy="536.46" r="0.85" fill="#222"/>
<line x1="394.6" y1="529.5" x2="418.6" y2="529.5" stroke="#9584a8" stroke-width="1.4"/>
<line x1="400.4" y1="525.5" x2="412.8" y2="525.5" stroke="#1a1a1a" stroke-width="1.25"/>
<line x1="400.4" y1="533.5" x2="412.8" y2="533.5" stroke="#1a1a1a" stroke-width="1.25"/>
<line x1="406.5" y1="525.79" x2="406.5" y2="533.32" stroke="#1a1a1a" stroke-width="0.9"/>
<circle cx="443" cy="481.87" r="0.8" fill="#666"/>
<circle cx="443" cy="485.63" r="0.8" fill="#666"/>
<circle cx="443" cy="497.55" r="0.8" fill="#666"/>
<circle cx="443" cy="509.48" r="0.8" fill="#666"/>
<line x1="432.3" y1="491.5" x2="453.7" y2="491.5" stroke="#8c94c0" stroke-width="1.0"/>
<line x1="436.8" y1="487.5" x2="449.2" y2="487.5" stroke="#1a1a1a" stroke-width="1.25"/>
<line x1="436.8" y1="495.5" x2="449.2" y2="495.5" stroke="#1a1a1a" stroke-width="1.25"/>
<line x1="443.5" y1="487.26" x2="443.5" y2="495.29" stroke="#1a1a1a" stroke-width="0.9"/>
<line x1="403.8" y1="478.5" x2="442.4" y2="478.5" stroke="#222" stroke-width="1.0"/>
<text x="423.1" y="477" font-size="5.5" fill="#1c1c1c" text-anchor="middle">****</text>
</svg></body></html>
